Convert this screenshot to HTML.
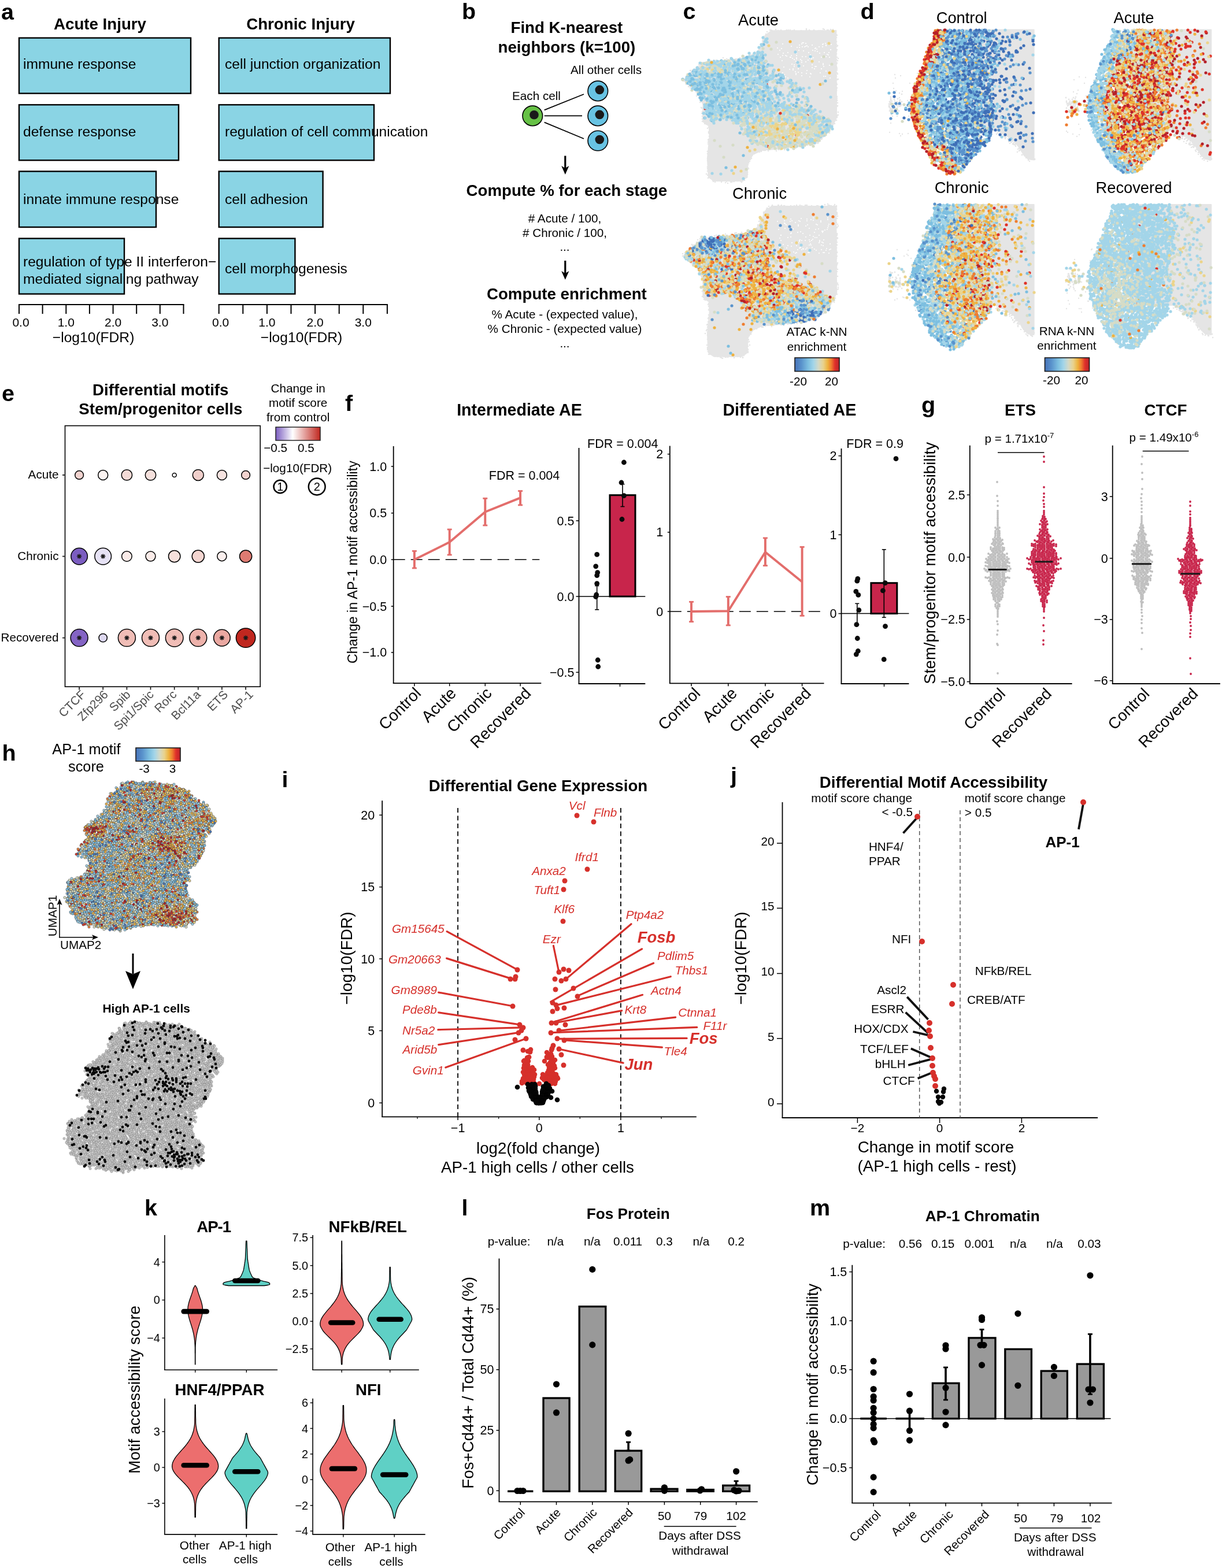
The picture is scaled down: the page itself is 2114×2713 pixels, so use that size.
<!DOCTYPE html>
<html lang="en"><head><meta charset="utf-8"><title>Figure</title>
<style>
html,body{margin:0;padding:0;background:#fff}
body{width:2114px;height:2713px;overflow:hidden}
svg{display:block;font-family:"Liberation Sans", sans-serif}
.d{fill:none;stroke-linecap:round}
.ma{fill:none;marker:url(#ma)}
.mb{fill:none;marker:url(#mb)}
.mc{fill:none;marker:url(#mc)}
.md{fill:none;marker:url(#md)}
.me{fill:none;marker:url(#me)}
.mf{fill:none;marker:url(#mf)}
.mg{fill:none;marker:url(#mg)}
.mh{fill:none;marker:url(#mh)}
.mi{fill:none;marker:url(#mi)}
.mj{fill:none;marker:url(#mj)}
.mk{fill:none;marker:url(#mk)}
.ml{fill:none;marker:url(#ml)}
.mm{fill:none;marker:url(#mm)}
.mn{fill:none;marker:url(#mn)}
.mo{fill:none;marker:url(#mo)}
.mp{fill:none;marker:url(#mp)}
.mq{fill:none;marker:url(#mq)}
.mr{fill:none;marker:url(#mr)}
.ms{fill:none;marker:url(#ms)}
.mt{fill:none;marker:url(#mt)}
.mu{fill:none;marker:url(#mu)}
.mv{fill:none;marker:url(#mv)}
.mw{fill:none;marker:url(#mw)}
.mx{fill:none;marker:url(#mx)}
.my{fill:none;marker:url(#my)}
.mz{fill:none;marker:url(#mz)}
.maa{fill:none;marker:url(#maa)}
.mab{fill:none;marker:url(#mab)}
.mac{fill:none;marker:url(#mac)}
.mad{fill:none;marker:url(#mad)}
.mae{fill:none;marker:url(#mae)}
.maf{fill:none;marker:url(#maf)}
</style></head><body>
<svg width="2114" height="2713" viewBox="0 0 2114 2713">
<rect width="2114" height="2713" fill="#fff"/>
<defs>
<linearGradient id="gRYB"><stop offset="0" stop-color="#4672b8"/><stop offset=".15" stop-color="#5a93cc"/><stop offset=".3" stop-color="#7dbfe0"/><stop offset=".42" stop-color="#a3d5e9"/><stop offset=".53" stop-color="#d3d9c8"/><stop offset=".64" stop-color="#e9d28c"/><stop offset=".74" stop-color="#edb23e"/><stop offset=".82" stop-color="#ee7d30"/><stop offset=".9" stop-color="#e0302a"/><stop offset="1" stop-color="#b8222a"/></linearGradient>
<linearGradient id="gPWR"><stop offset="0" stop-color="#7b5dc0"/><stop offset=".38" stop-color="#ffffff"/><stop offset="1" stop-color="#c0271f"/></linearGradient>
<marker id="ma" markerWidth="3.6" markerHeight="3.6" refX="1.8" refY="1.8" markerUnits="userSpaceOnUse"><circle cx="1.8" cy="1.8" r="1.3" fill="#e5e5e5"/></marker>
<marker id="mb" markerWidth="3" markerHeight="3" refX="1.5" refY="1.5" markerUnits="userSpaceOnUse"><circle cx="1.5" cy="1.5" r="1" fill="#fff"/></marker>
<marker id="mc" markerWidth="6.2" markerHeight="6.2" refX="3.1" refY="3.1" markerUnits="userSpaceOnUse"><circle cx="3.1" cy="3.1" r="2.6" fill="#df3228"/></marker>
<marker id="md" markerWidth="6.2" markerHeight="6.2" refX="3.1" refY="3.1" markerUnits="userSpaceOnUse"><circle cx="3.1" cy="3.1" r="2.6" fill="#ecd48a"/></marker>
<marker id="me" markerWidth="6.2" markerHeight="6.2" refX="3.1" refY="3.1" markerUnits="userSpaceOnUse"><circle cx="3.1" cy="3.1" r="2.6" fill="#7dbfe0"/></marker>
<marker id="mf" markerWidth="6.2" markerHeight="6.2" refX="3.1" refY="3.1" markerUnits="userSpaceOnUse"><circle cx="3.1" cy="3.1" r="2.6" fill="#d6dcc6"/></marker>
<marker id="mg" markerWidth="6.2" markerHeight="6.2" refX="3.1" refY="3.1" markerUnits="userSpaceOnUse"><circle cx="3.1" cy="3.1" r="2.6" fill="#a3d5e9"/></marker>
<marker id="mh" markerWidth="6.2" markerHeight="6.2" refX="3.1" refY="3.1" markerUnits="userSpaceOnUse"><circle cx="3.1" cy="3.1" r="2.6" fill="#eeb240"/></marker>
<marker id="mi" markerWidth="6.2" markerHeight="6.2" refX="3.1" refY="3.1" markerUnits="userSpaceOnUse"><circle cx="3.1" cy="3.1" r="2.6" fill="#b5202a"/></marker>
<marker id="mj" markerWidth="6.2" markerHeight="6.2" refX="3.1" refY="3.1" markerUnits="userSpaceOnUse"><circle cx="3.1" cy="3.1" r="2.6" fill="#3f6fb7"/></marker>
<marker id="mk" markerWidth="6.2" markerHeight="6.2" refX="3.1" refY="3.1" markerUnits="userSpaceOnUse"><circle cx="3.1" cy="3.1" r="2.6" fill="#5a93cc"/></marker>
<marker id="ml" markerWidth="6.2" markerHeight="6.2" refX="3.1" refY="3.1" markerUnits="userSpaceOnUse"><circle cx="3.1" cy="3.1" r="2.6" fill="#ee7d30"/></marker>
<marker id="mm" markerWidth="3.8" markerHeight="3.8" refX="1.9" refY="1.9" markerUnits="userSpaceOnUse"><circle cx="1.9" cy="1.9" r="1.4" fill="#e5e5e5"/></marker>
<marker id="mn" markerWidth="3.4" markerHeight="3.4" refX="1.7" refY="1.7" markerUnits="userSpaceOnUse"><circle cx="1.7" cy="1.7" r="1.2" fill="#e5e5e5"/></marker>
<marker id="mo" markerWidth="4.9" markerHeight="4.9" refX="2.5" refY="2.5" markerUnits="userSpaceOnUse"><circle cx="2.5" cy="2.5" r="1.9" fill="#bebebe"/></marker>
<marker id="mp" markerWidth="4.9" markerHeight="4.9" refX="2.5" refY="2.5" markerUnits="userSpaceOnUse"><circle cx="2.5" cy="2.5" r="1.9" fill="#c8254b"/></marker>
<marker id="mq" markerWidth="6.4" markerHeight="6.4" refX="3.2" refY="3.2" markerUnits="userSpaceOnUse"><circle cx="3.2" cy="3.2" r="2.1" fill="#ee8136" stroke="#30353f" stroke-width="0.55"/></marker>
<marker id="mr" markerWidth="6.4" markerHeight="6.4" refX="3.2" refY="3.2" markerUnits="userSpaceOnUse"><circle cx="3.2" cy="3.2" r="2.1" fill="#dfe3c4" stroke="#30353f" stroke-width="0.55"/></marker>
<marker id="ms" markerWidth="6.4" markerHeight="6.4" refX="3.2" refY="3.2" markerUnits="userSpaceOnUse"><circle cx="3.2" cy="3.2" r="2.1" fill="#f0b544" stroke="#30353f" stroke-width="0.55"/></marker>
<marker id="mt" markerWidth="6.4" markerHeight="6.4" refX="3.2" refY="3.2" markerUnits="userSpaceOnUse"><circle cx="3.2" cy="3.2" r="2.1" fill="#f0d684" stroke="#30353f" stroke-width="0.55"/></marker>
<marker id="mu" markerWidth="6.4" markerHeight="6.4" refX="3.2" refY="3.2" markerUnits="userSpaceOnUse"><circle cx="3.2" cy="3.2" r="2.1" fill="#4a78bc" stroke="#30353f" stroke-width="0.55"/></marker>
<marker id="mv" markerWidth="6.4" markerHeight="6.4" refX="3.2" refY="3.2" markerUnits="userSpaceOnUse"><circle cx="3.2" cy="3.2" r="2.1" fill="#d93a2a" stroke="#30353f" stroke-width="0.55"/></marker>
<marker id="mw" markerWidth="6.4" markerHeight="6.4" refX="3.2" refY="3.2" markerUnits="userSpaceOnUse"><circle cx="3.2" cy="3.2" r="2.1" fill="#b02024" stroke="#30353f" stroke-width="0.55"/></marker>
<marker id="mx" markerWidth="6.4" markerHeight="6.4" refX="3.2" refY="3.2" markerUnits="userSpaceOnUse"><circle cx="3.2" cy="3.2" r="2.1" fill="#7dbfe0" stroke="#30353f" stroke-width="0.55"/></marker>
<marker id="my" markerWidth="6.4" markerHeight="6.4" refX="3.2" refY="3.2" markerUnits="userSpaceOnUse"><circle cx="3.2" cy="3.2" r="2.1" fill="#a3d5e9" stroke="#30353f" stroke-width="0.55"/></marker>
<marker id="mz" markerWidth="6.3" markerHeight="6.3" refX="3.1" refY="3.1" markerUnits="userSpaceOnUse"><circle cx="3.1" cy="3.1" r="2.1" fill="#c6c6c6" stroke="#777" stroke-width="0.5"/></marker>
<marker id="maa" markerWidth="5.8" markerHeight="5.8" refX="2.9" refY="2.9" markerUnits="userSpaceOnUse"><circle cx="2.9" cy="2.9" r="2.4" fill="#0a0a0a"/></marker>
<marker id="mab" markerWidth="9.6" markerHeight="9.6" refX="4.8" refY="4.8" markerUnits="userSpaceOnUse"><circle cx="4.8" cy="4.8" r="4.3" fill="#d6302b"/></marker>
<marker id="mac" markerWidth="9.6" markerHeight="9.6" refX="4.8" refY="4.8" markerUnits="userSpaceOnUse"><circle cx="4.8" cy="4.8" r="4.3" fill="#050505"/></marker>
<marker id="mad" markerWidth="10" markerHeight="10" refX="5" refY="5" markerUnits="userSpaceOnUse"><circle cx="5" cy="5" r="4.5" fill="#d6302b"/></marker>
<marker id="mae" markerWidth="9.4" markerHeight="9.4" refX="4.7" refY="4.7" markerUnits="userSpaceOnUse"><circle cx="4.7" cy="4.7" r="4.2" fill="#050505"/></marker>
<marker id="maf" markerWidth="11" markerHeight="11" refX="5.5" refY="5.5" markerUnits="userSpaceOnUse"><circle cx="5.5" cy="5.5" r="5" fill="#d6302b"/></marker>
</defs>
<g id="pa">
<text x="2" y="33.5" font-size="39.5" font-weight="bold">a</text>
<text x="173" y="51" font-size="27.7" text-anchor="middle" font-weight="bold">Acute Injury</text>
<text x="520" y="51" font-size="27.7" text-anchor="middle" font-weight="bold">Chronic Injury</text>
<rect x="33" y="65.6" width="297" height="96" fill="#8ad4e4" stroke="#000" stroke-width="2.4"/>
<rect x="378.7" y="65.6" width="296.3" height="96" fill="#8ad4e4" stroke="#000" stroke-width="2.4"/>
<rect x="33" y="181.3" width="276" height="96" fill="#8ad4e4" stroke="#000" stroke-width="2.4"/>
<rect x="378.7" y="181.3" width="268.3" height="96" fill="#8ad4e4" stroke="#000" stroke-width="2.4"/>
<rect x="33" y="296.5" width="237" height="96.5" fill="#8ad4e4" stroke="#000" stroke-width="2.4"/>
<rect x="378.7" y="296.5" width="179.9" height="96.5" fill="#8ad4e4" stroke="#000" stroke-width="2.4"/>
<rect x="33" y="412.6" width="182" height="96" fill="#8ad4e4" stroke="#000" stroke-width="2.4"/>
<rect x="378.7" y="412.6" width="131.7" height="96" fill="#8ad4e4" stroke="#000" stroke-width="2.4"/>
<text x="40" y="119" font-size="24.6">immune response</text>
<text x="40" y="236" font-size="24.6">defense response</text>
<text x="40" y="353" font-size="24.6">innate immune response</text>
<text x="40" y="461" font-size="24.6">regulation of type II interferon−</text>
<text x="40" y="491" font-size="24.6">mediated signaling pathway</text>
<text x="389" y="119" font-size="24.6">cell junction organization</text>
<text x="389" y="236" font-size="24.6">regulation of cell communication</text>
<text x="389" y="353" font-size="24.6">cell adhesion</text>
<text x="389" y="473" font-size="24.6">cell morphogenesis</text>
<line x1="32" y1="527" x2="318.5" y2="527" stroke="#000" stroke-width="2"/>
<line x1="33" y1="527" x2="33" y2="543" stroke="#000" stroke-width="2"/>
<line x1="73.6" y1="527" x2="73.6" y2="543" stroke="#000" stroke-width="2"/>
<line x1="114.3" y1="527" x2="114.3" y2="543" stroke="#000" stroke-width="2"/>
<line x1="154.9" y1="527" x2="154.9" y2="543" stroke="#000" stroke-width="2"/>
<line x1="195.6" y1="527" x2="195.6" y2="543" stroke="#000" stroke-width="2"/>
<line x1="236.2" y1="527" x2="236.2" y2="543" stroke="#000" stroke-width="2"/>
<line x1="276.8" y1="527" x2="276.8" y2="543" stroke="#000" stroke-width="2"/>
<line x1="317.5" y1="527" x2="317.5" y2="543" stroke="#000" stroke-width="2"/>
<text x="36" y="565" font-size="21" text-anchor="middle">0.0</text>
<text x="114.3" y="565" font-size="21" text-anchor="middle">1.0</text>
<text x="195.6" y="565" font-size="21" text-anchor="middle">2.0</text>
<text x="276.8" y="565" font-size="21" text-anchor="middle">3.0</text>
<text x="161.6" y="591.5" font-size="24.6" text-anchor="middle">−log10(FDR)</text>
<line x1="377.7" y1="527" x2="670.9" y2="527" stroke="#000" stroke-width="2"/>
<line x1="378.7" y1="527" x2="378.7" y2="543" stroke="#000" stroke-width="2"/>
<line x1="420.3" y1="527" x2="420.3" y2="543" stroke="#000" stroke-width="2"/>
<line x1="461.9" y1="527" x2="461.9" y2="543" stroke="#000" stroke-width="2"/>
<line x1="503.5" y1="527" x2="503.5" y2="543" stroke="#000" stroke-width="2"/>
<line x1="545.1" y1="527" x2="545.1" y2="543" stroke="#000" stroke-width="2"/>
<line x1="586.7" y1="527" x2="586.7" y2="543" stroke="#000" stroke-width="2"/>
<line x1="628.3" y1="527" x2="628.3" y2="543" stroke="#000" stroke-width="2"/>
<line x1="669.9" y1="527" x2="669.9" y2="543" stroke="#000" stroke-width="2"/>
<text x="381.7" y="565" font-size="21" text-anchor="middle">0.0</text>
<text x="461.9" y="565" font-size="21" text-anchor="middle">1.0</text>
<text x="545.1" y="565" font-size="21" text-anchor="middle">2.0</text>
<text x="628.3" y="565" font-size="21" text-anchor="middle">3.0</text>
<text x="521.5" y="591.5" font-size="24.6" text-anchor="middle">−log10(FDR)</text>
</g>
<g id="pb">
<text x="799" y="32.6" font-size="39.5" font-weight="bold">b</text>
<text x="980.4" y="57.4" font-size="27.7" text-anchor="middle" font-weight="bold">Find K-nearest</text>
<text x="980.4" y="91.3" font-size="27.7" text-anchor="middle" font-weight="bold">neighbors (k=100)</text>
<text x="987" y="128" font-size="20.7">All other cells</text>
<text x="886" y="172.6" font-size="20.7">Each cell</text>
<line x1="941.7" y1="190.4" x2="1010" y2="163" stroke="#000" stroke-width="1.8"/>
<line x1="941.7" y1="200.4" x2="1007" y2="200.4" stroke="#000" stroke-width="1.8"/>
<line x1="941.7" y1="211.7" x2="1010" y2="240" stroke="#000" stroke-width="1.8"/>
<circle cx="921.3" cy="200.4" r="17.3" fill="#66c146" stroke="#000" stroke-width="1.6"/>
<circle cx="924" cy="198.7" r="7.8" fill="#1a1a1a"/>
<circle cx="1034.3" cy="157.4" r="17.3" fill="#68c3e3" stroke="#000" stroke-width="1.6"/>
<circle cx="1037.3" cy="155.4" r="7.8" fill="#1a1a1a"/>
<circle cx="1034.3" cy="200.4" r="17.3" fill="#68c3e3" stroke="#000" stroke-width="1.6"/>
<circle cx="1037.3" cy="198.4" r="7.8" fill="#1a1a1a"/>
<circle cx="1034.3" cy="243.5" r="17.3" fill="#68c3e3" stroke="#000" stroke-width="1.6"/>
<circle cx="1037.3" cy="241.5" r="7.8" fill="#1a1a1a"/>
<line x1="977.8" y1="269.6" x2="977.8" y2="291" stroke="#000" stroke-width="3.2"/>
<path d="M977.8 302L971.2 287L977.8 291L984.4 287Z" fill="#000"/>
<text x="980.4" y="339" font-size="27.7" text-anchor="middle" font-weight="bold">Compute % for each stage</text>
<text x="977" y="384.8" font-size="20.7" text-anchor="middle"># Acute / 100,</text>
<text x="977" y="409.6" font-size="20.7" text-anchor="middle"># Chronic / 100,</text>
<text x="977" y="434" font-size="20.7" text-anchor="middle">...</text>
<line x1="977.8" y1="451" x2="977.8" y2="473" stroke="#000" stroke-width="3.2"/>
<path d="M977.8 484L971.2 469L977.8 473L984.4 469Z" fill="#000"/>
<text x="980.4" y="518" font-size="27.7" text-anchor="middle" font-weight="bold">Compute enrichment</text>
<text x="977" y="551" font-size="20.7" text-anchor="middle">% Acute - (expected value),</text>
<text x="977" y="576" font-size="20.7" text-anchor="middle">% Chronic - (expected value)</text>
<text x="977" y="601" font-size="20.7" text-anchor="middle">...</text>
</g>
<g id="pc">
<text x="1181.5" y="32.6" font-size="39.5" font-weight="bold">c</text>
<text x="1312" y="43.5" font-size="27.3" text-anchor="middle">Acute</text>
<text x="1314" y="343.5" font-size="27.3" text-anchor="middle">Chronic</text>
<path d="M1334.9 53.3L1446.2 53.3L1447.1 203L1440.1 218L1430.7 229.3L1411.9 248.1L1376.2 253.7L1348 257.5L1319.8 259.4L1302.9 266.9L1293.5 280.1L1292.5 306.4L1282.2 313L1235.2 313L1225.8 306.4L1223.9 274.4L1227.7 236.8L1226.7 218L1216.4 210.5L1216.4 180.4L1205.1 157.8L1182.6 139L1197.6 124L1216.4 109L1254 105.2L1291.6 99.6L1310.4 90.2L1317.9 77L1323.6 61.6Z" fill="#e5e5e5" stroke="#e5e5e5" stroke-width="2" stroke-linejoin="round"/>
<path class="ma" d="M1332 52l2 1 0-1 1 1 1 0 6 1 0-3 3 2 1 0 1 0 0 1 1 0 3-2 1 2 5 0 2-1 1 1 1-2 1 1 2-1 1 2 2-2 4 2 0-1 2 1 1-2 3 2 8 0 1-1 3 1 4 0 2-2 0-2 3 4 2-2 1 1 2 1 3 0 2-2 1 1 5 1 2-1 2 0 1 1 1-1 1 1 2-1 1-3 2 1 5 1 2 0 3 2 1-3 1 1 1 1 2-2 2 3 3-1 0 2-1 0-3 1-11-1-4 0-16 0-2 0-7 1-14-1-1 1-4 0-4 0-1-1-1 3-12-1-32-1-6-1-2 4-4 4 4 0 3-3 1 1 2 1 113-2 1 0 1 3 1-3 1 1-1 4-2 2-1 2-120-3-4 2 0 1 0-3-1 5 2 0 124 2 1 0 1-1 2 7-2-2-2-2-126 2-1 1-1-2-3 6 2 2 0-1 1-1 127 0 3-2 1 0 0 6-1 1 0 2-1-2-132-1-2 1-1 2-8 4 0 1 3-1 0-2 0-1 4 1 1-1 133 3 2-3 0 4 1-1 1 6-5-3-141 0-1 3-2-3-1-1-1 0-3 2-5 2-2-2-2 1-50 6 4 0 12-4 6 2 2 1 3 1 4 0 5-1 2-1 2 2 0-1 5-3 1 2 5-1 2 0 1 1 2 2 154-3 2 2 3-2-1 4-1 4-1 0-3-3-166-1-9 0 0 0-4 0-2 0-7 1-3-1-1 1-1 0-2 0-2 2-2-3-3 3 0-1-5-2-1 1-3 0-3-1 0 4-3-3-2 1-1 2-7-1-2 1-1-1-5 4 5 0 0-1 4 0 3-1 2 0 7 0 216 4 1-3 1 7-1-3 0 1-240 2 0-3-1 1 0 0-1 3-1 0-10 3 1 0 3-1 2 1 4-2 240 3 2 1 2-3 1 7-1-2-2 0-250 0-1-1-2 4-2-1-4 4 1 1 2-2 255 3 0 0 1-3 1 1 3 5-1 0-1 1-2 1-257-3-1 0-1 2-2 1-3 1 1 0 1 0 3 3 2-2 257 3 1 0 1 2-2 0 0 2-251 1-3 0-1-3-4 0 0-1 4 5 3 2 3 1 0-3 3 3 247 1 1-2-1 4 0 1-1-2 0 1-2 1-239-2 0 1-1 3-3-4 0 0 6 8 1-3 238 4 2 3-1 1-234 1-3 0 0-4-1 0-4 1 5 5 3 2 231-3 1 1 2 2 1-3 0 3 0 1 1 4-2-1-1 2-229-3-4 0 0-1-2 2 6 3 1 1 230 3 0-1 1 0-3 5 0-2-1 3-228-4-1 4-2-2-1-1 2 7 2-1 0-2 228 1 1 2 1 0 3 1 0 5-1 0-4 0-227 0-1-1 0-1-3-1 1 5 1 3 230 0 2-3 0 2-1 5-1 0-3 1-224-3-1 3-3-3 0 4 1 0 3 4 0-2 1 2 221-2 0 0 1-1 2 3-5 1 0 4-212-2 0 0-5-2 2 7 2-2 2 4 0 0 0 0 205-2 0 1 5-3 1 0 0 2-4 3-2 4-5 0-200-4-2 3 0 2 1 1 1 3 199 0 1-1 1 0 6-3-8 5 0 1 0 0-3 1-2 2-194 0 0-2-1-1-2 6 1 2 0-3 190 3 3 0 2-3 1-1-6 6-1 2-3-1-2 2-1 0-1-2-5 1 0 0-11 0-9 0-152-2-4 3-2 0 0-3 2 7 139 1 3-1 1 0 0 1 8-1 2 1 1-2 0 1 7-2 4-1 0 1 1 2 4-2 1-1 4 0 1 1 3 0-19 4-10 1-1 0-2 0-2-1-11 3 0-1-1 0 0 1-3 1-3-3-1 1-3-1 0 3-2-4-1 1 0 3-3-4-2 3-1-2-4 2-2 0-2-2-1 0-3 1 0 0-9 0-6 2-87-4-1 1 0 0-2 6 0 0 2-2 3 1 74 3 7-2 1 0 1 0 2 1 3-1 1-2 3 0 2 0 0 0 1 0 5 1 14 0-38 5-2-1-2 2-1 2-72 0-2-3-2 0 0 8 1-1 0-1 0-2 74 0 0 0 0 2 1 2-2 2-1 3 0-4-72 3-1 0 1 3 1 2 0-2 69-1 0 2 0 0-1 3-2 2-64-2-3 0-1 4 0 0 0 3 1 1 66 0 2-2 0 2 1-3 1 2-2 6 0 0-4-1-61 2-2-4-2 1-2 5 2 2 2 0 1-3 2 4 64-3 0 1-1 4 0 1-1-1 0 0-3 3-2-1-14 1-41 0-1 0 0-1-5 0 8 4 1 2 0-1 1-1 6 1 2-1 1 1 1-1 3 0 2 1 3-1 1 0 1 0 2 1 0 1 4-1 7-3 1 4 1-3 0 3 5-1 1 0 1-1 5 0 0 2 3-1 3-1-5 3-17 0-2 0-5 2-4-1-7-1-11 0"/>
<path class="mb" d="M1388 74l2 0 48 3-4-2-5 3 0 1-1-4-4 1-1 1-18 1-9 1-2-4-7 1-4 2-29-2-9 7 7 1 17-4 10 2 4 0 5-1 4 0 2-1 4 1 12 3 1-1 6-2 6 0 14 5 0 0-23 3-1-4-3 3-4-1-16 1-8-1-33 0-3 7 9-2 8-1 15 1 21-1 19 1 8-1 5 3 3-3 1 8-2-4-4 3-8 1-19-4-8 3-6 0-10-2-9 0-1 3-1 0 0 0-6-2-2-1-5 0-4 3 21 2 3 2 4-1 0-2 7 3 13 1 3-3 3-1 0 2 3-2 10 7-23 0-7-2 0 3-10-2-24-1 17 6 4 1 16 2 15-2 19 0 0-2 11 3-10 2-4 4 0 0-9-4-2 0-1 4-4-2-24 2 0 0-7-4-2 4-16-3 10 4 6 1 4 3 20-2 33 1-10 3-16 2-1-1-7 0-8-1-6-1-4 2 0 2-20 0-3-3 1 6 4 1 28-2 14 2 24-1 3 0 8 3-73 0"/>
<path class="mc" d="M1315 129l78 62 26 13-41 30-50 19"/>
<path class="md" d="M1330 79l75 27-170 8 0-4 18 3 21 10 39 37 57 29-59 7 38 7 21-2 33 3 10 1-11 1-54 4 32 3 19-1 4 4-16 2-3-2-14 1-25 2-5-4-32 2 26 3 6 0 5 4 5-1 3 1 14-2 17 0 17-1 5 3 23 5-13 0-2-1-3 1-37-4-8 2-10 2-9-3 0-1-7 0-27 3-9 6 2-2 36 0 3-2 27 2 5-2 20 1-27 5-9-1-12 1-36-1 4 6 34 2 11 1 42 1-4 2-14-1-42 0-4 3-5-3-18 2 8 4 44 2-17 3-55 4-15 35"/>
<path class="me" d="M1321 77l-11 20 0 4-17 5 2 8 6-3 17 0-32 8-87 5 3-2 21 0 94 2 1 0 20-1-18 6-71-4-12 2-19 2-2-3 0 1-4 1-17 3 8 0 4 0 4 3 4-3 1 3 9-4 34 1 13-1 45 2 51 7-13-4-32 2-19 0-10 0 0 0-3 0-24 2-9-4-1 0-30 4-4-3-10 1-19 1-2 2 1 4 5-2 0-1 2 0 17 0 3 1 17 2 4-2 4-1 51 3 8-4 19 5-30 0-18 2-22-1-13 1-18-2-1 2-10 0-2 1 7 2 1 2 15-2 3 1 1 2 13-2 2 1 4 2 8-1 3 0 6-3 2 1 6-1 19 1 9 2 67 6-33 0-64-3-20 3-6-1-15-3-1 0-11 3-2 0-5 1 13 5 15-4 10 3 6-2 15 0 25 0 15 0 4 3 3-2 71 7-80 0-9-2-44-2-2 0-19 2-1 0-22 1-5 5 43 0 21 0 54-1-10 5-15 0-1 0-7 1-8-3-1 4 0-2-54 0 31 3 4 0 28 4 58-3 17 1 27 6-105-1-63 2-11-1 5 4 7-2 1 3 125-2 19 1-48 4-81 1-17-1-7 2-2-1 85 7-19 5-9 21 6 39-30 21"/>
<path class="mf" d="M1334 85l91 13-108 11-26-3-12 2-23 1-2-4-2 2-6 1-32 2 4 0 8 1 9 3 1-3 5 3 2 0 3-1 3-2 32 3 16 0 26 4-58-3-19 0-5 1-10-1-1 3-6 1-8-1-1 2 29 4 2-4 9 4 21-2 21 0 30 0 12 0-40 5-72-1-6 0-9-1 104 5 17 6-10 2-47-3-51 1-37 7 68 0 45 0 14 0 62 6-81-4-10 3-17 1-25-3 70 5 2 1-75 4 102 13-85 0-14-1 19 2 29 1 15 0 5-1 4 2 20-1 59 6-139 2 27 4 20-3 22 1 35 1 21 0 16-1-31 8-30-2-55 2-23-4-18 8 9 1 12-2 2-1 5 0 11 3 0-4 14 3 10-3 5 1 6 1 8 0 0 1 15-1 28-1 4 0 13 2 5-1 4 1 13 2-8 2-1 2-6 0-5-1-1-2-19 0-1 3-6-4-36 0-7 2 0-2-5 4-9-2-1 1-54-1-2 2-7 0 0-2-2 1 8 2 5 3 4 0 4-1 12 0 26 1 31 0 1-1 7 2 1-2 4 2 39-4 0 1 18-1 11 2 12-1 16 5-1 1-2 0-22 2-17-2-7 1-1-1-2 0-11 2-4-2-1 1-1-3-6 0 0 4-10-1-15-2-12 1-34 1-49-1 38 3 6 0 4 2 4-1 15 3 11-1 3-3 1 2 14 2 9-3 11 3 7-1 1-3 8 0 4 4 13-1 17 1 9-3 10 3 12 5-4-2-17 0-21 2-6 0 0 0-1-2-31-2-7 2-32-1-1 1-11 2-3-2 0-1-14 0 14 4 3 1 4 2 4-1 15-2 11 4 8-1 1 1 4 0 5-1 8 0 5 0 10-2 7-1 8 0 13 0 2 0 5 2 3 0 17 4-2 2-20-2-4-1-6 4-31-3-9 3-4 0-7-4-1 1-11-1-42 0-1 2-2 3 18 2 13 1 11-2 2 0 3 1 7 0 11 1 33 0 10-1 4 2 14-3 8 2-20 2-6 3-5 0-18-3-3 4-8-2-33 2-1-4-3 4-13 0 0-4-1 1 0 2-3-2-2-1-13 2 3 7 29-1 4-2 3 0 3 3 31-1 29-2 2-1 1 2 5 1 0-1 6 1-13 2-7 2-1-1 0 1-12 0-1 0-26 1-13 1-1-1-3-2-11 0 0 2-11-1-1 0-13 0-34 4 43-1 10 1 11 2 1-1 4 0 21 2 4-2 14 1 1-3 15 1 15 2-34 4-42 0"/>
<path class="mg" d="M1323 72l4 1-10 4-21 15 15 1 8-2 83 7-78-3-14 4 0-3-8 3-1-1-5 0-31 3 1 1 13 1 7-1 3-1 2 1 10 0 8-1 3 2 4 0 2 1 4 5-6-2-21-2-9 1-30 3-10 0-3-2-11 4 1 0 1 2 2 1 4-2 15 0 1 0 5 1 1-3 0 1 14 1 4 1 0-1 2 0 7 0 3 2 4-1 4 0 19-1-18 6-13-1-20 0 0 2-42-1-8 0-13 5 8-1 8 2 22 0 3 0 3 0 1-3 6 0 1 2 27 0 9 1 10-2 0-1 13 3 4 2-6 1-7 1-7-1-3 0-10 1 0 0-7 0-2 0-3 0-2 1-30-1-8-3-6 4-4 0-21-1-5-2-6 7 16-2 6 2 10-1 5 1 30 1 8-4 5 4 2-3 10 3 9-4 24 0 30 0 5 1 1-1 1 3-8 5-17-3-4 4-14-2-5-2-4 1-4 2-1-3-4 4-16-1-13 0-15-3-15 3-2 1-6-2-9 0-1 2-14-1-8 0-2 6 4-1 15 0 14 0 0-1 5 0 3 0 2 2 15 0 22-4 0 2 8-2 15 2 17 2 0-4 2 0 12 2 39 1 4 3-46 3-8-4-2 0-10 2-4-1-1 2-5-1-13 1-16-3-1 4-1 0-14 0-3-4-1 3-11 1-25-1-15-3 19 9 10-4 6 2 17-1 16 3 5 0 1-2 12 0 4 0 1 0 1-2 11 4 25-3 3 0 54 2 11 0-9 4-1 2-4-3-1 3-76-4-12 0-1 3-11-2-12 2-28-1-1 2-14 0-6-4-5 4 5 5 3-1 3-2 22 2 10-3 9 1 8-1 5 0 1 3 2 1 9-4 4 1 1 3 3 0 8 0 6 0 0-3 7 0 2 3 2-1 12 1 18-3 5 3 42 5-7-2-26-1-11-1-6 3-1 0-14-3-12 4-12-1 0-3-7 1-7 1-3 1-22 0-11-3-4 4-6 0-13-3-4 0-13 2-3-2 27 8 13-1 2-2 4 1 8 2 8-3 5-1 0 1 7 1 8 0 0-2 2 3 11-1 1 2 7 0 2-4 46 4-8 3-17-1-7 2 0-2-23-1-22 4-9-1-10-1-10-2-9 2-5 0-6 0-2 2-9-1-1-3-3 4 16 5 4 0 35-1 5 0 14-3 2 2 39 1 13-1 17-2 32 7-17 2-4-3-7 3-6-3-24 1-27 2-10-4-1 0-2 4-17-1-7-3-3 4-19-1-18 0-16-3-2 0 5 5 2 2 1 1 2-1 4-1 8 1 9 2 6-4 18 1 16 3 14-3 2 1 12 1 23 0 11-1 2 2 13-1 10-1 2 1 11-3 7 1 11-1 9 3-23 6-48-1-21-3-11 2-14-1-11 3-4-2-5 1-2 0-7-2-3 0-10-1-11 0-3 0-10 4-19-3 14 7 2-1 2 1 3-1 19 1 3 0 3-3 1 3 11-2 24 1 3-2 26 3 3 0 22-3 13 2 24 0 20-1 2-1 19 8-14-3-9 0-18 2-66-2-9 1-13-1-19 4-12-3-14 1-23-2-4 3 5 5 82-1 0-1 44 1 62-2 8 0 4 6-16 1-2 1-29 1-19-4-54 1-21 3-12-1 16 6 85 0 21-3 27 1-3 3-1 3-8-3-2 1-3-1-90 3-15 0 0-1-9 2-8-1 0 2 0 1 17 0 19-1 87 0-117 13 7 1 32-3 64 3 15-2-7 5-61 3 26 1 4 2-92 56"/>
<path class="mh" d="M1419 146l-60 68 4 14-26 16 68 0-31 9-81 2-21 34"/>
<path class="me" d="M1319 96l-3 2-24 3 15 3 18 2-13 2-26-2-2 1-26 0-10-2 5 5 37 2 7 1 15 1 17-2-8 3-1 4-44-2-5-2-13 3-28-2-23 3 54 5 24-3 6-1 8 4 13-1 2 0 2-1 32 7-30-2-32 2-23-2-5 1-10-2-3 0-11 1-17 0-1 0-5 2-5-1-1-3-16 8 5-3 6 1 13 2 15-2 1 1 40 2 4 0 42-2 2-1 12 7-12-3-2 0-40 1-7 1-6 1-10-2-11 0-6 1-15-1-21 1-18 0 9 7 16-1 6 0 4 0 0 1 9 0 2-4 19 1 21 1 9-2 3 3 7-2 16 2 3-3 1 1 3 2 8-3 5 3 1-1 22 1 5 0 78-3-146 8-39-1-16 2-2 0-3-2-2-2-5 0-9 3-4-2-3 0-4 1 24 4 15 0 7-1 6 1 4 2 3-2 5-1 3 2 17 0 9-1 19 0 16 0 62 4-60 2-11-1-7 0-27-1-3 2-21-1-2 3-4-1-4-1-3 1-7 1-3-2-4 1-10-1-1 2-6-3 94 5 28-1 10 3 5 0-55 4-16-1-6-1-3 4-1-4-8 4-12-1-5-1-19 7 8-1 8-2 15 2 0 0 2 0 15-3 3 4 15-2 23 0 66 0-44 7-35-4-1 0-50 0-14 2-6 2 16 2 0 1 4-2 2 1 2-1 8 1 17 3 4-4 11 4 53-1 49-1 8 2-119 3-16-1-3 0-33 1-5-1 17 5 12 2 79 0 2-2 66 6-107 0-10-1-14-1-43 4-10 5 74 0-61 5 203 2"/>
<path class="mh" d="M1347 121l88 5-237 21 25 33 104 32-15 21 54 3-6 6"/>
<path class="mc" d="M1326 146l-106 42 177 12-90 6"/>
<path class="md" d="M1441 54l-226 62 33 6 41 44 66 25 16 8-95-2 44 7 6-1 24-2 37 2 36 3-67 0-3 0-5 3-35 0-35-3 41 7 11-1 5-1 7 3 5-4 23 3 33-1-23 7-13-2-24 0-11 1-28 3 36 0 13-1 32 3 41-3-5 8-37-1-5 2-3-4-7 4-6-3-9 1-22-1-31 5 30-1 6 1 2 0 23-1 6 0 1 3 11 0 2 0 15 3-35 0-2 0-10 3-12-3-6 2-14-2 46 8 42 0 0 2-15 1-20-1-16-1-2 0-6 3 38 4-54 3"/>
<path class="mg" d="M1325 68l0 1-7 10-13 13 9-1 5-1 57 0-60 9-1 0-89 5 62-2 11-2 15 0 66 8-59 1-44-1 0-1-3 0-11 2-9-2-1 0-16 2-2-3-16 4 11 3 16 0 4-3 9 3 27-2 20 3 13 0 17-1-9 2-11 4-5-2-20 2-1-3-13 1-8-2-3 3-6-2-3 2-1-3-11 0-6 7 5 2 18-2 6 1 5 0 1-3 2 1 3-1 17 2 0 0 6-1 0 0 5-1 9 0 21 7-10-2-2 2-5-2-5 2-6-1-3 3-5-2-10 1-2 0 0 1-5-3-20 2-9-2-6 1-6-1-26 0-10 2-19 6 28-4 6 1 6 0 3 2 1-1 6-2 2 2 1-2 1 3 8 0 9 0 7-2 2 0 13 1 1-2 0 2 18-2 23 4 3-1 7-2 34 8-25 0-6-3-3 1-7 2-5 0-2-4-3 2-4-2-3 2-26 2-1-1-11 0-8-2-7 0-9 1-5 0-23 2-12-1-11 1 0-3 2 5 8 0 1 0 3 0 5 3 42 0 5-4 4 4 5-4 11 2 1 2 1-4 7 2 11 2 5-2 18 0 17-2 10 1 10 0 4 0 5 3-48 2-4 0-32-1-2 0-3 3-3-1-3 1-1-3-4 1-9 3-7-1-1-3-2 0-4 1-45 3-3 1 3 1 9-1 4 4 30-4 1 3 1 0 9 1 11 0 10-1 11 0 0-2 3 3 9-4 7 3 14-1 4-2 0 4 1-1 13-1 2-2 29 1 6 8-3 0-33-3-5 3-7-3-1 1-1 2-6 0-12-4-3 0 0 2-16-2 0 0-7 4-31-3-4-1 0 4-6-2-1-2-7 3-14-3-9 4-6-4 7 9 15-4 0 3 10-2 2 3 16 0 30 0 7-2 4 1 5 1 4-2 9-2 1 3 4-2 2 3 1-2 44 1 1-3 70 8-59-2-56 0-23 0-3 1-3 1-15-3-39 0-10 3-1 6 4-2 2 1 23-2 5 2 5-2 5 1 1 0 4-1 1 3 3-2 9 0 30 1 11-3 6 1 11 2 8-3 8 2 23 5-57 0-3-1-8-1-11 4-3-2-2 2-5-1-16-3-9 0-16 3-23-2-3-1-2 4 2 1 1 0 6 2 1 1 17-3 3 2 15-2 7 2 7-2 8 2 0 1 3-3 2 1 4 0 8 1 2-1 4 0 6 1 1-2 0 3 0 1 16-1 0-1 8 0 6 1 6 2-8 1-21-1-12 3-2 1-12-4-3 3-18 1-6-2-3 2-13-1-12-1-7-1-3 0-4 0-16 6 11 2 1 0 27-3 3-1 26 4 1-2 14-1 19-1 15 3 27 1 19-3 14-1 7 2 1 1 5 5-26 0-6-2-13-1 0 2-1 0-16-1-17 0-2 2-22-1-7-2-3 2-24 0-3 1-8-1-5-1-3 1-28 0-1 2-9-3 15 8 4-4 14 4 14-3 5-1 8 3 0-2 22 0 96 0 12 1 5 1 8 0 1 6-21-2-8 0-27-1-21 0-15 1-25 1-26-3-7 3 0 1-5-1 7 3 3 2 12-3 11 4 4-2 1-1 16 2 103-3 11 1 1-1-2 6-3 0-5 3-19-4-30 4-58-2-1 2-36-1 8 6 55-4 33 4 62-1-10 2-1 4-1-3-112 0-27 5 109 1 11 0 6 0 10 2-5 2-1 1-3-1-14 5 9 2-3 2-20 4-9-4-26 1-33 1-19 1 24 5 15-3 12 2 8 1 29 2-26 4-116 42"/>
<path class="mf" d="M1316 97l-16 3 3 0-18 5-24 1 0-1-4 4-15-1-8 5 39-2 1 0 19 4-36 3-2 1-17-4-7 2-9 1-9 0 18 3 11-1 3 3 8 0 62-3 1 7-126 2 80 5 8-1 5-1 16 3-75 1-21 6 100 1 12-2 2 1 23-2 83 5-48 2-32 2-40-4-6 0-23 3-52-3 3 5 49 3 18-2 6 2 67-1 6 0-164 3-10 1 98 5 18 3 12-4 44 0-42 7-11 1-37 1-4-4-14 1-8 0-4 2-23-1 20 7 18-4 63 9-6-1-24 0-41-3-5 4 74 1 11 3 9-2 16 2 15 0 17 0-9 3-5 2-21-3-20 4-1 0-3 0-19-1-8 1-16-2 0-1-20 2-40-3 37 5 6 2 58-2 20 4 9 0 10-3 6-1 1 2 19-2 7 2 0-2-25 9-4-4-4 4-6-2-12-2-12 2-12-2-2 3-15 0-20-1-5 2-18-2-34 7 6-4 9 2 1 0 35 2 6 0 23 0 3-3 11 0 15 2 11-2 0 0 6 1 16 0 26 2 9-4 3 3 7 0 1-1-29 7-12 0-11-3-4 2-23 1-2-2-12-1 0 3-20-4-18 4-3-2-1-1-1 0-4 0-1 0-13 7 11-3 8 3 35-3 9 1 1 1 2 0 3 0 4-2 28 0 15 3 1 1 3-3 1 3 13-4 6 0 7 0 5 6-8 0-11 0-16-1-2 3-4 1-1-3-7 1-18-2-17 0-1 0-18 1-9 1-3 2-20-4-3 1 0 1 18 6 7-2 4 2 6 0 12 0 1-1 6 2 19-2 17-1 8 1 20 2 4-1 15-1 1 2 14-2-15 3-8 4-5-3-39 2-4-3-6 3-2-3-15 2-7-1-19 2-3 1-7-1-11-3 1 9 2-1 1-3 3 2 5-2 4 3 26-2 2 3 1-2 1 1 5 0 41-3 5 0 12 0 17 2 1 1 5-1 0-1-11 7-15-1-2 1-11-1-17 2-32-4-4 2-1-2-16 3-23-3 6 7 19-1 7 1 8 2 3-2 14 2 12-3 4 0 4 2 4 0 1 0 4 1 11 0 20-4 6 3-22 6-3-3-2 3-1 0-5-3-15 2-11-3-11 3-7 1-4-4-17 4-12-3-7 0-54 7 101-1 3 2 18-2 4-2 5 3 15-3-35 5-9 0"/>
<path class="mc" d="M1327 189l23 7"/>
<path class="md" d="M1434 75l-210 45 9 1 13 4-18 29 11 4-12-3 138 28-7 6-17 2 36 8 17 1-13 9-48-3 0 3 0-3-37 8 58 0 4 0 1 0 20-3 0 3 3-4 29 1-11 5-8 0-19 2-6-1-12 0-3-1-5 1-2-1-1 0-8 1-2-1-25 4 1 2 11 1 3-1 21-2 26 3 4-3 0 0 6 4 34 0 2 5-23 0-10-1-9-2-7 0-3 3-5-1-3-2-5 1-7-2-14 2-11 2-4-2-14 2 24 5 5-1 3-1 22 0 6-2 17 4 2-4 17 1 20 4-51 4-15-2-4-2-6 2 0-1-5 1-16-2 27 9 30-4 32 3-75 5-9-2-10 1 42 4 0 2-52 6-37 41"/>
<path class="mf" d="M1343 73l-23 11-35 13 40 9-8 3-30-4-16 0-25 3-20 1-2-1-3 1 5 1 1 3 31 1 10-3 14 2 157-2-131 5-2 2-4 0-16 1-12-1-28-1-2 2-6-4-6 1-13 2 4 5 20-1 6 2 8-2 13 1 15-1 9-1 15-1 18 6-30 2-64-3-2 0-1 3-7 0-13 5 46-2 86-1-26 8-31 1-13-1-3-2-5 0-83 2 88 2 55 4 13-2 15 6-65 4 4 1 16 3-2 2-97 3 170 4-80 0-23 2-2-1-1 4 40 3 81-3-64 8-18-2-80-1-1 3-6 0 41 5 8 0 10 0 5-2 12-1 2 3 15-3 13 0 15 1 12 2 26 0 1 3-24 2-30 1-8-4-38 2-33 2 15 5 21-3 9 1 3 0 7 1 0-1 6 1 27 0 0-2 4 2 19-2 30 0 10 8-10 0-8-3-4 0-1 2-10-1-3 2-104-3-9 3-20 0 3 2 52 3 31-3 6-1 1 1 0-1 18 4 9-4 2 0 0 0 13 0 2 2 11 0 1 0 14 0 1 2 1-1 17-1 10 2-5 4 0-3-2 0-13 4-4-3-2 2-1-1-2-2-2 4-2-1-13-1-13 2-1-2-20-2-17 3 0 1-3-3-1 0-16-1 0 1-21 2-8 0-15-3 45 6 25 3 2-1 2 0 28 1 4-4 20 0 1 3 17-3 25 4 2-1-23 6-2-2-14-1 0 0-2 3-11-4-4 4-2-4-21 4-7 0-21-1-17-3-11 1-12 0 1 8 10-2 12-2 1 3 3 1 3-2 6-1 30 1 20 1 31-3 4 3 4-1 0 1 10 2-7 0-7 1-5 3-4 0-4 0-12-4-21 4-2 0-3-3-10 1-59 2-3 3 16 1 5-1 46 2 4-4 0 1 3 3 33-2 3-2 10 3 6-3 1 1 7 3 2 0 1-2-23 4-14-1-18 1-16 1-7 1-9-1-6 2-9-1 0-1-5-1-10 2-4 1 0-4-66 8 67 1 16-4 6 3 3 1 1-3 10 0 9 2 3-3 11 4 21-2 9 0 24-1-12 8-9-4-11 0-10 0-4 0-3 3-3 1-21-1-7-3-1 3-1-2-1-1 0 4-4-3-13-1 0 3 0 0-6 0 0-1 0 0 24 7 5-1 19 0 5 0 21-1 7-1 11-1-46 5-8 1-7 1-89 15 39 21"/>
<path class="mg" d="M1327 67l-7-2-7 17-2 8 6 5-4 4-3 0-3 0-4-2-6 2-16 5 11 0 7-4 7 0 11 0 3 2-12 6-5-2-1 2-7 1-2-1-13-3-11 0-20 1-8 0-11 2-19 1 12 3 5-1 5-1 11 2 3-1 13 1 0-2 15 0 1 4 2-1 14-2 6-1 15 2 1 0 18 1 50 1-77 4-16-1-18 0-7 1-8-2-4 1-5-2-10 3-21-1-8 2-2-2-5 4 14 3 5-1 15 0 19-3 17 4 0-4 2 1 2 1 12 1 15 1 3-3 1 2 17-2 16 0 11 8-31 0-2-4-21 0-9 2-15 0-28 2-13 0-9-1-13-3-11 8 16 1 21-3 9 0 0 1 10-2 9 4 5-3 3 0 9 1 5 0 4-1 9 3 39-4 1 3-9 2-14 3-14 0-6 0-17-1-1 2-7-3-3-1-5 4-16-1-4 1-1-3-6 3-6 0-15-1-21 1-3-4-3 3 6 6 1-4 0 2 4 2 0-3 44 2 0 0 9-3 3 1 0-1 3 2 4-1 1 2 7-2 9 3 10-1 22-2 2 0 2 1 11 1 29 1 23 0-51 4-4-1-2-1-2 0 0-1-4 0-31 4-6-1-5-3-8 1-6 1-17 1-6-3-4 2-2-2-1 1-12 1-18 6 2-2 1 2 1-1 17-1 10 3 28-1 1-1 9 1 0-2 7 0 35-1 1 3 17-1 5 0 10 2 26-4 16 2 16 0-9 7-65-3-11 1-15-1-6 2-13-3-22 3-11-1-4 0-2-2-7 2-7-2-5 2 0 1-1-1-9-2 1 9 9-3 3 2 13-3 5 1 13 1 1-1 0 3 44 0 0-2 6 0 2-1 1-1 19 1 2 3 1-3 37 6-35 0-11-2-12 3-16-2-7 0-1 2-13 1-3-4-8 0-33 2 0 1 0-2-2 2-4 1-10-1 6 4 4-2 1 4 3-4 2 1 16-1 3 4 2-3 4 1 30 1 11-2 6-1 4 2 11 0 79-1 1 4-42 4-23-1-2 0-6 1-4-2-2 0-10 0-2 0-5 2-4-3-3-1-18 0-13 1-13 3-4 0-12 0-2-4-5 4-9 2 1 3 4-3 4 0 1 2 41 1 2-1 18 1 0-2 5-1 0 1 0 0 2 0 5 1 4 1 6-3 15 2 0-3 2 0 4 2 11 1 2-3 5 3 2-3 2 4 0-3 7 3 39 5-14-2-21-1-4 0-4 1-10 2-14-1-2-3-2 0-1 2-2-1-7 0-5 3-1-4 0 0-9 2-11 2-26-1-6-3-14 4-3-1-2 0-2 0-9-3-3 4-1-4-6 2-3-1 11 4 2 3 2 1 4 0 3 0 3-1 4 1 18-1 15-3 1 4 7-3 37-1 2 0 16 1 18-1 28 0 1 3 14 0 4 6-6-3-8-1-12 2-1 0-6 1-2 0-3 1-4-2-11 0-17-2-4 0-1 4-7-1-18 0-14 0-9 0-9-2-7 1-12-1-8 1-5-1-7 3-3-4 0 0-11 0-4 9 7-2 21 0 19 1 7 1 3-2 5-2 8 4 20-1 1-3 6 4 7-4 11 0 12 1 1 3 43-1 2 1 8 0 15-1 9 1 10 5-17-4-8 4-7-1-3 1-30-1-8-1-5-1-9 3-40-3-1 3-3-3-12 3-11-2-4 1 0 1-2-3 0-1-1 2-5-1-24 1-5-2-2 0-3 3-1 1-3-2 43 6 19 1 0-3 28 2 7 1 9-1 71-2 16 0 4-1 11 9-2 0-16-3-16-1-122 8 10 1 3-3 88 3 12-2 1-1 22 2 13-2 1 3-1 2-2 0-137 6 4-2 4 1 1-1 6 3 9-2 95 3 10-3-6 4-55 2-67-2 4 8 11 1 94 0 2-3-10 4-28 2-30 0 0-2 8 5 43 0-122 45-34 5"/>
<path class="me" d="M1309 99l-17 0-14 5 23-1 19-3-25 8-24 0-3 6 3-1 5-1 1-1 11 0 1 2 32 2-8 2-1 0-26 2-2 0 0-1-2-3-5 4-1 0-21 3 22-2 44 2 5 5-13-1-1 0-20 3-4 0-17-1-16-3-7 4-5-1-20 0-30 0 30 3 9-1 11 3 3 0 24 0 9-2 64 0 8 4-1 3-35-3-41 2-26 0-12 2-14 0-25-3 0 1-3 4 8 3 9-1 10 0 4-3 2 1 21 2 13-2 2 2 0 0 40 1 23-4 1 9-42-4-23 3-29-2-22 0-13 0 8 8 0-1 4 1 4-3 8 2 21-1 8 1 16 1 3-1 24 1 4 0 30-3 56 4-13 1-30 1-21 1-65 1-1-4-4 1-39-1-5 0-3 0 5 8 3-2 2 1 33 1 0 1 2 0 3 0 16-2 20-2 23 1 40-1-28 6 0 0-15 1-23 0-8 1-39 0-26 1 4 1 8 1 16 2 37-2 45 2 8-2 1 1 51 0-3 6-32 0-35 1-6-3-24-1-21 2-26-1-2 2-2-3-3 7 0 0 2 0 4 2 28 0 27 0 8-2 2 1 44 0 35 1-99 4-24-3-7 1 2 5 48 0 101 0-123 8-28 0-15-2-4-1-2 5 33 1 6 1 12 1 33-2 115 2-179 3 184 9-54 0 47 13-118-1"/>
<path class="mh" d="M1367 72l-136 36 72 112 42 3 28-1-18 16 20 5"/>
<path d="M1334.9 357.1L1446.2 357.1L1447.1 506.8L1440.1 521.8L1430.7 533.1L1411.9 551.9L1376.2 557.5L1348 561.3L1319.8 563.2L1302.9 570.7L1293.5 583.9L1292.5 610.2L1282.2 616.8L1235.2 616.8L1225.8 610.2L1223.9 578.2L1227.7 540.6L1226.7 521.8L1216.4 514.3L1216.4 484.2L1205.1 461.6L1182.6 442.8L1197.6 427.8L1216.4 412.8L1254 409L1291.6 403.4L1310.4 394L1317.9 380.8L1323.6 365.4Z" fill="#e5e5e5" stroke="#e5e5e5" stroke-width="2" stroke-linejoin="round"/>
<path class="ma" d="M1427 354l5-1 12 1 3 2 0 2-4-2-1 1-2 1-2-2-2 0-1 2-1-3-2 1 0 2-3 1-4-1-3-2 0 1-6 2-1-3-1 2-1-2-1 3-5-2 0 1-3-2 0 2-2 0-2 1-1-2-2 2-1-4-1 0-2 0-3 4-3-3 0 1-3-2 0 1-2 1-2 0-2-2-2 4-2-3-3 3-2-1-1-1 0-1-4 3 0-1-2-1-3 0-2-1-1 0-1 1-3 2 0-4-1 1-4-1-1 0-1 4-5-2 0 2-1 0-3-3 0 2 0-2 0-1-6 2-4 5 1-2 2 1 5-1 15 0 24 0 16 0 28 1 2 1 27 0 1 1 0-2 1 7-1-1-1 0-121-2-1 3-3 1 0-2 0 5 3 0 120 2 4-4 0 1 1 3-1 4-3-3-124 1 0-1-1 4 0-3-7 7 2-1 0 0 130-2 1 1 3 7-2-3-1 0-125 0-3 1-1 0-6 3-1 5 1-3 1 2 0-1 132 2 1-4 3 4 0-1 2-2-5 6 0-1-137 1 0-1-2 2-1 1 0-2-34 7 1-1 2 0 7 1 2-2 1 2 6 0 1-2 1 0 4 1 1-1 3 1 0-1 1-1 143 2 2-2 2 3 0 1 0 0 0 2-1 1-153-3-7 0-1 0-2 1-7 0-1 0-4 2-4-1-3-2-1 4 0-2-3 1-1 1-2-2-1 2-1 0-1-4-3 4-1-1-7 1-3 0-2-2-3 1-9 1-16 4 2 1 2 0 0 0 4-1 3-1 0 1 2 0 4-1 1 0 1 0 1-1 5 1 1-1 5 0 5-1 0 2 2-2 199 1 0 2 1-1-1 7-1-3-2-1 0 4-232-3-2 0-1 2-3-3-2 4-8 4 3 1 2 0 6-4 239 3 1 1-1 5 0 0-1-2-2 2-241-4-3 1-2 1 0-2-3 4-2 0-1 2 1 0 253 2 1 0 1 3 0 1-2 2-252-4-3 1-3 2 0-3-1 4-2-2-4 2 0 4 5 1 0-1 260 1 1-4 1 3-1 2 0 2-1-1 0 3-257-1-2-3 0 0-2 0 5 5 2 1 3 1 1-1 248-1 1 3 4 2-1 1 0 2-3-3-244 2-2 2-1-1-1-2-2-1 6 5 0 0 7 4 0-2 0-2 239 0 0 2 0 2 0 0 2 2-238 3-2-3 0 2 0 0-2-1 3 5 235 1 0-1 2-2 0 4 1-4 1 8-4 1-231 0-1-2-1-2-1 0 3 7 0 0 1-2 230 1 0 2 1-3 0 4 1 4 0 1-2-3-228 2 0-2-1 0-1-1 2 6 0-1 231 2 1-2 1 3 0 4-5 1-227 0-2-2 0-1-1 9 0 0 1-2 3 0 227 1 1-1 1-1 2-1-2 9-1-4-1 4-1 0-227-2-3 6 2 0 0-3 1 2 224 2 1-2 1 2 1 2-2 2-2 1-219 0-2 0 0-4-2 3 6 2 2 1 0-1 0 1 212 3 5-4 0 3-6 4-1 1-1-1-2 1-204-1-1 2-2-4-1 2 1 3 3 3 202-2 2 1 0 0-4 3 0 1-5 0-197-1 0 2-1-1 2 7 0-2 1 0 191 1 0 1 2 0 1 0 2-1 1-1 1-1-11 7 0-1-4 3-186 0 0 0 0-4-1 6 2 1 1-1 157 3 12 0 5 0 1 0 2-3 1 2 1-3 1 2 4 0 0-1 1-1 0 1 0 0-17 5-1-1-2 1 0-1-5 3-1-2-3 1 0 0-4 0 0-1-2 1-2-2-4 1 0 2-1 1-6-1-2 1-2 0-5 0-4 0-7-2-1 1-4 0-114-1 0 0-1 0-2 5 1-1 1 3 1-3 89 1 1 0 2 0 4-1 2 3 4-1 2-3 0 3 3 0 0-2 5 2 1-1 6-1 0-1 5 0 1 2 1 0 4 1 0-3 7 1 3-1 8 0 5 0-44 5-15 1-2 0-1-1-3 0-3 0-2 4 0-2-3 2-5 0-1 0-75 0 0 0-1-3-2 6 1-2 79 1 2-1-5 8 0 0-1 0-1-3-3 2-68 1-2-3-4 2 4 3 0 0 1 4 1-4 68 2 0 2 2-3-1 7-1-1-1-1-67-1-1 3-1-1 1 7 0 0 0-4 1 4 68-2 2-1 1 6-3 2-1-4 0 1-2-1-65 2-3 0 1 6 0-2 2 2 66 1 1-1 1 2 0 0 0 3-65-1-4 1 0 0-1-3 2 8 1 0 2 0 2 0 1 1 2-3 3 3 25 0 12 0 5 0 7-1 2 0 2-1 1-2 3 0-7 5-2 4 0-1-4-1 0 1-3-3-2 2-5-2-1 4-1-3-3 1 0-1-2 0-4 1-1 1-3 0-1 0-1-1-2 0-4 2 0 0-2-1-4-2 0 1 0-2-3 1-2 0-3-1 16 5"/>
<path class="mb" d="M1432 377l-20 0-5 0-11 2-10-1-18 1-23 4 12-1 10 1 3-1 12 0 2 1 12-1 7-2 4 1 13 1 0 2 12-4 2 8-20 1-2-1-15 1-16 0-5-4-16 4-2-2-1-1 24 5 13 0 38 3 1-3-2 6-4 1-11-2-5 1-11-2-28 1-5 0-9-1-11 2 21 7 1-1 11-1 5-1 4 3 20-2 13-2 1 2 1-2-7 7-10 2-6-2-50 0 0 0-2 5 14-1 5-1 26 0 12 4 4-3 3 0 12 4-3 4-4-3 0 2-14-2-3 2-1-3-7 1-6 0-3-1-1 3 0-2-32 0 4 7 15-3 11 0 19 4 2-2 1 2 14-4 4 4 3-4 12 2-12 3-19 3-9 1-11-1-1 1-1 0-5-4-9 1-6-1-2 4-7 0-5-1 2 4 29 0 7 0 2-2 1 1 4 0 15 0 3 2 9-1 8 1 1-3 5 2 2-1-3 7-8-1-2 0-7 1-17-1-2 0-20 0-2 1-3-2-19 0-8 2"/>
<path class="mi" d="M1270 424l8-1 44 16-15 12 59-1-66 21 8 1 43 3-16 2-11 0 19 7 8 0 26-2-10 3-2 0-17 1-80 3-21 0-27-4 75 8 101 12-64 2-18-2-4 0-35 3 30 6 7-3 34 1 12 7-67 13"/>
<path class="mc" d="M1320 422l-52 4 24 11-64 3 122 5-42 0-88 8 47 0 4 1-7 10 57 0 30-3-23 14-80 6 80 1 4 0 67 6-86-1-44-1-35 2 132 5 3 1-40 4-72 6 153-4-23 5-63 3-97 3 54 1 17-1 1 3 7-1 52 3-60 3-2 2 33 4-17 8"/>
<path class="mj" d="M1218 412l11 1 14 2-11 4-5 5 78 5-51-2-7 2 0-1-11 0-31 0 9 4 0 1 29-2 11 4-25 1-29 3 7 6 210 67-21 12 0-4 32 7-22 9-32 2-3 4 1 2 47-1-32 6-23 0 23 3 2-1 21 2-16 2-25 3-13-2-21 1"/>
<path class="mk" d="M1350 390l16 2 2 5-124 12 60 6-53 1-3 3-7-2-9 2-13-1 0-3 5 5 1 3 27-1 21 7-26-4-22 4-30 1 145 3-109 6-34-4 45 6 42 2-23 6 47 16 95 42-49 17 32 4 48 5-1 3-47 0-41 0 48 5 21 0-10 7-5-1-8-2-61 1-9 8 48 0 16-4 7 3-8 2-15 1"/>
<path class="md" d="M1328 372l-9 9-3 9 2 6-20 8 15 1-24 0-26 7 28-2 7 8-12 1-18 5 6-2 16 1 1 1 21-4 13 3 5 1-11 4-116 6 2-1 11 1 61-2 40 2 16-4 17 4-29 3-27-1-22-1-22 2-56-1 29 8 12-1 9-2 6 2 8-1 48 0 11-1 9 2 10 5-35 0-6-2-53 3-16-2-20 0 23 6 14-1 40 0 3 2 17-4 21 4 4 5-20-1-58 1-3-1-24 4 3 2 11-4 4 3 5-3 21 0 2 3 11 1 93 3-100 0-62-1 4 7 1 0 2 1 46 0 112 3-52 1-33 0-6 0-8 1-20-3-13 3-25-2-4 6 15 0 23 1 24-1 38 0 57 2-7 0-13 3-42-1-24-1-44 1-3 1 0-2-13 1-4 4 5-1 59 3 5 1 14-1 48-1 1-1 52 4-21 2-16-2-11 3-13-3-33 1-1 1-11 1-76-1-7-1 2 6 13 0 23-2 5 1 5 0 7 2 15-1 11 1 21-2 29-1 12 0 28 1 4 2 3-2 3 0 20 5-10 3-43 0-8-4-14 4-6-2-3 1-5-2-7 2-11-3-26 4-38-2 121 7 15-2 1 1 12 0 40 1-8 4-18 0-5-3-9 0-18 4-13-2-7 0-54-2 0 7 15 2 1-2 44 2 5 0 5-1 1 1 1-4-6 6-15 0-18-1-3 0-47 1 56 8 16-3 10 2 28 1-25 4-20-2-30 3-4 0-4-3-16 8 12-1 13 0 15-1-13 6-3-3-21 1-5 1 8 3 46 6-11-1"/>
<path class="mf" d="M1317 396l-9 1 11 6 1 0-21 6-18-2 8 7 20 0 21 3-32 0-15 1-10-3-13 8 41-1-16 3-81 1-1 0 59 7 9 0 13-2 25 2 20 0-39 3-3 3-14-1-26-2-12 1-33-2-12 0 20 5 48 3 2 0 37-3 29 1 6 2 18 0-10 6-15-1-37-3-1 3-7-3-43 1-16-1-10 3-8 1-12 0 44 1 20 2 39-2 14 0 54 0-43 6-17 1-10-1-11 3-10-3-71 3 10 3 6-2 4 2 25-2 12 3 35-1 35 0 50-2 18 7-31 0-30 2-59-1-62-1 7 5 6-1 47 3 118-1-13 6-107-1-7 1-44 4 7 0 1-3 3 1 26-1 33 0 86 6-35-1-69 4-6-2-39-1-3 4 8 3 25 1 17-4 2 0 41 2 53 2 14-2 22 3-13 1-111 1-34-2-35 2 102 4 29 0 26 2 14-3 38 8-58 1-45-3-79-1 77 5 23 0 20 4 1-2 2-1 13 3 66 5-19 0-6-4-4 3-1 1-46-1-2 0-33-3-13 4 1 5 44-1 47-1 2-2 21 1-23 6 0 2-49-3 0 1-9 1-7-3-7 0-25 2-15 2 38 3 19 1 4-3 10 0 50 0 12 0-58 5-55 0-14 2 1 7 56-2 28 1 2-3 37 0-25 7-18 1-33-3-56 4 91 2-36 8-10-1-10-2-14 1"/>
<path class="me" d="M1216 414l3-4 40 4-10 3-20-2-6 2 93 3 33 4-102 4-44-1 4 6 24 1 59 2-46 3-3-3-2-1-4 2-2-2-6 2 58 3 76 2-131 6 12 10-17-1-5 3 46 8 49 7-94 1 0 8 96 6 90 9-52 5 54-4 3 2-24 6-88 4 80 2 47 5-34-4-14 1-27 2-5-1-61 5 8-1 101 4-17 4-83 5 39-1 16-1 2 2 18-3 8 1 30 2 9 0-43 2-5-1-31 2-78-2 63 5 29 3 2 1 54-2-8 3-36 4-19-2-43 7 6-4 31 4 3-3 23 0-55 5"/>
<path class="mh" d="M1325 372l31 3-30 10-28 16-5 11 18-2 15 3-26 6-19-1-18 1 34 1 3 1 11-1 26 5-50 1 0-1-3 3 67 4 9 3-24 3-139-2-2 2 16 6 43-1 45-1 20 4-23-1-2 1-23-1-2 3-29-1-52 0 28 4 2 0 1 3 22-2 45 1 25-2 17 2 34 4-35 1-4 1-4-2-2 1-27 1-1-1-56 0-3-1 12 7 50-2 3 1 84-2-63 5-1 2-15 0-3 1-61-3-5 4 3 0 57 4 37-3 39 2-14 6-58-4-37 7 9-2 50 3 2-1 15-2 16 1 30 8-5-2-10-2-12 3-10-3-6 3-41-2-35 2-13 0-5 5 54 0 4 1 11-4 12 4 0-1 75-3-37 9-47-4-71 2-7 2-5 5 11-4 26 0 16 4 10-1 6 1 1-4 82 1 23-1-6 9-14-1-7-3-19 2-2-2-14 3-6 1-18-4-40 0-29 2-30 0 51 3 15 1 79-1 10 0 23 0 35 8 0-2-30 3-11-2-87 2-14-3-15 1 59 5 18-2-36 9-3-1-17 5 11 0 87-3-91 10 15 14-20 6-22 10-11 44"/>
<path class="ml" d="M1318 400l-31 7 2 7-4 4 18 6 30 2-7 0-4-1-48 0-7 4-73 1 14 2 9 2 103 3-31 1 29 7-21 3-15-2-73 1-7 3 68 4 29-1 12 5-47-3-21 7 40-2 2 4 43 2-41 3-30 4 46 0 30 6-18-3-29-1 6 7 40 5-3-2-22 1-7 7 22-2 61 2-141 5 70 5 54-2 11-1 17 1 12 6-19-2-118 1 54 6 88-2 4 5-18 0-67 0-33 4-22-3 40 11-18 7 38-2 38 4-63 3-19-2 16 3-10 5"/>
<path class="mg" d="M1317 392l2 12-7 3-6 1 19 8-30 2-24-2-53 3-10 2 98 0 15 8-73 0-42 5 37-4 32 2 11 1 26-2 8 3 81-1-117 4-2 2-14-4-46 4-20-2-5 3 30 3 20 0 36 1 3-3 9 1 31-2-84 8-50-3-5 3 58 5 12 0 5-3 0 1 23 3 17-1 56-1-68 6-10-1-6 2-50-4-23 0 24 9 4 0 7-3 13 2 5-3 107 7-43-1-28 3-17 0-18-3-27 3-11 4 26-1 150 7-108-4-44 3-4-1-16 3 77 0 19 8-32-1-30 0-22 2-6 0-1-2 9 7 43-3 89-1 38 9-8-2-41-2-17 2-87 2-8-2-3-1 1 6 119-1 44 3 1-1 11 5-22 1-40-1-13 0-70 6 22-1 58 0 21 1 53 2-3-1-8 2-25-1-57 4 21 3 3-2 3 0 3 1 7 0 11-2 25 3 20-2-44 7-18-2-23-1-20 7 12 0 3 0 17-1 30 0 15-1 22 0 1 1 1 7-25 0-8 0-34-2-1-1-9 2-5 1-11 2 0 0 21 1 47 7-27 1-10-2-39 7 17-1 19-2 18 3 2 0 31-2-35 5-6-1-19 2-2-1-3 2-14-3"/>
<path class="md" d="M1328 372l31 5-36 8-18 12 0 4 8-1 4 2 5-1-37 5-34 2 12 2 6 3 1-2 14 2 27-3 2 1 12 3-13 4-4 1-49 4 6 0 32-1 10-1 14 2 0-2 6 3 51-4-47 7-11-1-9 0-100 6 35 1 23-2 26 3 10-4 23 2 37 5-17 2-36 0-49-2-11 1 0 1-57 0 0 1 52 2 59-1 28 0 27 3 8 3-3-2-49 3-29-2-27 0-8 1-32 0-7-1-2 2 0-1-10 2-2-3 38 7 28-3 13 4 18-3 19 8-10 0-3-4-10 3-49 1-9-1-25 1-5-2 4 3 9 4 2-3 31-1 35 0 30 4 11-4 6 5-13 1-9 2-2-2-54 1-20-1-1 2-9 1 27 3 46-2 75 4 26 1-73 1-1 3-24-2-17 0-33-2-13 1-9 1 10 6 24 1 18 0 25-3 23 3 1-3 41 1-45 7-12-2-21 0-17 1-14-3-7 4-18-3-1 0-5 0-12 2 4 3 74-1 5 2 20-2 13 4 21-4 17 8-3-1-21 2-1-2-10-2-20 4-17-1-60-2-2 2-14 1 2 5 15-2 28 0 16 2 19-1 31-1 16-1 9 2 10 0 23 1 2-4 2 0 5 3 4-1 7 7-8-1-10-1 0 2-6-4-32 0-13 2-6 2-7 0-33-4-33 1-29 3-1-3-5 2 45 2 55 1 18 0 2 3 22-3 21-1 26 2 1-2 9 2 11 4-6 2-8 0-28 1-4-4-1 0-2 0-41 2-46 0-19 4 31-1 10 2 54-2 37 3-50 4-22 1-33 1-1-3 0 2 4 5 10-1 19-2 80 0-70 5-31 6 3 3 3-4 25 4-5 4-5-3-16 2-26 4 100-1-85 5 17 6"/>
<path class="mk" d="M1432 371l-130 30-72 10 11 3 3 4-32 2 2 3 4 0 83 2-104 6 22-1 7 3 27 4-15-2-46 7 1 0 88 0-64 9 23 0 82 8-24-4-18 4-42 30 155 10-13 18-34 4 77 1-35 7-122 0 135 10-42 0-45 3 44-1 4 0 20 3 4-2 3 1 1-3 20 1 10-1-10 7-11-2-6 4-28-4-5 2-48 1-80 5 74-3 20 2 13-2 0 0 54 1-8 4-8 1-4 1-4-2-5 0-18 3"/>
<path class="mg" d="M1350 366l-42 36 3 7-18-1-3-3-40 5 6 0 18 2 25 4-37-1 47 5 4 4 73 0-80 1-14 1-92 6 32 0 20-1 61-1-83 7-7 0-20 2-16 1 47 3 7 0 17-3 77 1 23-1-52 7-10 1-51 0-19-2 6 4 34 0 7 4 15-4 27 6-26 0-82 0 5 6 35 2 25-4 13 1-9 6-36 0-18 4 84 1 74 5-107-1-8 0-24 3-22 0 7 3 40 0 109 4-77 3 0-1-71-3 111 12-84 0-2-2 10 9 100-2 17 1 31-2 13 3-4 2-36-1-19 4-43-3-24 1-45 0-3 1 21 2 9 0 16 0 20 4 17 0 80-4 8 0 4 1 3 1 2 4-10 1-55 2-9-3-6-1-66 8 46 0 29-1 12-1 58 5-4 1-1 2-8-2-32-1-43-1-6 3-10-1-34 3 38 4 3 0 10-2 57 2 6-1 30-3-33 5-38 2-16 2-7 0-6-3-4-1-22 3 6 6 9 0 12-2 40 7-15-1-3 1-45 4 3-1 21-2 4 2 6 0 49 2-27 4-24 1-10-2-1 0-12-2"/>
<path class="me" d="M1297 401l13 2-14 6-12 0-47 4 10-2 2 1 7-1 3 2 19 0 10 0 23 5-23 0-21-2-2 1-13 2 0 0-43 2 18 2 3-1 2-1 0 1 10 1 40 3-6 0-7 1-53 2-2-2-5 6 109 6-77-2 13 5 46-1-46 5-48 4 87 2-85 3 43 6 27 15-44 9-6 19 42-4 161 17-32-1-9 2-39 3 13 1 39 1 4 1 17-4-40 5-13 4-22 5 6-2 9 1 2 1 4-1 21-3 13 4 20 0 0-2-62 3-8 0-6 3-31 0 5 4 10 0 27-1 7 8-11-1-1-3-14 1-4 7 0-1 9-1 22 3 4 0 8 0 30-3-31 4-19 2-22-1-77 43 4 12"/>
<path class="mj" d="M1228 413l6 0 13 1-8 2-8 0-4 3-5-2-6 0 3 4 6 0 2 1 3 1 12-3 2 2 9 0 12 4-26 3-8-1-7 3 2 3 1-2 2 0-7 3 44 31 8 18 64 48 80-1-39 6-9 2-28 2 22 0 41 1 2 4-4 0-8-1 13 7-17 4-6-1"/>
<path class="mf" d="M1304 400l12 2-18 7-20-3-7 2-14 1 48 2-18 8-23-4-57 9 0-3 87 2 31-2 28 8-72 0 0-2-18 2-53-1-8 4 59-1 9-1 28 3 1 1 4-3 17 1 0 0 9 2-20 2-45 3 0-4-37 0-4 8 32-2 41 0 23 4-7 2-33 0-15 1-1-2-39 1-31 3 27 0 3 4 17 0 35-4 147 6-108-1-20 0-18 3-23-3-31 8 17-1 32-1 17 2 4-2 15 0-97 12 28-3 13 2 23-2 6 2 2 0 16-2 52 9-20-4-7 1-9 1-23 1-7-1-12 0-13 1-34 1-3-1 11 6 23-1 0-3 17 4 11-4 18 4 55 2-21 0-12 0-29 1-51 1-20-2 60 6 27-2 50 4 9-2 37 6-50 0-81-2-2-1-54 2 14 7 12-4 2 3 154-1 6-1 2 8-24-3-1 3-14-1-25-1-3-2-58 1-12 0-2-1 3 8 28 1 39-2 35 1 1-2 2 0 10 1 7 1 0-2 2 2 0 0 28-2 4 8-79-3-2 1-17 0 29 6 7-3 17 3 1 1 6-4 0 4 19-4 24 5-6 0-46 3-45 1-3-3-35-1-2 1-11 4 31 3 16-3 6 2 15-2 41 4 16-2 3-1 1-1 11 4 6-3-14 6-2 1-54-1-7 0-24 0-12 2-26-1 57 11-13-1-26 5 9-1 5 1 9-1 12-1 29 0 11-1-20 6-36 1"/>
<path class="mi" d="M1303 404l-10 2 25 4 11 5-7 11-29 1 27 5 12 5-31 1 10 6 36 1-107 4 45 3 33 7-4 2-1 4 38 12-23 1-7 0-8 7-75 1 1 7 83-2 5 1 40 0 5 7-54-4-46 1-31 3-3 4 50 0 59 4-3 2-44-2-20 3 11 2 145 2-147 8 0 0 3 1 10 10 2-2"/>
<path class="mh" d="M1326 384l-1 11-26 14-7 9-36-3-9 0 22 5 46 7-30 5 0 2 10-4-7 7-97 3 37 3 70-1 26 0 7 0 23-1-16 5-13 1-20 1-45-1-32-2-2 2-2 2-15-3-12 1 19 7 14 0 1-2 9 0 20-1 13-1 24 4 20-1 9 1 24-3 34 6-62 1-1-2-14 0-7-1-3 0-58 8 25-3 20 1 40 2 14-3-23 5-25 4-63-2-17 0 20 4 58-1 4 4 49-2 53-2-47 5-20 1-10 1-1-2-38 1-23 7 2 1 7-4 3 3 32 0 1 0 13 0 36 1 0-2 20 4-15 0-1 0-25-1-5 3-46 1-24-1-24 2 30 0 14 2 27 1 5 0 16-1 39 2 6-2 38 4-56 2-1 0-71 0-11 0-4 0-25-2-9 5 24 3 23-4 1 1 9 2 22-3 74 0 27 3-29 3-54 3-55-2-31 4 1 1 59 0 6 2 4-4 109 4-9 2-80 1-48 2 4 1 29 0 12 4 5-1 7-3 12 4 69-3-55 4-14 1-66 7 17 0 5-3 13 0 4 4 78 0-60 1-38 3 9 5 32 4-36 2-71 18 63 3"/>
<path class="ml" d="M1441 375l-113 1 113 11-170 22 22 2-27 6 49 11-54 5 90 1-31 1-34 5-1 8-3-1-35-2-52 7 64 0 36 7-17-3-8 3-20 0-41 4 69 1 106-4-64 7-9-2-8 2-10 1-34-3-3 2-43-1 8 4 188 9-79 0-6-4 0 3-14-3-10 2-81 2 3 5 25-2 9 2 55 3-2-2-9 0-66 2 35 7 6 0 2-2 1 0 77-1 38 7-17-2-55 0-79 0 73 5 17 1 43-2 41 5-1 3-19 1-48-1-21 1-15-1-16 0-25-3-7 0-9 1 159 9-92 2-34-1 67 8 45-2-86 5-29 5 8 0 23 10-24 8 116 2-122 9"/>
<path class="mc" d="M1310 403l-2 5-32 13 50 8-44 5 29 0 38 12-90 0-59 4 115 1-17 7-74 3 64 0 24 2-56 10 58-3-75 8 22 5 79 6-54 2 29-1 27 0 31 3 6 1-4 2-45-1-40 9 93-1 36 2-108 4-68-3-13 3 77 8-17-2 2 7 1 1 40-3 24 1-44 4"/>
<path class="md" d="M1413 377l-97 1-1-2-25 28 31-1-76 7 31 3 13 1 20 2-15-1-13 0-16 1 15 4 23 3 7 1 27 2-24 0-3 0-11 1-12 0-24-2 55 10-3 2-11 1-21-3-1 4-26-1-43 1-17-1-8-2 52 6 18 1 2-3 12 4 40-4 62 6-49 1-20 2-47-1-4 1-34 0-24 0 0 1 30 1 27 1 17 2 83 0 7-2 15-1-56 8-36 0-29-2-10 1-16 1-9-2-13 4 1 0 12 3 1-1 87 0 1-3 5 1 1 0 13 1 33 3-70 3-17 0-16 1-36-4-9 1 11 6 30 1 34 1 79 4-28-3-24 2-26 2-5 0-46-2-11-2-2 6 24 2 1-3 2 2 14-1 10 1 9-1 4 0 8-1 102 7-21-2-17 3-5 0-24-3-14 1-29 0-6 2-3-3-12 3-8-3-36 9 17-3 8 0 11 0 26 2 57 0 7 0 13-2 5 0 46 7-84-1-7 2 0-1-56-3-1 2-26 0-3-2-15 4 6 2 4 3 0-3 17-1 37 4 28 0 9-4 10 0 1 1 0 2 8 1 21-4 6 0 16 2 6 1 18-2 7 2-16 4-12 2-16 0-8-2-6 0-19-1-24-1-52 3-5-3-24 8 44-3 16 4 11-3 5-1 11 4 1 0 42-3 3 1 14-1 21 2 5 4-2-1-7 1-12 2-42-3-31 1-4 2-10-2 2 3 58 0 3 1 22-1 0 0 30 0-97 5-30 4 32 4 13-3 4 4 20-1 37-1-61 4-7 3-19 3 5 0 17 0 3 0 28 2-24 4-11-3-2 3 7 2 3 4 43 0 4 0-24 1-6 1-43-1"/>
<path class="mc" d="M1286 409l4 4-42 24 14 6 66 5-51-3-44 9 95 0-60 2-12 5 4 1 51 5-62 4 31 3 40-1 72-1 2 1-42 4-44 2-12 3 39 3-62 3 42 3 20 3 49-1-7 2-5 0-19 9 37 3-93-1 50 8-9 1-53 1 28 14-9 5"/>
<path class="mg" d="M1321 409l-81 4 72 1-36 2-37 4 26 1 14-1 33 2-51 6-15 0-35-2-14 7 27-2 13 2 51-3 19 0 2 1 19 8-66-3-19 2-17-2-9 0-5 0-11 2 0 2 28 2 72-1 14 2 38 0 26 6-44-1-26-3-22 4-11-4-54 4-13-3-12 3-1-2-11-2 6 5 99 0 18 1 18 3-19 2-8-1-3 4-52-2-8 2-28 2 15 3 66 0 6-1 141 6-200-3-26 8 17 0 50-3 51 4-41 1-23 1-36 6 45 0 9 1 72-2-121 4 13 13-14-2 0-1 34 6 18-2 61 4 6-2 33-1-4 5-17-1-55 1-7-1-14 0-5 2 54 7 32-2 1-1 9-1 9 0 23 4 23 4-15 1-78 4 3 1 33-1 6 0 17-2 27 2 4 2-40 3-8 1-4-2-38-1-2 1 0 1-2-3 0 7 30 1 18-1 21 1 12 4-15-2-13 0-6 0-66 0-2 1-73 5 99 1 27 1 44 2-19 0-19 2-29 2-13-3-8 2-2 2 13 2 2 2 3-4 26 1 34 1-36 5"/>
<path class="mi" d="M1317 402l-75 9 28 24-60 16 100 2 18 0-1 2 25 7-71 3-56 1 70 5 9 1-31 4 0 7 26-2 1 0 40 2-19 3 13 7 68-1-69 11 7-2 34 4-36 3-15 0-43-3 34 5-31 10 4 1 52 7-42 5 7 3"/>
<path class="ml" d="M1407 371l-140 36 38 9 23 4-11 7-11 0-26-1-21-1-65 7 122 0-13 4-103 4 71 4 83 0-27 5-40-1-32-1-46 1 23 6 33 1-19 0-16 5 69 2 19 2 7-4 0 0 5 0-106 8 52 3 1 2 50 1-98 5 106 1-11 7 0-2-94 9 156-2 8 7-5-1-2 0-11 0-23-3-6 1-51 2-2 0-25-2-7 0-2-1-11 1-6 0-11 0 58 5 18 2 14-1 25 1 1-2 3 3 37 0 12-2-174 3-2 0 14 6 60 1 2-2 78 3 33-3-90 8-16-1-8 2-6-1-8-2 17 8 16-3 53 8-24 0-10 2 4 0 86 0-116 4"/>
<path class="mh" d="M1325 390l-11 11 5-1 5 9-4 0-46-1 4 5 2-1 33 7-37 4 33-1-12 6-40-3-27 4 42 4 26 0 49 3-42 3-10-3-21 2-29-3-45 6 84 0 1 0 16 2 2-2 6 0 9 2 19-1 54-2-34 6-76 1-64 2-12 4 10 1 43-4 24 0 14 4 2-1 4-1 19-1 2-1 5 4 15-2 37 6-90-2-19 1-12 0-39 2-10-4-6 6 19 0 55 1 45 2-87 4-5-1-14 4 20 3 3-3 11-1 16 0 39 3 28-2 8 1 15 5-30-2-20 1-12 1-28 1-15 1-29-1 2 5 52 0 32-3 67 5-52 0-12 1-7-1-1 3-9 1-23-3 18 7 5-1 107 1-12 4-20 0-1-1-3 2-28 0-1-1-1-1-6 3-2 0-11-4-10 4-1 0-2-2-33 1-35 6 53-1 29-3 4 1 26 3 4-4 16 3 16-2 14 2-46 3-31 0-13 1-5 0-20-2-20 7 38 2 5-4 3 1 10-1 6 4 19-1 4-3 47 0 12 3 5 0 16 0-112 6-6-3-8 7 25 0 17-1 92-1-15 4-90 0-7 0-25 3-4-2 37 8 14 0-42 5 3 1 73 4-72 5 0 0 57 4"/>
<path class="mj" d="M1246 412l7 3-13 1-5 1-3 1-9 0-13 4 26 1 11 0-2 2-9 4-5-2-6-2-14 1-13 8 34 14 17 18-24 45 159 8 20 2-11 8-8 6-6 4 26 1 7 0 7 1 1-1-29 9-6-3-15 4 20 5-34 2"/>
<path class="mf" d="M1294 399l27 6-40 3-7 0-8 1-52 1 45 1 9 1 13-1 8-1 7 0 2 1 24-1 0 8-5 1-12-3-8 2-33-1-5-1-53 6 11 1 46-3 13 2 25 1 13-2 5 3 2 4-18 0-4-1-1-1-29 2-6-3-57 2-11 7 12-1 40-1 5 1 4 1 4-4 26 1 1 0 28 0-8 7-45-2-11 2-13-3-27 1-5 2-19 4 0 0 27 1 39 1 18-4 27 1 22 8-2-2-6 1-19 0-1 0-58-3-27 0-19 1 5 5 31 2 2-3 48 3 68-1 1 2-38 3-9-2-11 1-22-1-41 4-4-2 23 6 25-1 19 2 6-2 20-2 6 3 66-1-61 7-9 0-14 0-46-4-28 5 24 3 4-1 55 1-18 6-14-2-29-2-21 1-7 4 25 0 12 3 29-2 6 3 20-3 11-1 29 8-16 1-50-3-13-1-35 3 26 4 82 1 29-1 10-1-36 8-2 0-50-4-26 4 0-3-1 3-17-4-32 5 28 4 12 0 56-3 44 2 7 0 3 0 24-2 9 2 8-1 1-2-5 9-4-2-2 0-1 2 0-3-25-1-65 0-80 4 87 3 12 1 54 1 45 0 3 4-16-3-31 1-22 3-129-4 77 6 17-1 26 4 40 0 21 0 4 4-16 0-19-1-49 2-23-3-15 0 9 5 5 1 5 2 48-1 35-3 20 1-39 6-2-1-46-1-24 4-5-4-66 5 71 2 0 2 3 0 15-1 30 3-29 0-3 1-22-2 0 2 13 6 1 1 3-1 9-3 21 1 4 0 13 0 28 2-7 5-30-1-5-2-14 1-11 0"/>
<path class="me" d="M1422 358l-118 48-10 1-20 1-43 3 16 0 3 3 31-3 56 8-80-3-7-1-30 4-1-4 19 5 51 2-51 5 0 7 11-2 2 0 68-1 20 8-37-4-90 0-22 3 186 12-45 9-35 0-37-2 2 7 56 3-61 0-17-2-1 9 107-4-63 5-30 3-8 6 35-4-1 5-58 7 66 3-59 7 179 1-117 11 43 2-21 6 61-2 60 4-87 8 8 0 35 0 5-1 17 2-14 2-7 4-31-1-10 0-4 1 53 3 19-2-42 8-12-3-6 3-12-3-4 2-13-2 0 4-24-3 27 7 17-1 9 2 7 0 10 1-18 5"/>
<path class="mk" d="M1282 407l-2 5-33 7-6-1-2-2-19-1 24 7 0 1 1 1-22 1-9 4-1-1-13 1 6 3 42 0 11 0 28 7-2-1-17 0-27-3-18 2-8 1 22 4 18 0-29 33 23 11 98 4-87 5 12 10-36 5 129 12 22-1 3-1 1 8-5 0 39 2-30 6-4-1-3 3-5-2-16 5 44-1 5 6-38 0-1 2-39-3 18 7 44 1-78 8"/>
<text x="1413" y="581" font-size="20.7" text-anchor="middle">ATAC k-NN</text>
<text x="1413" y="606.5" font-size="20.7" text-anchor="middle">enrichment</text>
<rect x="1375" y="619" width="77" height="23.5" fill="url(#gRYB)" stroke="#1a1a1a" stroke-width="1.6"/>
<text x="1381" y="667" font-size="20.7" text-anchor="middle">-20</text>
<text x="1438.5" y="667" font-size="20.7" text-anchor="middle">20</text>
</g>
<g id="pd">
<text x="1488.5" y="32.7" font-size="39.5" font-weight="bold">d</text>
<text x="1663.7" y="40.3" font-size="27.3" text-anchor="middle">Control</text>
<text x="1961.5" y="40.3" font-size="27.3" text-anchor="middle">Acute</text>
<text x="1663.7" y="333.5" font-size="27.3" text-anchor="middle">Chronic</text>
<text x="1961.5" y="333.5" font-size="27.3" text-anchor="middle">Recovered</text>
<path d="M1650.5 51.5L1788.6 51.5L1788.6 276.4L1778.6 275.1L1771 267.7L1763.5 255.3L1753.5 242.8L1738.4 232.9L1723.3 225.4L1650.5 225.4Z" fill="#e5e5e5" stroke="#e5e5e5" stroke-width="2" stroke-linejoin="round"/>
<path class="ma" d="M1722 223l0 0 1 1 2-1 4 1 6 2-2 0 0-1-3 1 0 2-1-1-1-2 0 2-4 5 2-2 6 1 2 1 1-1 2 2 2-2 5 3 5 5-1-3-1 1-1 1 0-3-6 3-1-3 0 4-1-3 0 1-1-2-1 0-1 1 4 4 5 0 0 1 2-1 0 3 1-2 4 3 1 0 2-2 1 0 8 7-4-3-2 3-1-4-2 2-1 1-1 1-2-3-1 0-2 2-2-3 8 5 2 0 1 0 0 1 1 2 5 0 1-2 1 2 3 1 2 5-3 0-1-2 0-1 0-1 0 4-2-2 0-1-2 2-1 5 3-2 1-1 4 2 1-1 0 1 1-2 3 2 7 7-3-2-2 1 0-1-1 1 0 0 0-1-2-2-1 2-3 1 0 0 5 2 2 3 1-1 2 1 0-1 2-2 2 3 0 1 3-4 2 2 3 4 0-1-4 0-1 1-2-1-2 4 0-4-2 2"/>
<path class="mm" d="M1560 163l-19 5 0 4 0 2 0-3 6 1 6-1 4 2 3 3-2 1-1 0-1-2-4 1-1 3-1 0 0 0-2-4-1 4-4-4-2 2-1 1-1-2-1 4 0 3 2-2 1-1 0 1 2 2 2-2 6 0 0 1 0 0 1-2 1 1 1 0 0 0 2 3 2-1 1-2 0 0-6 4-5 2-1 2-2-1-1-1-1 2 0-1-2 1-1-2-1-2-1 0 1 7 1-2 2 2 1-2 6 2 3 2 3-2-2 5-11 1"/>
<path class="mn" d="M1587 127l-39 2 10 2-9 4-4 9 29 0 8-1-36 10 15 5-11-1-4 1 10 3 0 8 14 5-21 6-5 21 8 0 20 0 2 5-33 7-2 16 17 2 5 1 10-1-13 4"/>
<path class="mc" d="M1613 84l-3 8-6 7-5 4-3 20-2 7 10 4-14 6 4 0-9 9 12 8-20 16 3 4-1 0 0 6 16 10-5 3-9-1 10 11-4 1-3 14 4 6 7 14 0 0 8 8-4-2 10 12-9-2 19 20 19 6-9 6-13-4 15 5 10 6"/>
<path class="mh" d="M1620 54l41 4-44-1 11 7 2 7-18 4-6 8 6 3 0 5 62 4-70 4 25 15-19 5-5 1 105 8-101-1-12 4 12 10-15 5-6-1 99 8-99 3-4 6 1-2 82 2-86 6 5 4 7 4-9 11 2 5 6 9 3 1 2 7-4 14 6-2 31 2-28 6-1-1-7 15 13-2 1-1 25 0-35 6 0 5 30 3 6 3-24-2-3 9 30-2-17 10 12 12 0 0 0 7 16 0 9 5-5 4"/>
<path class="mf" d="M1636 52l-7 5 0 5 6-1 39 0-11 17-6 1-35-3 28 5 3 4-38 9 44 5-20 2 32 3 14 1-69 1 32 7 12 0-41 6-11 0-1-4 94 8-14 6-14-3-40 8 3-4 29 0 37 0-81 8-8 5 67 5-15 0-51-3 73 8 26 2-70 0-48 0-1 8 29 0 23 1 44 3-16-2-44 4-29-4-11 0 8 8 83 5-82 1-21-2 9 4 12 3 7-1 66-3 3 6-80 1-44 2 54 10 22 4 25-3-37 5-1 0-25 6 44 2 67-3-1 8-12-2-39 3-18-1-3 2 11 4 27 0 21-2 25-1-92 8 5 5 27-1 19-3-64 5-4 7 4 0 97 0-20 5-12 1 4 5-42 4-5 0-1 1-15 2 27 4 2-1 48-2-7 7-63-1-3 1 13 4 20 0 6 2-19 7 5 2 7 0 0 3-1 2-12-3-12 3"/>
<path class="mi" d="M1635 52l-12 6-5-1-2 0 14 8-21 13 1 9-7 15 7-2 8 4-8 3-8 0 11 6-17 15-3 2 2 1-5 4 11 14-10-2-8 2 0 9 11 3-16 19 8 26-3 7 6-2 12 28-10-2 17 15-12 3 21 9 22 4-31 0 36 20-12 0-3 4"/>
<path class="md" d="M1629 60l-3 11 6 2 18 5-31 1-7 1 9 14-6 1-6 16 60 25-43 11-21-1-13 15 3 10 88 8-73 3 22-1 21 2 3-2-74 12 98 13-73 2-1 14 8-2 26 6-39-1-3 4 4 12 68 3 35 2-32 4-61 5 72 8-54 10 11 1 2 0-18 3 12 4 14 4-5 4-9 0-7 0-5-2"/>
<path class="mj" d="M1645 53l84 5-11-3-2 3-10-2-10 0-5 0-1 3-37-3-6-1-2 2-3 2 8 1 21 1 7 1 5 1 26-1 78 6-78-2-12 3-3-4-7 8 1 0 3-1 0 0 11-1 21 6-11 0-24-1-8 0-12 3-7-2-21-1 5 8 9 0 17 0 12-2 39 1 14 6-1-4-31 3-3-1-8-1-2 2-3 1-63-3 16 8 16 0 25 0 26 0 5-2 33 2-45 5-16-2-2 0-62 6 13 0 29 0 12-3 3 0 1 2 15 0 15-2 1 0 13 2 11 2-75 1-27 1-11 0-1 8 50-2 7 0 13 2 18 0 62-3-61 7-41 0-5-2-4 0 0 3-8-1-11 1-20-2-4 3 11 0 13 0 32 1 33 2 11 0 2 2-2 3-30 1-8-2-13 0-34 0-6 1-11-1 2 3 12 2 21-1 1-1 12 3 8-3 11 0 3 1 12 3 4-4 32 2 1 0 37 4-41 2-6 1-6 0-25-3-20 1-3 0-22 0-5 0-5 2-9-4 0 4-7-2 10 6 11-3 20 0 11 4 23-4 2 2 20-2-2 6-14 2-4 0-5-1 0-2-37 4-7-3-46 6 6-2 26 3 4-3 12 3 6 1 11-3 4 2 11-1 17 1 8-1 46 7-16-4-29 4-75-3-32 0 13 5 12-1 3 3 7-1 16 0 12 1 1-3 7 3 7-2 10 3 13-1 15 0-10 3-4 2-14-1-9 2-9 0-36 3 17 1 3 0 16-3 3 3 31-1 31 4-23 2-19-3-13 3-10-3-9 3-2-3-116 9 109 0 4 0 1 0 19-4 27 1 2-1 6 9-1-4-3 3-16-2-17 1-4 0-123 5 82 0 9 2 21-2 26-2 1 3 17 0 55-3-7 8-63 0-14-3-10 0-16 2-39 1 26 2 10 0 2 4 0-4 5 1 17 3 5 0 19-1 1 1 38-2 13 2 1 2-25-1-9 0-27 3-7-1-17 1-19-3-3 2-11-1-6-1-7 3-13 6 20-4 70 3 2 0 7-2 9 2 39 6-37-1-34-2-25-1-14 0-2 2-5 0-15 1-14 6 69-2 25 2 16 0-32 5 0-4-4 0-1 1-63 3 22 2 12 0 4 3 3-3 9 0 10 3 14-3 20 1 1 0 3 0 26 1 23-2 24 0-21 8-98-1-23 0-5-3-21 2-1 3 7 2 63 1 1 1 69-2-83 4-23 0-5-1-32 1 65 7 25-1 66 2-76 2-2 1-8 1-1 0-3-1-14-1-13 3-14-4 5 5 7 0 27 0 10 0-6 9-12-2-5 0-6 1-1 0-7 1 5 3 5 2 8-1 3-1 7 1 2-2-4 7-12-1-5 0 0 6 10 1-2 5"/>
<path class="me" d="M1643 52l40 5-9-1-26 2-9 1 18 5 1 0 22-4 10 2 29 0-29 4-27-1-24 1-2 1 6 7 11-1 10-1 45 0 2-2 10 9-46-3-28 8 1-3 11 2 3-3 63 3-70 8 21 0 22 5-33 0-26 3 6 2 9-1 12 3 27-2 27 2-14 3-1-1-17 2-5-1-4 1-12-1-17-1-15 4-11-4-1 3-5 5 7-2 5 2 0 1 6-2 77 2-26 4-14 0-33-3-1 0-3 1-14 0-19 8 8-4 51 0 5 1 0 0 21 3 11 0 5 5-49-2-27 1-9-1-4-2 153 10-113 2-3 2-19-4-6 2-2 1-13 5 2 0 6 1 18-1 29-1 8-2 4 0-4 7-8-2-4 0-7 4-47-2-6 1 1 4 4-2 43 3 1-1 31-1 5 3 5 0 53-2-52 3-7 3-10 0-10 0-38 1-23 0-68 2 70 3 46-1 11-1 13-2-4 6-30 0-5 0-17 3-26 3 10-1 0 1 5 2 18 0 75 0 11 5-64-1-9 0 0-1-8-1-7 0-12 1-13 0-29 1 60 5 9 1 3 0 4-3 31 0 45-1 4 4 13 5-26-3-17 2-52 0-11-1-7 1-7 1-29-3 0 2 4 2 8 1 11-1 32 1 10 0 64 1-19 3-10 4-5-1-12-2-2 0-6 0-5-1-5 2-8-2-17 3-8-2-3-1-1 1-28 2-41-2-9-1 62 8 0-1 16 2 14-2 1 1 0-2 50-1 22 9-7-3-5 3-18-2-6-1-23 0-14 1-15-2-19 9 4-1 41-3 0 4 6 0 21-4 10 4 4-4 6 8-54 1-7-2-12 2-6-1-2-3-4 1-4 5 3-1 10 1 7-1 3 3 51 4-8 2-58-1-17-3 14 9 8-1 12-3 15 4 8-3 5-1 114 4-60 2-85 1 1 6 3 0 15 0 12 1 16-2 1 0 4 0 0 7-4 0-1-2-49 3 36 1 2-1 17 4 12-2-14 7-6-2-13 1-2-3-6 4-12 5 51-4-8 5-27 6 22 6-18 0-18-2 26 10-8 5"/>
<path class="mg" d="M1699 52l12 1 28-1-74 9 2-1 6 2 10-1 104 4-33 1-116 3 21 6-7 0-5 2 0-1-23 3 6 2 6 0 29 3 3-4 53 5-22 0-24 3-16-3-23 4-2-1 6 5 12 1 20 3-10 1-26 1-4 0-10-3-2 5 12 1 4 2 6-4 1 2 9-1 16 7-5-3-16 0-2 4 53 1-13 6-29-1-10 0-4 0-11 1-11 1-6 1 16 2 1 0 15 8-7-2-7 2-21-3-4 7 29 1 28-3 17 3-22 4-24 1-20-2-3 1-15 7 6-4 8 2 24 1 41-3-40 6-20 1-7 1-12-3 20 8 31-3 26 4-21 5-36-2-1 0-14 3 5 0 6 0 71 2 3 1 4-2 17 3-22 3-24-2-10 1-19 1-23-2 8 5 15 0 42 0 14 1 3 5-3-1-18 0-6 2-3-1-12 3-10-1-3 1-19-4-11 3-2 0-11 0-6-3 12 7 11-1 6 3 37-1 4-1 1 2 48-2 5 2-47 4-46 0-17 1-4-1-2 4 5-1 8 0 3-1 1 4 9 0 25-1 16 1 44-2 13 7-22 0 0-4-29 4-15-2-5-1-42 0-6-1 1 6 13 2 50-3 98 3-70 3-11 1-7 2-8 0-2-4-10 4-24 0-41 1 58 0 29 1 4 2-14 3-6 2-22 0-2-1-4 1-11 1 0-3-3 1-16 2 41 1 33 4 65-2-83 6-6 0-1-3-13 3-4 0-10-2 108 11-121 4 13 1 79 0-17 4-40 0-15 3-12-1-2 3 38 1 8 11-34 8 11 3 3-4 4 1 0 2-16 6-6-2-4 1 14 2 19 3 2 1 6-2-22 9 5 4"/>
<path class="ml" d="M1620 53l-2 8 4 1 11 7-12 5 10 0-18 10 4-2-4 13-12 3 18 3-13 5-1 1-5 0 13 4-10 5-2 0-19 45 8 6-9-2 1 14 9 4 0-2-11 4-3 11 7 13-2 5 6-3-5 6 16 3-12 7 6 12 18 8-14 1 33 10-23 5 2-3 2 1 29-1-16 14 8 5-18-1 39 11-23 3 0-1 26-1-18 11 13 0"/>
<path class="mk" d="M1665 53l58-1 54 7-6-3-83 0-3 1-34-1-5 2-10 0 20 5 2-3 15 1 16-1 9 1 15 1 38-1-65 8-32 0-30-3 18 4 0 1 15-1 9 3 19-1 30-1 14 5-33 2-16 1-1-1-22 0-8-3-12 0-3 5 2 1 25-1 30 3 24 1 24 0 19 4-110 0 0 1-13 0-5-2-2 2-4 4 1-3 7 2 4 1 15 1 18-2 0 1 17-3 9 3 7-2 10 7-38 1-2-4-10 3-18-1-3 1-8-2 0 2-2 4 56 3-6 0-29 3-33 5 20 0 1-2 30-1 20 0 2 1 56 4-45 0-5 4-3-1-19-1-34 1-7-1-14 3 15 2 10-1 7-1 19 2 44 0-15 7-16-3-16 1-7 0-8 2-8-4-16 0-21 8 2 0 19-2 4-1 11 2 3 0 15 1 14 1 9-2 17 1-11 5-42 0-8 1-32-1-1 4 2-1 21-1 5 4 29-4 13 3 19 0 67 4-92-2-5 0-9 0-4 2-16 0-5-2-14 4-18-2 8 6 8-2 21 2 72 0 6 1-37 4-32-2-37 2-3-3-61 5 99 3 12-1 27-1 18 1 1 0 61 6-65-3-1 0-26 4-39-4-5 1-1 2-33 5 7 0 23 1 26 0 26-4 0 4 26-1 9 6-58-2-24 1-5 1-31 0-23 3 67 2 3-1 13-3 6 0 19 1 14-1 12 3 5 1 6-2 53 0-66 7-35-2-3-1-32 1-2 2-7-2-2-1-2 2-1 1-4-1-69-3 46 9 34-4 50 3 5-1 20 2 10-3 0 1-15 3-10 0-8 1-12-1-21 3-17-1-8 6 0-1 34 0 20-2 24 0 15 3 2 1-1 2-2 3-25-2 0 0-27 2-6-3-82 1 31 5 16 0 37 0 13 1 15-2 10 0 40 0 5 2 10 4-11-2-7 3-65 0-4 0 0-3-4 2-14-1-12 3-12-3-19 2 17 4 4 2 16-2 25 1 12 0 13 1 40 1-53 2-12-1-11 2-7 0-19-3 13 5 2 2 27 1 13-1 6-2 19 0-21 5-1 0-12 1-28 3-22-3-5 5 14 3 15-2 1-1 16 0-1 4-32 0 13 5 20 1 5 2 26-3-32 6 0 7 29-1-3 5-38 4 1 2 6 1 5 0 9 0 1-4-14 5-3 16"/>
<path class="md" d="M1629 67l40 4-35 8-16 3 19 1 54-2-21 6-30-2-31 3 6 4 24 5 33 6-55 4 35 12 69 4-64 3-64 3 12 4-2 6-11 1 11 1 1 0-21 4 16 6 109 0-117 7 24 5 21-3-26 13-22 8 98 6-108 7 11-2 54-1 70 7-123 4 105 5-97 5-13 4-2 3 22 6-4 0 4 10 5 6 59 8-23-2-21 2-17-3-1 4 6 7-6 1 47 5 21 2-55 9 5-2 21-2-2 10 7 4 16 0-19 3"/>
<path class="mj" d="M1665 53l38-1-26 5 0 2-10-1-7 0-18 3 30 2 35-1 7-2 1 2 3-2 40 2-34 5-32 0-14-1-13 0-2-1-4 3-11 3 14 1 20 1 27-1 4 2 21-3 53 0-65 4-38 3-4-3-2 3-1-3-10 3-14-1-17 5 47-1 18 3 5-1 3-3 49 8-68-2-4 0 0-1-2 1-55 1 0 7 30-2 14 1 2-1 15-2 0 0 3 0 7 4 1-1 20-2 24 0 13-1-14 7-21 1-41-1-24 1 0-3-29 0 19 9 28-2 9-2 5 0 28 1 3 0 9 0-17 7-16-1-48 2 29 4 19-1 1 2 10-4 33 9-48 0-8 0-10-2-19 1-29 6 35 0 7-2 26-2 5 4 18-1-11 5-6 0-3 1-32-1-20-3-29 6 4 2 9 0 3-3 34 0 16 0 11 4 47 2-4 2-18 1-7-1-30-1-23-2-19 2 0 7 9-4 6 4 21-3 9 3 33-2 23 0 13 4-42 3-14 0-22-4-9 2-33 2-24-1 10 6 35-4 12 0 3 0 16 1 14 2 3-1 6 0 21 5-18 0-2 2-5 0-28-3-4 1-20 2-23-3 23 4 1 2 3 0 10-1 14 2 7 1 51 0 27 5-14-3-40 1-18 1-31 1-44 4 50-2 8 2 4 0 0-2 7 2 19-3 11 0 17 4 48 4-69-3-27 3-13 0-23 1-10-3-29 0 23 6 48 2 8-4 1 0 13 1 13 0 44 5-5 2-23 0-19 0-18-2-5 0-6-1-1 2-28 2-31-2-59 2 53 4 22 1 8-1 29-3 1 1 7 1 15 2 2 0 5-2 9-1 12 1-14 7-18-4-20 0-1 2-14 2-1-3-3 1-95 7 41-1 6-3 1 2 36 0 7 1 1-3 1 1 33 3 10-3 24 0 11 2 30-2-60 8-13-2-27 2-31-4-8 5 22 1 2 0 8-1 12 1 17-1 11 2 61-1-82 8-1-3-14 3 0 0-48-3-5 4 74 1 17 2 22 2-11 4-8-1-7-2-4 1-8 0-6-2 0 2-4 2-4-4-31 2-8 2-21-4 22 8 17 1 0 0 12-1 0 1 3-4 14 0 6 1 18 1 11 2 17-1 36-3-1 7-68 0-31 1-19 1-18-3-1 4 28 0 15 0 10 3 5-1 4-1 17 4-6 3-2 1-52 1 4 2 4-1 12 3 13 0 7-3 3-1-2 6-7-1-4 4-27 0-5 3 13-2 9 2 3-2 19 0-37 7-3 2-3-2 19 11-12 2 12 1"/>
<path class="mk" d="M1650 54l2 0 34 0 11 0 8-2 56 6-3 1-57-4-1 4-10-4-3 4-10-4-5 4-2-2-17-2-3 3-6 3 1 3 9-4 1 2 4 1 13 0 71 1-33 4-16-1-8 1-18-1-14-2-8 9 12-4 2 1 6 1 22 0 59 6-39 0-62 3 20 2 13-1 38-1 15 4-4 4-25-3-19 1-17-2-9 2-22-1-11 8 13 0 9 0 50-3 30 2 25 4-1-2-26 0-37 4-29 1 1 2 17 0 5 2 41-4 15 2 34 6-62 0 0-1-2 0-14-2-30 3-1 0-17 0-18 3 0 0 14 1 38 2 19-4 2 2 61 0-61 5-20-1-1 3-4-3-1-1-23 3-26-3-21 9 47-2 17 1 34 1 79 2-59-1-35 3-2-3-11 1-51 0-2 3-13 2 10 3 18 0 29-2 3 2 3 0 1-4 84 9-2-4-41 3-11 0-16 1-8-4-9 3-61 2 20 2 34 2 8-1 17 1 1 0 1-2 3 2 21-4 28 2-31 4-1-1-17 2-4 1-32 0-29 0-3 4 13 1 26 0 3 0 4-1 96 5-55-1-29 1-6 2-6-2-14 0-10 2-1 0-28-2-9-1-10 1 39 4 6 1 22 0 34 1 3-1 5 1 49-3-73 8-3-1 0 0-5 2-2-4-23 2-9-2-15 3 1 2 42 2 6 1 10-3 12 0 6 2-28 7-8-3-15-1-42 3-55 1-6 0 53 2 30 0 12 0 26 1 2 1 36 5-19 1-24-3-3-1-21 1-33-1-7 2-1-2 0 0-28 6 37 0 34 3 16-3 21 3 1-3 1 1 9 2 7-1 8 1 38 4-74 0-7 0 0 1-9-1 0 0-7 1-1-3-2 1-17 7 16-2 0-2 17 0 23 2 5 1 3-1 14 6-16 1-22-2-6 0-44 1-17-3 57 5 2 0 6 0 8 1 43 2 58 6-48 0-12-1-36 1 0-4-15 3-32 0-32-2-1 0 14 6 13 0 55 0 10 4-7 2-7 0 0 0-39-1-16-1-10 0-8 2 55 5 0 1 33 0 17 0 62 0 15 5-73-4-27 1-18 1-17 2-29 3 7 1 2-3 8 3 7-1 19 2 3-1 2 0 26-2-5 6-8 1-8 0-8 0-16 1-11-3-8 4 2 3 15-2 7-1 30 9-4-3-12-1-3 0-1 4-5-1-6 1-2-3-9-1-8 4 7 2 7 3 10-1 1 0 10-1 0 1 4-1 14-1-43 7-1 1-10-1 5 5 4 1 15 0 2-4 13 1-39 12 33-2 3 0 0 2"/>
<path class="mf" d="M1653 56l-1-1 18 8 38 5-19 4-42 7-31 3 57-2 15 0-72 17-7 6 11 0 6 0 37 1 47-3-18 6-76 2 81 1 13 0-63 6-27 0 41 11-57 14 39-1 23 3 6 5-74 0 52 3 64 6-115-2 56 7-43 5-11 4 16 3 35 5-56 0 0-1-6-2-47 4 30 3 17-1 107-2-3 7-35 0-35-1-2 3-14-1-11 0-3 3 13 3 22 5 21 3 31-1-65 6-55 3 48 2 1-2 33 3 52-3-36 6-13-1-47 3 76 4 25 4-53-1-53 1 30 7 10-2 21 7-50-3 9 7 30 0-7 5-31 0 28 3 1 3-19 3-6-1 26 7 19 7-13-2-23 2 3 4 53-3-35 12 9-1 2-1-7 12 7 2"/>
<path class="mh" d="M1622 52l13 5-6-1-9 7 6 10 25 1-19 4-4-1-17 3 0 0 1 1 82 5-87 8 31 3 33 7-72 19 24-3 39 2 36 0 7 3-36 2-71 5-4 6-7 18 0 6 1 1 8 3-12 2 0-3-3 1 8 12-7 1 3 9-1-3-1 0-1 6 4 0 2 0-5 5-5 3 3 8 39 9-34 1 58 10-49 7 61 4-65-2 3 6 2 0 21 11 7 3 15 8-26 7 2 0 21 3-1 9-2 11 3-4 10 8"/>
<path class="ml" d="M1618 53l9 6 5 3-9 7-3 0-2 0 11 2-16 12 0-2-2 8-1 2 10 3-13 13 7 10-15 1 3 16-15 8 6 23-5 4 0 7-6 8-3 2-1 7 5 11 5-1 3 2-8 2-2 3 16 13-9 4 3 9 2 4 36 11 1 5-17 5 0 10 16 19 12 0 12 5"/>
<path class="mg" d="M1633 54l144 1-138 4 16 3 21-2 41 2-4 5-16-1-2 2-6-2-21 1-8 2-8 5 38-4 9 3 31-1-2 7-49 0-7-1-19-1-4 6 73 6-22 0-64 0-16-2 52 6 37 1 39 5-60-4-35 4-26 3 8 0 5 1 2-2 20 2 25 0-2 5-63 0-13 5 1 0 2-2 44 0 65 6-56 0-31-1-1-1-16 2 9 5 15-2 22 0 1 4 25 0-29 2-40 2-1-2-6 3-8-4 5 7 23 0 26 0 15-2 21 0 17 0-55 9-18-2-19 1-24 2 4 1 27 3 17-1 0-2 32 0 81 5-36 3-36-3-55-1-7 3-31 5 11 0 28-2 84 3 14-4-35 6-30 3-25-3-23 3-2-2-2 1-6-1-17 1 13 3 9 3 29-4 30 4 13 3-23-2-23 0-4 4-2 0-1-1-25-1-10 1 3 6 50-1 23 0 22-2 49 2-77 6 0-3-8-1-13 2-8 0-47 7 4-4 28 3 4-2 16 0 25 3 30 0 0-3-13 6-16 0-15 0-19 0-21-1-16 2-6 0 7 5 25-2 11 3 16 0 18-1 26 5-53 1-21-2-9-1-4 4 4 4 12-1 73 5-46-2-13 1-36-2 43 5 11 4 24-4 14 3 7-2-61 7-38 5 14-2 1 1 25-1 14 7-1-1-9-2-1 3-36 0-7-3-2 4 20 3 43 0 28 7-1-3-20-1-3 1-16 1-1-1-24 7 5-2 6 3 21-2 36 6-15-1-13 1-56-1 1 6 8 1 6-1 4 1 22 2 14 13-6 0-31-4-8 3-2-2 23 9 1 6-2 10 11 0 6 3 7 3"/>
<path class="me" d="M1628 53l44 1 25 3-18 0-25-2-8 4-2 4 9-2 9 3 5-2 7 0 43 0 4 0 68 0-86 3-63 5 4 2 11 1 9-3 7 1 22 1 14 5-12 1-63-3 5 6 3-1 1 4 2-2 27-2 4 2 31 1 20-2-38 7-9 1-5 0-11 3 12 0 74 5-94 1-34-3 2 8 17 1 1-2 11-2 2 2 7 1 32 0 35-1-21 5-49 0-5-1-4 1-3 1-14-3-14 7 17 2 27-2 4 2 21-1 31-1 4-2 5 3-28 5-28 1-14-4-47 0-4 7 6-1 12 3 25-1 7-3 34 1 0 1 2-1 5-1-11 8 0-1-8 2-6-4-2 0-20 3-14 0-12-3-3 1-2 0 2 5 1 0 18 2 52-1-15 3-26 0-20 2-4 2-7-2-7-1 11 4 19 3 1-3 11 1 1 3 16 0 29 3-15-2-19 0-7 2-4-1-5 3-36 0-9-2 33 5 4 2 10-1 7 0 9-2 2 0 19 3 14-1-25 2-27 3-45-2-8 5 11 2 8-2 6-1 18 1 3 3 7 0 27 0 2-2 12 0 3 7-7 0-7-4-16 2-10-2-15 1-4 0-15 3-15-1 12 5 13-2 1 3 1 0 22-2 26 6-44-1-10 1-13 1-3-4-3 4-4-1-13 6 4-4 2 0 6 2 9 1 13-3 67 0 4 2-27 3-9 0-10 4-30-4-15 0 15 5 2 3 13-1 10-2 2 3 15-1 27-1 70 7-62-1-24 0-5 1-24-2-1-1-11 0-15 0 1 8 12-3 18 1 12 1 15 0 9 0 55 2-40 5-32 0-9 0-8-4-18 0-32 0-1 4 34 1 10 4 3 0 5-4 91 4-60 4-11 0-19 1-5-4 0 0-15 3-16 1-3-2-10 3 49 2 87-1-57 5-16 3-6-1-1 1-9-2-4 0-16-1-12 3-1 0-4-3-6-1 14 6 1 2 1 1 5-1 25 1 39-4 13 1 1 3-14 1-20 4-25-2-18-1-25 8 3-3 4-1 18 3 18 1 13-4 20 3 6-3 3 0 18 1-6 8-32 0-2 0-11 0-8-2-4-1-22 1 4 6 39-1 13-1 23-1-24 5-6 1-9 0-12 4 19 4 3-4 11 7-1-2-30 3-5 0-10-1-10-1 22 8 31-3-50 4-4 2 18 3 10 3 1 6-17-2 22 8"/>
<path class="mi" d="M1623 53l2 2-4 4 8 9-8 5 0-3 5 8-9-1-10 9-1 7 11 0 3 6-10-2-3 0-3-1 7 6-15 15 1 22 0-4-6 7-5 15-3 45-2 7 7 1-3 11 1 0 5 11 4-1 1 2 25 21-18 8 12 6 7 5 14 20 6 6-5-3"/>
<path class="mc" d="M1622 56l-6 7 8 1-8 6 3 0-5 5-6 8 4 6-1-2-6 13 3 6 0 5-11 9-7 12 5-2-2 5-12 33 2 8-1 16-4 11 11 24 9 21 6 5 14 11 20-3-25 6-6-1 28 6 13 2-21 5 1 6-4 6"/>
<path class="ml" d="M1633 56l-6 2-8 3-4 13 1-4 12 6-4 3-21 11-4 20 0 0 9 1 7 0-13 8-8 7 8 6-15 4 10 11-8 0-2 12 8 6-13 0-2 3 13 11-16 5 4-1-4 5 4 5 4 12-4 4 13 2-2 7 8 2-1 11 32 28-3-4 17 16-20 4 28 11-26 4 5 4 25-3 2-1-15 8"/>
<path class="mh" d="M1631 56l-6 2-5 5 5 6-8 2 11 0-15 8-8 13 2 0-2 3 80 14-69 0-14 5 2-2 84-2-66 17-27-2-4 3 5 6 11-1-12 6 53 2-64 11 19 1-18 3 3 5 9 1-8 6 0 0 84 10-87 5 34 5-5 1-34-4 6 6 27-1-26 5 52 14-9 4-34 5-12 2 17 7-8 2-7-2 2 8 107 9-97 2 5 6 1 2 29 1-16 4 20 2-20 5 0 4 8 8-14 4 20 7 15 4 11-1"/>
<path class="mc" d="M1611 80l-4 10-2 5 2 7 0 6-3-3-2 7-10 11 6 0-11 22-6 7 7 3-2 2-8 11 3 5 0 15-1 2 1 3 4 25-2 0 2 5 4 11 3 4 5 2 8 15 7 14-3-3 4 5 4 0 30 6-30-2-4 1 17 5-1 5 14 12 1 2"/>
<path class="mg" d="M1711 58l-36 0-6 0-33 2 10 2 7-1 30 7-31-3-2 3-7 2 3 0 5 1 77-1 2 6-66 2-4-1-25 2 18 5 5-1-18 6 3 5 20 0 65-2 59 3-105 3-21-3-35 4-4-2 29 5 3 0 64 3-34 4-30 0-30-4-2 3-14 2 46 4 84-3 20 0-98 8-8-4-16 4-4-4-18 5 10 1 16-1 10 0 7 1 38 7-25-1-21 0-49 3 10 4 19-3 33 3 15-3 13 1 4 0-7 6-14 1-2 0-10 0-6-1-34-2-20-1-2 7 3-1 0 3 14-4 0 4 5-4 81 3-15 5-20-1-6 0-3 0-42 2-3-2-13 6 25 0 28 1 5 3-55 0-6 0-2 0-6 0 10 4 33 0 6 3 13-3 29 0 9 1 11 7-3-3-37-1-23 2-19 0-27 3 6 4 83-2 81 3-57 3-72-1-23-2 18 6 81-1 19 4-3 3-128 0 56 6 2 1 21-4 3 9-43-1-21 1-19 0 4 4 15-3 18 1 12 1 18 2 6-2 3-2 10 3 3-1 48 1-17 5-95-3-20 2-1 1-4 2 18 1 32 3 9-4 64 9-79-4-19 2-13-1-5 4 4 3 71-2 18 8-28-3-3 3-37-4-19 2 15 5 15-1 5-1 64 1 1 0-97 7-2-1 21 6 1-2 118-1-83 5-24 7 8 4-1-1 17 9-25 2-8 6 17 0 5 3-23 1-11 1 40 6-2 10 2-2 5 3"/>
<path class="mk" d="M1659 53l59 1-6 5-14-1-18-2-24 3-25 5 9 0 8-1 50-1 21 1 27 6-76-4-33 1 28 6 5 0 28-2 23 9-52-3-10-1-9 0-23 5 4 0 29 3 25 1 8-4 13 4 16 4-3 0-12 0-15 1-1-3-63 1-2 5 3 0 5 1 34-1 41 2 32 2-27 3-6-4-11 0-43 0 0 8 13 0 0 0 23-3 30 6-25 1-3-1-10 2-1 0-4 1 0-1-1 0-15 0-4-1-2-2-25 2 1 4 12 1 6-2 1 3 5-3 8 4 26-2 1 2 6-2 9 1 48-1-68 4-27 2-2 1-8 0-4-3-1 3-28 5 7-3 22 2 10-3 11 3 3-3 0 3 27-2 10 2 13 1-2 3-8 2-11-2-3 2-27-4-12 0-43 6 11-1 32 2 7 1 4 0 8-3 7 1 2 1 24 2-16 3-3 0-10 1-3-2-1 1-14-2-4 2-3 1-12 1-24-3-10 8 44 0 7 0 92 3-40 2-27-4-59 2 29 5 122 4-112 1-19-2-30 2 34 4 20 0 30 1 17 1-57 2-26 0-7 1-10 2-6 1-13 3 72 0 33 2 1 0 40-2 33 7-60-4-20 3-1-1-24-1-16-1-8 0-24 4-19-1-1 6 34-3 20 2 26 0 0 1 38 0 32-2-59 6-31-3-12 1-4 0-46 4 5 0 9 0 14 3 10 1 2-2 4-1 14 0 5 3 11-3 19 7-9 1-31-2-39-1-10 0-7 2 13 6 2 0 23 0 25-4 9 3 4 1 19-2 1-2 16 1 3 3 4-4 2 3 1-3 44 0-46 7-11-1-34-1-45 3-2 1-84-4 71 8 7 0 14-3 13 3 6 0 1-1 7 2 29-2 3-2 5 2 70-2-68 7-24-1-7 1-18 2-28 1 1 1 3-1 1 4 60 0 7 0 12 0 9 0 25 1-28 1-6-1-10 2-9-1-23 2-11 0-2-1-14 0-10-2-1 4 3 3 12 0 18 0 22 0 2-2 7 3 24-1 61 1-92 3-14 2-11-1-34 6 8-3 79 3 36-1 27 2 13 1-91 3-20-1-7-1-9 1-1-2-31 3 31 6 16-3 5-1 14 4 1 1-11 3-6-2-14 6 3 2 8-4 9 1-5 8-3-2-11 0-32 0 11 5 5 1 20 6-10 1"/>
<path class="mf" d="M1697 62l-70 11 3 8 6 7-21-1 12 3 2 1 1 2 6 4-9-2-16 8 5-2 6 2 14 1 79 0-94 3 2 4 21 1-13 10 8-1 47 1-18 4-4-1-63 1 4 7 60 0 8-1 18 1-28 6-63 3 62 6-68 1 0 5 7-3-4 5 7 8 20 10 25 0 62 4-119-1-28 4 22 0 108 0-90 8-10-4-7 0-44 8 1 0 106 7 65 7-61-1-35 0-6 2 3 2 79 2 3 0-84 6 94 4-68 4-24 3-14 0 32 1 60 5-92 5 0 3 99 0-70 2 5 7 37 7-47-4 0 0-9 3-4 0 38 5-34 6 26 2 37 4-44 2-5 0-5 0-9 4 22 2 1 1 4 1 13 7 4 3"/>
<path class="mi" d="M1626 53l8-1-13 6-2-2-1 2 5 4 3 0-10 5-1 10-9 13 16 4 0 0-12 3 3 11-12 11-2 10-5-3-8 24 0 6-1 1-1 0-2 1 0-3 2 16 2 27 0 9-6 0 9 23 7 7 1 4 12 6-4 1-5-3-3 2 36 7-19 12-1 1-1 5 36 16-29-2 29 12-2-1"/>
<path class="me" d="M1651 52l1 1 12 0 9 3-22 2-3 0-20 5 39-1 8 2 1-1 13 0 9-1 1 0 66 6-57-1-35-1-30 8 5-1 9-1 8-2 4 0 20 2 21 3-45 0 0 1-2-1-14 2-15 0-6 2-2 5 7-4 24 0 16 0 13 2 12 0 24 4-25 0-1 0-58 3-11 0-13-4 10 5 23 0 14 0 0 5-17 4-4-4-16 7 5 1 13-2 35 1 17-2 3 3 18 1-2 3-19 2-87 3 3 2 2-4 5 2 1 2 9-2 8-1 44 1 7 1 30 4-44-1-6 3-31-2-10 0-9-1 16 6 13 1 5 0 3-3 40 3 13-3 12 3-3 3-15 1-6-2-6 0-19 2-25-1-13 3-12-1-3-2-13 6 37-2 3 4 21-1 6-3 38 4-73 5-7-3-1 0-6 1-11 4 6 1 36 1 6-3 4 3 9 1 4-4 38 0-55 8-27-3-11 1-17 2 29 6 15-1 2-1 35-2 1 4 24 2-21 2-8-1-6 0-5-2-8 0-7 3-4 1-2-2-7 2-25-1-17 5 4-1 13 2 13-4 17 1 34-1 9 0 5 3 14 6-23-2-5-2-34 1-15 3 0-3-12 0-7 3 36 3 21 2 29 4-8 1-14-4-24 3-27-2-20 3-2-1 36 3 7 2 17 1 9 0 25 0 18-3-25 5-39 3-36-2-16-1-32 1 29 5 17 1 10-1 24 0 15 2 1 2-1 0-31 0-17 1-2 6 28-2 3 1 11 2 3-2 7 1 22-2 17 2-31 3-3-1-22 4-13 0-32 2 11-1 3 0 19 2 35-2 17 1 16 8-12 0-31-2-20-2-30 8 8-2 34 0 12 3 5-2 43 1-32 5-3-2-7 3-20-3-3 1-20 0-12 2-5-3 1 7 26 1 3-2 10-2 5 1 8 1 24-2 2 6-31 1-19-1-19 2-11-3 9 5 17 2 33-2 40 1-1 4-55 1-19 0-14-1-10 8 9-1 43 2 35-1-32 2-1 0-7 3-6 6 6-3 39 0-11 8-29 2 11 3 5-1 6-1-40 3 23 8 6-3 6 2 2-1-29 4-6 2 13 4 11 1"/>
<path class="md" d="M1630 58l-2-1-1-2 0 2 25 6 20 0-40 3-4 10-3 1-4 3 4 5-1 3-7-1-1 4 10 0 16 2-25 11 34-3 42 3-89 2 29 6 4 4-32 8 5-2 28 6-14 1 55 7-32 3-39 0-17-2 17 6 16-3-29 12 86-2-77 6-14 1 82 6 25-1-118 3 91 8-85 16-7 10 13 3 5-1-4 12 79 0 16-1-100 3 105 6-35 8-63-2 9 3 31 6-25 3-12 1 82 7-71 0-4 6 7 0 5 6 7 4 51 1-35 2-6-1-24 7 23-1 9 4-29 2 28 6 3-2 3 3 22 1-10 5 0 4 3 4"/>
<path class="mj" d="M1639 54l12-1 28-1 10 0 5 0 87 6-9-3-57 3-3 1-3-1-3-3-20 4-42-2 23 5 21 0 47 2 16 0 8 1-79 4-43 3 2-1 7 3 2-4 29 0 43 4 20-2 7 0 41 5-17 2-39-4-13 3-24-3-15 1-6 0-5-1-15 1-3 8 10-3 5 0 7 1 14 1 10 1 5-1 30 1 34-1-49 5-18-3-15 3-5 0-10 1-1-4-6 3-4 0-8 1-12-4 4 6 4 2 23 1 42-1 49-3-32 5-35 0-56 3-13 1 86 4 40 1-21 5-16-1-14-1-5-2-11 4-14-1-2 0-16 1-4-2-1-1-24 8 54 0 6-2 99 6-66-2-14 2-12-1-68-2 46 8 10 0 41 1 4-4-15 8-7-1-3-2-12 3-9 1-9 0-10-4-7 2-35 4 24 2 20-3 11 2 25 2 59-1-48 6-11-3-11 2-15-1-4 1-33 1 24 1 74 3-32 2-3 3-14-2-6 3-1-4-17 3-11-1-1-2-17 5 27 0 20 0 27 3 5-1 75 2-70 2-3 0-19 3-11-1-2-2-22 0-3 0-19-1-2 0-10 3-12 6 10-1 29-1 13 2 19-4 7 4 8-4 12 2 15 3-30 0-40 0-1 0-18 0-86 2 57 5 19-1 26 1 3-2 10 1 51-1 55 1-30 4-36 2-10-2-52 2-37 5 12 2 15-1 18-3 24 4 11-4 24 3 41 1-104 1-6 3-19-1-46 2 33 2 57 3 8-1 16 1 18-1 2-1 3 2 78 1-71 0-12 1-12 1-11 0-15-2-2 0-21 4-20-2 45 7 4-3 14 1 6-1 12 0 4-1 4 3 2-2-18 8-14-4-1 4-9-3-3-1-2 1-13 2-1-3-1 3-12-3-12 3 0 5 20-3 42 3 70-3 5 4-53 5-1-3-15 1-18 0-8 0-9-1-22 1-30 1 40 2 1 4 20 0 1-1 42 0 0 5-2 1-8-3-6 2-32-1-3-2-7 4-45-4 33 5 29 1 0 2 9 0 5 0 4-1 20 7-80-1-1 3 3 3 24 0 15-1 10 0 8-1 0-2 2 4 11 2-3 2-5 0-4 0-15-2-2 2-6-2-14 3 0-2-37 3 33 0 27 3 5 1 2-4 18 0-28 9-14-3-12 1-4-1-10 8 46 2-5 3-2-2-26-2 6 8 18 1 9-1-7 6-20-3 19 8-6 3-8 9"/>
<path d="M1957.2 51.5L2095.2 51.5L2095.2 276.4L2085.2 275.1L2077.6 267.7L2070.1 255.3L2060.1 242.8L2045 232.9L2029.9 225.4L1957.2 225.4Z" fill="#e5e5e5" stroke="#e5e5e5" stroke-width="2" stroke-linejoin="round"/>
<path class="ma" d="M2030 224l5 0 7 5-1-1-7-1 0-1 0 1-2-2 0 4 1 2 0 0 1 0 1 1 1 1 3-3 1 2 1 2 1 0 3 0 0-2 1 2 1 0 4 0 5 3-4 2-2-4-4 1-1 0 0 3-1-4-3 3-1-1-1-2 6 5 4 1 1-1 3 4 1-1 1-1 2-2 2 2 0 2 9 2-2 2 0-1-3 0-4 0-1 2-1-1-5 0-4-3 9 5 1 0 1 1 1-1 1 0 1 0 1 4 1 0 0-4 1 1 0 0 1 1 0 1 6 1 6 5-5-1-1 0-1 1 0-3-1 2-5-3-4 0 7 5 1 2 4-2 0 4 1-2 2 2 2-1 1 0 0-2 4 3 9 3-7 1-1-2-1-1-4 3-1 0-5-1 4 4 2-1 1 0 2 4 1-2 1-2 2 3 0 0 0-3 1 0 3 2 0 1 0-1 6 3-1 0-2 2-2-1-2 3-6-2-3-2"/>
<path class="mm" d="M1861 168l-4 1-13 0 5 3 6 0 5-1 3 6-4 1-1 0-4-1 0 0 0 2-3-1 0 1 0-4-1 2-1 2-2 0-2-4 0 2 1 3 1 3 1-1 1-1 2-1 1 4 0-3 1 2 2 0 2 0 0-3 2 0 1 0 0 3 2-3 3 3 2-3-3 5-3 1-1 1-1 2-1-4 0 4-2-1-2-1 0-1-1 3-1-2 0-1-7 1 2 6 2-3 3 3 1-3 1 2 8 2 3-3 0-1-5 6-6-1"/>
<path class="mn" d="M1867 133l11 1 14 5-34-1 18 6-11 12-8 3 6 3 16 4 13 11-12 0 9 3-23 13 1-1 15 0-28 11 37 5-25 7 3 8 19 2-41 4-2-2 11 5 11 1-4 3"/>
<path class="mk" d="M2010 53l-66 3 11 17-5 9 6 14-37 2-8 1 26 2 8 0-20 6-12 3-9 15-6 10 8 9 100-2-3 7-92 10-11 4-19 31 14 7 1 34 28 32-6 7 12 2-2 2 2 5 28 3"/>
<path class="mc" d="M2059 56l-73 8-19 3-1 7 12-1 30-1 43 4-17-1-21 4-29-3-4 5 75-1-12 5-18 2 0-1-49-1-7 0 48 5 64 3 13 4-126 5 20-1 6 1 74 6-87-1-17-2-3 7 12-1 6-1 87 7-77 2-59-2 12 3 63 4 21-2 9-1 23 2 34 5-72 0-10-1-30-1-8 1-13 2-26 2 8-1 59 4 70 0-42 1-39 4-26-3-8 2-25 6 70-1-69 11 25-4 47 4 42-2 20 0-25 6-40 1-65-4-12 4 46 5 44-2 23-1 31-1-20 8-38 1-46-4-45 4 2 2 86 1-23 3-48 1-11 4 37 1 4 2 22-2 0 5-75-1 11 9 36-3 3 1 106-1-140 10 123 3 6 0-15 1-120 4 24 4 44-2 13 1 38 2-97 3-11 0-7 0-2 4 3 1 86 1 22-2 2 6-93 1-4 6 60-4 8 6-75 1 18 7 12-1 1-3 41 2-54 5 7 5 26 2 19 2-63 2 2 2 54 1-47 5-1 7 5 6"/>
<path class="mg" d="M1926 54l20-2 27 4-38 0-2 1-8 4 4 0 3 3 80-4-35 6-10 2-29-1-11 7 4 0 27-3 47 3 5 5-10-1-14 0-42 0-26-1 3 4 29-1 1 3 5 0 55-1-54 7-6-1-14-3-10 2-4 7 84 1-32 1-11-1-5 1-4 0-3 0-15-1-21 4 1 2 21-1 33 2 10 1 8 1-63 3-14 0-4-1-2 6 7 1 3-3 1 3 15-2 45 1 53-2-112 6-7 2-4-1-1-1 0-1-1 0 5 8 3-3 12 0 9 0 70 2-101 6-1-3-1 8 29-3 11 4 26-1 3 5-75 3 44 1 33 1-21 3-42-1-2 1-9 1-10 7 7-2 1 1 16-1 0 0-13 5-1 0-1-1-6 5 1 2 79 0-80 5-1 6 121-3-96 7-27 0-4 1 13 1 118 7-88 2-18-2-20 7 8-3 11 7-6-1-14 2 11 1-6 8-8 0 41 2 53 8-27 0-25 0-15-3-19 8 5-2 36 5-26 2-11 1-5 0 60 6-55 2 4 3 24 2 2-2 20 2 45 1 6 2-28 1-55 3-2 0-8 1 26 4 68-4-84 5-2 7 9 0 11 6-9 1-5 0-6-4 7 6 28 1 21 1-15 3-21 1-11-1 4 5 4 1 8-2 39 0 4 0-9 9-34-2 3 7 3-1 21 3-12 2-11-3"/>
<path class="mi" d="M1977 63l10 1 32-1 35 4-31-2-21 1-8 0-19 13 11 4 91-1-90 5-13 1-7 6 30-2 39 5-70-2-14 8 52 1 62 0 16-1-27 5-25-2-17 2-19 1-30 0 16 4 69-2-30 7-9-3-31 1-31 5 12 2 8-3 8 2 9-2 10 4 23 3-42 2-12 0-7 0-29-1-5 2 21 0 18 4 48 0 47 3-60-2-24 3-1 0-4 0-14-3-16 3-10 3 33 3 74 3-23 1-14-2-11 3-9-3-7 0-5 2-8 0-9 0-5-3-17 3 49 5 3-1 43-2-35 6-42 0-20 2-9 1 73 3 81-1-25 7-20-3-65 0-16 4-18 1 9 2 12 0 10 0 22 4-4 0-15 0-20-1-5 3-4 1 23 5 23-2 26 2 13 0-13 2-1 2-6-3-32 3-19-2-5 2-3 0-23-2 11 5 20 3 11-3 20 3 11-2 26-2 14 0-13 5-36 1-32-1-18 0-9 5 2 0 40 1 12 0 20 3 1-1 0-3 5 3 0-2 8 4-1 4-12 0-6 0-21-4-12 2 17 4 3 3 14-2 37 6-17-1-13-2-7 0 0 0-4 0-37 1-26 3-1-3 8 7 14-1 7 2 4-2 17 1 19 1 14 2-49 7 35-3 46 0 31 5-27 3-33-3-22 1-22-1-12 0 0 0 66 8-37 6-6-3-32 1-12-2 46 7 29 1 84-1-94 7-54 3 7-1 0-1 6 2 5 1 32-3-23 9-23 0 39 7-1 0-8 0-7 3-14-4"/>
<path class="ml" d="M1987 56l-4 8 10-3 17 0 2 3 6-1-35 2-12 4-2-4-30 1 56 5 10-1 70 6-94 2-19-3-16 7 29-1 40-1 52 8-68-3-15 4-8 3 32 0-22 4-1 1-35 2-7 3 51 2 49 2-32 3-2-4-77 9 9 0 7-3 46-1 45 6-51 1-21 0-10 2-16 5 3-2 4 0 20-2 103 4-94 2-10 2-39 2 16 3 1-2 59 2 19-2-48 8-10 0-39-3-6 2 62 6 9 0 36 1-29 0-40 3-21-2-6 4 12 4 10-4 14 2 10-2 16 2 75-1-57 6-65-2-2 8 18-3 33 4 20-1-83 2-50 3 77 5 49 1 12-3 0 5-77 2-33-2-30 7 54 1 12-1 28-2 24 0 21 1 8 6-16-1-42-1-28 1-33-1 52 5 35 3 12 5-3 0-23-2-3 0-27-1-11 1-6-1-10 3-21-1-49 2 52 0 67 1 9 1 23 1 11 3-44 3-38 3 63-1 5 3 7 2-35 6 5-2 16 4 25-4-14 8-1-1-14-2-8 0-5 3-7 0-8-3-6 4 39 5-35 10 46 0 11-4-18 5-65 0 43 6 17 2-15 6-1-3-9 2-23-3-2 8 46 2-1 3-26-3-14 4-10 0 6 8 11 8 5 7 1 0"/>
<path class="me" d="M1925 51l12 8-7 4 3 1 36-1 6 1-34 1-13 0-1 4 2 3 24 5-15 1-10-1-7 0-1 1-3 1 4 1 17 1 16 0-6 6-3 1-39 6 9 0 4-4 10 1 20 0 46 3-38 4-10-3-29 2-9 5 14-2 14 3-12 6-8-2 0 1-13 1 10 7-12 5 7-1 42 9-33 0-14 5 14-1 1 1-25 9 11 0 94 5-40 1-57 0-3-1-7 0-3 2 8 0 4 3-5 2-9 4 7 4 78 6-76-4-11 0 0 4 48 4 11 2-49 0-4 2-1 0 3 3 3 0 11 3 12 6-36-4 7 6 5 1 57-2 46 9-109-2 0 5 8 5-1 0-9 7 4-1 31-1 66 0-62 6-17-2-17 0-3 2 8 5 14 5 0-3-9 2 0 6 1-3 19 10-2 9-9-2-5-2 3 9 0-3 71 3 29-4-82 6-12 0 38 10-6 3-20 0-3-3-3 0-5 1 6 4 15 3-6 5-1-2-2-2-7 0 8 7 0 2 17 2-13 3 0-4-5 1 13 6 18 1 0 5-2-2-11 1"/>
<path class="mh" d="M1967 52l14 1 5 6-1 0-36 2 71 3 59 1-85 0-8 9 15 3-21 4 7 0-14 6 1 6 10-2 11 3 17-3 14 1 4 1 10 2-40 0-4 1-36 1-24-2 27 7 17 1 14 1 37-4-84 8-4 5 77-1 33 1-44 4-5 1-15 0-14 0-17-2-7 1-19 1 15 2 16 4 3-4 4 2 8 0 2-2 34 2-12 4-4 3-31-4-9 1-23 1-5 2-3 2 5 1 8-1 44 2 30-1-35 3-29 0-9 3-7 0-15-2 20 6 19-2 11 4 6 0 57 1-19 2-74-1-23 3 28 1 32 2 3-2 18 3 23 4-11-2-11 1-19 0-44 3-3 5 12-2 4 2 50-4 10 1 1 0 0-1 55 0-13 6-60 0-9 1-44 2-28-2 11 6 20-1 7-1 39 0 12 3-9 5-68-4 91 7 8 2-14 4-11 1-56-1-1-1-5 0-6 1 8 2 10 2 20 2 26 1-42 3-87 0-9-2 98 7 1 1 1 0 52-2 81-2-104 6-9 3-41-3-4-1-11 2-19 6 31-2 23 3 106 2-50 1-3-2-38 0-26 3-9 0-13-2-1 0 12 5 14 1 50-2 24 2 2-2-41 9-3-4-14 3-17-3-22 2-6 1 1 3 13 3 3 0 18 0 4 0 2-2 6 1 19 1 9 0 19-4 3 2 7 6-32 1-27-4-49 1-1-1 21 8 26 0 26 0 10-1 13 3-3 2-3 0-8-2-11 1-37-1-2 2-4 0-3 1-17 1 20 1 25 0 32 0-2 9-27-2-5 2 19 8-6 1-12-2-3 3-10-2 4 5 13 1 17 1-8 2-20 2-21 1 38 8-6 1-26-3 6 8 13-3 6 5-1 1"/>
<path class="mf" d="M1937 54l12-1 95 0-66 3-10-1-21 4-11 3 10-1 29 0 31-1-35 5-1 0-13 2-17-2 6 7 30 0 27 2-57 8 15 1 41 4-44-2-1 1-9 0-36 6 57-1 57 7-39-2-63 7 9-1 8 1 41-3 19 0 32 4-69 1-34 0-1 2-10 0-14 5 13 2 1-1 17-1 2-2 51 1 17-1-11 6-21 3-58 2 48 3 18-3-16 10 15 2 9 1 52 2-100 2-22-1-6 0 8 7 27-4-6 9-20-4 10 8 10-1 36 2 10 0 14 2-42 3-13-4-9 1-26 0-8 1-3 5 0-1 45 2 8 1 5 0 36-1 10 1-49 4-14-3-10 0-3 2-9 2-13-2-7-1 37 6 7-1 45 8-74-3-3 0-51 0 34 7 7 1 26-1 77 1-83 3-10 7 25 0 10 0 38-1-4 2-45 1-15 2 87 6 2 4-11-3-50 3-8 3 12 2 10 0-20 4-28 4 16 1 2 1 45 0 51-2 62 7-136 0-15-3-26 2 73 5 10 4-34-1-36 4-6 3 38-2 134 3-142 5-23 1-5-2-14 7 34-4 8 1-28 6 17 7 17-4 28 4-7 5-25-1-7 0-11 2 3 0 13 0 9 7-28 6 22 0-6 7 22 0"/>
<path class="md" d="M1948 54l18-1 16 0 37 5-11-2-13 3-34-1-6 3 13 3 9 0 58 4-18-3-48 5 1 4 20-1 99 1-116 3-13-2-26 4 4 5 17-1 19 0 1-1 33-2 12 3 13 6-40-4-1 1-12 3-10-4-19 3-20-1 9 5 151 6-92 0-1-3-1 4-3-4-31 9 2-2 39 1 16 1 4-4-49 9-13-3-8 2-18-1 6 7 16 0 5 0 9 0 38-2-21 7-31-1-14 1-1-3-4-1-12 3 33 3 0-1 12 4 91 1-62 3-25 1-7-3-51 1-5 4 13 1 66-1 0 3 2-2 25 0 2-1 6 7-1-3-30 4-26 0-2-1-43 1-12-1 10 3 10 2 6 0 35 0 1-3 10 2 8 1 12-1 13-2 33 9-51-2-20-1-40 0-5-1-17 8 27-3 29 0 12 2 35 1-29 2-22 1-33 2-33-2-3 6 5 2 2-3 26 2 8-3 9 4 12 0 52-3 2 4-25 4-31 0-18-3-39-1 1 7 9-2 3 3 26 0 15 1 12 0 33-3 3 3 45 4-35 1-43-1-13-2-1 0-2 0-9 2-18-2-6 2-3 1-45 3 22-1 10 0 16 1 6 1 29-1 95-1-45 6-39 0-23 1-8 0-12 0-64 0 61 4 65 0 12-1 21 1 44 2-43 2-77 5 24 2 12 0 42 6-20-4-13 4-6-2-6 0-38 5 15 1 8-1 12-2 17 3 0 0 3 0 55 2-28 2-24-2-6 2-28-2-23 4-15-3-1 5 25 0 3 0 51 1 5-1 3 3-19 2-19 2-23 1-21 0-8-1-12-2 10 7 75-2-23 7-22 0-19-3-7 1-2 3 26 4 4-2 56 0-17 6-31 2-3-2-24 2-15 0 27 4 19 3-8 1-20 1-10 3 38-1 5 0 13 3 9-2-33 8-11 2 20 3 11 0 1 3-8 0-11 2-4 0 1 5 8-1 11-1 1-1-6 6-24-2 12 11"/>
<path class="mj" d="M1950 59l7 2 1-1 6 7-13 8-12 10-2 18-15 6-20 54 1 1 0 5"/>
<path class="mf" d="M1990 54l1-1 13 2-16 0-18 1-25 2-2 4 13 0 62 2-22 3-10 0-14 2-2-3-20 1-4 4 3-1 15 2 24 1 6 1 0-4 16 5-28 2-33 0-8 1-6 1-6 3 9-2 77 4 67 0-127 1-5 3-24 3 2-1 66 7-53-2-5 0 0 0-5 3 40 4 4-2 14 9-4-3-12 0-22 2-12-2-10-1 19 9-22 4-9-1 82 8-7 1 0-1-3 0-81 1 46 6 64-2-13 9-29-1-57-2 0 1-22 2 18 4 6-3 4 2 32 1 3-3 6 1 103 0-89 6-15 2-34-2-27 6 63-3 5 4 18-3 0 1 30-1 47 5-120-1-59 8 15 1 19-2 5 2 2-1 1-2 4 1 6 0 56-2 11 6-22 1-4 2-44-1-5-3-6 4-28 1 5 3 19-3 59 1-23 4-26 2-20 1-55-2 69 7 88 2-30 2-9 1-41 0-23 1-11-1-36 2 34 2 68-2 17 4 38 3-21 0-3 1-62 0-25-1-12 5 110-1-3 8-36-3-62 3-12-4 20 5 68 1 10 0 4 5-37-1-5 2-42 1-1-2-17 6 8-2 12 1 4 2 7 0 29 1 46 5-39 0-48 2 18 3 67 0-60 4-21-2-19 4 22 4 7-2 31-1 14 3 28 0 12-4-18 8-13-2-61 0-1 2-1 1 70 2-16 7-25 1-17-2-5-1 26 4 4 2 32 2-7 5-49-2-1-2-4 3 47 2-49 7 52 3-29 19"/>
<path class="mk" d="M1951 53l-29 18 11 18-7 0 98 1-107 5-4 17-3 41 0 3-15 13 13 6 0 11-10 17-4 21 4 10 19 9 74 4-62 8-15 3 5 5 7 0-4 6-1 9 31 6 0 3"/>
<path class="mh" d="M1985 64l15-2 11-2 2 9-10-2-52 0-16 5 12-1 9 1 15 0 5 0 3 2 2-4 7 3 43-2 14 7-21-2-23 1-2 7 28 0-23 1-15 2-51-1 39 7 4-1 9-2 26 9-9-2-79-2 10 9 17 0 94 0-26 2-37-1-47 5 4 1 11 3 104-3-49 8-10-4-21 1-33 0-4 1 53 7 19-1-2 2-48 2-1 1-5-2-8 3-22 0 13 4 34-1 3-2 3 0 14 3 3 1 31-3-30 7-46-1-5 1-12 0-9 2 10 2 9 2 39 0 13-2 4-2 2 1 10 0-18 6-55 0-20 1-2 3 78 3 5-2 7-2-43 8-8 0-5 1-13 2 8 1 7-2 117 5-79 1-10-1-1 0-47 2-36 5 14-1 2 3 58-1 7-2 2 0 4 4-3 1-6 3-20-4-3 0-8 2-7-2-18 0-8 3 54 2 68 3-14 6-6-4-86 3-28 6 38-1 10-2 2-1 4 3 19-3 14 0 14 2-68 5-5 1-6 6 12-3 36 0 2 3 5-4 25 3 3 6-12-1-74 1 36 5 6-4 15 1 6 0 18 7 0-3-3 0-65 0 2 8 30-1 15 0 1-2 3 3 12-1 21-1-23 6-14 0-24 2-2-4-40 9 10 0 9 0 3-3 19 1 5 2 13-3 15 3 1 0 2-4 16 2 56 0-84 3-40 2-10 5 14-1 40 6-10 1-11-2-37-1 0 1 60 4 14 3 1 4-16 2-15-2-17-2-11 3-3 3 1-1 0 1 6 0 32 0 19 1 0-1-10 6-16 2-3-4-5 0-22 2 1 6 15 1 13-1 7-1 1 0 5-1-2 5-28 3-5 12 25 2"/>
<path class="me" d="M1982 58l-30-3-22 2-2-2 5 5 1 4 4-2 10 7-10 3 25 2 1-1 26-2 4 8-43-4-21 3-15 6 41 2-19 3-12-4-5 2-4-1 25 7 5 2-24 0-5 1-1-1-5 3-1 4 2 1 3-1 1 2 6-4-5 9-5-1-1 3 2 2 12 2-10 4-7 5 10 3-12-2-8 4-1 0 3 3 119-1-112 6-3 2-4-3 15 7-11 4-2-1-1 3-9-1 35 11-23-2-7-1-7 1 14 9-6 0-4 0-6 0 80 10-80 0 3 5 2 3 9-1 5-1 14 6-29 0-3-3-1 0-6 2 4 9 3 7 3-3-3 8-5 0 9 5 51 0-26 5-9-1-2 0-10-2-1 2-1 3 4 1 0 1 1-1 12 8-18-4 4 8 1-2 5 3 6 4-1-1-8 6 5-2 6 2 31 2-17 4-23-3-3-1 5 5 1 2 2 1 2-2 21 6-3-2-11 2-5 4 2-1 4 2 7 2 11-1-12 3-4 3 3 4 3-3 55 9-52 0-5-3-1 1 8 6 11-1 4-2 3 4 3 2-15-1-3 4 11 4 6 5"/>
<path class="mi" d="M2072 54l15 3-61 5 26 2-40 5-14 1 27 1-36 8-19-2-3 0-1 5 14 2 12-3 32 0-27 11 31 5-10 2-64 5 131 3-89-2-48 1 24 7 27-3 3 3 23-3-34 9 16 4-22 6-24 0-27-2 72 4 6 2 6 5-21-3-68 8 43-1 32-2-44 8-12 3 40 2 9 1 0-1-73 5-10 6 60-4 7 3 15-3 7 9-9-3-17 1-10 2-24 0-11-2 0 6 24 1 34-4 5 4 3-3 9 3 5-2 70 5-100 1-26-2-43 0-37-1 70 9 10-1 120-1-54 3-36 0-13 2 0 0-3 2-57 5 4-3 77 3-1 4-34-1-32 0-16 1 11 4 14 1 63 0-6 6-11-4-17 4-28 0-2-3 10 4 1 0 25 4 21 0 11-4 1 0 2 1-8 7-20-2-6 1-1-1-11 1-20 2 21 2 4-1 29 4 35 3-26 1-2 0-3-2-7 0-48 1-2 2 5 5 3 0 13 0 35-1 49-2 17 3-107 1 6 8 27 2-15 0-4 3-9 1-5 0-25 4 34 0 16-3-4 8-1 4-14 7"/>
<path class="mg" d="M1936 55l-1 0 0 3-6 0 0 0-6 5 6-3 0 1 1 1 17 1 9 6-10-2-6 1-15 0-2 1-1 3 12 0 4-1 8 1 30-2 1 4 41 3-27 0-31-1-19 0-24 6 15-1 76 4-38 4-14-2-15 1-16-2-5 1-1 0-6 3 13 0 9 0 1 0 16 3 3 1 50-3 18 5-74 3 0-2-7 0-28 1 6 4 27-2 6 3 15 0-6 5-31-2-20 1-3 1-2-3 3 8 5-2 1 2 6-2-20 13 11-2 10-1 28 3 27 2-6 2-62-3-10 4 10 2 85 2 6 0-86 5-19 2 18 1 4 3 38-4 42 1-21 5-17 2-52 1-11-2-7 7 9-2 3 2 7-1 39-1 39 5-70-2-7 0-4 3-14 0-4 6 16-4 8 3 36-1-48 4-8 2 83 5 12 4-3 2-82-1-7-3-5 4 39 5 52 0-77 4-16 2 20 0 0 3-14 7 0 3 8 1 12-1 4-1 59 1-79 6-4-3-3 5 16 9 7 2-20 5 2 7 4 0 2-1 2-1 17 2 60-2 18-1-35 7-45 1-10-3-5 2 9 6 7-4 88 9-102-2 10 3 7 4 35-4 29 2-61 4-1 3-14-4-2 4 38 1 18 5-22 1-16 3-9 5 5-2 33 2 7 5-38 2 3 1 30 6-1-3-22 2 4 7 8 0 4 0-1 3-6 1"/>
<path class="ml" d="M1971 52l26 0 22 1 9 3-10-1-52 9 17-3 14 2 5-2-61 11 117-1-30 4-13 1-4 6 8 1-49 4-13 4 59 1 8 2-41 4 0-1-17 1 8 5-40 9 19 2 3-3 1 3 12-2 14-2 1 0 17 2 11 1-36 3-19 1-25 2 45 7-35 2-9 6 35-1 7-3 37 6-21 3-3-3-40-1-21 1-8 7 62-2 15-1 1 1 23 2 40 1-99 5-21-2-4 2-5 1 54 2 5 2 66-3-111 4-30 1 5 8 19-3 40 2 4-1 14 6-40-1-46 4 3 3 30 0 25-1 32 0 6 1 7 0-41 3-20-1-2-1-2 0-36 4-5-1-4 1 49 5 3-2 3 0 45 2 8-2-21 3-12 0-9 1-18-1-91 5 47 1 61 3 10-4 2 3 22-3 12 0 6 5-5 0-22 3-35-3-7 4-18-3-78 0-9 7 76 0 24 0 23-1 3 1 14-2 7 0 10-1 32 0-40 9-16-2-23 1-24-1-3 1-14 4 16 2 16 0 16-2 36-2 31 2 58 3-95 1-2-1-75 3 17 2 0 3 31-2 46 7-37 0-10 3 4 3 3-4 16 4 28-4-7 9-6-2-19-1-15 2-39 4 51 1 1-1 28 5-11-2-34 2-9 2-10-3 0 6 4-1 7 0 25 3 1-4-10 9-5 4 5 1 3-4 0 6-5 0-15 3 6 2 12 0-19 11 19 4"/>
<path class="mj" d="M1964 80l-38 13 3 4-15 48 98 49-128 7 28 7 16 55 3 10"/>
<path class="mc" d="M2029 54l0 1-5 1-14 0-3 1-25 1 55 7-54 5 79 3-45 4-31 5 39-2 26 2 1-2-19 5-1 4-82 5 72-3 42 5-58 2-9 10-6 0-43 0-16 4 111 7-47-4-3 1-58 2-5 6 11 0 4-2 17 2 79 3-14-2-5 3-78-1 31 5 93-1-3 7-4-3-66 1-50 5 38-1 15 3-18 3-59 5 35 0 65 8-61-4-47 2 14 6 9-3 15 4 23 0 11 0 35 3-35 2-3-1-20-2-11 3-18-2-19 3 59 1 2 0 76 3 4 2-138 1 102 9-66-1-7 3-11-2-58 7 147-1 13 0-16 3-29 2-41 2-9 3 8 2 6-4 29 6-70 1 19 3 19 2 24-1 4 2-50 5-15-3 6 8 22-3 18 4 10-4 13 4 2-2 5 2 15 3-51-2 20 7 49 1 32-2-57 6-28-1-30-1 49 9-11 1-35 4-11 0 63 7 96 11"/>
<path class="md" d="M1971 53l19 1 14 0 13 5-4-1-1-3-11 2-4 1-8 0-27 0-19 1 29 3 13 0 27 1 10 3-50 2-6 1-12-3-14 3 1 4 42-2 47 5-8 0-46 0-3 1-5-1-34 2 17 3 18-1 13 3 6-3 39 7-6 1-47 0-35-3 6 6 27 1 0 2 12-3 0-1 21 3 17 2-18 3-43-3-30 0 22 8 5-1 0 2 2-3 1 1 8-1 4 3 1-2 4-2 49 1-28 4-15 2-9-1-31 3-25 2 39 2 2-2 48 0 6 3-18 3-61-1-1 0-1 3-14-4 0 4 10 3 80 4-41-1-28 9 27 4-7-3-14 3-25 3 8 0 52 3 4-3 34 1 33 3-36 2-35 2-5 0-28-2-17 2-30 0 32 3 4-1 1 1 8-1 57-1-19 9-23 0-58 1 19 2 18-2 14 0 16 0 20 2 48 0-25 7-36-1-25-2-5 3-24-2-23 4 4 0 25 0 13 3 19-2 13 0 37-2 81 3-88 3-30 1-59 4 48 2 14-3 10 4 2-2 5-1 4 1 31-2 43 2-58 4-17 2-24-2-15 2-61 0 0 1-1-4-18 4 38 5 14-1 37 1 16-3 13-1 6 1 12-1 6 9-32-4-14 1-73 3 31 1 24 1 7 0 125 0-89 7-71 5 31-2 31 3 8-3 21 2-37 6-1-4-4 4-25-3-3 0-19 2-10-1 84 3-2 5-7 1-7 2-6-1-7 1-42-3-16 0 55 7 34 1 11 2-44 1-4 3-21-2-18 0-5-1-17-1 9 8 12 1 64-2 15 5-16 1-4 1-26-1-6 1-28-2-10 4 9 2 12 1 47-3 9 4 0 2-5 8-52 2 4 3 35 1 5 0 0 0 1 0-30 7-7 0 4 3 8 0 17 11"/>
<path class="ml" d="M1976 52l28 1 32-1-35 6-22 0-14 0 22 5 8-2 24-1-16 5-31 4 5 2 31 2 5 6-5-2-6-2-17 9 37-3-10 6-27 0-18 0-3-1 8 8 17 0 1-2 14 7-17 0-45-4-8 3 42 4 27 2 5-1-44 2 13 8 4 1 46-2 3 5-25-1-69 5 5 3 1-1 0-1 7 1 123 4-81-2-7 3-56 0 78 3 6 2 24 4-98-1-3 3 32 4 2-1 9 0 15-2 2 0 28 6-19-1-41 1-14 1-15 0-16 1 29 6 19 0 21-3 11 8-20-3-8-1-26 4-28-4 13 5 6 4 63-2 7 3-9 1-27 1-2-1-17 0-50 8 15 0 4-1 60 1-23 1 11 7 10 0 1-1 50 1 45 3-102 0-2 3-19-3-52 0 24 9 31-3 64 1-58 7-22-3-6 1-2-2-5 8 3-3 48 4 48-3-58 4-26 1-25-1 15 6 45 1 4 2 2-4 28 9-63-4-100 1 75 7 2 1 7-3 47 0 38 2 72-2-115 5-19 8 16 0 14-1 55 5-62-2-19 0 1 6 27 2-2 3-11-1-3 3-33-3 0 7 75-2 68 1-94 6-5 1-8-4-29 4 37 10-17 8-8 4 12-1 0 3"/>
<path class="md" d="M1977 52l3 2 1-1 26-1-23 7-12-4-15 2 20 3-41 10 19 1 32 0 32 0 36-1-68 9-22-1-21-2-10 8 3-2 7 1 7-2 10 3 22-4 13 4 2 0 14-3-2 7-1-1-3 2-10-1-4-2-9 3-3-1-27-3-9 2-3-1-1 2-7-2-8 7 6-3 3 2 4 2 10 0 22-4 9 4 19 0 18 3-88 2-7 0 11 1 34 4 10-4 15 0 31 2-61 5-39 4 17 2 7 1 3-1 6 1 54-1 5-3-6 8-70 0-2-1-6 0-10 5 4 2 25-1 7-2 40-1 53 0-35 6-15 3-13-1-59-3-11 5 12 0 8 3 8-3 2 3 11-3 53 2 9-1 58-1-71 7-14 0-10 0-1 0-67 2 0 5 20 0 22-3 4-1 3 4 11 0 26 0 16-2-22 6-3-2-6 2-6-2-5 0-3 2-27-3-4 0-3 3-35 5 8 0 7-1 2 0 38 1 29-1 5-2 76 6-29 2-17-3-17 1-34 0-10 0-22 2-2-1-13-2-1 1 16 6 21-2 19 0 41 9-83-3-40 8 56-2 9-1 14 3 7-4-5 8-1-2-32 3-7-2-4 1-2 1-1 5 27-4 13 0 50 5-83 0-3 4-79 2 97 1 64 4-15 2-2-1-36 1-2 1-1-2-17 0-42 4 18 0 14-1 20 4 5-3 46 1 14 0 6-2-9 6-6 3-8 0-10-1-57-2-17 1-3 0 6 3 2 2 12-1 72-1 9 5-9 0-74 0-13 0-8 4 16 5 60-1 22 0 4 6 0-2-21 0-6 0-19-1-4 0-37 0-1 7 39-2 5 1 3-2 31 4 6 1-12 3-3-2-72-1-11 2-1 0 84 4 1 1 11 1 7 1-9 1-9 4-13-2-3 0-2 0-20 0-14 1-21 0-1 5 41 0 13 6-3-1 12 10-7-2-6 1-21 1-1 0-21-2 44 8 10 4-36-3 10 9 8-3 9 7 0-3-9 3-4 2 3 7-12-2"/>
<path class="mi" d="M1996 58l-5 0-2 1-4-3-6 4 100 2-40 4-88 5 21 2 47 1 21 5-20-1-54 4 18 1-17 3 24 5 8 5-72 6 7 1 40 1 20 0 22-2 16 0 40-1-72 7-15-2-31 0-21 0 4 4 23 1 9 1 7 1 16-2 36 1 38-1-85 4-12 4-15-3-25 6 89 1 68 3-22 3-36-1-48 0-2 1-3-2-5-2-26 0-17 5 4 4 36-1 0-1 17 2 7 0 5-3 1 0 1 1 42 1-49 5-45 0-2-3-31 7 27 2 31-2 28-2 64 1-65 8-1-4-17 0-4 2-26 1-26-1-3-2 38 6 8 2 35-2 27 2-46 2-11 4-42 0-3 3 3 0 14-1 4 2 12 1 3-3 12 2 1-2 14 1 22 1 6 1 1 0-25 5-19-1-1-3-10 2-28 5 3 1 3-2 14 0 9-1 4 4 3-3 38 7-23-3-6 2-7 0-15 0-10 0-19 0 21 4 0 2 18 1 75 0 25-3-14 8-118-3-83 0 104 8 92-2 33 5-73 1-42 0-38 1-9 4 24 1 8-3 3-1 19 0 57 8-24-2-4 2-42 0-21-2-8 2-11 1-1-3 26 8 24-3 8 3 2-1 8-3 65 2 29-1-57 5-46 2-6-2-11 0-29 0-3 1 3 3 39 3 7-1 7-1 1 2 0-3 17 0 43 2-47 4-35 1-14 1-1 1-11 0 50 3 26 1 3-3-7 5-26 0-44 2 0 2-17-1 0-2 5 7 6-3 56 2 5-1 83 8-91 0-41 0-6 5 13 2-7 2-1 1-5-3 15 29"/>
<path class="mj" d="M1961 67l-9 4 3 13-6 3-10 8-2 5-19 12-12 48-1 27"/>
<path class="mh" d="M2067 59l-44-4-21 2-1 2-20-2 22 4 9 7-32-2-15 1 1 4 7 1 27 0 11-2 17 7-27-1-34 4 7 4 6 0 2 3-52 5 21 1 32 0 95 1-14 3-39 1-78 5 15 0 19-3 94 7-36-1-86 1-1 0-8 0 2 6 2 0 36-1 5-2 12 3 15 0 6-2 4 8-103 0-4-1 36 6 38-1 31 1 16-1-51 2-54 5 42 0 2 1 8 2 73 1-30 2-108 3-11 4 18-2 31-1 19 1 28 1-21 3-3 1-14 0-43 1 14 7 23-3 22 1 14 1 17 3-11-1-29 2-54-2 14 8 2-3 19 4 4-1 24-1 73 6-57 0-10 1-52-4-28 4-8-2 14 7 9-3 6 0 20 1 6-1 28 1 6 2-4 5-27-2-4 0-7 0 0 0-91-1 10 5 50 2 6 0 45-3 37 7-8 0-6-1-18 0-27 2-17 0-3 0-4-1-67 5 45 1 27 0 1 1 7-3 51-1 22 1-9 7-34 1-16 0-1 0-18-3-13 2-8-2 0 3-1-1-6 2 21 4 3 0 3-2 0-2 13 2 6 2 2-3 1-1 5 4 12-3 3-1 32 7 0 0-13 2-65-2-13 0-4 0 23 5 42-1 33 3 3-3 11-1-34 8-2-1-18 2-35 0-2-2-2 4 3 0 17-1 3 2 25-1 3 0 17-1 15 4-6 2-5 3-5-3-37 2-18 1 0-3-36 0 20 4 3 1 23 1 8 1 25 1 4 5-4-4-13 0 0 1-26 1-17-1 0 2 10 3 19 1 2 2 19 0 13 2-27-1-9 3-6-2-16 1-13 3 14 3 38 1 1 0 24 4-40 1-1-1-2-2-9 1 39 5-15 6-1-1-31 7 8-2 11 0 19 1 2-3 11 5-35 2 22 7-9 5-22-2"/>
<path class="me" d="M1932 54l53 2-54 7 23 5-22 5 70 0-39 2-26 1-17 3-4 1 2 0 19 4 41 0 25-2-19 7-62-1-4 1-3-2-4-1 7 6 0 7-8 0 32 2-16 8-5-4-6 2-6 4 85 8-10-3-58 2-3 1-21-1 1 3 6 2 11 6-18 5 17-2-7 5-4-2-14 8 111 1-107 2-5 2-1 3 2 1 14 0 4 6-24-2 2 4 3 0 5 3 12 4-9 0-17 6 18-3 3 7-6 1-5 0-9-1 0-2-1 4 34 1-9 5-24 0 1 7 2 2 1-2 1 3-5 3 9 2 2 3-5 9 6-2 54 4 55 4-100-3-13 8 0-3 3 3 100 4-92 0 11 5 54-2 20 0-90 12 26 0 4 1 29-2-32 8-10-1-7-2-3 3-1-1 14 14 20 4-24 3-1 1 2 1 2 3 4-3 5 0 1 1 27 7-26-4 0 5 11 7-5-2-1 5 0 2 5 1 5-2 6 6"/>
<path class="mf" d="M1960 53l2-1 66 7-54-4-26 2-6 2-6 3 49 0 35-1-56 7-17-3-4 2-5-1-14 6 42-1 32 2 17-1 35 0 10 2-34 5-86-4-2 3 15 5 36-3 20 1-73 8-1-1-7 5 49-1 42-2-85 9 8 5 17-3 2 0 16-1 15 0 5 0 17 3 18 6-12-1-15-2-17 0-48 1-22 3 2 3 44-2 6-1 42 8-98 0-8 0 22 3 1 3 44-2 15-1 30-1-4 5-7 1-26 2-3-3-16 2-1-1-41 2-5 0 77 6 7-3-24 8-36-2-25 7 1-1 48 1 2-3 3 2 61 2-18 3-120 3 2 1 20 1 3 1 31-3 23 1 4 0 19-1 15 0 48 3-100 3-36 2-10 0-18-3 13 6 6 1 51 1 16-4 35 6-114 1 40 4 26 0-18 4-52 4-3 0-5 1 16 1 17 7 0-3-14 3-2 0-5-3-48 8 69-2 25 1 2 2 46-3 5 4-93 5 3 3 16-1 25 0 38 1 3-1-62 6-5 1-7-4-10 1-5-1 5 5 29 0 23 2 0 2 8-4 16 0 1 6-2 3-4-1-58-1-8 2 45 3 13 2 94 0-44 2-11 2-101-1 4 7 0 0 121 0-59 1-53 3 52 4 68-2-44 9-75 1 43 1 6 2 30 4-11 1-6-1-47 1-13 1 0-2-14-2 14 8 61 2-8 4-27-2-13 1 31 2-11 9-5-2-2 2-1 3 13-2 1 2-1 6"/>
<path class="mc" d="M2055 52l12 0 19 3-118 15 10 6-3 0 10 5 74-1-55 8-31 6 2-1 22-1 56 7-108 2 104 11-34 5-21 0-37 3 68 8-39 1-32 3 25 2 90-1-46 5-52-1-8-2-1 1-38-1 3 5 10 3 26 0 6-3 50 4-21 3-29-2 36 8 75 2-51 2-1-1-110 2 31 4 37 2 37-2 31-2-66 8-43-3-29 3 65 5 5 4-6 1-48-3-65 5 124 6-30-1-17 1-99 7 14 0 83-2 43 3 23 0 50-2-8 4-72 1-2-2-42 2-16 7 47-4 2 1 37 3 5 1-40 0-1 3-19 0 4 3 8 1 62-1 1-1 56 3-27 3-77-1-14 7-45 3 102 11-2 1-33 1-61-1 28 5 16 2-23 9 33 1-13 1-20 2-4 0-6 0 160 7-104 5-27 9-9 1 20 2-23 12"/>
<path class="mg" d="M1927 52l24 1 65 5 0 0-22-1-11-2-59 8 32 1 1 0 7-1 24-1-59 7 52 2 41 6-63 1-21-3-9 2-6-1-6 8 6-3 2 0 18 3 17-1 41 2-55 2-13 2-4-2-10 1-3 0 13 5 17 0 37-2-28 8-18-2 0 2-17-2-10 7 5-3 28 1 52-2 19 4-95 3 28 6 76 0-48 3-59-1-6 0-3 4-2-1-5 4 4 0 3 2 4-4 37 1 24 0-54 6-19 7 2-3 4 3 17-3 6 1 3 1 71 0-52 3-50-1 5 8 6 0 61 5-50 0-8-3-10 0-10 4-2 3 5 1 1 0 9 0 1 1 1 0 95 1-92 4-6 0-12-3 9 7 32-1 22-1 24 5-79 0-14 2-4 5 6 0 91 2-45 2-10-2-28 1-11 1 32 4 51 5-75 0 0 1-10 3 11 2 2-1 5 2 3-1 111 1-14 4-96 1-6 0-11 1-1 0-1-3-3 3-1 3 12-2 16 1 4-1 78 0-81 5-7 2-10-1 37 6 80 1-51 2-50 0-5 3 0-3-7 0-4 0-4 8 4-2 13 3 8-4 78 2 3-2-59 7-4 2-28-2-5 1-5 6 2 0 21-4 35 10-38 6 36 11-37 1-5 3 5 2 80 0-1 3-36 1-21 1-4-2-5 1-5-1-6 3-2-4 2 8 14-1 1 0 32 1 6 3-34 2-15 0-1-2 1 5 4 1 49 4-30-1-15 0 10 8 4 1 8-3 5 2 6-3 0 7"/>
<path class="mk" d="M1947 54l14 1-27 0 7 7 13 0 72-1-67 5-18 0-20 10 34 6-19 14-14 8 13-3-15 7-11-2-5 5 1 41-17 6-2 16 20-4-19 16-1 8 2-1 19 23 3 18 1 0 12 0 39 0-58 6 16 16-10 2 6 14 40 11-11 6-15-1 13 10-3-3"/>
<path d="M1650.5 354L1788.6 354L1788.6 578.9L1778.6 577.6L1771 570.2L1763.5 557.8L1753.5 545.3L1738.4 535.4L1723.3 528L1650.5 528Z" fill="#e5e5e5" stroke="#e5e5e5" stroke-width="2" stroke-linejoin="round"/>
<path class="ma" d="M1729 528l-2 1-1-3 0 3-2 0-1 5 2-1 0 0 1-1 1-1 3-1 1 2 1 1 3-1 0 1 0 0 12 6 0-1-1-3 0 4-3 0-3 0-1-2-1 2-2-1-1 0-1 0-5-3 0 1-1 0 6 5 6 1 3-2 2 0 1 4 1-1 1-1 0-2 3 4 1-4 2 2-1 3-1 0-2 1-3 1-5-1-4 0 12 4 2 3 0 1 3-3 0-1 1 1 1-1 0 4 1-1 2 0 0 0 7 6-1-3-1 0-4 2-2-3-3 1-1 0-1 2 6 2 1 3 1-3 1 1 3-1 1 1 0-1 0 0 1 2 0-2 1 4 2 0 9 2-1 3 0-1-1-1 0 1-3-3-2 0 0 3-3 1-2-4 0 1-7-1 5 5 6 4 1-1 2-1 1-1 2 2 9 0 2 3-1-1-2 4 0-3 0 2-3 1-8-1 2 2 1 1 5-1 2 0 0 1 1 1"/>
<path class="mm" d="M1540 471l2 3 0-2 6-1 6 5 0 0-16 1 0 6 0-3 1 0 0 1 1-1 0 2 0-1 4-1 5 4 1-4 1 2 6 0 0-1 0 7 0-3-1 3-1 0-2-1-1 0-1 0-1 1-1-1-3 2 0 0-1-2-1 0-3 0-2-1 0 0 0 3-1-4 6 8 2-2 1 0 0 3 1-3 7 2 1 1 0-3 2-1 0 1 0 1 2 7-3-3-1-1-2 2-3-1-1 0-1 0-3-1-8 0 0 9 15-3"/>
<path class="mn" d="M1552 432l19 1 16 0-23 10 5-3 2 2 5 5-32 25 31 2 2 6 6 5-11 4-15-3 0 8 7 0-19 6 37 1-12 4-8 9 12 5-10-4-12 2-4 2 35 5 1 13"/>
<path class="mh" d="M1669 354l89 4-89-1 18 5 27-2 16 5-35 4-15 5 31-2-2 5-47 4 3 2 36-1 46 0-28 5-49 2 41 1-4 8-18 0-44-2-1 8 20 0 3-3 10-1 37 7-4 0-5 1-4 0-10 1-18-1-8-3 25 8 11 3-10 2-4 0-48-3 16 8 31-3 26 1 4-1 3 4 3-3 35 8-42-4-65 2-1 4 39 1 14 0 27 0 13 4-61-1-19 4-3-1-11 0-1 1 17 4 1-3 5 4 0-3 7 2 24-1 13 7-4-3-33 1-4 2-2-1-12 1 17 4 59-3-46 6-21-1-1 3-11 0 8 3 5 0 23 2-15 5-16-3-44 7 70 1 3 4-24 5 18 1 26 1 14 5-26 0-44-4-27 0 59 8 12-3 32 6-39 3-49-4-16 5 38 3 8-1 4-1 5 1 56 1-79 5-19 0 12 2 3 1 20 1 9 6-5-2-17-1-3 1-10 2-8 2 14 0 25 3 35 0 14-2-16 8-25 0-17-4-40 7 6 2 10-2 15 2 8-3 112 1-71 6-44 1 0 4 22 2-2 0-54 0 45 7 10 2 9 3-38 0-8 7 16-2 2-2 4 20-4 5"/>
<path class="mc" d="M1687 359l33 1-5 23-1 7 9 5-66 10 28 14-16-4-14 3 50 12 62 5-27 0 4 6 4 8-62 0-34 3 30-1 1-1 18 2 23 5-34 1-49 4 1-1 55 4-16 1 100 6-135 3-9 6 14 3 41 1-51 0 1 5 41 3-41 4 63 10-1 0-6 1-16 9-38 4 106-1-64 10-26 17 36 11-57-1 26 11 1 7"/>
<path class="mj" d="M1665 370l-14 16-27 7 3 45 13 4 34 26-90 11 50 46-6 16 3 3 4 10 21 9 8 26"/>
<path class="md" d="M1714 359l-23-4-3 2-33-2 3 5 4 2 2 2 2-3 12 1 82 1-17 3-15-1-2 1-14 2-25-3-4 3-6-3-19 1 67 10-61-1-34 0 59 7 3 1 85 6-96-1-34 5 68 2 0 0-9 3-11-2-16 3-35 1 31 3 49 5-15 1-33-4-1 1-36 5 5 3 4-3 18 2 16 1 20-4 52 0 32 9-64 0-41-1-4 1-3-4-5 1-6 1 40 4 2-1 7 4 5 2-30 2-49 3 30 3 0-2 9-1 4 0 39 1-4 5-34 1-30-1-1 1-19 1 42 4 27 0 19 1 20-1-40 2-34 3-9-3-1 4-24-2-4-1-1 7 27-2 128 6-41 0-12 2-6 0-32-4-10 0-8 0-13 3-36-1-11 4 5 1 24 1 4 1 6-2 0 0 13-1 23 1 6 2 9-2 9-1-38 7-8-2-19 2-4 0-18-3-23 6 15 0 11 2 23 0 30-1 9 6-36-1-19-1-2 3-9-1-3-2-8 2-39 5 43-2 19 0 21-1 14 1 9 0 0 1 60 1-7 4-35-2-18 0-16 0-43 1-54 2 81 2 4 3 13-3 45 4 1-3-16 5-5 0-12 3-10-3-32 0-66 6 53-1 13 1 31-2 4 3 7-1 6 2-15 1-4 4-46-1 65 6 9-2 4-2-52 9-23-3-23-1 76 6 6 3 14-3 9 1 59 4-55-1-40 0-19 4-17 4 33-3 6 4 10-4 6 0 5 3 10 5-5-1-7 0-15 0-24 1-4 1 16 5 1-4 3 1 29 5-10 3-15-2-6 1-26-1-5 6 27-2 6 3 15-1 4-2 3 3 1 0 89 4-122 1-3-1-7-1-9 0 3 4 26-1 0 3 27-2-23 8-21 0 4 3 16 0 7 0-15 6-3 4 6 11"/>
<path class="mi" d="M1658 391l62 16-28 3 28 0 2 3-80 5 59 7-21 2-6 2-29 14 65-1-26 11-28 7-32 7 55 4 6 6-50 7 59 11-29 3-41 13 44 0 33-1-14 5-29 9 12-1-21 10 49 10-25 29"/>
<path class="mk" d="M1623 355l69 8-34 3 8 8 12-4-28 7 3 8-1 9-40 3-1-1 5 7 31 1 36 0-70 4-12 1 35 8-25-2-12 4 60 7-14-1-18 4-30-2 32 4 82 1-69 7 0 5-46 1 9 6-20 6 6 5 4 2 3 0 21-1 26-3-40 7-26 4 40-1 14 1 16 0-65 9 2 1 107 2-111 8 4 0 5 1 40 7-23-2-19 2-5 1 15 1 1-1 6 5 17 6 24 3-52 4-1 4 45 2 25-4-71 17 14 4 5 0 18 1 43 1-41 2-15 9 31-1-33 4 1 6 18-2 36 0-41 6-8 4 3 1 4 2 16-1-10 8 31 2 8-1-7 4-1 3-29 1 19 3-22 4"/>
<path class="ml" d="M1740 358l-7 0-77-1 23 8-9 13-3 2 18 0 73 3-74 11 4-1 7 0 19 2 10 13 1 4-11 12-80 3 31 4 39 8-46 1 53 4 3-2 14 5-61 1-1-1-2-2-40 1 62 6 4 0 51 0-54 4-22 0-3-1-4 7 39 0 13 2 3 5 20 2-48 8-67 5 24-1 21-3 6 8-7-3 27 6 8 6-35 0-14 1 53 8-14 2-67 1 95 3-85 9 21 3 31-3 21 7-12-2-4 1-31 6 11-2 5 3 27-3 39-1-64 8-13 3 1-1 27 1 13 2-17 5-18 6 10 0-4 7"/>
<path class="me" d="M1768 354l-95 4-36-2-2 3-14-2 2 6 1-1 4 0 10-2 22 4 10 5-1-1-16-2-6 2-6 1-1-4-11 3-7-2-1 2-2 1-1 5 10-1 1 0 33-1 67 2 28 4-84-1 0-1-9 2-9-2-23 0-8 3 0-3-11 2-5 4 6 1 0-2 1 3 1 0 1-2 4-1 1 1 7 1 1-1 0-1 15 1 4-2 8 4 14-1 43-1-60 6-14-2-4 3-2-1-1-1-1-1-15-1-5 4-1-3-4 1-3 5 13 1 5 1 10 0-3 4-10 0-4-2 3 4 15 2 11-2 95 5-104 2-5-2-5 3-8-2-15 0 32 5 9 3 10-1 14-2 8 8-40-4-2 0-6 4-2-2-16-1-7 1-3 4 112 3-8 1-76 1-16-1-1 2-4-1-10 0 13 6 6 2 3-4 35 1 8 2 56-2-81 4-46 0-1 7 0 0 6 2 8-4 48 0 9 4-40 2-6 2-13 1-2 0-8-1-1-1 14 6 1 0 8-1 7 2 12-3 89 5-34-1-29 4-10-2-44-1-8 3-2-1-13 4 8 0 5 1 35 3-18 1-23-2-4 7 17 1 93 1 24 5-44-4-27 0-33 1-10 2-21-1-5-1-2 3 8 1 8 0 4 1 0 0 5 3 3 0 5-4 21 4-20 1-11 1-7 0-10 0-5 3-2 0 9 3 50 0 15 0 38 4-59 0-34 2-5 1-7-3-2 1 0 7 6-2 5-1 19 3 33-4 133 5-20 4-148-3-6 0-13 3-6 4 58-2 76 5-11 2-85 1-6-4-24 0-7 4 0-2-2-2 4 7 5-2 79 1 109 1-152 3-24 4-3-2-13-1 1 6 21 0 18 1 17 1 3 0 47 0 3-4-47 6-37-1-10 3-12-1 0-1 9 6 50-1 11 1 22 0 10 6-81-1-1 0-11 1-3 1 11 1 2 0 7 4 36-1 5-3 12 3 32-1-53 7-34 0 0-2-16 2 9 1 3 0 2 3 1-3 18 0 13 6-14 2-22-2-1 6 3 1 1-2 6 2 3-2 46 8-44-4-11 2 6 6 6-2 11 1 11-2 1 2 23 2-16 4-7-2-12 0-11 3 15 1 1 3 19 3-4 1-7 2-8-2-2 1 7 2"/>
<path class="mg" d="M1639 354l10 0 29 3-28 1-31 1 17 3 1-1 4 0 7 1 25 2 17-1 1 0 47 0 3 0-55 5-8-3-40 2-5-1-3 0-4-1-4 0-4 0 2 6 6 1 0-1 2 0 11 3 29-1 21 1 9-1 12-1 41 2-38 4-7-1-23 2-11-3-24 0-32 8 3-3 27 3 21-4 115 0-78 6-8 2-6 0-18-2-34-1-10 0-14 6 4 2 23-3-5 5-7 0-1 1-12-1-3 7 23 1 19-1 65 0-36 4-40-1-15 4 0-1-2-3-14 2 9 3 9 0 3 1 12 0 4 3 26-4 3 1 16 2 4 5-64-2-5 0-1 0-1 3-10-3-8 0-2 0-5 3-4 1 1 4 14-4 3 3 12-2 28 0 9 3 58-4 44 5-71 4-25-2-49-2-4 3-4-1-5 1-3-1-4 1-12 3 4 1 1 2 41-4 39 2 14 0-31 7-10-2-23 1-14-2-9 3-1-2-2 7 6-4 2 4 5-2 39 0 39-1 0 8-49-3-17-1-4 3-5 0 0-1-1 1-4-3-21 3-4 6 4-4 25 3 12-1 90 0-16 3-7 3-31 1-51-1-4 2 1 1 10 1 24 1 13-2 49-1-12 8-37-2-3 2-12 0-4-1-26-1-51 0 30 4 20 0 13 4 11-4 5 0 123 0-89 9-71-4-1 0-9 1-3 7 11 0 3-2 6 2 26-2 23-1 68 7-35 1-84-2-3 3-2-4-12 3-2-3-1 0-6 4-35 3 35 2 18-2 1 0 40-2 16 3 17 1 16-2-25 3-15 4-36-2-1-1-1 3-30-4-3 2 5 7 1-1 11-1 13-2 47 1 61 7-90-1-3-2-9 0-1 2-6 1-21 5 1-2 26 1 18 0 1 0 14 4-59 0-2 0 19 6 11 1 51 0 22-1 81-2 7 7-175 4 45 0 0 1 6-1 26-1 35 0 68 4-118 4-4 0-23 1-19-4-16 7 3 1 1-1 21 1 20-3 10 0 1 0 7 1 37 3 0 3-2 0-48-1-29 2-13-2 18 6 7-2 42 8-45-1-2 1-6-1-2 2-12-1-4 1 28 3 4 0 4-2 14 1 33 3 99 4-108-2-30 0-7 0-3 0-1 2-1-1-2-2-20 1 41 5 14 0-6 5-7-1-35 6 4 2 20 0 18-1-16 4-21 3 27 3 10 5-18-1-2 4"/>
<path class="mf" d="M1688 354l24 3-3 0-78 5 73-2 7 4 43 4-128-2 29 6 83-1-53 4-11 1-27 2-1 0-10 1-26 3 33-2 17 3 13-3 42 5-3 3-15-1-3 2-20-4-31 3-8-2 10 5 15-1 9 0 63 4-7 2-38 1-20 2-61-4 42 5 6 4 8 0 56-1-18 5-10-1-89 6 48-1 11-2 2 0 5 1 31 1 7-1 6 0 11 1 6 6-13-3-8 1-12-1-98 1 41 5 3-1 1 4 31-2 21-2 93 1-28 5-60-1-22 0-35 3-26 0-11-3 16 8 2-3 15 0 2 0 24 3 23-1 10 2-11 3-64 0 13 4 12 1 2 2 15-3 1 3 37-1 6-1 43 5-54-2-31 3-35 0-16-1 4 3 14 0 14 2 3-1 2 2 16 1 80-2-79 6-47 1-6-1-19-2-18 3 71 1 13 4 15-3-17 6-10 1-13-1-31-1-25 4 21 2 4 2 22 0 13-2 25-2 5 1 12 1 75 6-17 1-47 0-4-1-8 0-6-2-18 3-11-1-7 1-36 3 58-2 34 4 13 0 3 5-28-1-9-1-12 2-11-2-45 0-67 3 14 0 34 4 38 0 7 0 51-2 22-2 2 4 7-1-73 6-6-4-13 4-13 4 71-2 20 5-1 1-77 2-15 0-1 2 6-1 9 4 8-2 41 0 10-1 96 5-79 0-1-1-2 3-12-2-15 1-44 2-1-3-5 5 6 2 0 1 35 0 4 0 1 0 45 1-37 0-19 2-33-2-1 3-21-2 5 6 18-2 84 1-25 4-20 4-8-2-7-1-15 0 11 5 5 3 11-2 38-1-16 5-22-1-27 7 13-2 20 2 32 6-20 1-31-2-11 0-23-1 23 6 11-2 9 0 31 3-32 2-18 6 44 6-5-2-50 6 10 3 15-1 5 1 23-2-9 6-6-3-24 1 10 4 9 2 0 0-2 3"/>
<path class="mj" d="M1651 380l-26 5 39 6-23 4-9 26 3 19 20 4-21 4-44-1 27 12 5 30-29 4 48 34-4 20 2 11 23 32"/>
<path class="mg" d="M1687 355l-15 3-1-3-4 2 0-2-4 2-11 2-4-1-8 1-8-4-5 0-4 3 0 1-1 3 11-2 1 4 2-4 3 4 12-1 9 1 47-4 2 0-26 7-11 1-27-2-9 1-5 1-12-3 12 7 12-2 14 0 9 4 10-1 83-1-65 6-47 0-3-3-10 1-4-1-2 1-10 0-6 1 17 4 4 2 0 0 2 1 27-3 10 2 14-1-34 5-8 0-2 0-7 1-1-1-3-2-8 0-9 6 11 0 1 2 5-3 6 1 39 0 27 0-68 8-11 0-5-3-3-1-5 0-3 0 13 9 7-3 9 2 24-2 43 0-49 6-6-2-18 4-3-2-12-2-2 4-2-3-4 0-3 2 18 2 2 3 8-2 8-1 39 1-5 6-15 2-6-3-3 0-20-1-10 2-4 0-5 1-13 1-2-2 36 5 32 2 19 3-9-2-12 0-26 2-43 0 7 6 4-2 5 1 47 1 11 0 2-3 34 4 84 3-106-1-2 3-64-2-15 0-4-2 2 8 14 1 5-1 24-1 13 1 31 3-48 0-2 1-7 2-5 0-15-4-6 1-4 3-2-3-4 0-2 7 13-3 4 2 8 2 44-1 11 1 23 1-28 0-12 4-27-4-20 3-1 0-5-2-13 4 24 1 4 0 2 0 21 3 23-3 7-1 41 0-36 6-29 0-25 0-10 0-2 3-4-4-1 4-18 0-4 2 0-1 10 4 5-1 14-2 17 3 14-3 22 2 13-3 7 0 25 4-14 4-38 0-25 0-35 3 20-1 23 1 1 1 16 0 27-2 18 1-4 8-48-4-10 3-21-3-55 7 22 0 7-2 2 3 0 0 17-2 1 1 1 0 11-1 25 3 40-3 10 0 17 6-32-2-10 3-6 0-5-1-15-1-9 3-44 0 1 5 8-4 6 0 9 4 19-2 9 2 51-4-8 8-21-2-12 2-2-2-7-1-22 0-6 0-25 1-8 0-3 2 26 4 2-2 9 1 37 2 58-3-8 7-6-1-70-1-4 1-12-1-2 0-6 6 16-1 24 0 28 9-21-1-43-3-7 4-1 0-19-4-2 3 8 5 4 0 9 1 14-4 24 4 8-1 6-3 1 2 8 5-21-1-23 1-27 1-3-3 15 7 8-2 3 2 1 2 0-4 8 4 37-4 51 0 67 5-97 3-7-1-23 2-33-3-4 0-20 6 13-2 2 3 7-2 9 3 0-2 30-1 42 2-55 3-1 0-21 1-5-2-2 2-12-2 2 7 14 0 4 2 2-3 30 1 0-1 27-1-12 5-6 4-32 0-24 1 6 4 7-4 4 0 0 2 4 2 10 0 12-3 3 2 14 2-20 0-38 1 6 6 12-2 3 2 14 0 2 2 23 0-1 3-22 2-8 0-1 0-8 2 2 0 13-1 6 2 10 5-7 2-10-3-7 0-8-1 29 5"/>
<path class="mh" d="M1677 354l34 0-29 3-11 7 54 0 48-3-56 8-24 2 26-1 4 3 28-2-12 8-1-3-29 2-24-2-31 0 62 7 71 0-21 2-37 4-11-3-24 3-1-1-12 1 26 2 79-1-73 8-11-2-48 3 13 2 54 2 1 3-60 0-7 0-11 8 39-1 17 0 20-3 3 2 38 1-48 2-2 0-9 0-36 3-24 0 9 4 26-2 52 4 27-4-57 8-4 1-19 0-2 0-9 3 25-1 32 0-45 7-10 1-5 0-1 0-25-2-8-1-1 3 9 4 32 1 5-1 18-2 28 1-25 4-16 3-25-3-4 7 8 1 35-2 22 2 0 4-68 3 24 3 5 0 19-4 13 0-2 7-10 1-31 1-23 3 24 0 37-1 31 3-45 4-32 0-11 0-18 1-20-4 52 6 19 0 30-1-41 11 49 2 59 5-78-3-7 3-35-2-29 0 24 5 27 1 5 2 7-2 13 1 6-2 18 7-61-3-2 2-38 3 26 0 31 3 2-2 7 3 49 1-34 2-11 2-28-2-8 1-2 1 63 8-8-1-43 0-1 0 13 7 46 3-57 3-25 5 12-2 14 0 7 0 1-2 0 1 31 0-10 4-35 3-28-1 11 4 19-1 30 2-9 3-37 1-2 8 35-3 4 3 0 3-1 0-10-2-5 4-27-4 27 7 5 3-25 2 19 7"/>
<path class="mf" d="M1776 354l-75 1-11 3-33-3-39 0 26 8 48 0 7 3-6 2-62-3-15 6 28 1 25-2 22 1 29-1-4 9-6-3-27 6 4 1 0-1 4-2 29 1-39 8-37-3-22 6 105-2-37 6-30 3-4-4-16 2-11 1-8 4 49 2 60-2 45 2-13 3-88-1-73 8 10-1 29-2 19 0 22 0 8 1 3 2-42 3-36 5 18-1 74 5-41 3-5 0-2-1-43 4 25-1 3-1 75 2 2 2 2-4 46 1 6 4-99 3 0 1-4-3-1-1-10 3-27-1-34-1 50 4 62 4-21 4-31-1-13-1 0 0-20 2 10 2 3 0 7 4 6-1 25 1 15 0 20 1-74 2-22 0-2 2 51 5 25-3-16 4-8 2-13 0-14 2-8-1-3 1 0-3-2-1 0 1-2-1-9 9 8-4 8 1 12 1 37 1 0 0 33-3-10 5-12 4-32-1-52-3 10 6 13 1 54 1 25-3 2 3 1 0 20 0-27 6-6-1-3-2-6 2-140 0 50 5 6-1 1 0 0 0 9 2 22-4 43 0 21 4 14-1 25 0-63 5-11-1-23 2-28 0-23-3-4 2-50-3 59 5 11 3 5 1 7 0 3 0 3 0 2-2 15 0 38 2 12 0 12 1-15 1-15 1-10 2-8-3-7-1-6 0-13 2-20 1 4 6 16-4 55 2 14 2 23-4 4 4-53 3-2-1-28 2-34 1 16 3 1 2 20-3 1 2 46 1 14-2 2 3-25 2-51 0-20 2 4 2 2 2 5-3 5 1 57-1 19 0 2 6-14 1-1 2-5 0-43-3-17 1-14 0-16-2 16 8 17 0 22-3 29 2 23 2 71 2-37-1-39 4-20-2-5 1-24-3-9 0-36 1 16 7 6 1 9-1 19 1 35-4 4 7-36 2-42 5 16-4 17 0 29 1 5 2-22 5-20-2-13 6 2 2 9-3 2-1 16 0 5 4-7 3 5 11-7 0-3 1-5-1 13 3 4 4-9 4-7-4-2 5"/>
<path class="md" d="M1697 359l-42-4 26 7 11-2 9 6-3 3-5-4-17 3-13-1 5 6 8 0 10 1 41-1 6 0 12-3-30 6-21 1-11 2-9-1-18-3-16 9 48 0 50-3-45 7-10 1-2-4-11 3-14 0-1-2-7-1 10 8 48-3 12 3 6-1-20 3-32 1-11 2-8 1-17 1 18 4 2-4 12 1 18 3 4-2 27 1 2 1-27 5-21-3-27 2 10 3 33 3 17 5 0 0-4-3-9 0-42 3-5-3-3 0 0 1 76 7 50-3-38 4-70 1-7 3-10 0-4 0-19 1 21 0 1 2 15 1 2-1 13 0 17 1 20-3 3 0-18 8-18-3-22 2-12 1-14 3 3 0 15 0 8 2 6-3 46 8-4 0 0-1-7-2-49 2-9 2-7-4-3 2 21 5 12 0 17 1 14-3 9 4 18-3-24 8-8 0-6 0-5-4-4 2 0-2-8 0-3 1-28 2 56 3 3-1 0 3-8 4-5 2-1-1-51 0-17 5 11 0 26 1 10-4 23 2 8 1 16 1 77 0-81 2-21 1-28 2-24 0-5 3 0 1 24-3 38 3-20 5-25 1-55-2-9 1-34-1 23 5 81-2 42 2 10-1 21-1-26 9 0-4-2 4-5-1-30 0-21 0-7 5 52 0 112 3-120 2-31 0-18-2 15 6 4-2 37 0 32 1 41 0 21 8-69-1-13 0-1 0-1 1-15-4-40 1 8 7 27-2 48 3 39-1-17 4-90-2-21 6 40-1 13 3 22-1 13-2-10 6-9 1-4 0-12-2-13 0-2 2-4 1-13-2 1 4 12 0 20 2 1-2 9 4-7 3-10-2-2 2 0-1-1 0-2 0-32-1 5 5 12 1 20 3 4-4 3 1 4 1 2 7-9-2-9-1-3 2-17 5 18-1 15-2 4 1 0 8 0 0-2-2-14 9 4 8"/>
<path class="mk" d="M1666 355l-6 11-25 0 34 11-32 0-1 0 10 10-26 7 38 1-14 4-29 1 35 1-32 5-18 14 34 7-25 5 48-1 2 4-59 2 0 6 9 1-22 3 51 6-56 5 69 11-63 2 2 1 31 7-38-4 9 5 24 2-33 5-2 6-2 4 54 5 4 0-47 5-7 10 48 6 10-2-49 7 2 6 53-1 0 6-13 0-28-3-16 1 60 6 6 1 0-1-43 12 7 13 33 4 13 7-5 10-10 0-13 0-10-1-6-2 44 4-28 7-3-1"/>
<path class="mi" d="M1684 365l7 22-35 10 49 6-46 47 40 26-27 22 9 2 16 17 1 8-60 3 31 3 29 22"/>
<path class="mc" d="M1676 356l11 27 54 6-44-3 41 11-11 9-45 1 40 4-46 13 38 2-67 3 64 13-5 5-30 4 28 5 12 5 29 7-80 3 22 2-19 3 20 5-22 4-17 3 41 14 12-2-79 11 73 3 0-2-41 6 75 12-35 28-27 18"/>
<path class="me" d="M1680 355l-31 1-11-1-2 3-20 2 1 1 18 1 135 4-45-1-67 0-8 1-14 1-1 2-9-2-1 1-8 2 0 4 21-4 27 0 53 4-55 4-51 4 78 7-65 0-6 0-16 5 15-2 19-1 6 3 11 0 68-1-78 3-34 1-6 6 1 1 3-2 4 2 1-3 2 3 2-2 2-2 12 0 20 2 3-2 9 2 4 1 35 6-51-4-11 0-3 0-3 1-12 2-21 1 6 5 13-3 17 2 77 3-33 2-31-2-18-1-16 3-2 1-4-1-4 1-2 0-1 0-1 0 17 3 4-1 7 2 85-3-6 7-74-1-25 3 5 2 26 0 5 2 46 0 31 6-127-1-3 1-1 0 64 1 32 0 9 4 78 5-187-1-4 3 9 2 5 0 13-2 24 3 33 5-8-3-12-1-22 1-24 2-3-3-6 0-10 0-1 0 0 8 7-3 2 3 51-2-37 6-11 1-5-2-3-1-1 3-4 0-1 1 0-1 0 2 2 1 27 2 5 1 12-2 151 1-144 3-20 0-2 2-5-1-1-2-65 1 54 4 0 2 47 0 54 2 27-1-110 4-8-2-14 2-10 0-2 0-33 2 33 3 7-2 5 0 21 3 2 1 53-1 3-1-41 6-8-2-28-1-6 0 1 7 34-2 18 1 123 7-106 0-9 0-31-1-22 1-6 0-8-1 15 7 16-3 3-1 10 4 61 0 38-1-71 3-49 3-7 1 1 2 10 0 56-1 11 7-60-3-15 4-3-1 0-1-1-2-9 1 6 6 17 2 2-4 5 2-4 6-14-3-4 6 85 1 0 0 9 1 45-1-41 4-4 1-40 2-46-4-2 0 4 9 8-2 4-2 36 1 15 8-22-1-4-3-9 0-11 0 0 1-1 2-5-2-5 0-1-1-10 1 7 5 68 2 8 0-20 2-3 2-4-2-8 0-4 3-11-2-6 2-5-3 0 1-12 3 19 5 1-3 1 3 4-1 29 6-33-2-22-2 8 6 23 3 1-1 32 0-25 10 2-3 11 3 6-3-17 7-3-1-9 2"/>
<path class="ml" d="M1676 356l-4 4 11 0 28 28-8 1 0 0-36 5 9-3 4 4-39 8 57-1-28 3-8 8 18-2 0 1 5-2 66 4 15-4-92 12-12 11 22 2-3 2-11 2 25 5 10-1-15 6-7-2-32 3 2 0 24 0 18 0 9 3-67 8 28 1 3 6 18 7-22 2 36 6-11 4 0 1-4 1 14 5-63 1 10 13-22 5 33 0 50 3-8 5-34 11 14 1 33 1-10 2-17-1-25 1-29 5 41 1 16 2 2 0 1 4-17-3 5 6 9 13-31 15"/>
<path class="mg" d="M1713 359l-3-1-25-3-16 1-7-1-3 0-14 3-3 1-7-3-2 2-5-2-3 5 0 2 29 0 13-3 46 7-42 1-1-2-35 0-18 2 7 6 2-1 18-2 6 3 52-1 38 3-21 3-14-2 0-1-3 0-25 2-13-2-10 2-14 0-9-3-3 1-3 0-11 6 11 2 38-3 43 1 13 4-25-1-59 4-18 3 0-1 19 3 25-2 45 1-70 2-7 4-6-3-6 8 1-2 6-1 48 2 1 1 16 3-20 2-1-4 0 1-31 2-4 0-19-2-3-1-6 6 2 3 5-4 22 1 1 0 1 0 9 3 7 0 17-1 31 0 74-1-105 7-17-4-1 3-5 1-13-3-1 2-1 0-16-3-2 0-3 1-7-1 2 5 6 2 1 0 14-2 10 0 8 1 18 3 2-2 41-1-57 7-11 0-1-2-29 2-12-1 0-2 19 7 66 1 10 0 38-2-69 7-9-3-24 0-12 1-8-1-10 3-7 3 19 3 2-1 0-3 20 3 26-3 63 4-29 5-16-4 0 4-1 0-8-1-2-1-67-1-1 1-7 2-3-1 1 4 27 1 5-3 1 2 38 2 2-4 121 8-83-1-23-1-13 1-30-2-28 0-3 0-5 2 13 7 32-2 31 2 13-2 5 1 2-2 4-1 17 7-3-1-15 3-19-3-9 0-3 0-14 1-6-2-16 3-14-2 0 0-16 3-14 0 6 1 9 4 1-4 1 4 6-1 27-1 36 0 1 0 3-2 2 2 26-1 82 7-165-1-27 1 0 0-3-2-10 3 14 4 3-1 10-1 2-1 5 4 8-2 23 0 25 0 3 6-20-3-4 3-20 0-6-2-19 0-6 1-8 1-15-3 5 6 7-1 3 1 7 2 16-3 21 3 26-3 96 3-65 5-4-3-55 2-9 1-9-2-10 1-10-1-6 2-6 5 18-1 32-1 44-1 33 5-38 4-25 0-29-4-21 3-7 4 27-2 13 0 4 3 59-3-56 5-26 2-1 2-7-2-2 2-5 2 4 0 15 0 102 8-24-3-11 0-49 0-8-1-1 4-4-4-4 0-5 3-17-3-2 9 5-2 11-2 4 2 3 1 1-3 7 4 0-3 2 1 26 0 17 1 48 1-4 5-30-2-7 1-17 0-43-2 0 1-8 2-15-4 11 5 9 1 46 1 16 2-10 5-13-1-18 0-17 4 10 0 1 2 1-4 28 0 3 2 47 1-5 5-34 1-9-1-43 1 0 0-6 0-2 3 4-2 18 4 1-4 30 5-18 3-1-2-7 2-4-3-3 0-10 3 0 3 42 1 10 0 18 1-8 4-2 0-39 1-8 1-9 5 32-1-2 3-4-1-2 4-15-4-1 5 28 1 7-1 4 5-28 0 0 4-4-4 19 6"/>
<path class="me" d="M1665 357l-22-1-21 3 1 1 93 8-57 0-10 1-3-1-4 0-4-1-1 0-4-1-1 2-7-2-2 6 62 1 34-1-23 4-63-1-4 0-10 0-1 3-12 6 31-4 3 3 3-1 13 0 68 3-15 2-10 2-41 0-47-3-3 1 6 6 2-2 8-1 3 4 4-3 10-1 72 1 52 5-14 3-29-3-16 2-74-2-7 2-3-1-4-1-12 6 7-2 20 1 111 3-36 2-83 1-7 1-5-3-11 4 3 3 66 5-8-1-21 2-14-2-13 1-3 0-16 6 53 0-8 3-20 3-11 0-5-1-7-1-4-1 9 7 1-2 5 1 38 4-9 3-21-2-12 1-4 1-5-4-4 0-4 8 10 0 14 0 4 4-8-1-10 3-6-2-46 0 44 6 0 1 1-4 31 1 46 5-26 3-16-4-15 2-26 7 1-3 11 1 22-1 17 2 1-3 43 8-77-3-7 1-8 1-5 2-3-4-1 6 7-1 1 0 14 1 85 6-43 1-43-2-18 1-1-1-1 0 15 4 5 0 8 2 138 7-123-1-20-2-32 2 16 3 5 2 0 1 1-2 7 2 40 0-14 1-4 4-21-4-11 1-1 2-4-2-4 7 9-1 9 1 6-2 3-1 60 4 44-2-139 7 28 5 21-2 6-1 58 0-59 7-31-2-13 1-4-2 11 8 36-2 79 5-10 2-51 1-12-1-28 0-4-3-8 6 6 3 11-1 1-2 13 3 8-2 0 1-16 6-3 0-8-3 0 0-7 2-1 0 19 3 90 5-56 1-29-2-7 0-1 0-8 4-1-4-11 2-1-2 19 6 10-1 20 3 38-2-33 8-15-1-6-2-9 0 0-1-14 7 6 1 5 1 7-2 31 3-2 2-33 7 60-4-39 5-6 4-9-1-8-1-2 3 9 3 17-1 6 1 12 1-18 4-3-1-9-1-2 2 4 3 23 0 12-1-23 7-10-1 21 8 1-3-7 4"/>
<path class="mi" d="M1679 391l-28 13 25-4 27 20-45 11 12 19 40 7-19 1-29 1 2 4 29-1 1-1 3 8-46 14 58 3-16-1-30 1 48 7-3 5-51 5 30 10-6 15-8-2 29 5 5 1 0 5"/>
<path class="mj" d="M1662 382l19 8-35 10-9 13-20 28 83 6-34 0-29 39-12 1-28-2 18 13 3 19 67 22"/>
<path class="mf" d="M1713 357l-24 2-1-3-1 3-7 0-35-1-22 5 41-2 26 0 93 2-94 2-13 1-9 3-6-4-2 2 16 3 46 4-31 1-17 3 0 0-19-3-29 9 20 0 0-2 19-2 25 0 6 4 4-3 20 0-3 6-16 0-2 1-51 2 19 0 97 5-88 1-17-1-12 2-42 5 49 0 0 2 2-3 39 5-13 1-48 2-2 0-28-2-6 1 18 4 14 2 8-1 20-2 19 3 14 0 0-4 17 2 14 5-37-1-5 2-21-1-16 0-2 2 0 4 132 6-58-2-10 2-36-2-1-2-7 2-40 0 2 7 1-1 7-3 66 0 25 5-49 0-28 3-25 3 4 2 14 1 11-2 13-2 2 3 33 0 2-2 8-1 8 1 33 2-43 5-19-1-49-2-15 0-23 3 20 3 34 2 29 0 2-1 17 1-12 3-49 1-22-2-62 9 27-4 25 1 18 0 9-1 14 3 23-3 1 3 56 3-65 3-1-2-25 1-11-3-4 3-9 0-17-2-33 4 43 2 2-2 3 0 36 4 41-2 14-1-13 5-36 3-20-3-7 2-5-2 11 5 10 3 57 0 10 5-49-3-41 0-17-1-13 9 30-3 1 0 31-1 23 0 1 4 7-2 45 1-25 4-19 1-28-3-33 2-9 2-29 5 63-1 16 1 3 0 27-1 41 5-41-1-3-1-18-1-3 3-1-2-11 2-10 0-22-2-20 3-9 5 68-1 5-1 1-1 43 1 29 5-80 1-14 1-6-3-10 2-15-2-2 0-26 0 25 5 27 3 11 0 6-3 31 1 3-1 12 1-7 6-69 0-18 5 9-1 30-1 4 1 57-2 42 1-24 5-24-1-14 1-41 1-22 0-14 1-4-3 26 7 6-1 3 0 18 0 14-1 6 4-22 5-8-2-6-2-19 2 11 3 1 1 7-1 3 2 9 2 28-1 12 2-32 4-54 1 71 3 8 2-13 3 0-2-38 1-17-2-5 4-4 4 20 1 0-3 17 3 2-4 6 12 5 2 4 0-1 1-15 0-9 1"/>
<path class="mk" d="M1617 353l9 1-3 9 15-2-17 13 4 7 26 3 32-3-37 6 27 8-18 1-39-1-6 6 12 0 29-1-5 6-4 1-3 4 7 0-26 4-7 2-10 1-5 2 1 1 23-1 29 2 20 5-56 2-24 4 5-2 10 3 3 0 51-1-23 4 4 3 43 2-85 3 26 6 60 23-99 4 1 4 19 0 1 1 20-1 67 3-68 4-25-1-18-1 39 3 9 5-39 7 88 4-91 5 4-1 32 2 21 7-19-2 5 5-14 6 21 21-32-4-1 18 4 2 48 13-30 4 48 3-35 0-18 3 26 4 1 2-7 5"/>
<path class="mc" d="M1695 366l9 40-3 13-53 0 63 10-21 13 8-1-17 9 37 1-50 24-4 2 110 13-49 7-21-2-32 0-18 9 29 1-34 4-11 0 57 25 19-4-56 5-19 22"/>
<path class="md" d="M1727 354l29 3-57-1-28 3-1 1 44 4-18 3-43 0 9 3 3 3 4 1 5-4 0 3 7 1 7-2 21 1 8 5-28 0-7 4 41-1 1 1-35 5-2 0-46 6 48-3 36 6-1 0-43 0-9 0-11 0-3 3-12-1 2 6 30-4 10 0 12 2 13-1 30 2-41 5-28-1-7 2-30 2 20 0 5 1 9 0 4 0 3 0 12-1 6-1 12 4 15-4-33 5-7 0-11 2-9 2-24 1 1 0 9 2 23 1 41-3 5 3 39 0-78 2-25 1-17 2 12 5 11-3 3 2 31-2 4 3 2-1 6 0-57 7-14 3 48-2 10 1 7 8-1-4-34 0-21 1-11 2 6 4 2 2 8-4 7 1 1 0 2 0 16 0 1 2 15-1 0 1 68 0-75 4-7 0-10 0-45 0-84-1 86 5 18 3 20-2 24-1 11 7-47 0 0-2-10 3 7 4 9-2 3 2 13-2 46 2 24-2-3 8-47-4-12 2-10 0-12-2-28 4-3-4-61 4 51 5 26 0 21-1 40-1-5 6-6-3-7 3-23-2-5 3 0-4-22 4-4 0-2 0-60 4 47-1 17-1 62 3 39-1 25 2-64 0-16 1-15 2-46 0-76-2-2 8 102 0 15-3 5 0 13 3 16-4 16 7-26 2-16-3-3 1-2 0 0-2-18 4 0 0-5-2 11 5 8 0 33 1 6-1 0-2-5 9-41-2-11-2-6 2-4-1-60-1 59 5 11 3 14-2 18-1 28 3 3 0 8 3-6 1-68 7 124 3-19 2-48-2-5 2-56 1 7 2 2 0 19 2 23-2 21-2 36 3-90 3-2 8 40-1-2 5-34 0 24 4 11-2-9 9-5-1-3-2-26 0 36 5-2 5-7 3-10-3-4 4 15 0-7 6-4 4-7 10"/>
<path class="ml" d="M1711 365l-33 5 30 7-19 2-8-2-20 0 8 7 6-1 66-3-21 10-10 8-28-3-40 5 50 1 19 13-47 6 50 6-15-1-17 1-3-1-31 2-11 0 23 3 2 3 44 0 17-1 4 1-23 11-46 2 33 9-21 1-30 1 16 5 38 3-70 4 41 1 8 4 12 0-2 4-18-3-10 0 27 7 28 0-34 7-27-3 2 11 2 3 33 1 30 5-96-1 27 8 43 5-11-3-5 4-3-1-2 1-23-2-21-1 47 8 86 12-69 3-44-2 34 6 12 7 3 3 12-2-54 6 38 7-7 5-15 9-18-3"/>
<path class="mh" d="M1715 356l-10 3-4 5 13 1-2 4-20-2-19 2 17 2 53-1-25 6 0 2-12-3-42 4-7 5 13-3 24 1 12 1 42-3-38 5-13 4-5-4-28 4-21 3 20 1 100 1-50 2-19 3-27 0-15 3 52 1 40 0-67 4-8 6 8-3 8 4 7-3 2 1 12-2 59 0-70 8-5-1-10-2-20 7 18 1 34 4-30-1-27 3-3-3-15 4 83 3 20 6-49-4-2 2-9-2-9 4-29 5 21-2 5 1 4 1 13 0 9-1 11-3 61 3-56 2-38 1-10 1-38 2 7 2 53-1 44 8-21-1-42 2-30-1 22 5 7-1 17 1-25 5-11 6 60 0 5 0 15-1 41 2-70 3-61-2-12 1 39 4 42 1-6 3-32 1-24 4 1 0 10 2 24 2 29 4-32-3-1 0-14 4-7-3-5 0-3 2-14-3-4 0 25 9 40 1-23 0-10 3-15-1-17 7 21-3 12 1 8 1 39-1 3 4-75 5 15 3 0 0 35 0 5 0 19 4-6-1-18-1-9 3-11 0-3-2-4 6 41-3-45 13 29-1 18-1 3 5-47 5 28 5-46 3 49 8-3 1-15 10 2 5"/>
<path d="M1957.2 354L2095.2 354L2095.2 578.9L2085.2 577.6L2077.6 570.2L2070.1 557.8L2060.1 545.3L2045 535.4L2029.9 528L1957.2 528Z" fill="#e5e5e5" stroke="#e5e5e5" stroke-width="2" stroke-linejoin="round"/>
<path class="ma" d="M2031 524l13 5-7-2-2 0-2 2 0-3-1 3-2-1-2-3 2 8 3-1 4-1 0 0 0 1 2-2 1 0 4 3 4 4-1 2-1-1 0 1-2 0 0 0-1-4-1 3-1-1-1-2 0 2-4-2 13 6 0 0 1-1 1 2 1 1 0 0 1-1 0 2 0-1 5 1 3-2 1 1 1 5 0-1 0-2-2 2 0 1-2 1-3-2-2 1 0-2-1-1 2 6 1-1 6 2 2 1 2 1 1-2 1 0 1 0 0-1 0 1 2 5-2 2 0-2-3 0 0-2-1 2-5-2 9 7 1 0 1 2 0 0 1-1 1 1 2 0 3 0 5 0 2 5-3 0 0 0-5-1-1 1-1-3 0-1-3 2 0-2 2 6 0-1 7 1 1 3 2-3 1 3 2-3 0 2 1-3 3 4 6 4-7 1-1-1 0-2-1 2 0-3-2 3-2-3-3 4-1-2 5 3 5 1 1 0 7 3"/>
<path class="mm" d="M1848 474l1 0 11-1 4 2-3 3-1 0 0-2-1 3 0-1-1 0-2-3 0 1 0 0-1 2-5 1 0-2-2 0-1 2 0 5 2-3 1 1 0-1 1 0 9 1 5-2 0 3 1 2 0 0-1 0 0 3 0 0-2 1-1-3-1-1 0 0-1 1-1 0 0 3-4-1 0 0-1-2 0 0-3 1 0 1-1-2-3 1-2-1-1 2 4 5 1 0 2-3 6 2 0 1 1-2 2-1 6 0-9 7-5-1-2 3 8 1"/>
<path class="mn" d="M1888 432l1-1-30 18 27 2-32 14-5 0 21 13 17 4-16 6-24-2 13 17 18 2-32 2 25 4 18 5-23 0-18 4 34 1 1 0-33 5-5 8 22 0 3 0 20-1-19 7"/>
<path class="mg" d="M1935 354l5 0 3 0 24 0 24 0 14 0 53 0 15 2-37 2-12 1-19-4-2 1-4 3-8 0-13-3-3 3-2-1-3 0-2-3 0 2-2-1-5 3-2-4-1 1 0-1-2 2-1-2-11 4-9-3-1 3-1 0-1-2-3 0-3-2-1 1 4 6 3 0 3 0 4 1 1-3 8 1 0 0 1 0 1 0 2 0 0 3 2 0 11 0 1 0 2 0 26-4 1 0 2 2 3 2 11-2 37 1-4 5-1 0-37 1-2-2-8 0-3 2-2 0-4-2 0 0-3-2-3 2 0-1-4-1-5 0-3 0-2 0-5 3-1 1-2-3-1 3-2 0-7 0-1-3-3 0-1 3-3-3-1 1-8 2-3-2-7 2-1 5 2-2 3 2 7-2 17 0 1-2 24 1 8 2 10-3 8 3 47 0 6 1 40-2-50 3-5 1-19-1 0 3-13 1-4-1-1 1 0-4-2 4-3 0-6-3-5 0 0 0-1-1-18 2-4-1 0-1-9 3-2 0-3-1-1 2-2-4 0 0-3 2-5 2-10-4-7 0-2 5 2 2 3-2 9 1 3 2 4-2 1 2 0 1 11-4 5 2 5 1 1-3 8 0 6 2 2 2 6-4 2 3 2-1 0 1 0-2 12 0 2 2 4-1 1-1 2 3 21 2-15 3-20-2-4 1-11 1-20 0-5 0-3-2-7 0-1-2-8 4-1-4-4 4-1-4-4 2-5 2-4-4-5 2 0 5 4 2 5 0 8-1 9-2 8 3 0 0 1-3 0 1 2 0 5-2 1 0 2 4 3 0 4-2 1-2 4 1 1 0 3 2 18 1 2-3 0-1 9 4 7-3 2-1 2 1 3-1 15 1 43 7-46-1-1-2-2 1-3 1-33 0 0 2-12-4-1 0-1 3-2-1-9-1-2-1 0 4-8-3 0 0-9-1-1 1-2 1-2 0 0-1-6 2-4 1-16 0-3 3 3 1 4 0 1-1 1 1 2-1 1 0 18-1 2 2 5-1 6 0 7 2 6-1 8-1 3-1 2 2 1 1 5-4 3 1 5-1 15 3 5-1 7 1 8 2-4 0-3 2-18-2-7 2-22 1 0-1-6-2-7 1-5 1-7-2-7 4-10-2-3 0-10 0-5 1-6 0-2-1 0 1-4 6 4-3 14 2 13 1 9-1 3 0 4-2 1-1 3 3 5-1 3 2 7-3 14-1 10 2 6 1 3-3 5 3 3-3 0 1 3 1 3 0 6 1 1-2 2-1 2 0 1 0 2 2 19 2-40 1-5 2-4 2 0-4-6 4-9-2-13-1-2 0-15 1-1 1-6-1-4 2-2-1 0-1-7 0-3 0-8-1-2 0-1 0-2 3 0-2-1-1-8-1 0 4-1-4-6 1 5 7 4-3 3 2 2 0 4 1 1-2 15 3 0-1 5-3 3 0 3 4 4-4 4 2 3 2 1 0 3-4 4 2 5 2 15-4 9 3 12 1 1-1 7 0 3-1 11 2 47 1-19 3-42-1-13 1-1 0-2 0-1-1-5-1-1 2-4 0-5-3-3 1 0 2-2-1 0 0-14 1-4 1 0-2-2-1-2 1-12 2-3 0 0-2-3-2-5 3-12 0-8-2-1 3-4-4-1 4-6 0 4 4 11-1 6 1 21-1 2 0 4 1 0-2 4 3 3 0 4-3 1 2 9-3 1 0 8 4 8-2 2 2 5 0 2-2 0-1 1 1 3-2 3 1 7-1 27 2-13 3-4 0-2 4-15-4 0 0-2 4-2 0-2-1 0-1-2-1-5 1-4 0-6 0-2-1-3 1-4-1-1 1-1 2-4 0-1-2-2-2-1 3-6-3-3 4-15-4-7 0-5 3-2-3-4 3-5 0-4-2-7 1-5 0-1 1-1 0 0-1-4 4 5 3 11-3 0-1 1 1 6 3 3-4 7 4 2-2 1-1 9 2 2 0 3-2 1 0 3-1 4 4 15-4 4 1 8 0 1 3 1-2 4-1 4 1 5 0 2 1 14-3 2 4 2-1 6 0 38-2 13 2 5 4-16 2-36-1-5-2-4 2-1-1-1-2-21 1-8-1-15 2-3 1-2 0-5 0-4 0-2-1-3 0-4-2-5 1-9 2-4-3-1 2-6-1-5-1-3 1-5 2-15 0 19 6 1-1 7 1 2-4 2 0 28 3 5-2 4 1 0 2 8-2 0-2 3 0 3 2 13 0 5-2 7 2 4 0 1 1 3-1 9 0 4 2 31 3-39-1-5 1-3 2-4-1-5 1-3-3-3 0-2 3-2 0-1 0 0 0-6-2-12 2-2-3-1 0-5 1-9-1-4 3 0 0-6-2-2-1 0 0-3 0-6 1-3 0-7 2-1-3-2-1-3 3-2 0-9-1-9 0-5-2-27 4-16 5 59-2 3-2 10 2 6-2 4 0 10 3 1 0 10-2 13 1 1 2 2-1 4-1 2 0 2 2 16-2 1 2 6-1 0-1 2 1 8-1 2-1 12 0-8 7-10-2-2 2-2-2 0 1-5 0-4 1-16 1-7-2-6-2 0 1-8-1-6 3-5 1 0-2-12 1-3 0-7 0-4 0-4-3-7 2-2 2-11-2 0-1-3-1-2 9 8-4 1 0 8 3 5-1 1-2 6 3 15 1 2-2 0 1 10 0 12 1 1-3 13-1 4 0 1 1 0 2 8-3 5 2 15 0 3 1 3 0 13 3-16 2 0 1-2 0-6 0-1-2-1 2-6-4-6 1-5 3-14 0-2-3-2-1-9 4-25-3-5 0-8 1-7-2-19 4-3-1 6 2 18 0 3 2 4 1 2-1 6 2 25-1 12-3 1 2 8-2 4 0 26 2 1-2 5 2 3 2 0-3 4-1 12 0 2 3 24-2-25 5-10 2-6-2-11 1-17 0-5-2-5 1-6 2 0 0-5 0-16-1-1-1-2 1-16 1-16 0-1-2 0 0-6 2-7 1-4-2-4-2 0 5 8 4 3-2 0-1 4 3 10-4 3 4 16-3 11-1 12 2 5-2 4 3 9 1 4-4 4 0 2 0 11 3 4 0 1 0 0 0 2 0 3 1 6-3 6 1 13 2 47 1-28 3-22 1-17-4-19 2-1 1-11-3-1 0 0 4-1-3-5 3 0-1-2-1-4 0-5 1-12 1-14-3-3 3-12-1-2 0-11-3-3 0-5 4-5-4-2 1-43 6 41-2 32 0 10 2 6 1 10-1 22 1 14 0 14-1 5-2 5 0 9 3 2-2 49 1-39 4-2-1-4 2-2-2-9 1-6 3-8-2-4-2-3 4-2-4-8 2-5 1 0 1-1-4-2 1 0 2-9-1-8 0-2 2-6-2-58 1 3 2 17 1 9-1 0 2 13 2 5 0 11-1 3 0 21-1 0 2 14-3 1 3 3-3 4 2 4 0 4-2 4-1 0 3 1 0 4 1 57 0-43 3-2 2-2-3-12 2-10 1-2-2-1 1-17-3-28 0-6 1-1 3-20-3-6 2-1-1-2-1-2 0-3 2-3 0-4 0-13-1 12 6 12-1 2-2 1 2 12 0 18-1 10 3 1-1 11-2 7-1 2 1 1 2 4 0 2 1 2-3 1 3 2-4 9 0 9 0 1 3 1-2 2 1 1 0 7-1 3-1 1 1 1-1 40 0 16 8-38-3-35 4-10-3-1 1-1-1 0-1-12 2-2 0 0-1-2 3-1-4-1 4-26 0-7-1-3 1-5-1 0-3-3 2-6 0-5 0-1 0-3-1-1-1 0 2-3 1-7-2-4 0-3 3-2 0-3-3 14 6 2 2 9-2 2-2 17 2 14 1 2 1 1-4 10 2 5 1 2-3 2 2 3 0 0-2 1 0 6 3 23 0 1-2 7 1 37 3-32 1-1-1-1 2-11 2-5-3-8 0-8 0-4 2-2-3 0 1-1 2-1-3-3 2-3-2-2 0-4 2-11-2-23 3-2 1-11-1-1 0-5-2-1-1-7 2 0 2-3 1 0 0 3 0 11 1 2 2 7 0 17-2 10 3 10-3 6 3 2-4 9 2 17 1 6-3 15 0 47 2 15-2-23 5-39 2-1-2-3 1-2 2-6 1-4-1-10-3-4 4 0-1-6-1-1-1-3 2-4-1-6 0 0 2-4 0-8-1-2-2-3 1 0 2-3-2-3-1-2 2-15 0-2 1-7 0-9-2-1-2-3 2 7 5 1-1 2 0 3 1 15 1 8-3 1 0 6 2 3 0 12 1 2-3 5 4 2-1 18-2 9 2 7 0 7-3-28 6-2 2-5 0-1 1-12-3-8 3-8-2-1 2-20-4-6 1-1 1-1 2-3-2-6 3 1 2 5-1 14-1 20 4 0-3 3-1 3 0 4 4 3-2 8 0 3 0 2 0 6 0 2 1 10 2-9 0-3 4 0-4-5 0-14 1-1 0-3 2-3-1-7-2-4 1-6 1-6 0-4-1-10 1-8 1 8 2 0 4 3-4 2 3 9 1 3-2 1 0 4-2 13 0 4 0 9 0 2 0 2 0 0 0 12 2 7 1 2-3-9 8-1 1-1-1-7 0-2-2-3 3-3-3 0-1-1 2-7 0-3-1-2 2-2-1-2 1-5 1-3-4-6 1-15 2 0 1-2-3 3 5 5 1 4 0 6-1 1 2 1 1 7-4 4 1 15-1 10 0 7 2-10 7-1 0-9-3-17-1-5 3-2-3-2 1-6 0 4 5 4-1 8 2 11-1 4 1 10 2 4-3-7 7-2 1-3 0-4 0 0 0-14-2 5 4 9 1"/>
<path class="md" d="M2029 381l63-1-31 5 22 92-225 1 172 9-185-2 185 8-87 5-68-1 155 19 44 11-142 1 156 13"/>
<path class="ml" d="M1960 405l8 33-53 7 10 44 9 52-19 7"/>
<path class="mh" d="M1927 381l8 43-11 24-34 5 80 30 19 14-35 54"/>
<path class="mf" d="M1987 358l-8 2 9 0-8 7-35 0-11 0 11 7 15-1-2 3-27 0-1 5 161 2-114 11 4-2-12 6-24-1-32 6 144 3-133 1 79 5 21 7-23-4-9 4-24 0-47-1-9-1 0 7 15-2 1-1 19 1 11 2 9-1 9 0 94 6-132 0 17 3 1 1 39-1 33 1-42 5-12 0-21-3-11 1-44-1 12 9 60-3 16 4-31 2-7-2-1 1-24 1-10 5 28 1 22-2 7 0 5 0 38 4-18 4-13-4-3 2-41-1-11 1 24 6 54-2 90 2-75 3-50 0-12 1-45 0-3 2-12-3-24 8 20-4 3 1 33 2 13-1 5-1 6 0 13 1 16-1 2 3 42-4 3 3 24-2 3 3 0-2-58 3 0 0-47 1-9-1-15 1-10 1-1 4 7-1 9 1 3 1 49-2 39 1 45-1-1 5-111 2-5-2-16 0-27 3-15-1-33 2 28 3 14-1 16-1 2 4 3-2 13-1 0-1 5 0 31 1 5 6-22-1-35 0-10 0-1 1-25-2-4 4 26 3 5-2 6 4 2-4 3 2 15-2 10 1 1-1 11 1 8 1 11 2 12-4 18 3 19-1-4 6-22 0-44 0-19 1-3-4-5 3-16-2 0 3-45 2 45-1 10 1 1-1 7 3 1 0 2 1 0-3 2 0 2 2 6 0 2-3 3 3 20 3-13 1-3 1-5 1-4-4-2 2-21-2-18 9 20-3 7 3 18-4 3 0 8 2 2-2 17 3 10 1 2-2 70-1 15 2-25 4-41 2-32-4-9 2-32-1-3-1-3 0-15 1-8 1-4 2-5 0 16 3 5 1 4-3 15 1 73 0-47 6-15 0-5-2 0 1-7 0-21 3 0-3-2 1-4-2 0 5 15 0 8 0 0 3 38-2 27 0 10 1 57 0-68 3-67 0-26 3 20 4 4-2 5 0 14 2 20-2 7 8-17-2 0 1-3-1-13 3-8-2-12 2-13 1 3 3 10-1 15 0 1 2 21-3 3 2 4 1 7-3-16 4-33 3-10 3 7 3 3 0 16 0 7 0 5-2 34-1-56 5-3 2-4-1 5 7 40-3-23 6-12 6 37 2-18 6"/>
<path class="mc" d="M1950 435l-22 103"/>
<path class="mc" d="M2000 371l-29 20 30 74-36 60-37 0"/>
<path class="md" d="M2063 377l-33 23-6 10 20 26-14 21-172-2-9 32 180 4-8 7-68 21 89 12 3-1 23 8-4-3"/>
<path class="ml" d="M1920 460l93 33-53 82"/>
<path class="mg" d="M1960 354l1 0 49 0 13 0 47 2-25 1-23 1-10 0 0 1-10-4-6 0-2 4-6-4-1 0-3 3 0 0-4-3-5 4-3 0-24-2-15 0 0 0-1-1-5 1-2 2 0 0 9 2 2 0 2 3 12-4 5 3 12 1 2-3 5 0 2 2 3 1 1-1 0 0 8-2 2 1 4-2 4 3 0-2 3 1 2-2 7 9-2-4 0 0-2 3-9 1-5-2 0 2-5-4-1 2-9-1 0 3-16-2-4 1-6-2-1 3 0-4-2 2-2 2-3-2-1-2-9 2-2-1-7 3 0 3 9 2 18-3 2 0 13-1 2 4 3-4 4 2 0 2 16-4 23 0 18 2 4-1 28 7-47 1-9-2-5-1-1 3-2-1-9-2-2 1-8-1-1 1-3 2-2-4-1 2-1 2-5-3-1 1-1 2-7-1-3-2-6 3-3-2-3 0-1 0-1 1-1-1-4-2-8 2 0-1-2 2-2-2-4 0-5 7 0-1 10-1 0 0 5 2 6-2 4-1 3 1 2 1 3-1 2 0 1-1 5 2 9 1 2-3 2 3 3 0 4 0 7-3 1 2 3-2 1 4 5 0 7-2 2 0 3 0 4-2 1 2 1 1 4-3 8 1 4 2 34-2 11-1-41 6-9-1-2 1-13 2-2 0-13 0-7 1-1-1 0-1-1 2-1 0-3-1-4-3-10 1-1 0-11-1-8 1-5-1-3 4 0-1-1-2-1 1-3 2 0-3-8 1-12 3 3 4 13-4 2 4 1-1 1-1 7 2 5-4 1 1 1 2 3-3 18 4 4 0 2 0 1-2 5-1 7-1 6 4 10 0 4-2 4 0 6 0 6 2 13-3 42-1-6 6-38 0-17-1-5 4-6-3-9-1-2 2-2 1-3-1-1 2-1-3-8 2-3-3-4 2-1-2-19 3-2-1-1 2 0-2-2 1-5 0-2 0-8 0-1-3 0 0-5 3 0-2-1 1-12-1 4 5 2 1 16 1 0 0 0-1 14 1 2-3 9 1 9 2 5 0 7 0 1-1 7-2 1 2 7 1 20 1 0-4 4 3 1-1 2 0 46 0-52 5-1 2-5-4-14 0-1 1-1 3-7-3-10 3-9-3-1 1-4 2-3 0-2-1-3 1-13-4-2 4 0-1-6 0-2-2-1-1-4 3-3-1-8 1-4-1-9 6 9 1 9-1 6-2 0 3 11-4 9 0 4 2 0 0 13-2 12 1 0 1 3-1 2 2 2 1 13-2 2 0 12-2 6 4 3-2 2 2 4-2-1 5-15-2-1 1-9 3 0-4 0 3-1-3-11 1-9 0-12 1-7 1-7-3-2 2-1 1-7 1-9 0-12-2 0 0-12-2 0 0-6 5 7 1 1 2 2-3 16 4 27 0 25 0 2-3 2 3 4-2 11 1 1-3 1 0 6 0 9 3 3 1 5-2 22 0-21 5-11-1 0 1-15 2-9-2-1 1-5-1-4 0-7 2-1-1-3-2-13 0-8 0-9 2-5-1-5-1-1-1-12 3-8 1-1-4-9 4-3-1 5 3 3 2 0 0 1 1 0-1 3 0 1-3 5 3 19-3 2 1 11 0 0 2 0 0 1 0 9-3 4 4 2 0 7-4 1 3 2 1 1-1 3 1 2-1 0-3 1 4 3-1 6-1 2-2 6 1 4 3 5-1 9-3 12 1 29 1-38 3-12 3-1-2-3-1-2 0-2 0-1 0-3 0-1 3-5 1-10-2 0 2-3-4-2 2-7-2-4 0-3 0-10 4-7-1 0-2-18-1-18 2-8 3 5 0 3 2 0-1 6 3 2 0 1 0 8-2 8-2 2 1 5 1 1 1 0-2 25 2 1-2 3-1 7 2 0-2 3 1 19 1 2 1 6 1 2 0 1 0 12 0-4 4-1 1-23-4-1 1-11 0-1-1 0 1-4-1 0 1-4 3 0-1-11-1-5 1-4-1-8 2 0-3-1 2-1 1-7-3-2-1-5 3-15 0-1-1-11-1-14 8 3-2 0-1 3-1 0 0 8 4 13 0 2-3 6 2 0 0 10 1 8-1 2 1 12 0 4-1 2-3 6 1 5 2 9-2 1 2 14-1 14 1 13 0 10 4-11-2-2 2-12 0-10-1-2 2-1-2-2 3-1-1-7 1-4-2-6-1-16 3 0-3-3 0 0 1 0 0-1 1-2-3-8 3-3 0-20-1-2-2-7 4-11-3-7 1-4-2-3 3-36 6 35-4 5 2 18 2 2-1 3-1 6-1 0 2 48-1 1 1 2-2 8 2 13 0 13-1 1 2 6-2 43 6-53 1-4-1-6 0-4-3-4 4 0 0-1-2-1-1-10 1-6 1 0 1-3-2-1 2-1 0-12-2-9-1-1 0-5-1-25 0-1 3-25 1-1 2 24-1 15 2 0 2 5-3 6 0 11 0 23 3 18 0 1-4 1 3 15-2 3 2 5-1 2-1 1 1 5-2 60 1-11 5-47 2-2 1-15-3-3-1-2 1-2 3-1 0-3 0-2 0-1-4-1 1-19 0-2 3-2 0-7-4-4 1-5 0-1 1-1-1-19 0-5 3-6-2-8-1 0 1-7-1-5-1 0 3-2-3-3 0-6 4 23 3 3-2 6 1 11 1 0 0 17-2 11 3 9-2 1 1 4-1 8-1 4 2 13-2 2 2 3 1 1 1 2-4 4 1 1 2-1 5-3-3 0 0-2 0 0 2-4-1-2 3 0 0-12-2-2-1-3 2-4-1-4 0-18 1-7-2 0 1-5 0-13-2-1 4-35-4-8 0 11 8 10 1 7 0 10-2 3 0 9 0 3 2 2-2 3-2 1 3 7-3 5 2 2 1 3-2 29-1 0 2 6 1 17-3 66 0 5 4-65 1-9 4-10-4-8 4-6 0-1 0-2-4-2 3-2-1-4 0-11 0 0-2-19 1-1 1-8-1-17 3-25-3-1 1-3-2-4 8 3-2 7 2 4-3 8 4 6-1 15-1 16-1 5 3 2-4 2 3 8-1 7 1 7-3 10 0 1 0 8 0 1 0 0 4 4-3 26-1 55 3 13 3-84 0-2 1-9-2-6 0-13 0-2 4-1-1-4-3-1 3-1-2 0 2-8-3-1 2-2-2-28 2-19 1-19-3-1 2-5 6 2-1 2-1 1 1 6 1 10 1 4-1 9-1 4-2 12 0 1 1 7 1 8-2 0 0 2 1 0 0 2 3 6-2 6-2 15 1 12 1 4 2 3-4 3 2 7-2 5 2 25-2 41 2 8 3-59 4-11 0-17 0-2-2-2 1-5-2-19-1-1 3-5-2-13 1-2 1-26 0-7-1-26-1-8 3 2 4 10 1 5-4 13 0 3 1 22-1 2 4 12-3 8-1 6 2 9-2 4 3 2-2 4 2 2-1 1 2 89-2 0-1-64 6-2 1-1-1-5-2 0 4-18-2-19 0-3-2-28 2-16-1-7 1-6-1-18 3-1-4-1 7 10-2 14 1 2 2 1-3 2 0 0 0 4 4 8 0 2-3 3 0 2 3 0 0 1-2 10-2 0 1 13-1 2 1 4 3 2 0 12-3 0 1 3-1 3 2 8 1 4-2 13 2 1-4 2 4 23-4 3 2 12 2-42 1-1 0-3 0-6 1-6 2-4 0-16-2-3-1-1 4-2-2-9-2-18 1-4 2-5-1-6 1-9 1-3-4-4 2-3-2-6 0-2 1 0-1-1 1-2 2-6-2-3 0 16 5 2 0 4 1 2-1 8 1 7-1 1 3 2-1 1-3 6 0 5 4 11-2 16 0 2-2 0 4 2-2 1-2 0 4 7-3 2-1 0 4 4-3 2 1 9-2 4 0 5 0 67 2-20 5-53 0-8 1-3 1-1-4-3 2-2-2-7 2-2 2-6-2 0 2-1-3-7 3-9-2-1 1 0-2-23 3-8-4-8 2-1 1-7 3 3 0 16 2 2 1 3-2 5 2 8 0 7 0 0-1 1-2 1 0 14-1 10 1 3 0 1-1 9 3 0 0 3-1 3 2 2-2 3 2-10 1-6 1-1-1 0 2-2 1-7 1-3-2-3-1 0 2-8 0-9 0-17 1-8 0-6-4-4 0 0 0-14 1 9 6 2 0 34 0 7-1 2-1 0 4 1-2 4 2 1-3 2 2 2 0 5 0 3-3 3 1 12 0 1 0 1 3 6-2-9 5-4 1-2 1-6-4 0 0-8 2-1-2-1 4-9-2-3 0-1-1 0-1-5 0-17 2-3 2-4-4-1 1-2 2-10 1-1 5 21-3 1 2 0-3 2 4 1-4 22 0 4 2 5 1 9-3 5 3 0-3 1 0 3 1-4 7-4 1-5-2-5 0-7 0-2 1-10 1-7-4-12 2 0 1-3-1-1-1 1 8 6-1 1 0 3-3 32 1 6-1 3 5-5 3-4-3-6 2-6 2-2-2-1 1-2-2-2 0-1-1-2 0-3 4-11-2 0-2-6 0 0 2-2-2 4 6 5-1 0 4 21-2 1 1 5-3 4 0 3 0 3 0-3 5-1 4-1 0-1-4-3 3-13-1-5 0-5 0 0 1-3 2 12 0 1 1 1 0 9 0"/>
<path class="mh" d="M1987 361l-44 22 73-3-114 58 21 30 68 15-22 34-63 11 17 4 33 52"/>
<path class="mf" d="M2076 355l-32 4 11 10-122-2-3 6 3-1 18 2 47 0 60 2-99 5-33 7 56 3-12 7-1-2-13 0-31 2 36 4 43-2 49 7-123-2-24 8 57 1 55 0 47-1-27 2-79 4-30 5 35-1 112-1 2 1-115 6-24-2-24-1-12 5 25 2 1-3 13 2 3 1 9-3 9 1 6-1 2 2 15 1 11 0 7 0 25-1-25 4-85 1-5 1-17 4 17 2 4 0 49 0 65 0 4-4-8 7-6 0-18-2-22 3-23 1-20-1-9 0-6 1-30-2 34 4 23 0 10 8-11-3-16 0-13 0-27 3 17 5 17-3 2 1 9-2 4 2 13 1 19-3-28 7-15 0-66 0-11 6 43-3 30 2 51 1 53 1-12 3-53 2-4-2-8-1-10 0-34-1-43 4 31 3 17 2 2 0 1-1 6 1 2-2 7 2 27-2 9 1 39-3 74 9-100 0-16-4-32 2-21-1-5-1-7 1-35 1-7 0 52 3 15 3 10-1 9-1 14 0 26 0 1 0 59 0-76 8-9 0-3 0-5-2-25 2-10-2-2-2-27 7 11-2 1 3 33-3 46 1 80 1-104 5 0 0-10-2-13 2-6 0-1 0-4-2-3 0-2 3-8 6 9-3 14-1 5 1 1 0 5 2 4 0 5-1 7-1 8-1 25 3 6 5-26-3-6 1-10 0-12 2 0-2-25-1-9 3-6 6 6 0 17-1 17-3 10 2 10 2 93 2-50 0-9 3-25-3-4 1-11-1-9 0 0 1-4-2-2 3-18-2-2-1-20 2-3 0 25 5 4 1 1 1 21-1 12-2 2-1 4 0 6 3 4-3 56 0 53 8-22-3-77 0-30 2-27-1-4 0-1 3-2 0-5-4-1 4-3-2-20 0 16 6 3 0 14-3 1 3 7-2 5 0 9 0 33-1 64 3 3-3-49 8-59-2-17 0 4 4 10 3 27 0 34-1-40 3-14 1-12 2-4-3-1 4-16-3-4 2-3-1 18 4 5 1 162 7-152-2-14 1-2-3 5 9 3-4 52 8-48-3-12 8 40-1"/>
<path class="mg" d="M1945 354l36 0 68 1-32 1-2 1-1-1-4 0 0 1-12-2-4 1-4-1 0 3-2 0-5-1-5 2-17-1 0-3-3 4-2 0 0-2 0 2-4-2-10-1-3 1-2 2-3 0-10-2 4 4 6-1 13 2 1-2 2 2 14-2 3 2 17-2 10 1 2-1 2 0 22 3 2-3 2 4 23-2 40 0-60 6-3-1-3-2-7 4-10 0-4-2-14 0-4-1-2-1-5 2-10 2-2-4-4 4-5 0-9 0-5-2-2 1-1 0-3 0-2-2-9-1 0 7 4 2 4-3 4 0 12 3 6-1 2 0 1 0 2-1 4 1 2-3 4 1 10 2 1-2 4-1 4 3 2-3 5 1 10 3 19-3 4-1 23 0-25 7-10-2-1 3-18-1-1 0-4 0-4-1-1-1-1 3-8 1-1-2 0 0-8 0-2 2-6-1-4 0-3-1-3 0-7 0 0-1-6 2-13 1-3 0 0 2 11 1 0-2 3 0 1 0 3 0 3 0 1 2 5 0 0 1 1-1 3-2 3 2 7 1 0-2 12 3 6 0 4-2 5-1 19-1 15 7-6 1 0-2-2 2-6-2-2 2-5 0-5-3 0 4-7-4-1 1-1 3-6-4-4 1 0 3-17-2-1 0-1-1 0 2-8-3-1 3-3-1-3-2-8 4-1-3-1 2-4 1-5-4-1 0-10 2 0 0 1 4 2 0 3 1 3-1 7 3 14-2 8-1 2 3 6-3 9 1 9 0 6-2 19 0 0 0 15 3 1 1 1-2 1 1 61 1-37 2-35 2 0 0-8-1-2 1-3-3-3 0-2 0-3 1-11 2-6-2-10 2-3-3-28 4-4-4-13 2-5 0 5 3 10 1 9 2 4-3 17 4 4-2 5 2 3-4 2 0 13 3 4 1 7-2 1-2 4 4 4 0 8 0 20-3 2 1 8 5-1-2-40 3 0-3-1 2-1 0-3 0-5 2-1-3-4 1-3 2-1-2-8 0-6 0-4 0-1 2-1 0-1 0-2-4-5 4-8-1-4-2-3 0-3 3-13 0-8-2-3 4 1-1 2 4 2-4 0 2 1 1 4-1 22 1 1 0 0 1 8-2 6-2 19 1 9 0 2-1 16 0 1 3 16-2 46 2 6 2-54 0-1 4-5-3-2 2-10 0-5-2-5 0-3 0-1 1-1 1-6-3-4 3-14 0 0 1-8-4-6 1 0 3-5 0 0-2-2 2-7-2-1-1-14 2-1-2-1 2-1-1-2 1-4-1-8 4 2 1 1 1 5-1 5 1 2 0 2-1 5 1 6-1 1-1 26 3 0-4 3 1 7 0 1-1 6 0 1 4 2-1 1 1 0-2 2 1 2-1 5 0 1-1 3 0 1 1 2 0 2 2 16-2 5-1 1-1 2 4 0-2 4-1 35 0 7 2-31 6-4-3-36 1-1 0-4 0-13-2-2 1-4-1-4 1 0 3-7-3-4 3-3 0-4-3-2-1-1 0-2 0-8 2-15-1-1 2-1 0-6-1-3 0-5 2-1-2-1 7 1-4 5 4 3-2 4 0 7 1 3-1 2-1 11 2 17-2 3 2 6-3 2 3 3 0 0-3 7 2 3 0 6 1 3-1 7 2 1-4 1 3 0 0 26-3 1 4 9-3 9 0 1 6-12 1-26-2-13 1-11 1-5 0-9 1-3-4-6 2-7 0-2-1-1 0-2 0-4 0-1 2-2 0-9 0-8-1-3 0-7-2-1 0-2 1-3-1 0 1-1 0 1 8 7 0 1-3 2 0 5-1 3 1 2 1 4 2 3 0 6 0 3-4 0 2 0-2 2 4 4-1 0 0 2-2 3 2 10-1 4 0 0 0 6 1 5 1 6-2 2 2 5-1 3-1 4-2 14 2 3-2 2 3 9-3 16 1 15 0-8 7-44-2-2 3-6-1-1-2-3 1 0 1-5 0-9 0 0 1-4-1-1-2-4 3 0-2-1 0-3 1-1 1 0 0-1-4-3 4-2 0-2-1-3 0-1-1-8 2-10 0-5-2-12-1-5 2-3 1-2-1-6 0-2 1-3-1-2-2 0 0-4 6 5 2 4 0 6 0 0-4 0 3 2 0 4 1 12-1 13-3 2 2 5 0 1 0 1 2 5-2 0 0 7 2 10-2 1 2 2-4 12 2 5-1 7 3 5 0 6 0 2-2 10-2 4 2 52 7-63-2-8 2-7 0-14-3-5 1-7 2-16 0 0-2-7 1-1-3-11 3-4 1-8-2-5 0-13-2-7 2-1-1-1-1-3 3-1-1-3 3 1 2 2 2 3-1 1-2 1 2 4-3 5 3 6-3 3 0 26 4 1-4 15 0 3 4 5-4 3 1 1 3 8-4 4 1 1 0 2 0 1 3 22-1 11 1 57 2-37 0-19 0-5 1-3 1-1-1-24 2-2-3-5 2 0 1-4-4 0 3-7-1-7 1-1 0-1 0-6-1-2-2-2 3-19 0-1-2-4 0-1 1-3-1-2 0-3 2 0-1-12 2-12-2 0 1 5 2 21 1 12 2 3-2 16 0 2 3 1-2 4 0 4-1 9 2 12 1 2-1 1-2 3 3 4-3 18-1 6 2 5 2 23-1 18 1-35 1-7 1-2 2-5-3-2 2-7 1 0-1-4 0 0 2-14-2-1-2 0 2-8 2-2 0-6-4-17 4-5-1-5 1-6 0-13-1-27-2-9 3-13-1-5 0-15 6 34-4 1 3 2-2 3 1 2-1 3 1 0-1 7 3 1-1 2-3 10 2 2 1 4 1 2-3 6 3 13-4 7 0 7 1 2 1 10 1 11 0 8-3 0 1 1-1 5 1 6 2 0-3 10 3 10 1-12 4-5 0-10 1-4-3-2 0-6-1-4 0-7 1-7 1-10-2-23 1-7 0-13-1-12 1-3 3-1-1 0-1-9 1-2-1 7 5 2-2 2 2 2-1 7 2 21 1 2-3 21-1 11 3 6-3 6 1 6 3 0-4 2 4 10-3 0 0 4 3 3-2 81-1 7 3 10-4-56 9-41 0-1-3-8 3-1 0-14-1-6-3-11 1-7-1-4 4-23-1-22 0-17-1 5 4 12 2 0 1 2-2 5-1 20 0 23 2 14 0 7-2 6 3 1-2 4 1 12-3 1 4 8-1 4-2 2 1 13 0 2-2 46 1-44 5-18 3-5 0-6-3-2-1-4 1-6-1-8 0-3 1-7 2-6-2 0 1-1 1-5-3-4 1-23 2-4 1-16 0 0-3-7 2-2-3-2 1-7 3-3 1 0 4 12-1 1 1 6 0 7-3 0 1 0 0 3-2 3 4 36-4 1 0 13 1 1-1 25 0 1 4 3-3 1 3 5 0 4-3 1 2 1-2 13 1 32 0-34 3-17 0-9 1-1 3-5-3-1 3-9-1-2-2-2 0-2-1-1 2-5-2-26 4-1-2-22-2-3 1-8-1-7 1-2 1-6 3 3 1 3-1 0 0 4 0 10 1 2 0 2 0 1-1 6 3 24-1 1 1 4 0 15-2 3 3 4-2 1-1 5-1 1 0 2 3 2 1 17-1 1-3 9 1 80 2-8 2-54 1-18 2-8-1 0 2-1 0-11-3-5-1-8 2-1 2-1-3-3 2-1-3-11 1 0 1-6 2-21-4-18 4-8-2-15-1-3 3 6 4 5 0 13-2 6 2 16-3 3 2 5-1 11 3 1-3 6 1 3 0 2 0 0-1 3 0 2 2 3 0 3 0 12 1 2-3 18 2 30 0 36 5-53 1-6-1-2 1 0-2-6 0-5-2-6 4-8-4-2 2 0-1-1 0-9-1-1 2-4 1-5-3-8 3-1-3-7 4-3-2-13-2-2 3-10-2-5-1-5 0-1 1-3 3-1-3 0 0-2 1-6 2-2 5 4-1 4-2 5 3 2-1 9-2 5 0 1 1 3 2 31 0 4-4 3 3 5-3 3 0 2 1 4 1 3 2 12-2 4 2 4-1 6-1 1-2 3 5-10 1-6 0-4 3-3-2-3-2 0 2-8 1-4 1-8 0-9-1 0-3-7 4-14-2-13-2-4 1-2 3-1-1-18 1-2 0-4-3 1 4 9 1 6 1 15 0 0-2 17 4 1-1 1 1 0-2 28-1 7-1 5 1 15 2 3 1-4 4-3-3-1 1-10-1-3 2-6 2-2-3-2 0-13 2-2-1-4 2-2-2-13 1-1-3-1 2-4 1-7 0-19 4 0-1 3 2 4 0 12 0 3 0 0 1 0 0 4-3 4 0 3 0 1 3 2-2 17 1 8-1 17 2 9 4-1-3-3 0-3 4-6-2-15-1-1 1-3-2-3 1-1 3-3-2-2 2-4-4-1 4-1-2 0-1-5 2-10-2-5 3-14-3-1 5 10 2 1-3 3 4 3-2 3 2 11-3 6-1 0 4 4-3 2 3 3-3 1 1 0 1 0 0 16-2 3 3 4 0 7-1 0-2-9 7-3-2-9 2 0-3-8 2-4-1-7-1-1 2-3 0-1-1-16 2-10-2 0 3 23 2 4 1 6-2 1 1 26 1-4 3-3 3-6 1-6-2-13-2-6 2-11 2 2 2 3 0 8 0 4-1 9 1 6-1 0 4 0-4 3 0 0 3 6-3-15 5-3 2-2 1-9-3-4 3-2-3 16 7 7 0"/>
<path class="mf" d="M1955 361l21 0 50 4-53 2-50 7 6-3 52 1 55-2 54 5-35 4-84-3-9 3-43 3 56 2 76-1 7 6-37-4-59 2-29-1 113 8 16 3-43 0-49 1-13-1-46-2 9 8 3-2 18 3 68-3 57 0-29 4-38 4-92 2 34 3 2-2 80 0 11 0-65 4-8 1-3 1-32 6 11-4 28 2 94 1-10 4-126-1-19-1 7 9 24-1 105-2 12 2 24-2-96 4-31 3-37 4 3 1 124-2 15 1 19 6-138-3-13 1-22-1 17 9 13-3 34 1 76 2-38 5-14-2-46 1-4-2-33 3-3 5 32 0 2-4 14 1 5 3 33-4 64 3-50 6-28 0-28-1-10-1-44-2-3 1 2 7 8-3 18 1 1 1 12 0 6 1 4-3 6 4 100 5-29 0-14-1-14 0-37-1-14-2-3 3-4-2-21 3-10 0-4-4-29 7 35 1 10-2 0 1 4 1 28 1 6-4 7 4 14-4 3 3 10-3 84 2-99 5-13-1-8 0-5 2-6-2-1 2-16-2-11-1-4 2-24-1 19 8 16-3 2 3 16 0 9-1 6 1 18 0 0-2 18 1 70 2-96 1-21-1-7 4-11-2-32-2-15 5 21 3 2-2 11 2 19-1 2 2 7 0 1-2 20-1 113 8-60-3-42-1-4 4-25-2-8 1-7-2-3 2-3 0-15 1-6-3 15 7 14 0 1-3 1 1 1-1 0 4 6 0 4-3 55 3 15-4 47 1 37 3-59 3-67 1-7 1-14-1-6-1-11-2-3 2-4-1-22 2-5 1 18 4 7-2 0 3 9-2 2-1 10 0 4-1 6 4 10-4 40 8-11-1-4-1-7 0-3-1 0 4 0 0-6-3-5 2-12 0-8 1-3-4-5 0 0 2-21-1-2 0-2-1-17 4 0 3 25-2 22 1 35 2-18 6-22-4 0 0-7 1 0 0-2 2 0-1-3 0-2 1-7-1-17 5 5 2 2-1 20 0 4 0 45-2 2 3 71-1 10-1 25-1-87 4-58 0-8 3-7-3 0 4-7-1 12 4 58-2 14 9-58-1-8-1-5 1-17 2 26 0 20 3 5 1 6-2-2 4-29 7 14 1 38-1-52 2-8 7 38 7 0 8-2-2"/>
<path class="mh" d="M1993 436l-23 1 34 7-78 137"/>
<path class="ml" d="M1979 425l-76 7 97 7-29 1-16 7 13 20-63 32 65 73-16 6"/>
<path class="md" d="M2091 383l-44 46-5 2-19 11 55 11-219 14-3 1 221 4-36 3 52 73"/>
<path class="mc" d="M1981 360l-43 194"/>
<text x="1845.4" y="580" font-size="20.7" text-anchor="middle">RNA k-NN</text>
<text x="1845.4" y="605" font-size="20.7" text-anchor="middle">enrichment</text>
<rect x="1807.5" y="619" width="77" height="23.5" fill="url(#gRYB)" stroke="#1a1a1a" stroke-width="1.6"/>
<text x="1819" y="665" font-size="20.7" text-anchor="middle">-20</text>
<text x="1871" y="665" font-size="20.7" text-anchor="middle">20</text>
</g>
<g id="pe">
<text x="3" y="694" font-size="39.5" font-weight="bold">e</text>
<text x="277.8" y="684" font-size="27.7" text-anchor="middle" font-weight="bold">Differential motifs</text>
<text x="277.8" y="716.8" font-size="27.7" text-anchor="middle" font-weight="bold">Stem/progenitor cells</text>
<rect x="112.5" y="736.6" width="337.7" height="451.6" fill="none" stroke="#000" stroke-width="1.6"/>
<text x="101.5" y="828.4" font-size="20.7" text-anchor="end">Acute</text>
<line x1="108" y1="821.9" x2="112.5" y2="821.9" stroke="#222" stroke-width="1.8"/>
<text x="101.5" y="969.1" font-size="20.7" text-anchor="end">Chronic</text>
<line x1="108" y1="962.6" x2="112.5" y2="962.6" stroke="#222" stroke-width="1.8"/>
<text x="101.5" y="1110.1" font-size="20.7" text-anchor="end">Recovered</text>
<line x1="108" y1="1103.6" x2="112.5" y2="1103.6" stroke="#222" stroke-width="1.8"/>
<circle cx="137.1" cy="821.9" r="7.4" fill="#f2d3cf" stroke="#000" stroke-width="1.5"/>
<circle cx="178.2" cy="821.9" r="8.5" fill="#fbf3f1" stroke="#000" stroke-width="1.5"/>
<circle cx="219.4" cy="821.9" r="9.2" fill="#f3dad6" stroke="#000" stroke-width="1.5"/>
<circle cx="260.5" cy="821.9" r="9.2" fill="#f5e0dc" stroke="#000" stroke-width="1.5"/>
<circle cx="301.7" cy="821.9" r="3.5" fill="#ffffff" stroke="#000" stroke-width="1.5"/>
<circle cx="342.8" cy="821.9" r="9.5" fill="#f0cfcb" stroke="#000" stroke-width="1.5"/>
<circle cx="383.9" cy="821.9" r="8.5" fill="#f6e3e0" stroke="#000" stroke-width="1.5"/>
<circle cx="425.1" cy="821.9" r="7.4" fill="#f2d3cf" stroke="#000" stroke-width="1.5"/>
<circle cx="137.1" cy="962.6" r="14.3" fill="#7b5dc0" stroke="#000" stroke-width="1.5"/>
<path d="M132.9 962.6L141.3 962.6M134.1 959.6L140.1 965.6M137.1 958.4L137.1 966.8M140.1 959.6L134.1 965.6" fill="none" stroke="#1a1a1a" stroke-width="1.5"/>
<circle cx="178.2" cy="962.6" r="14.3" fill="#e6e2f5" stroke="#000" stroke-width="1.5"/>
<path d="M174 962.6L182.4 962.6M175.3 959.6L181.2 965.6M178.2 958.4L178.2 966.8M181.2 959.6L175.3 965.6" fill="none" stroke="#1a1a1a" stroke-width="1.5"/>
<circle cx="219.4" cy="962.6" r="8.8" fill="#faebe8" stroke="#000" stroke-width="1.5"/>
<circle cx="260.5" cy="962.6" r="8.5" fill="#faebe8" stroke="#000" stroke-width="1.5"/>
<circle cx="301.7" cy="962.6" r="10.2" fill="#f6e0dc" stroke="#000" stroke-width="1.5"/>
<circle cx="342.8" cy="962.6" r="10.6" fill="#f3d5d0" stroke="#000" stroke-width="1.5"/>
<circle cx="383.9" cy="962.6" r="8.1" fill="#fbf0ee" stroke="#000" stroke-width="1.5"/>
<circle cx="425.1" cy="962.6" r="10.6" fill="#de7b72" stroke="#000" stroke-width="1.5"/>
<circle cx="137.1" cy="1103.6" r="15" fill="#8464c4" stroke="#000" stroke-width="1.5"/>
<path d="M132.9 1103.6L141.3 1103.6M134.1 1100.6L140.1 1106.6M137.1 1099.4L137.1 1107.8M140.1 1100.6L134.1 1106.6" fill="none" stroke="#1a1a1a" stroke-width="1.5"/>
<circle cx="178.2" cy="1103.6" r="7.2" fill="#ddd8f0" stroke="#000" stroke-width="1.5"/>
<circle cx="219.4" cy="1103.6" r="15" fill="#f0bdb6" stroke="#000" stroke-width="1.5"/>
<path d="M215.2 1103.6L223.6 1103.6M216.4 1100.6L222.3 1106.6M219.4 1099.4L219.4 1107.8M222.3 1100.6L216.4 1106.6" fill="none" stroke="#1a1a1a" stroke-width="1.5"/>
<circle cx="260.5" cy="1103.6" r="15" fill="#f0bdb6" stroke="#000" stroke-width="1.5"/>
<path d="M256.3 1103.6L264.7 1103.6M257.6 1100.6L263.5 1106.6M260.5 1099.4L260.5 1107.8M263.5 1100.6L257.6 1106.6" fill="none" stroke="#1a1a1a" stroke-width="1.5"/>
<circle cx="301.7" cy="1103.6" r="15.3" fill="#f0bdb6" stroke="#000" stroke-width="1.5"/>
<path d="M297.5 1103.6L305.9 1103.6M298.7 1100.6L304.6 1106.6M301.7 1099.4L301.7 1107.8M304.6 1100.6L298.7 1106.6" fill="none" stroke="#1a1a1a" stroke-width="1.5"/>
<circle cx="342.8" cy="1103.6" r="15" fill="#edb2ab" stroke="#000" stroke-width="1.5"/>
<path d="M338.6 1103.6L347 1103.6M339.8 1100.6L345.8 1106.6M342.8 1099.4L342.8 1107.8M345.8 1100.6L339.8 1106.6" fill="none" stroke="#1a1a1a" stroke-width="1.5"/>
<circle cx="383.9" cy="1103.6" r="14.3" fill="#eaa8a1" stroke="#000" stroke-width="1.5"/>
<path d="M379.7 1103.6L388.1 1103.6M381 1100.6L386.9 1106.6M383.9 1099.4L383.9 1107.8M386.9 1100.6L381 1106.6" fill="none" stroke="#1a1a1a" stroke-width="1.5"/>
<circle cx="425.1" cy="1103.6" r="16.7" fill="#c0271f" stroke="#000" stroke-width="1.5"/>
<path d="M420.9 1103.6L429.3 1103.6M422.1 1100.6L428 1106.6M425.1 1099.4L425.1 1107.8M428 1100.6L422.1 1106.6" fill="none" stroke="#1a1a1a" stroke-width="1.5"/>
<line x1="137.1" y1="1188.2" x2="137.1" y2="1193.5" stroke="#222" stroke-width="1.8"/>
<text font-size="20.7" text-anchor="end" fill="#4d4d4d" transform="translate(149.1 1203) rotate(-45)">CTCF</text>
<line x1="178.2" y1="1188.2" x2="178.2" y2="1193.5" stroke="#222" stroke-width="1.8"/>
<text font-size="20.7" text-anchor="end" fill="#4d4d4d" transform="translate(188.2 1203) rotate(-45)">Zfp296</text>
<line x1="219.4" y1="1188.2" x2="219.4" y2="1193.5" stroke="#222" stroke-width="1.8"/>
<text font-size="20.7" text-anchor="end" fill="#4d4d4d" transform="translate(226.9 1203) rotate(-45)">Spib</text>
<line x1="260.5" y1="1188.2" x2="260.5" y2="1193.5" stroke="#222" stroke-width="1.8"/>
<text font-size="20.7" text-anchor="end" fill="#4d4d4d" transform="translate(267 1203) rotate(-45)">Spi1/Spic</text>
<line x1="301.7" y1="1188.2" x2="301.7" y2="1193.5" stroke="#222" stroke-width="1.8"/>
<text font-size="20.7" text-anchor="end" fill="#4d4d4d" transform="translate(306.7 1203) rotate(-45)">Rorc</text>
<line x1="342.8" y1="1188.2" x2="342.8" y2="1193.5" stroke="#222" stroke-width="1.8"/>
<text font-size="20.7" text-anchor="end" fill="#4d4d4d" transform="translate(348.3 1203) rotate(-45)">Bcl11a</text>
<line x1="383.9" y1="1188.2" x2="383.9" y2="1193.5" stroke="#222" stroke-width="1.8"/>
<text font-size="20.7" text-anchor="end" fill="#4d4d4d" transform="translate(395.4 1203) rotate(-45)">ETS</text>
<line x1="425.1" y1="1188.2" x2="425.1" y2="1193.5" stroke="#222" stroke-width="1.8"/>
<text font-size="20.7" text-anchor="end" fill="#4d4d4d" transform="translate(439.1 1203) rotate(-45)">AP-1</text>
<text x="515.7" y="678.8" font-size="20.7" text-anchor="middle">Change in</text>
<text x="515.7" y="704" font-size="20.7" text-anchor="middle">motif score</text>
<text x="515.7" y="728.8" font-size="20.7" text-anchor="middle">from control</text>
<rect x="477" y="739" width="77" height="23" fill="url(#gPWR)" stroke="#1a1a1a" stroke-width="1.4"/>
<text x="476.6" y="781.7" font-size="20.7" text-anchor="middle">−0.5</text>
<text x="529.5" y="781.7" font-size="20.7" text-anchor="middle">0.5</text>
<text x="514.7" y="817" font-size="20.7" text-anchor="middle">−log10(FDR)</text>
<circle cx="484.7" cy="842" r="11.2" fill="#fff" stroke="#000" stroke-width="2.5"/>
<circle cx="548.2" cy="842" r="14.4" fill="#fff" stroke="#000" stroke-width="2.5"/>
<text x="484.7" y="849" font-size="20" text-anchor="middle">1</text>
<text x="548.2" y="849" font-size="20" text-anchor="middle">2</text>
</g>
<g id="pf">
<text x="597" y="711" font-size="39.5" font-weight="bold">f</text>
<text font-size="23.3" text-anchor="middle" transform="translate(617.5 972.6) rotate(-90)">Change in AP-1 motif accessibility</text>
<line x1="680.7" y1="771.9" x2="680.7" y2="1182.2" stroke="#000" stroke-width="1.8"/>
<line x1="679.8" y1="1182.2" x2="936.3" y2="1182.2" stroke="#000" stroke-width="1.8"/>
<line x1="676.7" y1="807" x2="680.7" y2="807" stroke="#000" stroke-width="1.5"/>
<text x="669.2" y="814.5" font-size="21.5" text-anchor="end">1.0</text>
<line x1="676.7" y1="887.7" x2="680.7" y2="887.7" stroke="#000" stroke-width="1.5"/>
<text x="669.2" y="895.2" font-size="21.5" text-anchor="end">0.5</text>
<line x1="676.7" y1="968.3" x2="680.7" y2="968.3" stroke="#000" stroke-width="1.5"/>
<text x="669.2" y="975.8" font-size="21.5" text-anchor="end">0.0</text>
<line x1="676.7" y1="1049" x2="680.7" y2="1049" stroke="#000" stroke-width="1.5"/>
<text x="669.2" y="1056.5" font-size="21.5" text-anchor="end">−0.5</text>
<line x1="676.7" y1="1128.9" x2="680.7" y2="1128.9" stroke="#000" stroke-width="1.5"/>
<text x="669.2" y="1136.4" font-size="21.5" text-anchor="end">−1.0</text>
<line x1="716.9" y1="1182.2" x2="716.9" y2="1187.2" stroke="#000" stroke-width="1.5"/>
<text font-size="27.8" text-anchor="end" transform="translate(729.9 1201.2) rotate(-45)">Control</text>
<line x1="777.7" y1="1182.2" x2="777.7" y2="1187.2" stroke="#000" stroke-width="1.5"/>
<text font-size="27.8" text-anchor="end" transform="translate(790.7 1201.2) rotate(-45)">Acute</text>
<line x1="839.3" y1="1182.2" x2="839.3" y2="1187.2" stroke="#000" stroke-width="1.5"/>
<text font-size="27.8" text-anchor="end" transform="translate(852.3 1201.2) rotate(-45)">Chronic</text>
<line x1="900.1" y1="1182.2" x2="900.1" y2="1187.2" stroke="#000" stroke-width="1.5"/>
<text font-size="27.8" text-anchor="end" transform="translate(920.1 1201.2) rotate(-45)">Recovered</text>
<line x1="680.7" y1="968.3" x2="933.3" y2="968.3" stroke="#000" stroke-width="1.5" stroke-dasharray="20 10"/>
<path d="M716.9 968.3L777.7 938L839.3 885.7L900.1 861.4" fill="none" stroke="#e36d6b" stroke-width="3.9" stroke-linejoin="round"/>
<line x1="716.9" y1="953.4" x2="716.9" y2="983" stroke="#e36d6b" stroke-width="3.9"/>
<line x1="712.9" y1="953.4" x2="720.9" y2="953.4" stroke="#e36d6b" stroke-width="2.8"/>
<line x1="712.9" y1="983" x2="720.9" y2="983" stroke="#e36d6b" stroke-width="2.8"/>
<line x1="777.7" y1="916" x2="777.7" y2="960" stroke="#e36d6b" stroke-width="3.9"/>
<line x1="773.7" y1="916" x2="781.7" y2="916" stroke="#e36d6b" stroke-width="2.8"/>
<line x1="773.7" y1="960" x2="781.7" y2="960" stroke="#e36d6b" stroke-width="2.8"/>
<line x1="839.3" y1="862.3" x2="839.3" y2="909" stroke="#e36d6b" stroke-width="3.9"/>
<line x1="835.3" y1="862.3" x2="843.3" y2="862.3" stroke="#e36d6b" stroke-width="2.8"/>
<line x1="835.3" y1="909" x2="843.3" y2="909" stroke="#e36d6b" stroke-width="2.8"/>
<line x1="900.1" y1="849.5" x2="900.1" y2="873.9" stroke="#e36d6b" stroke-width="3.9"/>
<line x1="896.1" y1="849.5" x2="904.1" y2="849.5" stroke="#e36d6b" stroke-width="2.8"/>
<line x1="896.1" y1="873.9" x2="904.1" y2="873.9" stroke="#e36d6b" stroke-width="2.8"/>
<text x="898.5" y="719" font-size="28.6" text-anchor="middle" font-weight="bold">Intermediate AE</text>
<text x="845.8" y="830.4" font-size="21.5">FDR = 0.004</text>
<line x1="1001.5" y1="775" x2="1001.5" y2="1183" stroke="#000" stroke-width="1.8"/>
<line x1="1000.6" y1="1183" x2="1116.3" y2="1183" stroke="#000" stroke-width="1.8"/>
<line x1="996.5" y1="901" x2="1001.5" y2="901" stroke="#000" stroke-width="1.5"/>
<text x="993.5" y="908.5" font-size="21.5" text-anchor="end">0.5</text>
<line x1="996.5" y1="1032" x2="1001.5" y2="1032" stroke="#000" stroke-width="1.5"/>
<text x="993.5" y="1039.5" font-size="21.5" text-anchor="end">0.0</text>
<line x1="996.5" y1="1163.3" x2="1001.5" y2="1163.3" stroke="#000" stroke-width="1.5"/>
<text x="993.5" y="1170.8" font-size="21.5" text-anchor="end">−0.5</text>
<line x1="1072.5" y1="1183" x2="1072.5" y2="1188" stroke="#000" stroke-width="1.5"/>
<rect x="1055" y="856.7" width="44" height="175.3" fill="#c8254b" stroke="#000" stroke-width="3"/>
<line x1="1001.5" y1="1032" x2="1116.3" y2="1032" stroke="#000" stroke-width="1.5"/>
<line x1="1077" y1="837.7" x2="1077" y2="876.5" stroke="#000" stroke-width="1.6"/>
<line x1="1073.5" y1="837.7" x2="1080.5" y2="837.7" stroke="#000" stroke-width="1.6"/>
<line x1="1073.5" y1="876.5" x2="1080.5" y2="876.5" stroke="#000" stroke-width="1.6"/>
<circle cx="1079.4" cy="800" r="4.4" fill="#0a0a0a"/>
<circle cx="1075" cy="835" r="4.4" fill="#0a0a0a"/>
<circle cx="1079.4" cy="857.7" r="4.4" fill="#0a0a0a"/>
<circle cx="1076" cy="898.5" r="4.4" fill="#0a0a0a"/>
<line x1="1032.7" y1="1013.6" x2="1032.7" y2="1054.8" stroke="#000" stroke-width="1.6"/>
<line x1="1029.2" y1="1013.6" x2="1036.2" y2="1013.6" stroke="#000" stroke-width="1.6"/>
<line x1="1029.2" y1="1054.8" x2="1036.2" y2="1054.8" stroke="#000" stroke-width="1.6"/>
<circle cx="1032.7" cy="959.4" r="4.4" fill="#0a0a0a"/>
<circle cx="1030.7" cy="979.8" r="4.4" fill="#0a0a0a"/>
<circle cx="1033.7" cy="990.6" r="4.4" fill="#0a0a0a"/>
<circle cx="1032.7" cy="995.6" r="4.4" fill="#0a0a0a"/>
<circle cx="1032.7" cy="1009.7" r="4.4" fill="#0a0a0a"/>
<circle cx="1031.7" cy="1029" r="4.4" fill="#0a0a0a"/>
<circle cx="1030.7" cy="1032.5" r="4.4" fill="#0a0a0a"/>
<circle cx="1034.2" cy="1142" r="4.4" fill="#0a0a0a"/>
<circle cx="1034.7" cy="1153.5" r="4.4" fill="#0a0a0a"/>
<text x="1016" y="774.5" font-size="21.5">FDR = 0.004</text>
<line x1="1158.8" y1="771.6" x2="1158.8" y2="1182.3" stroke="#000" stroke-width="1.8"/>
<line x1="1157.9" y1="1182.3" x2="1425.5" y2="1182.3" stroke="#000" stroke-width="1.8"/>
<line x1="1154.8" y1="785.7" x2="1158.8" y2="785.7" stroke="#000" stroke-width="1.5"/>
<text x="1147.3" y="793.2" font-size="21.5" text-anchor="end">2</text>
<line x1="1154.8" y1="920.9" x2="1158.8" y2="920.9" stroke="#000" stroke-width="1.5"/>
<text x="1147.3" y="928.4" font-size="21.5" text-anchor="end">1</text>
<line x1="1154.8" y1="1058" x2="1158.8" y2="1058" stroke="#000" stroke-width="1.5"/>
<text x="1147.3" y="1065.5" font-size="21.5" text-anchor="end">0</text>
<line x1="1196" y1="1182.3" x2="1196" y2="1187.3" stroke="#000" stroke-width="1.5"/>
<text font-size="27.8" text-anchor="end" transform="translate(1213 1201.3) rotate(-45)">Control</text>
<line x1="1259.8" y1="1182.3" x2="1259.8" y2="1187.3" stroke="#000" stroke-width="1.5"/>
<text font-size="27.8" text-anchor="end" transform="translate(1276.8 1201.3) rotate(-45)">Acute</text>
<line x1="1323.9" y1="1182.3" x2="1323.9" y2="1187.3" stroke="#000" stroke-width="1.5"/>
<text font-size="27.8" text-anchor="end" transform="translate(1340.9 1201.3) rotate(-45)">Chronic</text>
<line x1="1387.6" y1="1182.3" x2="1387.6" y2="1187.3" stroke="#000" stroke-width="1.5"/>
<text font-size="27.8" text-anchor="end" transform="translate(1404.6 1201.3) rotate(-45)">Recovered</text>
<line x1="1158.8" y1="1058" x2="1422.5" y2="1058" stroke="#000" stroke-width="1.5" stroke-dasharray="20 10"/>
<path d="M1196 1058L1259.8 1057.2L1323.9 955.2L1387.6 1006.7" fill="none" stroke="#e36d6b" stroke-width="3.9" stroke-linejoin="round"/>
<line x1="1196" y1="1041.3" x2="1196" y2="1075.7" stroke="#e36d6b" stroke-width="3.9"/>
<line x1="1192" y1="1041.3" x2="1200" y2="1041.3" stroke="#e36d6b" stroke-width="2.8"/>
<line x1="1192" y1="1075.7" x2="1200" y2="1075.7" stroke="#e36d6b" stroke-width="2.8"/>
<line x1="1259.8" y1="1032.5" x2="1259.8" y2="1081.9" stroke="#e36d6b" stroke-width="3.9"/>
<line x1="1255.8" y1="1032.5" x2="1263.8" y2="1032.5" stroke="#e36d6b" stroke-width="2.8"/>
<line x1="1255.8" y1="1081.9" x2="1263.8" y2="1081.9" stroke="#e36d6b" stroke-width="2.8"/>
<line x1="1323.9" y1="930.9" x2="1323.9" y2="978.7" stroke="#e36d6b" stroke-width="3.9"/>
<line x1="1319.9" y1="930.9" x2="1327.9" y2="930.9" stroke="#e36d6b" stroke-width="2.8"/>
<line x1="1319.9" y1="978.7" x2="1327.9" y2="978.7" stroke="#e36d6b" stroke-width="2.8"/>
<line x1="1387.6" y1="946.4" x2="1387.6" y2="1065.4" stroke="#e36d6b" stroke-width="3.9"/>
<line x1="1383.6" y1="946.4" x2="1391.6" y2="946.4" stroke="#e36d6b" stroke-width="2.8"/>
<line x1="1383.6" y1="1065.4" x2="1391.6" y2="1065.4" stroke="#e36d6b" stroke-width="2.8"/>
<text x="1365.9" y="719" font-size="28.6" text-anchor="middle" font-weight="bold">Differentiated AE</text>
<line x1="1455.5" y1="776" x2="1455.5" y2="1183" stroke="#000" stroke-width="1.8"/>
<line x1="1454.6" y1="1183" x2="1572.4" y2="1183" stroke="#000" stroke-width="1.8"/>
<line x1="1450.5" y1="788.7" x2="1455.5" y2="788.7" stroke="#000" stroke-width="1.5"/>
<text x="1447.5" y="796.2" font-size="21.5" text-anchor="end">2</text>
<line x1="1450.5" y1="925.3" x2="1455.5" y2="925.3" stroke="#000" stroke-width="1.5"/>
<text x="1447.5" y="932.8" font-size="21.5" text-anchor="end">1</text>
<line x1="1450.5" y1="1061.6" x2="1455.5" y2="1061.6" stroke="#000" stroke-width="1.5"/>
<text x="1447.5" y="1069.1" font-size="21.5" text-anchor="end">0</text>
<line x1="1529.5" y1="1183" x2="1529.5" y2="1188" stroke="#000" stroke-width="1.5"/>
<rect x="1506.9" y="1008.7" width="44.9" height="52.9" fill="#c8254b" stroke="#000" stroke-width="3"/>
<line x1="1455.5" y1="1061.6" x2="1572.4" y2="1061.6" stroke="#000" stroke-width="1.5"/>
<line x1="1529.3" y1="950.8" x2="1529.3" y2="1068.3" stroke="#000" stroke-width="1.6"/>
<line x1="1525.8" y1="950.8" x2="1532.8" y2="950.8" stroke="#000" stroke-width="1.6"/>
<line x1="1525.8" y1="1068.3" x2="1532.8" y2="1068.3" stroke="#000" stroke-width="1.6"/>
<circle cx="1550" cy="793.7" r="4.4" fill="#0a0a0a"/>
<circle cx="1531.3" cy="1008.7" r="4.4" fill="#0a0a0a"/>
<circle cx="1527.4" cy="1021.9" r="4.4" fill="#0a0a0a"/>
<circle cx="1531.5" cy="1083.6" r="4.4" fill="#0a0a0a"/>
<circle cx="1529.2" cy="1140.9" r="4.4" fill="#0a0a0a"/>
<line x1="1482.8" y1="1044.3" x2="1482.8" y2="1080.7" stroke="#000" stroke-width="1.6"/>
<line x1="1479.3" y1="1044.3" x2="1486.3" y2="1044.3" stroke="#000" stroke-width="1.6"/>
<line x1="1479.3" y1="1080.7" x2="1486.3" y2="1080.7" stroke="#000" stroke-width="1.6"/>
<circle cx="1483.8" cy="1001.4" r="4.4" fill="#0a0a0a"/>
<circle cx="1482.8" cy="1005.2" r="4.4" fill="#0a0a0a"/>
<circle cx="1480.8" cy="1023.4" r="4.4" fill="#0a0a0a"/>
<circle cx="1484.8" cy="1029.3" r="4.4" fill="#0a0a0a"/>
<circle cx="1485.8" cy="1055.7" r="4.4" fill="#0a0a0a"/>
<circle cx="1481.8" cy="1080.7" r="4.4" fill="#0a0a0a"/>
<circle cx="1483.3" cy="1104.5" r="4.4" fill="#0a0a0a"/>
<circle cx="1484.3" cy="1126.5" r="4.4" fill="#0a0a0a"/>
<circle cx="1481.3" cy="1132.1" r="4.4" fill="#0a0a0a"/>
<text x="1464.3" y="774.6" font-size="21.5">FDR = 0.9</text>
</g>
<g id="pg">
<text x="1594" y="713.5" font-size="39.5" font-weight="bold">g</text>
<text x="1765" y="718.6" font-size="27.7" text-anchor="middle" font-weight="bold">ETS</text>
<text x="2016.4" y="718.6" font-size="27.7" text-anchor="middle" font-weight="bold">CTCF</text>
<text font-size="27.6" text-anchor="middle" transform="translate(1617.5 974.3) rotate(-90)">Stem/progenitor motif accessibility</text>
<line x1="1677.8" y1="770.7" x2="1677.8" y2="1183" stroke="#000" stroke-width="1.8"/>
<line x1="1676.9" y1="1183" x2="1854.6" y2="1183" stroke="#000" stroke-width="1.8"/>
<line x1="1672.8" y1="856.3" x2="1677.8" y2="856.3" stroke="#000" stroke-width="1.5"/>
<text x="1669.8" y="863.8" font-size="21.5" text-anchor="end">2.5</text>
<line x1="1672.8" y1="964" x2="1677.8" y2="964" stroke="#000" stroke-width="1.5"/>
<text x="1669.8" y="971.5" font-size="21.5" text-anchor="end">0.0</text>
<line x1="1672.8" y1="1071.8" x2="1677.8" y2="1071.8" stroke="#000" stroke-width="1.5"/>
<text x="1669.8" y="1079.3" font-size="21.5" text-anchor="end">−2.5</text>
<line x1="1672.8" y1="1179.5" x2="1677.8" y2="1179.5" stroke="#000" stroke-width="1.5"/>
<text x="1669.8" y="1187" font-size="21.5" text-anchor="end">−5.0</text>
<line x1="1924.7" y1="770.7" x2="1924.7" y2="1183" stroke="#000" stroke-width="1.8"/>
<line x1="1923.8" y1="1183" x2="2110.9" y2="1183" stroke="#000" stroke-width="1.8"/>
<line x1="1919.7" y1="859.2" x2="1924.7" y2="859.2" stroke="#000" stroke-width="1.5"/>
<text x="1916.7" y="866.7" font-size="21.5" text-anchor="end">3</text>
<line x1="1919.7" y1="966" x2="1924.7" y2="966" stroke="#000" stroke-width="1.5"/>
<text x="1916.7" y="973.5" font-size="21.5" text-anchor="end">0</text>
<line x1="1919.7" y1="1071.9" x2="1924.7" y2="1071.9" stroke="#000" stroke-width="1.5"/>
<text x="1916.7" y="1079.4" font-size="21.5" text-anchor="end">−3</text>
<line x1="1919.7" y1="1177.7" x2="1924.7" y2="1177.7" stroke="#000" stroke-width="1.5"/>
<text x="1916.7" y="1185.2" font-size="21.5" text-anchor="end">−6</text>
<path class="mo" d="M1725 834l0 24 1 9 0 8 0 9 0 3 0 3 0 3 0 3 0 2 0 3 0 3 0 3-4 6 4-3 0 4 3-1 0 6-2-2-3-1-2 3 0 3 0 2 4-4 0 3 3-1 0 2 0 3-3-1 0 3-4-2-4 6 3-3 0 4 3-2 0 1 3-3 0 4 3-3 0 2 4 1-2 2-2 3-1-2-3-1-2 3-2-2-3-1-1 3-2 2 3 2 2-3 1 2 4 1 1-3 2 2 3 1 2-3 1 1 2 7-3-1-4-1 0 3-3-4 0 3-3-2 0 3-3-4 0 3-3 1-4-2 0 3 2 3 2-2 1 3 2-4 1 3 2-1 3-1 2 2 1-1 2 2 2-4 1 3 2-2 5 7-7 1-1-2-4-1-1 3-2-1-1-3-2 1-2 3-1-2-3-1-2 3-6-1 0 6 3-4 0 2 3 1 3-3 0 2 3 1 4-2 0 1 3 1 3-3 0 2 3 1 3-3 0 2 4 2 3 3-3 1-4-2 0 1-3-2 0 4-3-3 0 2-3-3 0 4-3-3 0 2-4-3 0 4-3-3 0 2-3-3 0 4-3-3 0 1-3 1-4-1-1 6 3-3 0 4 3-3 0 2 3-3 0 4 4-2 0 1 3-2 3 1 0 2 3-3 3 1 0 2 4-3 3 1 0 1 3-3 0 4 3-3 0 2 3 1-3 5-3-2-3-1 0 3-3-4 0 3-4-1 0 2-3-4 0 3-3-1-3-2 0 3-3-2 0 3-4-2-3-1 0 3-6 0-2 5 5-4 2 2 3 1 1-3 2 2 3 1 2-2 1 1 2-2 2 4 1-3 2 1 3 1 2-3 1 2 3 1 2-3 2 2 4-2 2 4-2 4-1-2-2 1-1-2-2 4-2-3-1 2-2-3-1 4-2-3-2 2-1-3-3 2-2 1-2-3-1 4-2-3-1 2-2-3-2 4-1-3-2 2-1-3-2 4-2-3-1 1 9 4 0 3 4-2 3-1 0 3 3-2 3-2 0 1 0 3 3-2 4-1 0 3 3-2 6 7-6-4 0 3 0 1-3-2-4-2 0 3-3-1-3-2 0 3-3-1-3-2 0 3-4-2-3 3-6 0 3 1 5 2 1-1 2 3 2-4 1 3 2-2 1 3 2-4 2 3 1-2 2 3 1-4 2 3 2-2 1 3 3-2 2-2 6 0-6 6-3-1 0 4-3-2 0 1-4-2-3 1 0 2-3-3-3 1 0 1-3-3 0 4-4-3 0 2-3-3 3 6 2 3 2-2 3-1 1 3 2-4 0 3 3-1 2 2 1-4 0 3 4-2 1 3 2-2-3 6-2-3-2 2-3 2-1-3-2 1-3 1-2-3-1 2-2 3 2 3 1-2 2 3 1-4 2 3 2-2 1 3 2-4 1 3 2-2 2 3 1-4 0 6-3 1-2 2-1-3-3 1-2 2-2-3-3 1-1 2-2-3 2 5 1 3 2-4 0 3 3-1 3-2 0 3 3-1 2 2 2-4 0 3-2 4-3-1 0 3-3-4 0 3-4-2 0 3-3-2 3 3 2 3 2-1 3-2 0 6 0 3-2-4-1 3-4-2 0 3 2 3 2-2 1 3-1 2 0 3 0 3 0 3 0 3-1 8 1 5 0 11-1 7 0 16 1 2 0 49"/>
<path class="mp" d="M1806 790l0 9 0 44 0 11 0 6-1 6 1 6 0 5 0 7 0 3-2 6 2-3 1 4 2 4-2-1-3-1-1 2-2 3 2 3 1-1 2-3 1 1 2 3 2-2 1 5-3 1-3-3 0 2-3 1-4-1 4 3 0 3 3-2 0 3 3-4 0 3 3 3-3 1-2 2-1-3-3 1-2 2-2-3-1 8 1-3 4 2 1-3 2 2 3 1 2-3 0 4 1-3 5 7-3-3 0 2-3 1-4-2 0 1-3-2 0 4-3-3 0 1-3 1-3-1 3 3 0 3 3-2 0 3 3-4 0 3 3-1 0 2 4-4 0 3 3-2 0 3 8 1-3 2-4-1-1 3-2-2-3-1-2 3-1-2-3-1-2 3-2-2-3-1-1 2-2-1-3-2-5 6 0 3 3-2 3-1 0 3 4-1 3-3 0 2 0 2 3-1 3-3 0 2 3 1 4-3 0 2 3 1 3-3 0 1 0 3 3-2 3-1 0 3 4-2 0 3-7 0 0 3-3-1-3-1 0 3-3-4 0 3-4-2 0 3-3-4 0 3-3-2 0 3-3-2-3-2 0 3-4-1-3-2-1 8 1-3 2 4 1-3 2 2 2-3 1 4 2-3 1 2 2-3 3 2 2 2 1-3 4 1 1 1 2-3 1 4 2-3 2 2 1-3 2 4 1-3 2 2 2 4 0 2-4-3 0 2-3-1-3-1 0 3-3-2-3-1 0 3-2-4-2 3-3-2 0 3-1-4-2 2-3-1 0 3-3-2-4-1 0 3-3-2-3-2 0 3-2 6 2-3 3-1 0 3 2 1 1-3 4-1 0 3 3-1 3-2 0 3 3-1 3-1 0 2 4-1 3-2 0 3 3-1 3-2 0 3 2 1 1-3 4 1 1 2 7 2-4 2-3-1-3-2 0 3-3-1-3-1 0 3-4-4 0 3-3-2 0 3-3-4 0 3-3-2 0 3-3-4 0 3-4-2 0 3-3-4 0 3-3-2 0 3-3-2-3-2 0 3-4-1-3 1-3-2 8 4 0 3 3-2 0 3 3-4 0 3 4-1 0 2 3-3 0 2 3-1 3-1 0 3 3-2 4-1 0 3 3-2 3-2 0 3 3-2 0 3 3-4 0 3 4-2 0 3 4 1-3 2-3-1-3 1-2 2-1-3-4 1-1-2 0 4-2-3-3 2-2-3-1 2-3 1-2-3 0 4-2-3-3 1-1 2-2-3-3 1-2 2-1-3-4 1-3-2-3 9 6 0 5-2 3-2 0 3 4-1 3-2 0 3 3-1 3-1 0 3 3-4 0 3 4-2 0 3 3-2 3-2 0 3 3-1 3-2 0 3 5 1 7 0-4 1-4 3-2-2-2 1-1-2-2 4-1-3-2 2-2-3-1 4-2-3-1 2-2-3-3 2-2 1-1-3-2 4-2-3-1 2-2-3-1 4-2-3-2 2-1-3-2 4-1-3-2 1-5-2 7 5 3 2 3-1 2 3 1-2 3-1 2 3 2-2 3-1 1-1 0 4 2-2 3-1 2 3 1-2 4-1 3 1 3-2-3 6-2 3-1-1-2-3-2 2-3 1-1-3-2 2-3 1-2-3-1 2-4 1-1-3-2 2-1 2-2-1-3-2-2 3 3 1 5 2 2-1 1 3 2-4 2 3 1-2 2 3 1-4 2 3 2-2 1 3 2-4 1 2 2-1 6-1-1 5-2 4-1-3-2 2-2-3-1 4-2-2-1 1-2-2-3 1-2 2-1-3-4 1-1 1-2-3-1 4-2-3-2 2-1-3 3 9 5-3 1 3 2-4 0 3 3-1 2 2 1-4 0 3 4-2 1 3 2-2 5 2-4 1 0 2-3 1-3-2 0 1-3 2-3-3 0 1-4 1-3-3 0 2 0 3 3 1 0 2 4-3 0 4 3-3 0 2 3-3 0 4 3-3 0 2 3-3-1 7-2 2-1-3-4 1-1 2-2-3-3 1-2 2-1-3 5 4 0 2 3 1 3-3 0 2 2 7-2-4-2 3-1-2-2 3-1-4-2 2 0 3 3 2 0 1 3-2 4 1-4 3 0 3-3-2 0 3 2 3 1-2-1 5 0 3 0 11-1 13 1 10-1 16 0 7"/>
<path class="mo" d="M1976 790l-1 13 1 15 0 11 0 17-1 9-1 7 1 6 0 6 0 6 0 6 0 7 0 3 0 3 0 3 2 7-2-4-1 2-2 6 2-3 1 4 2-2 1 1 0 6-1-2-3-1-2 3-2 3 4 1 1-3 2 2 3 1 2 2-2 4-2-3-1 2-2-3-1 4-2-3-2 2-1-3 1 5 0 3 4-1 3-1 0 3 3-2 3 5-1 2-2-4 0 1-3 2-2 1-1-4 0 1-4 1-1 2-2-3-5 8 2-2 3 1 3-1 2-2 2 3 3-1 1-2 2 3 3-1 3 1 2 1-3 2-2 3-1-4-2 3-2-2-1 3-2-4-1 3-2-2-2 3-1-4-2 3-1-2-7 7 3 1 4-4 0 3 3-1 3-1 0 3 3-2 3-1 0 3 4-2 3-2 0 3 3 1 3-1-1 4 0 2-4-3-3 2 0 1-1-4-2 2-3 1-2-3-1 2-4 1 0 1-1-4-2 1-3 1 0 2-3-3-3 3 3 1 1 2 4 1 1-3 2 2 3 2 2-3 1 2 2-3 1 4 2-3 2 1 3 1 1-3 2 2 5-2-5 8-3-3 0 4-3-3 0 2-4-3 0 4-3-2 0 1-3-3 0 4-3-3 0 2-3-3 0 4-4-1-4 2 3 2 1 1 2-2 3 1 2 2 1-3 4 1 1 2 2-3 3 1 2 2 1-3 3 1 2 1 2-3 3 2-5 4-2 3-1-4 0 3-3-1-4-2 0 3-3-1-3-2 0 3-3-1-3-2 0 3-4-2-1 3 0 3 3-1 0 2 3-3 0 2 3-1 0 3 4-4 0 3 3-2 0 3 3-4 0 3 3-2 0 3 3-2 4-2 0 3 3 6-3-1-2-3-2 4-1-3-2 2-1-3-4 2-1 2-2-3-3 1-2 1-1-3-2 4-1-3-2 2-2-3-1 4-3-1 8 3 1 3 2-2 3-1 2-1 0 4 1-1 3-2 2-1 0 4 2-2 3-1 6 5-3 2-3-1-2-2-1 3-4-1-1-1-2 3-3-2-2-2-1 3-3-1-4 1-1 1-2-3 2 6 3-1 0 3 3-4 0 3 3-2 0 3 4-4 0 3 3-2 0 3 3-4 0 3 3-2 0 3 3-4 0 3 4-2 0 3-5 2-2 3-1-2-4-1-1 3-2-2-3-1-2 3-1-2-3-1-2 2 0 3 3-1 0 3 3-1 4-2 0 3 3-1 3-2 0 3 3-2 3-1 0 2-3 6-3-2 0 1-3-2 0 4-3-3 0 2-4-3 0 4-3-2 2 3 1 3 2-1 3-1 2 2 1-1 2 2 2-4-4 6-3 2-1-3 0 4-2-3 2 6 3-2 0 3 0 3-2 2-1-3 0 6 1 3 2-2-2 5 0 3 0 5 0 5 1 6-1 6 0 6 0 9 1 8-1 28"/>
<path class="mp" d="M2059 868l0 7 0 10 0 5 0 6 0 3 0 3 0 3 0 3-1 5 1-3 2 5 0 2-3-1 0 3-2 3 3 1 2-3 1 2 0 6-1-2-2 3-1-4-2 3-2 3 4 1 0 2 3-3 3 1-2 4-1-1 0 4-2-1-3-2-2 3-1 3 3 1 2-2 1 1 3 1 2-3 2 2 1 7-1-4-2 3-2-2-1 3-2-4-1 3-2-2-2 3-1-4-2 3-3 2 3 2 2 2 1-3 4 1 1 2 2-3 3 1 2 2 1-3 3 1-4 5-4-2 0 3-3-1-3-2 0 3-3-1-2 2-1 3 3 2 1-3 2 2 2-3 1 4 2-3 1 2 2-3 2 4 1-3 2 1 11 7-3-1-3 1-4-1-1-3-2 4-1-3-2 2-2-3-3 2-1 1-2-3-2 4-1-3-2 2-1-3-2 4-3-1-3 1-4-2 2 3 3 2 3-1 2 3 2-2 3-1 1 3 2-2 3-1 2-1 0 4 1-2 4-1 1 3 2-2 3-1 3 1 3-2-3 6-3 2-2-3 0 4-1-2-3 1-2-3-2 2-3 1-1-3-2 2-3 1-2-3-1 2-4 1-1 1-2-3 2 6 3-1 0 3 3-4 0 3 3-2 0 3 4-4 0 3 3-2 0 3 3-4 0 3 3-2 0 3 3-2 4-2 0 3 4 5-3-3 0 4-3-3 0 2-3-3 0 4-3-2 0 1-4-2-3 1 0 2-3-3-3 1 0 1-3-3 0 4-4-3 0 2-3-3 0 4-3-1 0 3 3 1 0 2 3-3 4 1 0 2 3-3 3-1 0 3 0 1 3-2 3-2 0 3 0 1 4-3 3 1 0 2 3-3 3 1 0 2 3-3-6 4 0 2-3 1-3-3 0 2-4 2-3-3 0 1-3 2-3-4 0 2-3 1-4-3 0 2-1 3 3 1 0 2 3-3 0 4 3-3 0 2 4-3 0 4 3-2 0 1 3-3 0 4 3-3 0 2 3-3 0 4 4-3 3 8-2-4-1 3-2-1-3-1-2 3-1-2-4-1-1 3-2-2-3-1-2 3-1-2-3-1-2 2-2-1-1 2-2-4-1 3 4 3 4 2 1-3 0 4 2-2 3 1 2-3 1 2 3 1 2-3 2 2 3 1 1-3 2 1-3 6-2-1-1 3-2-4-2 3-1-2-2 3-1-4-2 3-2-2-1 3-3-2-2 6 2-3 1 4 2-2 1 1 2-2 3 1 2 2 1-3 4 1 1 1 2-3 1 4 0 3-3-1-1 3-2-4 0 2-3-1-2 3-1-4 0 3-4-2-1 3-2-2-3-1 3 6 3 1 2-3 2 2 3 1 1-3 2 2 3 1-1 2-2 4-2-3-1 2-2-3-1 4-2-3-2 2-1-3 3 6 0 3 3-2 3-1 0 3 0 3-3-2 0 3-3-1 2 3 0 3 3-2 0 3 0 3-2 1-1-3 1 6 1 5 0 5-1 6 1 6 0 7-1 6 0 6 0 37 1 27"/>
<line x1="1709.7" y1="985.6" x2="1741.6" y2="985.6" stroke="#1a1a1a" stroke-width="3"/>
<line x1="1790.5" y1="971.9" x2="1821.4" y2="971.9" stroke="#1a1a1a" stroke-width="3"/>
<line x1="1957.9" y1="975.8" x2="1992" y2="975.8" stroke="#1a1a1a" stroke-width="3"/>
<line x1="2042.5" y1="992.8" x2="2076" y2="992.8" stroke="#1a1a1a" stroke-width="3"/>
<text x="1763.4" y="765.8" font-size="20.6" text-anchor="middle">p = 1.71x10<tspan dy="-8" font-size="13">-7</tspan></text>
<line x1="1726" y1="783" x2="1806.4" y2="783" stroke="#000" stroke-width="1.5"/>
<text x="2013.5" y="763.5" font-size="20.6" text-anchor="middle">p = 1.49x10<tspan dy="-8" font-size="13">-6</tspan></text>
<line x1="1976.7" y1="780.5" x2="2056.5" y2="780.5" stroke="#000" stroke-width="1.5"/>
<text font-size="27.3" text-anchor="end" transform="translate(1740.7 1202) rotate(-45)">Control</text>
<text font-size="27.3" text-anchor="end" transform="translate(1820.8 1202) rotate(-45)">Recovered</text>
<text font-size="27.3" text-anchor="end" transform="translate(1990.1 1202) rotate(-45)">Control</text>
<text font-size="27.3" text-anchor="end" transform="translate(2074.1 1202) rotate(-45)">Recovered</text>
</g>
<g id="ph">
<text x="3.5" y="1316.3" font-size="39.5" font-weight="bold">h</text>
<text x="149.4" y="1305" font-size="25.3" text-anchor="middle">AP-1 motif</text>
<text x="149" y="1335" font-size="25.3" text-anchor="middle">score</text>
<rect x="235" y="1294" width="77" height="23" fill="url(#gRYB)" stroke="#1a1a1a" stroke-width="1.6"/>
<text x="249.6" y="1337" font-size="20.7" text-anchor="middle">-3</text>
<text x="298.4" y="1337" font-size="20.7" text-anchor="middle">3</text>
<path class="mq" d="M287 1363l33 5-25 1-44 9-11-2-14 5 16 6-6 6 39-2 22 0 23 3 13 3-46-2-56 3-32 5 115-2 47 2-47 5-48 0-41-2-12 2 26 5 124-2-35 8-48 2 7 1 64 0 10 3-83 4-115-3-10 3-6 3 2-2 8 0 23 3 162 2-82 0-14 0-35 0-32 4 11 3 84 1 7 0-1 3-114 2-14 4 70-2 120 9-56-1-19-3-10 4-20-4 31 6 84 7 0 0-23-2-32 2-7-3-14 0-63 3-48 2 73 2 26 2 12-2 2 2 72 0-32 3-165 1 63 16 120 2-153 4 74 2-26 3 42 12-16 10-133 3 96 1 37 5-33 5-23 17-73 5 213 15-116-3-62 1-9 5 112 2 7-3 42 8-29-1-62 1-1 2 40 4 29-3 13-1 19 2-32 4-101 0 51 4 13 0"/>
<path class="mr" d="M247 1353l12 4-18-1-6 3 59 2-21 8-45-1 29 4 71 6-50 0-12 0-1-2-33-1-16 3-18-2-6 6 41 2 15 0 50 0 18 0 20-1-12 5-2 1-9-4-102 5 40 4 39-1 26-3-1 8-13-3-2 2-73-1-3 1-26 1-12 6 8 0 29-3 53 0 19 0 27 3 6-2 6 1 16-2 5 4-31 2-19 1-63-1-67 2 0 3 72 1 1-2 13 3 15 0 4-1 60-2 5 0 22 4-73 1-64 1-37-1-15 4 7 2 42 2 7 0 3 0 3-3 19-1 4 3 32-3 42 1-78 8-15-3-9 0-15 1-12 2-7-2-11 0-2 0 15 6 59-1 23-2 6 3 16 0 39-1-25 7-28-3-16 3-10-3-84 7 44 1 41-1 1-3 93 2-68 3-41 3-76 2 35 4 1-3 8 0 34 2 30 1 24-1 31 0 14 3-134 2-15-2-48 3-12 3 193-1 15-1-41 7-2-2-51 2-67-1-16-1-33 7 18-1 30 3 6 0 25-2 35 2 65-3 9 3 10 0-119 3-26 0 18 7 1-3 27-1 25 0 49 4 24-3-9 6-9 0-18 0-45 0-48 0 0-2-39 2-14 3 7 1 13 0 39-1 9 3 88-2 3 1 5 2-8 4-64 0-74 3 31 3 7-2 46-2 47 7-18-1-14 0-124 1 68 6 16-1 34-2 2 3 40 6-8-3-15 0-44 0-35-1-19 4-70 4 17 0 29-3 28 0 52 7-50 2-27-1-39-1-4 6 38 0 5 1 76-2 60 1 14-1-3 4-6-1-119 4-13 0-38-3 25 6 6-2 14 4 44-2 56 1-8 6-7-4-32 4-14-1-83 3 7 3 115-2 58 4-59 1-86 0 67 4 67 1 14 1-24 3-11-1-10 0-7 3-21-3-118 5 29 4 28-4 2 3 48 0 81 1 18 3-62 2-16-4-4 3-4-2-33 1-53 1-37-1-7 3 8 3 15-3 59 2 20-2 32 4-38 5-20-2-5 1-1 1-37 0-14 1 0 4 7-1 58 0 59 0 7 1 4-2 28 2-20 5-32-2-58 1-34 1-6-3-10-1 30 8 24-3 4 0 24 3 17 0-46 6 10 2"/>
<path class="ms" d="M297 1359l-34 1 55 6-6-1-20 3-22 0-13-2-33-1 35 9 4-3 20 1 45 3-9 4-11 0-8-1-6-3-2 0-87 3 36 6 19-3 31 1 31-1-9 8-25 0-58-3-35 3-6 4 15-1 63-1 26 0 55 2-2 6-56-2-3 1-52 0-15-3-17 1-2 1 1 3 49 2 1 2 19 0 91 4-122-1-47 3 58 4 52 0 49-4-19 8-171 5 1-1 51-1 52 0 56 2 20 1 5-3 16 3-3 5-9-2-75-2-87 4-17 0 34 4 143 3-27-1-36 2-57 2-62-3 3 7 39 0 100 1 39-1-16 2-55 1-79 0-12 2-38 6 87-2 66 2 26-4-22 9-10 0-40 0-5 0-100 5 47-2 38 0 55-1 59 7-24-2-27-1-60 2-29 1-26 3 67 1 59 3-3 3-11 0-90-2-47 2 45 6 24-3 84 1 2 5-30-1-19 2-12-1-69 0-10 3 61 3 73 5-12-1-68-1-72 2 23 3 93 6-21 0-35 0-28 6 7 1 78-4 40 0-58 5-106 4-19 3 25 1 49-1 2 0 4-2 113 4-3 2-47 2-5-3-101 0-48 9 28-3 20 1 32 9 63 2 5-2 16 4-101 9 40 0 86-3 7 5-92 2-93-3 96 9 70-3 23-1-16 7-1-2-55 0-62 2-40 4 26 3 26-4 61 0 25 1 28 2 12-2 16 4-4 2-3-2-6 3-48 0-69 0 71 5 0-2 10 8-12-2-21 2-1-2 25 6 7 1 36 5-10-2-93-1-54 6 58 0 57-2 24 4"/>
<path class="mt" d="M246 1354l13 0 30 3 31 11-26-3-33 1-44 3-4-1 40 5 17-1 20-1 4 1 18-1 4 1-3 4-12-1-107 6 7 1 16 1 82 5-18-3-78 4 30 3 120 1 6 1-10 4-89-1-44 2-5-2 138 6-6 5-17-3-50 3-21-1-39 4 69 2 12-3 36 0 24 0 9 0-9 7-53 1-17-1-63 0-27-1-12 1-3 0-10 3 52 1 24 3 49-1 50 3-8 0-27 1-24 0-34 1-40-2 33 8 19-1 38-2 16 2 13 0 8-2 22 4-48 1-69 6 56 5-11-1-7 0-18-1-5 0-29 0-12 1-42 8 10-1 79-3 27 0 57 2-23 6-67 0-4-2-35-1-20 3 42 5 104-2 1-1 3 3-10 5-4 1-116 0-21 0-16-4-2 3-4 1 0 1 116 1 48 6-93 1-4 0-98 4 1 0 5 1 33 0 9-3 26 2 116 6-76-3-25 0-41 6 37 0 8 2 58-2 25 7-6-1-49 0-30 0-4 1-63-1-15 1 13 5 116 4-9 2-32-2-19-1-61 0 7 4 21 1 2-1 53 4 60 0 9 2-9 3-29-1-44 0-13-3-19 1-68 3 75 3 8 0 39-2 33 3 36-2 2 3-58 2-7-1-108 5 135 3 17 2-24 0-31 4-41 0-36-1-16-1-32-1 58 4 10 2 49 1 47-2 14 0-3 6-8 1-6 0-135-3-32 9 46-2 38 0 9 0 105 7-23-2-37 0-30-2-72 0-20 2 9 6 19 1 1 0 53 0 38 0 63-2 13-1-6 4-117 3-70 6 69-4 48 4 49-1 24-2 7 3-85 5-48-2-4 2-63 0 33 1 25 1 45 0 3 3 14-3 72 6-49-1-122 7 33-2 70 0 35 0 14 1 11 1 12 4 0 0-29-1-34 1-3 0-34 0-5 2-17-2-10 0-47 2-2 1 27 2 4 0"/>
<path class="mu" d="M260 1359l-40 10 32 17-29 6 35 2-19 6 14 0 20 9-4-2 40 19-25-1-59 7 70 1 64 3-16 3-73 4-44 6-2-2-9 1-20 5 142-3-160 11-27 11-15 5 163 11-9 0-39 2 70 1-131 8 81 1 15 1 1 12-111 10 109 6 2 10-136 2 80 4-67 6 82 0 28 1-112 8 9 4 77-3-87 24 91 6-22 4-34 13-3-2"/>
<path class="mv" d="M228 1353l65 6-69-4 60 14 37 7 23 9-107 0-23 4 113 9-109-2-10 0 145 12-68-2-4 1-23-1 90 7 10 1-58 4-99-1-27 12 139 3-6 3-33 2-42 2-78 0-6-3 199 11-40 2-93-2 48 6 41 5-19 0-91-2-52 5 65 3 23-3 78 1-90 9 95 8-68-2-35 0 22 7 37-1 26-3-3 22-136 5 128 9-17 4-146 10 111 0 65 8-27 3-123 8 2 1 33 2 62 4-38 4 53 8-109-3-12 5 13 3 147 4-9-1 4 4 4 0 2 0 3 4 8-3 24 3-35 4-146 1 154 10-6-3-13 1-58 5"/>
<path class="mw" d="M316 1366l-9 5-10 6-18-2 19 6 46 8-128-1 24 6 37-3 62 3 13-4-145 13 8-2 106 1-125 3 108 6 11 1 7 3-23 5-137 13 14 6-16-3-5-1-5 9 12-4 149 8-132-2-19 4 42 3 72 2-38 5 78 4-63 20 91 1-85 1-57 2 45 11-79 8 134 6-86 3-63 3 169 1-197 6 84 7 103 15-185 6 112 7 51 6-2 10-71-1 66 7 24 1 9-4-22 6-19 0-107 6 82 0 28-1 1 0 41 4-9 1"/>
<path class="mx" d="M243 1356l-25-1 0 1-1 7 10-2 28 2 11 5-32-3-10 3 3 4 3 1 31 0 46 2-89 4-11 0-2 3 6-1 29 1 2 0 21 2 89 4-66-3-28 4 7 2 60 3 10 1-83 4-27-3-27 5 22 2 100 0 27-2-111 6-51 0-2 4 13 3 11-4 72 1 21 2 72 6-196-4-11 3 14 5 2-2 26 1 8 2 38-2 32-2 7 0 43 5-69 2-17 2-31-4 39 6 72 1 28 3-11 3-99 1 13 5-1 4-102 1 84 4 89-3 8 9-96-3-8-1-51 4-3 5 23 0 18 0 133-1-4 2-17 3-15 0-53-2-107 0-11-1-7 4 39 5 30-4 139 0-156 8-5-3-37 3-1-3 12 9 38 0 53-2 42 1 42 2-7 4 0-4-10 2-45 2-34 0-21-2-60 6 104 1 40-4 27 4-58 4-19-1-12 2-47 0 0 4 89-2 28-1 19 1-42 8-6-2-30 0-15 0-47-1-21 4 8 2 26-2 86 3 13 5-6 0-26 1-59-1-34-1-13 3 2 3 4-2 14 2 1-3 76 3 53-1 2-1-1 5-12 0-98 0-39 3 20 4 28 1 64-2 9 0-1 3-110 0-23 1-5 0-16 2 48 4 33 2 67-2 14 0 10-2-11 5-10 4-31-4-51 0-34 0-6 4-30-1-4-2-8 6 37-2 36 1 28-1 28 2 48 3-22 1-93 1-51 5 5 1 30-3 19 1 155 4-89 3-1-3-47 4-63-4 88 5-37 7-8 0-5 2-4-4-15 4-23-2-13 1 79 5 12-3 18 1 11 8-32-2-76 6 15-3 33 1 30-1 28 3-61 3-30 0 135 5 14 1-97 5-6-2"/>
<path class="my" d="M279 1357l-27-1-3 0-7 3-2-3-28 2-2-2-1 6 71 1 18-1-48 4-11 3-35 3 3 1 35-2 6 7-3 1-14-1-31 1-12 4 43-3 76 1 8 0 17 2 6-1 2 7-23-2-7 0-59 1-57 6 3-4 31 3 44 1 37-4 21 8-22 0-2-3-24 3-19-1-13 0-12 0-49 0-2 4 75 0 18 1 27 2 22 0 21 4-32-1-6 2-1-2-69-2-25 2-37 7 3 0 17-4 11 1 17 1 0-1 26 2 60 1 17-1-23 3-12 0-15 2-13-2-35 0-12 3-5-1-5-1-32-1-8 0 10 7 20-2 4-1 106 3 28 0 28 6-3 0-50 0-40-3-34 1-55 3 36 4 49-4 27 0 4 0 28 7-3-1-48 0-17 3-9-4-65 9 13 0 38-1 1-3 5 0 8 1 20 5-64 3-17-4-3 1-6 3-16 5 49 0 17-2 12-2 87 3 18-3 4 5-73 3-67 1-28-4-2 0-2 4-13 3 51 1 103-2 10 3 4 1-103 2-14 2-6-4-67 6 67 1 22-1 99 3 2-4 3 0-8 7-62 0-4 0-3 1-47-2-9 2-19-1-3 1-17-1-20 0 4 7 35-3 5 2 16 0 46 0 12 1 14-1 5 0 2 0 14 5-80-3-33 3-33 1 24 5 10 0 9-1 48 0 21-3 4 3 31 0 40-2-45 8-8-1-126 6 25-2 13 1 2 1 14-3 21 0 37 0 2 2 20 1 28-2-2 4-2 1-3-1-12 3-16-4-48 1-82 7 9-1 8-1 45-1 23 4 2-4 19 4 53-4-24 6-96 6 26-2 90 9-16 0-4 0-1-4-5 4-11 0-8-1-20-1-25-1-13 0-11 3-14-4-58 3 43 3 13-1 5 2 3 0 44-2 10 4 50-2-5 4-11 0-3-1-13 3-30 0-71 1-16 3 16 2 46 0 28-3 19-1 17 9-32-3-19 3-3-3-2-1-25 2-15 0-1-1-20 0-33 0 43 8 19 0 17 0 35-3 14 1 5-1 27 0 23 3 3 1-18 0-101 3-46-1-21 0 30 6 0-2 33 2 4 0 1-2 18 0 53-1 12 4 51-3 14 7-19 1-50-4-134 2 12 3 12 1 17 2 22 0 23 0 52 2-73 3-41 0-25 5 31-1 23 2 148 5-88 0-79-2-2 2-29 3 78 2 21-3 26-1 50 4 13-4 6 9-73-4-33 0-67 1 8 7 57-3 63 1 13 0 12-1 5 2-112 5-23-1"/>
<path class="mt" d="M268 1353l25 6-74-1-3 0-4-1 40 5 45-2-19 6-34 2-32 3 75 6 0-2-11 3-14-3-7 4-35-4-30 9 17 0 9 0 30-3 21-1 38 9-22 0-52-1-38 3 67 1 16 1 53 1-25 3-34-1-43 7 2 1 4-2 35 2 43-1 14-2 11 7-92-3-32 0-13 1-11 2 14 5 22 1 39-4 32 4 22 0 21 3-148 6 51 1 83-3 24 8-27-1-70-2-28-1-59 4-13 0 42 1 2 3 44-1 87-2 10 4 23 4-20 1-7 0-44-2-51 0-39 1-47 1 60 3 102-2 42 4-39 5-15-1-44 1-83-3-20 6 3 0 5-1 48 1 15-1 39 1 67 7-4-4-29 4-16-3-111-1-8 7 74 0 7 2 74 2-177 7 168-3 6 5-4 2-79 2-15-2-3 2-60-4 72 8 13 0 35-3 41 2 7 0-74 3-80 2-9 0 48 4 5-1 35 0 21 3 0-1 15 1 50-2-5 6-163-1 9 6 7 0 42-1 2 2 59 1 16-4 2 3 26-2-31 6-41 0-29 2-4-2-12 0-47 5 41 2 26-3 59 7-30 1-42-2-93 6 26-1 76-2 22 3 16-1 12 1 46-3-58 8-114-2-17-1 15 8 57-3 19 0 32 2 25 1 12 0 24 6-27 0-18-3-12 1-51 0-3-2-59 4-3-1-8 6 23 0 31-3 97 3-60 3-32 2-8-2-17-2-20 3-3-2 6 4 81 4 62-2-52 7-14-2-41-2-75 5 2 1 59 1 23-1 51 1 84-2-3 5-70 3-67-3-14 4-25-4-8 9 41 0 71-3 5 0 64 2 1 4-55 0-44 1-8-1-86-2 3 9 25-2 20-2 32 2 6 2 12-2 4 1 19 4-73-1-18 1 10 4 8 3 16 0 32-1 4-1 72-2 29 3-68 5-6 1-67-3-25 0-5 2-13 2 17 4 15-1 5-3 60 0 62 1"/>
<path class="mw" d="M300 1365l-45 19 80 0 5 14-74-3-32 17 34 9-110 11 7 1 2-2 69 2-6 4-60 2-6 0-1-4 133 14-91-1 41 4 82 0-23 3-14 4-12-3-5 2 4 3 12 8-3-3 11 5-59 7 19 6-106 22 61 23-42-4 6 7 113 19 18 6-91 3 81 0-60 11 6 2 47 2-8 3-144 2 35 4 115 0 33-3-20 8-3 3 4 0 9-2 18 1-83 8"/>
<path class="mq" d="M262 1355l-8 1 18 7 33-2-2 8-26-1-31-2 4 8 75 2-20 2-68-3-13 1 56 5-16 7-33 6 69-3-82 11 6 2 12-3 38 1 45 7-53 0-35-1 124 5 9 5-22-3-79 2-95 6 152 1 13-2 9-2-158 6-31 8 208-2-17 3-121 2-4 0-37 0-25 6 129-1 19-2 13 6-135 6 106 2 1-4 1 3-43 2-108 8 61 0 82 1 11-3 50 3-37 2-6-1-16 15 6 4-126 4 74 5 39 0-35 5-21 0-4 6 32-2 59 1-71 16-57-2 40 5 27-2-89 6 2 7 50 0 57 0 33 5-164 1 70 4-54 5-27 11 14 4 39 1 81-1-24 5-81-2-34 2 156 5 26 0-11 4-112 4 16 2 59-2 7 0 25 0 10 3 11-1 3 0 3 1 21 4-65 1 26 4 20-3 9 6-9 1-27-1-135 8"/>
<path class="ms" d="M252 1359l-19-3 2 7 27 0 6 0 15-1 44 7-9 0-8 0-11 0-10-4-38 4-4 0 1 2 38 2 14-1 30 6-2-1-43-1-30-1-29 9 10-1 37-2 5 1 21 3-5 1-110 5 17 0 133 1-112 8 12 3 15 1 52-1 37 0-145 19 4 2 141-4 35 1-29 6-10 1-2-3-121 4-63 2 134 0 28-1 19 9-114-3-32 4 144 3 14 1-17 1-6 3-5-1-24-1-4 2-22 0-61-3-28 4-20-2 122 4 44 4-11 0-145 1-10-1 54 7 42 1 14-1 15 2 17-2 3 0 26 0-17 5-5 1-3 1-30-4-39 3-5-3-9 0-28 0 44 7 33-2 63 1-41 4-1 3-12-2-18 3-4 0-61 2 35 3 8-3 8 3 58 0 46-3-48 4-24 2-35 1-6-1 99 10-111-2-21 6 34 2 14-3 6 1 52-1-89 6-11 3-17 4 39 0 39-1 57-2-49 6-36-1-68 6 14 2 14-3 17 9-82 3 0-2 103 2 54-2 9 3 21 0-67 2-38 2-65 1-15 4 4 2 133-4 4 1 45 4-31 4-27 0-148 5 7-2 54-1 134 1 4 6-27-1-55 1-94 3 60 2 102-3 13 5-186 2 30 7 59-1 47 1 7-3 28 3 24 0-17 3-24-2-12 1-110 4 51 3 89-3 23 4 1 2-42 1-17-1-5 1-20 1-68-2-27 5 62 0 74 0 34 2 18-3-59 5-11 1-19 0-71-1-4 4 4 1 74 2 68-2-90 6-16 0"/>
<path class="mr" d="M231 1353l53 5-72-3 25 5 26 9-34-4-38 8 88-1-2 3-6 3-49 0 7 4 41 2 47-3 8 0 10 2-28 2-59 2-51-1 56 5 17-1 33 0 7 4 42-3-55 4-41 2-3-2-6 0-5 3-50-1 0 3 37 1 18 0 13 3 9-3 14 2 7 1 1-3 19-1 7 0 26 1 19 7-5-1-9 0-56 0-19 0-79 0-2 0-12-1 9 5 14 0 4 2 15-2 9 2 40-3 10 1 42 0 7-1 7 3-5 6-12 0-18 0-65-2-8 2-29 0-42 2 51 0 61 1 89 1-118 6-37 0-16 4 47-3 3 1 29 0 57 0 0 1 28-2-79 9-18-2-104 6 54-1 28 1 8 0 7-1 17 1 54-1 32 0-44 3-65 3-32-3-16 4-9-2-15 2-13 5 24-1 9 0 89-1 62 3-89 0-5 2-4 2-3 0-45 0-20-3-26-1-7 9 44-2 31-1 57 3 67-3-15 7-99-1-71 2 3 2 17 0 48 1 21 2 7 0 15 0 5 0 56 3-69-2-56 2-23 2-13-4-1 8 17-3 19 1 55-1 40 0 6 0 3 3 13-1-10 6-105-1-46-2 44 8 17 0 12 1 32-3 20 0 54 3 0 3-15 0-105 1-23-2-42 4 88 3 76-3-21 9-148 3 7-1 45-1 25 0 86 1 10-1-50 6-83 1-3-1-42 1-9 2 81 1 31 0 12 2 39 1-55 6-2-2-13 0-29 0-4-1-52 7 16-1 18 0 54 1 13-1 29 1 5-1 27-2-120 5-33 0-24 2-6-2 2 8 4-1 3 0 33-1 15 2 25-3 54 4 54-1-9 2-160 4-11-3-18 7 27 1 46-2 45-1 5 0 6 1 25-1 52 1-1 4-12 3-66-3-14 2-20 1-40-1-14-3-30 6 14 1 77 1 125 1-30 1-38 2-56-1-15 1-59 1-7 5 23 1 28-3 19-1 64 0 13 4 7-4 10 1 42 2-87 2-40 2-36 1-37 0 13 2 37 1 21 0 40 3 57-4-80 5-75 1-8-1-11 0 14 8 40-3 5 3 30 0 97-2 5-1-75 6-13 3-53-3-19 8 16-4 28 0 6 2 41-2 56 0 12 0 0 4-114 5-21-3-6-1"/>
<path class="mv" d="M265 1356l-41 6 63-2-24 6-48 5 30 2 14 6-46 7 32 5-39 11 37-1 108 12-106 4-58 4-10 12 2-3 72 2 39-1 45 4-110 4-20-3-53 0 8 5 8 3 4-4 106 1-72 11 64-1 50 8-9 0-65-3-110 15 122-1 29 0-155 8 138 9-91 19-13 3 145 8-95 14-7 9 89 3-162 4 34 4-46 13 70-3 140 2-187 6 102 1 60 1-4 6-45 0-14-1 70 4 11 4-9 3-11 0-45 12-94-2-21 2-3 1 52 2 84-1 15-1-93 5"/>
<path class="my" d="M301 1357l-45 1-20-3-7 3-28 5 32-1-13 3-8 1-7 4 4 6-16 3 140 9-44-3-35 4-53-4-14 2 132 3 23 1 2-1-21 9-4-1-5-3-4 2-16-2-33 0-56 3-25 4 136 2-55 3-64 2-16-4 38 6 16 3 56-1 9-2 9 0 31 3-10 2-12 2-42 1-5-2-30 0-22 0-47-2-3 4 99 4 15-1 6-2 5 3 16-2 4 2 15 4-37 2-92 0-2-2-2-1-38 0 27 7 13-3 31 3 3 0 10 0 57 1 51-2 3 6-70-3-26 4-50-3-6 0-4 1-1 1-3 4 87-2 15 0 38 9-94-4-42 4-8 0-38-4 18 6 4 0 133 1 41 6-122 0-7 1-59-4-7 7 8-1 15 1 23 2 57 0 85 0 7 0-154 4-17 1-23 0-13 3 48-1 18 1 77-1 63 4-111 2-60-1-11-1-11 6 2 2 17 0 32-3 44 2 24 1 53 0 12-1 5 6-2-3-9 0-38 1-77 2-62-1 9 7 6-4 23 4 8-4 60 4 20-3 5 5-37 1-98 1 59 3 18 0 19 3 18 0 36-1 5 0-5 4-36-2-6 4-28-2-36 0-9-1-4 1-10 5 14-2 3 0 50 3 22 0 23 0 45 4-16 0-50-2-100 2-8 0-4-2-26 5 22 0 11 2 56 1 12-1 7 0 40 0 2-2 10 2 10-2 15 2-13 4-16 2-2-2-35 3-24-2-4-2-69 1-29 1 203 3-72 9-15-3-10 0-1 1-41-2-25 3-28 0 5 3 70 3 29-2 19-1 7 1 8 2 43 1-30 4-10-1-36-2-21 3-94 0-2-3 13 5 15 0 45 0 34 0 106 6-76 0-43-2-12 3-24-2-12 0-10 2-22 0-14 0 27 3 3-1 42 2 44-1 7-1 33 1 4-1 4 1 3 0 7 1 24-2 21 7-16-2-25 2-66 0-11 0-1-2-28 2-6-2-10 2-4 1-42-2 18 7 19-3 30 0 38 1 14-1 73 3 2-1-57 6-15-2-37-1-5 4-9-3-4 2-13-3-30 9 42 0 11-3 5 1 38 2 14-1 78-3-68 7-78 0-20-2-10 1-5 1-25 3 28 0 29 2 26 1 61 6-62-3-76 0 51 6 26 0 5 0 45-2 2 0 6 2 18 0-65 3-21 3"/>
<path class="mu" d="M242 1366l-33-1-6 3 126 13-84 5-35 1-12 1 158 9-167 19 57 4 125 4-118 4 46 10 34 4-157 11 7 10 42 15-57 0-11 3 164 4-72 1-93 8 53-1 71 3-125 17 42 0 13-2 101 1 15-2-41 8-144 7 12 6 168 6-153 6 52 0 24 6-117 3-9 6 41 3 95-1-90 7-24 5 55 3-68 2 86 11 3 12 2 5"/>
<path class="mx" d="M260 1354l-33 6 54 6-81 5 120 1 5 0-36 7-47 0-43 2 14 0 82 0-25 6-8 1-55 0 41 2 95 5-6 3-40 0-78-1 47 4 31 3 1-3 59 0-100 4-79 6 53-1 56 4 40-3-38 5-12 2-17-2-40 8 43-4 38 4 2 2-85 5 120 0-2 7-71-3-24 2-31 3 80 3 4-1 61 3-2 4-72-1-28-2-19 3-70 1 162 1 7 4-8 2-107-2-7 4-14-3-6 2-25 0-10 2 9 4 28-2 29 0 6 2 103-3-91 4-25 3-4-2-6 3-37-3-14 5 42 0 3 0 4 1 20 2 27-1 99 4-13 2-127-3-49 4 23 4 84 3-37 0-21 1-15-3-2 3-7 2 3 2 16 2 31-3 50 3 5-3 5 0 3 3 35-1-41 3-96 4 55 1 10 1 63 3-13 1-9 3-68-2-37-1-34 5 18 3 75-1 68 3-18 1-16-1-144 7 36-3 22 0 76 3 20 3-19 0-40 0-38 2-12-3-53 2-21 0 44 3 13 0 16 0 45 4 16 0 3-4 48 4 4-4 5 2 0 6-29 1-41-3-11 3-2-3-9 3-17-3-4 3-25-3-53 4 35 1 23 3 36-3 25 2 10 1 25 0 48-3-9 7-1-2-64 2-113-3-4 9 3-4 137 2 8-1 13 0 11 0 24 7-28 0-93-3-12 4-9 0-18 0-11-1-8-1-8 1-6-1 69 5 138 4-87 2-58-2-21-1-13 2-12 1-22 6 47-4 37 0 2 2 0 1 9-2 113 8-18-2-64-2-6 4-20-4-42 1-20 3-11-2-29 4 31 2 15-3 64 1 7 7-8-2-48 0-19 7 4 1 43-4 34 4-7 3-19 0-16 0-21 0 49 6"/>
<path class="mt" d="M240 1361l4-1 21 2 11 0 41 4-3 2-9-2-34-1-34 4-28 0 64 5 3-3 22 2 6-2 13 5-48-1-82 9 32 0 57 0 47 0-32 4-31-3-24 2-32-2-13 7 17 0 1 2 4 0 14-2 63 0 33-1 35 2-82 4-34-2-47 5 14 0 69 4 5-3 20 3 62 3-27 0-43 0-48 1-36 6 33 0 45-3 80 2 3 3-2 0-18 1-26 0-11 2-41 0 0-2-100 1 61 2 25 3 94-3-29 8-26-2-18 0-17 3-3-1-2-1-30 0-59 0-18 0 58 5 65 2 87-4-58 5-6 1-96 3-53 4 150-2 8 1 3-2 34 4 13 3-29 0-6-1-24-1-39 0-31 2-58-1-12 1-7 5 48-1 20-1 41 4 13-2 27 0 51 4-35 0-4-1-19 0-62 1 0 1-24 2-53-2-8 0 42 5 64 0 7 2 2-2 58 0 12 6-15 0-68-2-76 2-26 1 10 5 45 0 28-1 4 1 14-2 14-1 7 0 13 3 11-1 26-2 30 6-23 1-40-3-11 4-54-4-47 3-26 6 17-3 10 1 37-1 7 3 27-3 69 3-92 3-61 4 49 3 32-3 11 2 2-3 1 3 2-2 80 3-135 4-27-2-23 8 4-4 9 3 39-3 29 0 86 1 3-1-31 6-85 1-3 0-28-1-24 7 49-1 83-2 15 6-63 0-4 0-1 3-4-2-29-1-2 3-4-2-52 1-11 4 51-2 48 3 15-1 68 5-4-2-148 3-9-2-4 4 77 3 26 0 10-1 7 4-22-1-23 1-29 0-69 3-6 2 0 0 17-1 49 2 5 1 21-1 9 0 54 1-12 6-22-3-55 1-26 2-32 0 49 2 14 3 21-2 3-1 88 0 28 4-53 4 0-4-24 0-35 0 5 6 6-1 31 1 11 1 66 0-24 6-19 1-16-2-30 0-123 3 32 1 11 3 2-3 108 0 17-1 2 3 6-2 10 0 23 0 4 6-24-2-14 1-56 3-16 0-58-1-28-1 184 3-75 7-16 2-99-1 3 2 89 4 16-1 10 1 12-4 62 2 8 4-99 0-27 2-16-1-6 2 17 4 3-1 50-2 56 2"/>
<path class="mx" d="M221 1353l10 1 38 3-34-2-21 8 64-3-62 7-12 0-1 7 20-1 5 3-16 2 12 6 61-3 3 1 41 6-104 1-5-1-6 4 17-1 6-1 4 2 110 3-68 0-99 1 55 7 24 1 23-1-57 5-8-2-4 8 35-4 13 4 40-2 4 2 60 5-113-2-91 4 39 1 141 2 24 2-62 1-13 0-63 0-16 4 1 3 11-4 83 2 48 0-40 3-48 0-5 4-10 0-37 0-2 3 4-2 10 3 54-3 5 0-16 9-72 1 27 2 86-1-113 5-29 2-10 0 0 6 10-2 92 7-7-1-62-3-22 6 20 3 51-3 93 3-45 3-64 1-85 0-8 3 6 2 186-3-41 7-42 1-6 0-42-2-7 1-10 0-5 1 18 4 29-1 28 2 76 2-25 2-108 0-31 0 15 5 88-2 13 0 3 4-14 5 53 5 1 3-38 2-1-4-55 0-87 4-8 4 30-1 79 0 13 1 11-3 39 3 2-1 12-1 7 1-35 4-32 2-23-2-3-1-44 3-10 0-58 3 77 0 56-1 26 9-6-1-4-2-42 2-31-2-34 0-18 0-1 2-24-1-2 2 29 5 14-1 65 1 90-4 6 1 3 3-23 5-45-2-5 1-32-1-20-2-1 6 64 1 1 3-6 4-9-4-23 0-6 3-7-1-52 1 104 6 2-2 22-1 7 3 13-3 29 1-5 6-88-2-18 1-2-2-2 2-14 1-16 0-33-1-26-1 38 4 14 4 18 0 36 3-11 1-77 0-4 0-1 6 38-1 34-3 3 7-13 0-2 2-42 0-32-2 24 7 7-2 39-2 58 4 20 5-22-3-35 5 8 2-16 2-7 3"/>
<path class="mu" d="M248 1358l-50 15 39 0-30 3 60 22 27 6-40 15 25 4 86-2-22 13 21 5-150-1-3 11-46 3 23 5-15 7 55-1-65 15 127 4-123 11 18 1 48 3 64 17 17-1-143 6-5-3 157 16-6 17-124-3-20 3-55-3 52 8 100 1-31 9-60 19 52 6-35 2 7 3-61 3 58 5-10 7"/>
<path class="mv" d="M276 1356l15 6 14-1-32 4-19 1 39 12-76-2-27 2 80 3 49 4-26 12 9 3 38 3-80 8 99 6-115 3-93 13 121 1 79 4-132 3 125 1-29 16-19-2-20 2-125 1-5-2 65 4 55 7 15 4 10 0 22-1 31 0-22 6-91 4 114 4-119 2-45 3 121 7-145 5 105 9-88 4-23 13 29 2 83 2 25 9 15 2-159 6 121 5-51 8 91 6-163-1 50 14 139-1-98 7-13-2-50 4 9 4 32 0 121 1-53 1-79 11"/>
<path class="mq" d="M275 1360l30 9-48 0 75 8-8 2-138 3 68-1 27 7-41 0-49 1 114 11 47 4-151 3 56 7 16-1 87-2-54 8-131 5 152 0 3 0 27-3-12 7-25 1-90 0-58 4 19-1 164-2-130 7-50-2-29 2 4 4 26 2 60-3 125 0-15 8-43 0-59 4 52 1 39 0-17 4-48-1 4 13-13-3-19 3-79-1-28 1 35 1 136 2-29 6-97 6 44 6 80 3-10 6-63 0-32-2 90 3-110 9 62 4 64 1-63 5-22 0-80-2 55 6 53 5-20 1-64-4-7 1-18 2 169 11-9-4-95 3-10 1 128 10 0 2-74 7-115 2 178 5-28 0 32 12-4-1-24-1-157 6 133 3 23 0 33 0 19 4-18-2-26 1-115 0-1 2 66 1 46 3 51-2-45 6-139 2 145 1"/>
<path class="my" d="M265 1354l-18 1-20 2-5 2 22 4 24-3-1 5-30 1 94 12-16 1-77-1-3 0-46 3 8-1 130 4 7 4-61-1-44 2 27 3 26-2 3 1 51 0 21 7-24-3-53 0-8 4-88 3 75-2 29 2 44-2 6 0 6 4-23 4-18 0-4-1-12 2-70-4-6 3-42 4 19 1 3 1 30-1 35-3 38 0 31 3 41 4-51-1-4 0-60 0-2 0-17 3-23-3 14 8 21 0 12-1 17 1 16-2 59 1 13-2 7 6-3-1-10 0-201 1 46 6 13 1 40 0 16-1 6-3 4 4 29-4 31 2 16 0-122 4-26 3-15-4-1 4-1-2-1 2-4-4 70 7 61-1 14 0 6 1 4 4-3 0-95-1-6 0 14 7 8-1 89 5-25 0-54 2-4-2-66 3-28-1 35 4 35 0 94 0-63 6-22 0-16-3-35 3-12 0-26 0-6-2 87 8 82 0 2-3 25-1-66 8-3-2-135-1-9 0 30 6 9 2 2-3 10 0 71 1 4 1 14-1 1 3 48 4-11-1-160 3 122 0 9 0 22 4 11-1 17-2-26 6-33 0-2-2-16 2-74-1-16 2-5 2 2 1 17 2 2-3 5 3 39 0 13 0 13-1 13-2 50 3 3 1 2-1-19 4-37 0-107 0-14 6 4 1 58-1 5-3 2 3 3-3 5 4 31-3 24 2 13-3 2 3 29-1-57 4-69 0-48 1-7 3 39 3 90 1 28-1 7-3-19 6-27 0-6-1-135 3 0-2 5 5 15 1 45 1 19-2 2 2 17-3 31 2 55-1 8 1 4-1-23 5-34 0-94 3-2-4-8 1 15 5 81 0 60 2 11 6-5-3-4 0-20 0-10 0-42 0-9 3-45-4-24 3-39 0 8 6 42 0 35 0 68 0 6-2 47 5-34-2-16 0-2 4-4 0-5-1-6 0-7-3-28 1-36-1-24 2-54-2 3 9 0 0 5-3 27-1 9 3 8-3 3 1 31 3 6-1 33 1 26-1-3 6-26-2-108 3 54 0 55 2 7 2-11 1-83 1-11 4 10 3 79 0 15 4-18 0-2 2-23-2-64 0 191 9-78 3-39 0-9-4-41 1-28-1 39 6 20 2 45-2 58 1-78 5-3 2"/>
<path class="mr" d="M283 1359l-12-1-50-1 26 5 56 1 6 2-89 7 35-2 25 0 29 6-45 2-17-3-4 0-16 4-14-4 7 6 29 1 8-1 46 7-109-3-2 9 7-1 118 1 12-3-84 7-58 1-4 4 154-2 17-1 8 0-13 9-20-2-42 0-101 3 14 4 14 0 23-4 7 1 25 3 93 1-39 2-96-1-59 1-8 6 11 0 20-3 4 0 6 3 11 1 92-2 53 5-28 2-13-2-24-1-22 2-24-2-39 0-26 2-7-2 111 7 3 0 14-1 16 2 6 4-13-1-10 1 0-1-10 1-43-1-51 6 54-3 46 3 7 0 7 0 12-2 0 8-52 0-19-2-3 1-1-3-11 4-21-2-53-1 55 6 98-1 24-1 3 3 2 3-8-1-7 0-101 3-21-3 63 6 50 4-70 4-7-2-9-2-46 2-21 2-19 0-7 0 49 3 62-1 20 1 54 2 5-3 20 1-12 6-40-3-62 0-9 0-18 0-13 4-23-2-29 5 63-1 10 0 115 1-179 5 17 7 2 0 28-4 27 0 61 4 20-2 1 2 21 3-121 0-23-1-6-1-11 6 38 3 3-4 93 1 9 2 12-2-48 5-5-1-14 2-59 0-29 0-20 2 62 3 13 1 18-3 7 4 23-1 6-3 19 1-52 5-78 0-12 0 18 4 72 2 5-2 35 2-78 6-28-1-6-1-43 2-2 4 98 1 6-2 76-1-16 9-26-1-23 0-8 1-23 0-27-4-56 0 8 6 3 0 60 2 76 1 38-1-53 3-4 2-28 1-4-4-17 3-12 0-15-2-2 3-12-1-49-1 34 7 6-2 38 2 29-2 89 0 10 3-3 4-12-1-58-3-44 2-31 2-47 4 50-1 43-1 10 3 92 4-12 0-9-3-7 0-65 3-37-3-19 2-57-2 6 5 26 2 25 0 30 2 12-3 14 3 2-4 104 2-71 4 0-1-26 2-8 1-54-2 72 8 31-3 47 2 7 0-5 5-31-2-114-1-11 1-23 1-6 0-3-2 34 8 16 1 30-2 46 0 66 0-13 5-32 2-18 0-34 0-87-1 18 4 15-2-5 8"/>
<path class="ms" d="M230 1354l-9 9 37-1 52 2-13 2-10 2-2-2-53 2-29-3-10 8 9 0 33-2 89 0-13 8-29-1-87-2 72 8 64 0 7 2-35 0-8 2-17-2-59 5 94 1 14-2 20 2 5 5-73 1-72-3-18 8 16 1 127 3-56-2-26 2-44 1-29 1 151 5 10-4 26 5-15 2-5 0-3 0-90 2-34 0-12-3-20 3 46 5 76 0 44-4 5 2 12 1-158 3-33 1-12 0-4 2 85 1 13 3 79 3-22 3-138-3-8 1-7 5 15 1 173 2-82 1-40 3-22-3-31-1-12 1-11 2 37 6 36 0 63-1 13-1 18 0 26 0-10 7-159-2-28 4 100 3 7-3 30 1 19-1 7 0 2 1 30-1 1 8-23-1-28-3-7 4-105 5 114-1 16 1-13 4-74-3-54 0-11 0-22 2 30 6 3-1 66-2 35 0 11 0 18 1 28 1 6 4-57 1-69 3 107 4 8-4 15 0-73 7-5 0-36-1-12 2-8 0-25 0-20 1 59 2 20 8-80 0 15 3 77-2 7 6-7 1-107 5 47 1 44 0 40 3-67 0-7-1-23 1-51 0 16 4 118 0 52 6-72 2-42-2-18 2 67 3 58 7-3-3-43 0-54 3-3 0-65 4 5 2 57-2 103 2-10 5-6-4-1 4-45-2 88 5-12 6-34-1-3 1-76 3 47 0 52-1 12 1 11 1-201 3 8 6 88 0 44 0 4-1 5 4 55-4-112 6 68 4-4 7-48 2 65 1-78 6-44-1"/>
<path class="mw" d="M211 1359l15 8 41 6 32 3 3 5 8 0-33 7-35 22 75 10-148 14 14-4 40 0 129 7-193 3 63 3 57 6-84-4 88 6-19 8 10 4 7-1 12 6-10 0-5 1 24 3 17 3-15 2-1-2 5 6 3 3 33-3-51 12 12-3-85 14 49-1-34 7-29 7-66 4 16-1 4 0 158 8-183 6 102 24-21 1 69 4 44 5-98-3 48 7 10-2 33 7-52 6 23 0 18 4-28 6-129 2 22 5"/>
<path class="mz" d="M253 1768l-16 1-1 0-10-1-9 4 0 2 7-1 2-1 1 2 6-2 6-1 3-1 4 1 2 3 2-3 3-1 3 1 3 3 2-2 2 2 3-2 2 2 9-2 2 2 14-1 5-1 4 2 18 5-8-1-5-3-1 0-15 3-15-3-6 0-24 1-5 3-8-4-7 3-8 0-4-1-7 6 1-1 6-2 4 3 4 1 15 0 6-2 0 2 7 0 6-2 12-1 2 3 4-1 19-2 2 3 3-3 3 2 14 1 4-4 3 0 5 1 1 0 2 3 7 1-15 1-15 2-4-1-11 0-4-2-1 2-3 0-16 1-6-3-2 3-4 1-2-2-13 0-5 1-19-1-7-2-13 9 12 0 9-4 3 4 5-4 2 4 5-3 4 2 6-3 1 4 2-3 4-1 4 0 8 4 4-4 3 0 2 4 3 0 5-1 5 0 6 0 3-1 5 2 3-4 2 0 6 4 5 0 2-4 1 4 4 0 6-3 2 3 7-3 3 1 0-1 2 2 1 1 7 3-2 1-4 0-4-2-4 1-8 0-1 2-19 0-7-2-3 0-4-1-9 3-3-2-3 2-7 0-10-3-9-1-3 2-2 2-10-3-6 0-6 0-2-1-1 3-4-1-2-1-6 1-4 1-2-3-1 2-5 0-4 2-1-2 8 4 2 2 5 1 1-3 3 2 2 0 22-2 1 2 2-3 3 2 12 1 7 1 17-1 11 1 1-4 10 3 4 1 5-4 3 1 3 3 5-1 7 0 13 1 2-4 2 4 26 5-6-2-11 0-13 2 0-2-7 0-3-1-4 0-3 1-17-1-4 0-3 3 0-1-3-3-3 2-3-1-6 3-1-2-9 0-2 0-5 1-4-1-9-1-7 1-4-1-1 3-3-2-2 0-3-2-1 3-4 0-20 0-4-2-2 3-7 0-2-1-7-1 1 4 8 1 6 2 5-3 4 0 7-1 15 2 8 1 7 0 3 1 9-3 3 2 16 1 8 0 4-1 1-2 3 2 4-1 4-2 3 3 3 0 2-2 3 2 4 0 2-3 5 4 4 0 4 0 2-4 6 4 3-1 0-3 5 3 5-2 3 3 6-3 6 2 2-3 3 5-1 4-7-3-2 3-3-2-7 0-5-2-1 2-3 2-6-2-3 0-12 0-3 2-14-2-3 0-7 0-2 2-11-2-2 0-6 0-16-2-2 3-13-2-3 1-8-1-2 2-5-2-2 3-2-2-9-1-15 0-3 0-6 0-1 3-2 0-3 2 4 2 4 1 4-1 7-1 7 2 6 0 1-4 5 1 12 3 1-4 2 3 5 0 7-2 0 2 7-3 1 3 2-3 11 0 7 3 7-2 11 2 17 1 0-4 5 0 11 2 3 2 1-4 2 3 3-3 3 0 10 3 9-1 8-1 15 7-7-2-6-1-5 1-4-1-9 1-2-1-1 4-9 0-1-3-3 3-6-4-5 4-5 0 0-2-4 1-9-2-2 3-7-2-4 2-3-2-9-2-1 4-6-4-10 4-1-3-9 3-3-2-8-1-10 2-6-1 0 1-2-2-3 3-1-3-9 3 0-3-4 1-2 2-2-4-3 0-12 0-3 1-14 2-5 6 3-2 10-1 2 1 3 1 1-3 2 3 5-1 2-2 5 0 2 1 8 1 3 0 3-2 5 4 8-1 14 0 5 0 3-3 5 2 1-2 15 0 4 2 1-2 2 3 3 0 2-3 6 4 5-4 0 2 2 0 27 0 3-2 17 3 5 0 2-3 23 0 4 3 1-3-13 6-3 2-3 1-7-4-3 4-7-4-4 0-6 4-12 0-1-2-9-2-5 4-2-3-7 0 0 2-4-2-2 2-7-3-2 0-9 2-3-1 0 3-9-4-1 3-31-1-2-2-5 0-10 3-7 0-1-3-5 1-2 2-3 1 0-3-5 2-5-1-2 2-1-3-6 0-2 3-3 0-2-3 10 4 9 2 15-2 0 3 4 0 5-1 4 0 5-2 5 3 4-2 3-1 3 4 2-4 3 0 4 0 2 3 1-3 7 0 3 2 3 2 6-1 2 0 10 0 4-1 2-1 5 0 8 2 11-2 2-1 2 2 7 0 11-2 2 3 6-3 2 3 6-2 8-1 2 3 1 1 1-3 11 2 8-1-2 4-8 2-4-3-2 3-1-3-3 3-8-1-9-2-4 1-12-1-14 1-4 0-2 3-3-4-8 1 0 3-3-2-4-2-3 1-5 0-4 0-2-1-2 3-3-3-3 2-9-2-3 1-4 3-3-1-1-1-3-1-7 3-1-3-22 3-7-4 0 4-2-3-3 3-2-3-5 2 0-3-8 4-9 0 0-4-12 0-4 1-4-1-3 0-5 8 23-1 3 1 5-2 11 0 4 2 3-2 4 3 1-1 1 1 13-3 3-1 1 4 2-4 7 3 15 0 9-2 2-1 5 1 1-1 2 3 5-2 5 0 6 0 13 0 3 2 3 0 3 1 8 0 2 0 3-3 7 2 5-1 3-2 21 2 4-1 1-1 4 4 7 0 6-2 4-1 0 7-2-2-10 2-20-3-3 0-8 0-3 3-6-2-2 3-2-3-5 0-8 3-2-3-5 3-2-3-5 0-7-1-4 0-4 1-1 3-4-4 0 4-4-4-4 0-2 0-4 1-4-1 0 3-2 0-2-2-5 0-1 3-1-3-7 3-1-4-10 1-2-1-7 3-4-3-6 0-5 4-6-4-3 0-5 1-8 3-6 0-20 0 0 2 7 2 5-1 2 0 12-1 10 3 6-3 9-1 8 2 3-1 6 2 12-3 1 3 11-2 3 3 1-3 5 0 5 2 7 1 2-3 3 3 6-2 2 0 18 0 3 0 3-1 4 0 3 3 13-1 5-1 7-1 4 2 18 1 5-3 5 0 2 2-6 5-9 1-3 0-3-3-2 3-2-4-6 1-2 1-6 1-3-1-3 0-5 2-4-1-18 1-8-4-8 3-6-2-11 0-3 3-4-1-7-2-7-1-2 3-2-3-2 3-4 1-2-4 0 2-4-1-4 3-6-2-1-2-1 3-14-3-3 0-4 4-1-4-9 4-7-4-1 3-8 0-3-1-9 1-4 0-2 2 5 2 1 2 5-3 5 1 3-2 4 4 2 0 3-2 14 1 1-2 12 1 1 2 21-3 5-1 2 4 3 0 17-3 10 1 4-1 22 1 3-2 2 4 2-3 5 0 8 0 18 3 4-2 6-1 1 3 1-3 19 1 4 0 2-1 1 1-1 4-4 0-3-1-4 0-4 0-5 3-3-1-6 1-7 0-14-2 0 1-6 1-1-3-3 3-1-2-10 3-30-4-5 3-2-3-1 4-6-4-3 3-1-2-5 2-8 1-9 0-1-4-1 2-4-2-9 4-7-3-1 3-2-4-2 3-7 0-3-3-3 0-4 3-2 1-3-1-10 0-3 0-3-2-12 2-6 1 8 3 2-1 5 1 8-1 11 3 14-3 3 3 7-3 3-1 5 1 6 3 2-2 3 2 9-4 10 4 2 0 0-3 7 0 4-1 0 4 6-3 0 3 6-3 15 1 5-1 5-1 4 1 8 0 4 0 3 3 5-3 2 3 3-2 1 2 2-2 10 2 3-3 0 3 4-2 4 0 2-2 20 1 2 4-1 3-1-1-5-2-7 2-1-2-5 0-1 2-3 0-5 0-3 0-23-2-17 2-19 0-2-2-3 2-8 1-2-3-1 4-16-1-12 0-1-3-10 3-5-1-13 0-5 2-13-3-3-1 0 2-8-2-8 3-5-3-2 2-12-2-3 3-5 6 7-4 5 1 0 2 8-1 4 2 9-1 2 1 12-3 2-1 5 1 5 3 14-2 2 2 11-1 3-2 3 0 3 3 0-3 4 0 10 0 7-1 4 0 3 0 13 1 4 3 4-4 3 2 6-2 5 2 3-1 4-1 8 1 10 0 1 2 2-3 6 3 6-3 4 0 4 0 3 0 3 0 4 1 5 1 2 1 2-3-2 7-12-2-2 3-5 0-2-1-9 1-4 1-14-2-17 0-2-2-1 2-6 0-3-1 0-1-11 3-7-3 0 1-4-1-9 2-10 1-4-3-21 3-2 0-5-2-7-1-16 2-3-2-2 1-7 2-4 0-3-1-11 2-1-2-4 1-4 0-2-3-3 5 11 0 8 3 10 1 4-4 4 0 4 1 10 2 2-3 14 3 7-2 3-1 5 4 4 0 3-4 12 2 4 2 3-4 10 0 6 4 3-2 5 1 12-3 0 3 1-3 6 0 10 0 5 1 1 3 2-4 2 3 5 1 6-4 1 3 6-2 5 3 5-1 1-2 4 2 1-2 4 1-1 4-1-1-2 2-3 1-4-2-6 0-4 2-17 1-6-4-3 3-9-1-4 1 0 1-3-2-3-1-3 0-4 3-2-1-3-2-2-1-6 2-2 2-7 0-3-3-2-1-5 1-1 3-1-4-3 2-2 1-5-1-5 0-3 0-9-1-3 0-1-1-7 4-6-2-4-2 0 3-4 0-2-3-2 2-7 1-13 0-4 0-7-1-1-1 3 8 8-1 10-3 8 1 3 2 1-2 7 2 2 0 9 1 2-4 1 4 3-4 3 3 6 1 8-1 6-3 3 3 1-3 7 0 2 4 2-4 4 3 2 1 3 0 6 0 1-3 3 0 4 3 9-3 5 2 13 0 3 0 7-3 9 4 1-4 9 0 2 3 6 1 4-1 2 1-9 5 0-4-5 2-6-2-3 2-7 1-16-1-5 0-8 0-5-2-5 2-11 2-2 0 0-1-4 0-2-2-9 0-4 2-3-2-12 1-11 0-7-1-10 1-8-1-1 3-4-2-8 1-2 1-3-1-5 1 0-1-2-1-14 7 2-4 7 4 2-4 9 4 11 0 3-4 7 3 7 0 4 1 2-4 6 1 10 1 5 2 3-1 5 1 10-4 2 3 5-2 14 2 7 1 8-2 2-2 4 0 3 3 4 0 2-2 4 1 14-2 13 0 2 4 3-1 0-3 1 1 3 5-5 3-2-2-15-2-15 2-3-1-5 1-14 2-5-4-8 1-4 2-4-1-10 2-2 0-4 0-4-2-10-1-4 0-8 1-9 2-3-3-4 0-7 1-1 2-3-2-5-1-3 3-7-1-1-1-6 2-10-1-4-2-10 8 1 0 5-4 3 1 1 1 4 2 1-4 2 2 2-2 3 4 16 0 10-1 5 1 3-4 3 0 1 3 6-1 5-2 1 2 5-2 8 2 4 0 1-2 1 4 4-1 5 0 4-1 9-1 3-1 2 2 7-2 11 3 6 0 5-1 2-2 8 3 4 0 21-3 4 2 2-1 5 2 4 0-3 5-2 0-7 0-3 0-10 1-11-2-5-2-3 4-2-4-2 1-6 3-18-3-8 0-5 1-3-1-5 3-5-4-10 4-2-3-2 3-2-3-2 3-4-2-11 0-4 0-2 2-2-4-2 2-4-1-16 3-3-1-1-2-1 2-7-1-2 2-4 0-7 0-6-2-4 0-3-1-4 0-6 3-6-2-5 6 1-3 12 0 10 2 6-2 19 2 1-2 10 3 5-3 1 3 10-1 1-2 6 4 5-2 7 1 2 0 5-1 9 1 5-3 3 2 3 1 12 1 4-4 4 2 0-2 6 3 4-1 8-2 5 3 15 0 7 0 0-3 4 3 3-3 5 2 8 1 4 0 9-2-7 6-2 2 0-1-4 1-4 0-2-2-2 1-2-1-3 0-4-1-11 0-2 3-5 0-2-4-2 1-6-1-3 0-9 2-4-2-3 1-2 3-14 0-3-2-9-1-11 0-8-1-8 3-2-2-12 3-2-4-12 4-6-4-3 1 0 3-5-2-3-2-2 4-5-1-6-1-9 2-3 0 0-2-3-2-4 0-4 2-6 1 1 4 6 2 1-4 1 3 15-3 7 3 2-1 8 1 8-1 3-1 8 1 5 0 2-2 1 2 16 1 6-3 3 2 3 2 4-3 10-1 0 3 4 0 0-3 8 1 12 0 2-1 3 1 4 1 16-2 3 2 4 0 3 1 3-1 9 1 5 0 11-1 15 2 1-4 0 8-8-1-6-1-7-1-8 1-4 2-4-2-9 0-6-1-5 0-3 0-7 4-2-2-2 1-3-2-3 0-1 2-2-3-9 4-6 0-1-3-7 2-5-2-5 2-3-2-2 3-12-3-3 3-5-3-6 1-3-2-9 3-8 1-14-4-2 3-3 1-3-4-2 3-1-3-5 4-3-2-1 1-2-3-2 4-10-2-3 1-1-2 0 7 2 0 4-3 1 3 15-2 20 2 7-2 14 2 1 1 8-3 3 3 1-4 2 2 12-2 8 1 4 0 4 1 7-1 10 2 5 0 3 0 3-3 6 1 3 1 3 2 1-2 4 0 1-2 10 2 2-2 2 1 15 0 14 3 2-2 6-2 4 0 7 3 4-1 0 0-11 3-7 3-3 0-4-2-6-1-6 0-5 1-1 2-4-2-2 0-4 0 0 3-2 0-3-4-3 1-5 0-2-1-3 3-6-3-6 3-1-2-2 3-3-3-2 2-2 1 0-3-5 2-7-3-4 2-6 2-2-3-2-1-1 4-12-4-6 3-3 0-4 1-12-1-9-2-9 1-1 1-3-1-13-1 0 2-7-1-3-2-2 3-2-3-2 1-2 3-5 0-1-3-1 5 11-1 4 1 3 3 3 0 1-4 1 1 10 0 10 2 2-3 7 1 3 0 2 3 3-1 3-2 5 3 3-3 6 1 5 0 7-1 5 1 2 2 2-2 6 0 14 0 2 1 0 1 16-2 7 0 6 0 3 0 9 1 3 0 11-1 4 0 1 2 2-2 6 0 3 0 5-1 14 2 20 6-2-2-2 1-3 1-2-4-2 4-8-2-2-2-2 3-3-3-1 4-6-3-2 1-3-2-5 4-15-3-4 0-1 1-1-1-3-1-4 4-7-2-3 1-6-3-3 4-3-1-14-3-14 4-12 0-7 0-4-1-8 0-1-3-2 4-10-3-3 3-4 0-5-3-3-1 0 2-3 1-3 1-7-2 0-2-7 2-11 2-6-4-4 1-5 2-1 4 1 0 5 2 6-4 1 4 3-4 6 0 5 0 10 4 0-2 3 2 3-4 4 4 11-2 7 0 3 2 5-4 5 2 2 2 0-1 3 1 5-2 10 2 11-2 20 2 9-1 6-2 20 3 3-2 4 1 16-1 3 1 7-1 8 0 4 1 5-3 4 2 8-2 2 1 2 8-8-4-1 3-4 1-1-4-4 3-5-3-2 3-1-3-3 0-8 2-2 2-6-1-3 0-1-2-9-1-1 4-12-4-5 2-1-1-5-1-11 0-6 2-4 2-5-3-3-1-23 2-1-2-1 3-3-3-3 3-2-2-6 1-3 0-3 1-6-1-2 2-3-3-3-1-2 2-5 1-2-3-1 3-16 1-8-1-6-3-17 2 5 4 2 3 3-4 4 2 6 2 18-3 7 0 5 0 3 1 7 2 7-1 2-2 1 3 2-3 4 1 5-2 2 2 2 2 8-2 3-2 11 2 9-1 5 3 2-4 9 3 9-1 4 0 5-1 3 2 6-1 3-2 3 2 3 0 5 0 21 2 11-4 1 4 6-3 7 1 6-1 1 3 1-4 2 5-8 0-8 3-11-3-15 3-15 0-4 0-5-3-1 1-4 2-17 0 0-3-5 2-19-2-3 3-3-2-12 1-4 1-5 0-6 0-10-3-14 4-5-4-5 2 0-2-3 0-2 2-5 0 0-2-3 2-9-1-3-1 0 3-10-1-2-2-6 4-3-4 0 3-5-3 10 9 0-4 0 3 8-1 1 2 4-1 8 1 1-3 15-1 5 2 12-2 4 2 1 2 2-3 10 3 6-4 3 4 9-4 1 4 9-2 6-2 7 0 5 1 4 0 11 3 0-2 3-2 1 4 2-3 3 3 1-4 3 4 5-3 5 0 5 3 32-2 6-1 4 1 14-2-2 5-4 0-4 3-4-1-16 0-13 1-7-1-7 1-14-1-3 0-3 1-3 1-5-3-1-1-4 0-8 0-3 0-3 3-3-1-17-1-4 2-2-3-1 2-5 1-6 0-6 1-11-2-6-2-4 3-6-3-2 2-3-2-3 4-7-2-7 1-4 0-4 0-5-3-3 6 1 2 3 1 4 0 0-2 8-1 0 2 6 1 5 0 15-1 4-3 1 3 4 1 6-4 3 0 10 4 3-2 3-1 5 3 10-3 7 2 1-2 16-1 6 2 4 2 1-2 7 1 2-2 11 1 17 1 7 1 10-3 5-1 3 1 10 3 14-4 0 3-3 2-10 2-2 0-6 0-5 2-11 0-3-1-8 1-3-1-7-1 0-2-1 1-7 3-3-4-3 3-4-1-10 0-4 0-8-2-3 2-13 0-3 0-1 2-11-2-1 2-5-1-4-1-5 0-5-2-9 3-6-1-6 1 0 1-4 0-10-3-4 0-3 1-2 1 19 3 6 2 7 0 2-2 11 2 5-3 7 4 2-4 6 2 4 1 10-2 8 0 9 0 5-1 52 0 0 0 7 2 18-1-110 6-9 2-4-3-7 0-19-1"/>
<path class="mz" d="M276 1769l-4 0-5 0-1 0-30 0-21 2 2-1 4 4 2-3 1 0 11 2 6 1 0-4 6 1 6-1 2 3 3-2 11-1 18 2 5 2 18-2-3 5-4-1-14 2-2-3-3 2-8 1-3 0-3 0-5-1-3 1-4-1-5 1-3-3 0 3-7-3-5 2-5 0-11 1-16 1 1 1 7 4 3-2 4 0 4-2 0 4 4-1 0-3 4 3 2-2 5-1 8 1 16 0 10-1 3 3 1-3 3 4 5-3 3 0 14 0 3 0 2 3 6-2 10 1 4 1 3-1 5 5-2-1-4 0-4 1-7-3-6 2 0-2-3 2-6-2-5 1-5 2-16-1-8 0-6 0-7-2-3 0-6 2-2-2-3 3-10-1-4 1-4-1-14 1-2 0-3 0-1-2-3 2-6 1-2-1 5 3 3 1 5-2 5 4 0-3 2 0 3 2 20-2 4 2 8 1 6 0 3-1 3-2 12 0 4-1 4 0 4 1 1 2 9 0 1-3 15 0 8 1 4 0 2 3 13-1 8 5-12-3-1 4-1-3-8 0-8 1-12-1-16 1-2 1-11 1-1-3-6 0-4 0-8 1-1 2-3-2-6 0-4 1-8 0-1-3-2 4-2 0-5 0-23-4-6 3-4 0-1 1 1 4 4 1 3-4 8 0 6 0 9 0 4 3 21 1 2-1 4-2 6 2 1-2 6 3 2-3 3 3 2-1 9 0 5-2 5 3 4-4 2 0 6 1 5 3 5 0 4-4 5 0 1 4 9 0 2 0 4-4 7 4 4-3 14 2 2 6-6-1 0 1-3-3-5-1-3 1-3 1-7-1-19 0-6 0-4 0-29 3-2-3-12 3-6-2-26 2-4-4-6 1-5 1-3-1-3 2-12-2-2-1-2 2-5 2 0 4 6-3 7 3 5 0 4-3 2 2 5 2 4-1 1-3 3 2 1-1 7 3 7-1 4-3 5 1 3 2 1-3 2 4 8-1 1-3 3 3 4 1 3-3 6 2 4-2 19-1 8 1 5 2 4-3 3 0 3 0 16 0 14 4 4-2 4 1 1 4-8 2-3-2-3 2-6 0-6-3-13 3-3-3 0 3-8-3-5 0-4 3-10-3-1 3-8-2 0 2-3-2-15 0-4-1-3 0-13 0-8 3-5 0-1-2-10 0-22-1-3 3-1-3-5 3-5 0-2-4-3 3-4 0-1 4 15 1 8 0 4-3 8 4 4-1 4-1 5 0 15 0 4-2 3 4 9-1 2-3 3 0 2 3 5 1 2-4 3 0 2 3 3 0 2-3 15 3 2-3 1 2 2-2 2 3 7 0 6 0 3 1 16-1 3 0 4 1 7 0 8 0 7-2 5 2 0-1 4 0 1 3-6 0-6 2-10-1-13-1-2 2-2-2-7 0-11-1-13 4 0-2-6-1-3 3-5-4-7 4-1-3-8 0-9-1-10 4-1-4-4 1-14 3-4-4 0 4-4-2-17 0-19-1-5 1-1 2-10-2-1-2-2 0-1 3-4 3 2 0 2 3 6-4 13 2 8-2 12 3 3-3 5 3 6-3 3 2 2 0 4 0 19 0 5 0 5 0 0-2 2 3 15 1 18-2 2 0 7-2 1 4 5-3 3 1 7 2 5-2 3 1 4-2 12 2 1-3 2 3 6 0 3 0 5-1 7 2 1-3 6 0 2 0 0 3 0 3-3-2-2 4-3-2-4 0-1 2-3-2-1 1-5-2-4 1-10-2-1 1-14 1-3-2-6 0-1 3-9-3-1 3-11 0-2-2-6 2-8 0-9 0-3 1-8-1-1-3-3 4-6-4-5 1-6 1-5-1-3-1-3 0-7 4-9-2-5 0-4-1-1 2-3-1-18-2-4 4-12-4-6 3-2 1-1 0-2-2-8 6 3-1 4 0 5 0 2 2 1-2 5 1 4-1 3 1 5 1 6-1 3 0 6-1 17-2 2 2 4-1 2-1 10 2 2 1 4-1 6 2 3-2 1-2 1 2 9 2 13-2 7-2 11 1 9 1 2 1 13 0 0-3 6 3 4 0 9 1 5-4 3 1 2 3 6-2 5-2 6 3 5-1 8-2 6 3 1-1 2-2-5 5-2 0-4 0-3 3-18-1-2 1-7 1-3-1-6-1 0 1-4 1-10-3 0 2-2-2-2 3-3-3-2 2-12 1-2 0-21 0-2 0-8 0-28 0-7-1-8-1-3 0-4-2-1 3-2-3-4 0-1 4-13-1-7-3 0 3-37-2-2 1 6 3 26 2 24 0 6 0 9 0 4 1 3-3 4 3 8-1 8 1 8 0 19-1 9-2 3 2 1-2 15 2 5 0 1-2 3 3 15 1 2-3 4 0 2 3 3-2 3 1 7-3 1 4 8-3 4 1 9-1 2 3 6 1-17 4-6-4-4 0-3 3-3 0-3-1-3 2-5-2-7 0-9 1-3 1-5-2-6 1-9 0-5-2 0 3-11 0-16-1-3-1-12 2-26-1-6-2-2 3-3-1-14 0-2 0-8 1-5 0-16-1-12-3-1 2-2 2 5 5 1-1 13 1 4-2 3 0 12 1 2-3 2 2 10 0 5-1 13 3 5-2 4 1 9-2 1-1 3 1 18 3 0-2 6-1 2-1 6 1 8-1 3 2 7 0 2 2 18 0 0-1 5-2 1 0 11 3 3-2 10-1 6 1 3 0 2-2 3 1 11-1-2 5-4 1-4 2-5-2-10 3-1-3-8-1-7 0-15 3-2 0-6-2-15 2-4-1-3-2-2 0-7 3-7-1-10-2-4 3-4 1-12-4-9 2-2-1-12-1-6 1-3 1-4 2-8 0-5-3-6 0-1 3-6-4-2 2-5-1-7 2 0-3-6 3-5 6 2-3 9 0 6 3 9-2 6 1 1-3 5 2 2-1 7 3 6-2 9 0 3 0 4-1 3-1 3 2 2 2 5 0 6-1 4-2 3 0 6 1 4 2 6-3 9 3 3-2 5 2 1-2 11 2 30-3 4 0 4 2 4-1 6 2 8-3 4 1 5 0 3 0 10 7-2 0-4-2-5 0-2 0-4 0-2-1-5-1-10 2-8 1-2-1-19 0-4 0-20 0-3 0-4 1-4 1-5-2-1-2-11 4-8-1-16 0-11-3-3 3-1-3-7 4-13 0-6 0-15 0-3-4-10 2-5 2-2-2-8 4 18 1 2 2 4-3 4 1 5-2 3 1 4-1 6 4 3-3 4 1 6 2 16-3 2 3 2-2 9-1 2 0 0 3 8-3 3 2 11-1 9 2 2-1 0-2 6 1 6 2 6-2 23-1 15 3 4 0 2-2 8 2 6 0 5-2 4-2 3 4 1-3 4-1 5 5-3 0-2 2-12 0-19 0-10-1-14 1-9-2-13 0-1 3-5-1-23 2-2-1-3-3-9 3-4 1-8-1-3-3-14 3-1-3-2 3-1-3-3 2-6-2-5 2-5 0-1-2-4 0-6 2-9-1-6 1-6-2-3 3-1-3-3 3-1-3-2 4-3-4-6 1 2 5 2 3 10-2 1 2 4 0 3-3 4 0 3 3 1-3 4 1 4 0 4 0 0 2 10 0 2 0 4-4 3 1 3 2 1-3 5 0 1 4 6-2 3 0 4 0 7 1 12-2 2 2 6-3 5 4 5 0 7-4 2 2 3 2 4-1 1-3 11 4 2-3 2 2 7 1 5-1 3 1 1-4 11 4 9-3 10 3 3 0 4-1 9 1 3 0 6 0-8 4-4 1-16-1-11 1-9-2-4-2-2 1-7 2-19-1-6 0-7 1-8 0-5 0-6-2-5 0-9-1-1 3-5 0-4-1-4 1-1-3-13 2-6 0-4 0-4 0-3 0-12 1-1-3-8 4-6-3-3 2-2 1-8-1-13-1 13 3 7 3 1 1 3-3 3-1 4 4 4-4 3 3 8 0 4 0 1-2 4-1 7 2 2 1 3-3 4 1 4-1 4 4 9-3 2 1 7-2 2 3 5 1 5-4 10 3 0-2 4 3 13-3 8-1 3 4 8-1 3 1 1-4 5 0 2 3 13-3 7 3 4-2 3 3 3-1 4-3 3 1 14 4-1 2-9 2-16-1-3 0-4 0-7-1-5 1-9 0-1-3-28 3-8-2-5 0-8 2-17 1-10-2 0-2-11 3-5-1-2-1-27-1-1 2-4-1-12 0-1 5 2-1 2 3 2-2 4-1 6 4 0-4 4 2 2-1 10 2 1-3 4 0 5 0 2 4 12-3 3 3 3-4 3 0 4 1 5 1 8 2 4 0 15-4 8 4 8-4 0 3 9 0 8-2 0 1 4 2 1-4 9 1 2 3 8 0 1-4 8 1 2 3 4-3 4 0 5-1 6 2 1 2 0-4 1 0-8 7-2 0-3 1-2-2-8 0-7 3-2-3-8 3 0-3-4 0-2 0-12 1-10 0-4-1-6 0-2 3-2-2-10 2-16 0-4-3-5 1-2 2-5-1-4-1-2 2-5-2-8 1-2 1-7-3-3 3-5-2-5 2-1-4-2 2-1 2-7 0-1-4-10 1-3 0-2-1-3 2-2-2 15 8 12 0 9-1 10-2 0 4 10 0 3-3 1 3 4 0 4 0 14-4 3 1 3 3 3 0 6-4 3 4 5 0 2-1 4 1 9-3 0 1 7 1 2-2 5 2 7-2 5 1 7-1 1 3 3-1 2-3 2 4 4 0 3-1 4-3 3 3 4-2 5 6-8 0-6 0-2 1 0 1-9-4-3 2-4-2-9 4-6-3-4 0-5 0-3 0-1 3-13 0-11-2-2 0-5-2-12 1-4 1-5 2-6-2-1 2-5-3-5 1-11 1-2 1-15-2-2 2-2-2-5 2-5-2-4-1-12 3 1 5 4-4 15 2 2 1 13 0 1-2 3 2 12 0 9-2 15 3 4-3 7-1 15 1 1 2 3 0 4 1 7-1 5-1 2-1 1 1 9-2 4 0 11 0 0 3 5-3 4 1 2 2 5 0 1-2 2 2 1-3 5 3 8 0 4 4-8 0-5-1-2 3-1-4-4 2-3-2-4 4-1-4-14 3-3 1-2-4-5 2-2 1-2-2-5 3-2-2-7 2 0-2-11 2-3 0-1-3-8 3-4 0-1-3-4 1-14 2-2-4-1 3-2-2-3 3-3 0-18-2-1 2-3-2-2-1-5 1-9-1-20 0-3 2-5-3-7 1-5 3-12 5 1 0 7-4 2 3 4 0 4-1 3-2 1 3 9 0 3 0 2 0 2-3 6 3 8-1 12 1 8-1 1-2 7 3 2-3 11 3 14 1 8 0 13 0 2-1 8 1 13-4 7 2 3 0 8 1 4 0 4 0 5-3 3 2 11 1 7 1 12-4 1 9-9-3-19 3-2-3-2 1-9-1-6 3-2 0-11-4-7 4-2 0-6-3-3-1-4 4-2-3-1 3-1-3-7 2-9-2-5 1-1 1-15-1-2-2-8 1 0 2-4 1-2-2-7 0-7-2-3 2-4 1-16-1-10 1-3-1-4-2-10 4-7-1-5-3 0 6 0 3 14-2 9 1 4 0 5-3 5 3 3 1 3 0 2-1 0-3 4 0 8 3 14-3 1 2 6 1 3 0 7 0 9-3 7 3 4 0 1 1 8-4 4 3 8 0 3-1 14 1 4 1 1-1 4 0 3 0 19-2 3-1 5 0 6 2 2-2 1 1 3-1 5 2 3 1 3 0 4 5-2-2-8-1-5 3-2-1-10 2-4-3-8 0-3 3-2-1-4-1-8 1-16 0-11-3-4 1-3-1-5 4-4-4-8 4-4-3-13 1-4 1-4-2-3 2-8 1-4 0-2-3-3-1-4 2-3-1-6 2 0-2-8 2-7-2-10 2-2-2-10-1-2 4-2-3-7 2 3 6 8-1 2 0 6-1 6-1 4 0 4 2 5-1 6-2 2 1 7 1 1-2 3 2 6-2 1 1 5 2 11 0 5 0 3-1 3-1 3-1 13 4 0-1 1-3 7 2 4 0 9-2 5 3 20 0 4-2 12 1 4 0 3-2 1 3 8-1 3 1 5-1 8 0 4 1 4 0 1-3 8 6-3 0-4 3-1-3-1 3-5 0-6-4-6 3-3 1-5-3 0 2-14 0-13 0-4 1-2 0-10 0-4 0 0-4-17 1-4-1 0 4-5 0-1-3-10 2-6-3-1 4-2-3-4 3-3-1-1-2-4-1-10 0-2 2-3 2-5-3-5-1-1 4-4-1-2-2-9-1-3 0-6 3-35 2 7 3 3-2 9 1 6-1 9 0 1 3 6-2 4 0 8 1 15 1 5-3 8 0 10 0 15 0 9 0 4 1 11-1 4 2 2 1 10-2 9 2 4 0 13-2 6-1 6-1 21 1 3 1 5 1 7 0 5-1 3 0 1 2 4 0-11 2-3 3-1-3-13 3-11-4-3 1-3 3-4-1-1-2-2 2-4 0-8 0-6-3-2 4-9-3-2 1-10-1-2 2-4 0-7 1-5-2-2-1-2 2-2-3-4 0-7 0-6 1-8-1-5 1-9 0 0 2-4 1-12-2-10-2-4 0-3 3-6-3-5 3-3-2 0 2-7-1-4 2-5-1-1-3-6 0-1 4-1-4-1 2 5 5 10 2 10-1 15-2 10 3 2-3 2 1 4-1 9 1 7-1 2 3 13-4 9 1 4 0 4 1 1 2 2-3 2 3 5 0 0-2 3 2 5-2 6 0 0 2 4-2 3 0 4 0 14 0 6-2 1 4 1-2 4-1 16 1 5-1 6 3 3 0 2-1 7 0 21-1 4 2 4-2 2 2-1 2-6 3-15-3 0 3-9 0-18-4-9 3-6-2-4 2-4 0-8 0-6 0-2-1-3-2-3 4-5-4-12 2-4 1-4-1-4 1-5 0-5 1-13-1-11-3-15 4-5-4-10 2-2 1-6 0-5-3-2 2-8 2-5-4-3 2-2 0-5 1-6-2 4 6 17-1 4-1 3 2 6 1 2-2 0 3 8-3 1 3 14-4 3 2 2 2 3-2 13 2 11-3 4 3 7-4 2 4 2-4 0 4 7-2 8 0 11-1 4 1 3 2 1-2 15 0 3 2 3 0 22-3 5 3 0-3 3 0 4-1 3 1 1 3 4-2 8-1 7 0 1 3 9-1 1 1-1 3-2 0-8 0-3-2-21 3-14-3-14 3-10-1-5 1-1-2-2 2-15-1-4 0-2-2-2 3-4 0-7-3-2 0-3 3-4 1-13-4-3 2-5-2-1 2-5 2-8-1-3 0-8-1-5 0-19 2-4-1-8-1-5-2-5 3-11-1 13 3 8 2 3 0 5 0 3 2 4-3 0 3 3-2 3 2 1-4 10 3 3 1 4-3 4 3 9-2 4-1 5-1 3 4 5-4 4 0 10 2 13-2 1 3 15-2 3 1 26 2 4 0 5-3 12 1 4 1 8-3 3 0 9 3 6 1 3 0 1-3 8 6-3 0-17 1-2-1-1-2-22 0-8 0-2 2-15 2-20 0-2-2-3-2-5 2-6 2-6-2-3-2-2 2-2-2-1 3-3-3-11 0-4 2-12-2-1 1-1-1-2 3-9 0-19-2-4 1-14-2-8 3-7 0 8 2 6 3 1-2 9 0 4-1 4 4 6-3 3 2 1-2 12 0 2 3 5 0 4-2 2 2 4-2 4 1 11 1 1-4 2 1 3 3 4-4 6 3 3-3 5 4 3-3 6 3 2 0 10 0 2-3 5 2 3-3 1 4 8-1 2-3 3 1 8 1 3-2 2 3 4-3 8 4 10 0 3-3 5-1 3 0 2 3 3-3 2 4 7-4-4 7 0-2-16 4-2-4-2 4-2-2-2 1-21-2-5 1-2 1-8-2-3 1-5-1-4 2-7 0-6-2-10 2-4 0-4-2-2-1 0 2-11-2-1 3-6 0-6-2-3-1-13 1-5 2-2-2-20 1-4-1-13 1-2-1 3 6 10 0 2-2 3 1 7 0 4-1 2 3 2-3 5 4 1-4 4 4 2-4 11 0 6 3 5-3 5 4 0 0 0-4 6 2 1 2 4-4-23 7-1-1-7-1-6 0-6 2"/>
<path class="maa" d="M233 1768l-18 6 14-4 44 1 11 0 31 6-1-1-12-1-2 2-5 1 0-3-12 0-4 3-49-1 2 5 20 0 8-1 4 3 7-3 10-1 4 3 8 1 16-4 17 2-9 4-43 2-23 0-31-1-27 7 29-2 7-1 58-1 15 3 4 0 2-2 23 1 12 0 3 7-26-2-9-1-4 1-30 0-11-2-4 4-72-2 27 4 2 3 3-1 21-2 42 3 44-3 26-1 9 6-9-1-70 1-33 0-6 3-9 0-24 3 10-1 51 0 22 0 6 1 36 1 12-3 1 3 0 6-20-2-20-2-62 2-29 0-8 2-1-2-11 4 29-1 36 2 24 0 4 0 72 1-2 5-3 1-35-2-11-1-47 0-18 0-4 3-5-2-35 6 47 0 57 1 23-4 38 0 1 3-27 5-17-2-18 0-20 1-13 0-25-1-61 1 183 4 1 7-7-2-37-1-7 3-24-1-41 1-16 1-13-3-42 0-5 0-2 3-3-4-7 2-3 2-3 0-4-1-8 1-4-1 2 4 4 0 3-1 5 1 3-1 6-1 15 3 24-1 25 1 44-3 3 3 34-2 30 0 17 3 1-1-9 5-69-1-48-2-7 0-3 4-4-2-42-2-3 0-4 1-2-1-6 0-3 1-2 2-1-2-2 3-3-4-4 5 18 0 13 2 16-1 10 3 10-1 69-1 33 2 37-1-19 5-22-3-12 4 0-3-6 3-1-3-7 1-4-2-10 2-8 2-17-1-41 0-5 1-20-1-23-2-15 7 49-1 55 0 23 0 7 0 0 2 5-2 6 2 12-2 10 0 15 3-5 0-5 0-4 4-4-4-13 1-10 3-3-2-2-2-2 4-10-3-30 0-7 1-19 0-63-2-10 2 23 7 44-3 58 1 6 2 18 0 4-2 6 2 22-4 31 7-32 0-8 2-4-1-4-1-7 2-1-4-3 1-7 2-3-3-2 3-19-2-21 2-22-1-50-1-35 1 76 6 33 1 4 0 62-2 1 2 16-2 3 2 23 4-33-3-5 2-14 0-27 2-39-2-104-2 99 8 5-3 20 1 7 2 1-2 13 2 42-2 33 0 3 0-41 5-111-1-20 2 43 7 59-4 16 0 10 4-12 5-48-3-92 3-6 4 3 1 12 0 13-1 41-2 2 0 52-1-7 7-29 0-72-1 8 6 33 1 9 0 62 1 10-2 18-2 12 4 9 3-56 0-30-1-82 0-4 0-5 0-12 2-17 5 35 0 15-1 90 2 64 1-58 4-33-3-16 2-3-2-35 1-3 2-27-4-32 2 15 4 76-1 64 0 29 5-9 3-19 0-64-1-5-2-71 9 170-4 5 0 21 8-14-3-20 3-115 1-11-1-23 0-2-2-2 0-21 5 125 2 22-2 45 3-10 3-52-1-12 0 0 2-21-2 0 1-3 2-9-2-5-2-7 4-73 2 3-1 16 4 6-2 86 0 31-1 26-1 3 4 49-3-6 4-20 3-4-2-18 2-10 1-22-4-10 3-10 1-96-3-11 1 14 3 68 3 30-2 2 2 45 0 3-1 6 2 8 0 28 4-10 1 0-4-6 2-2 0-5 2-12-2-2 0-4 1-7-3-3 0-24 0-5 3-66 1-56-2 37 5 48 0 14 2 39-3 3 3 9-4 8 1 3 2 1-2 8 0 5 0 1 3 22-2 6 0 8 6-3-2-8 2-13-3-6 3-2-3-5 2-4 0-3 2-1-4-6 3-16 0-1 1-34-2-69 0-8-1-19 1 1 6 13-3 3 4 11-4 34 0 38 0 33 3 4-2 18 2 3-3 7 4 10-1 14-2-28 6-4 1-7 0-9-3-7 4-19-2-8 1-7-2-20 3-55-2-31-1-2 2 54 2 4 4 2-1"/>
<line x1="103" y1="1622.5" x2="103" y2="1562" stroke="#000" stroke-width="1.6"/>
<line x1="102.2" y1="1621.7" x2="163" y2="1621.7" stroke="#000" stroke-width="1.6"/>
<path d="M103 1555L98.5 1566L103 1563.5L107.5 1566Z" fill="#000"/>
<path d="M170 1621.7L159 1617.2L161.5 1621.7L159 1626.2Z" fill="#000"/>
<text font-size="20.7" text-anchor="middle" transform="translate(97.5 1584.5) rotate(-90)">UMAP1</text>
<text x="104" y="1641.8" font-size="20.7">UMAP2</text>
<line x1="230" y1="1649.8" x2="230" y2="1685" stroke="#000" stroke-width="3"/>
<path d="M230 1711.5L217 1680L230 1685.5L243 1680Z" fill="#000"/>
<text x="253.2" y="1752.2" font-size="20.9" text-anchor="middle" font-weight="bold">High AP-1 cells</text>
</g>
<g id="pi">
<text x="487.5" y="1362" font-size="39.5" font-weight="bold">i</text>
<text x="931" y="1369.4" font-size="27.7" text-anchor="middle" font-weight="bold">Differential Gene Expression</text>
<line x1="661.2" y1="1385.2" x2="661.2" y2="1932.4" stroke="#000" stroke-width="1.8"/>
<line x1="660.3" y1="1932.4" x2="1204.8" y2="1932.4" stroke="#000" stroke-width="1.8"/>
<line x1="656.2" y1="1410.3" x2="661.2" y2="1410.3" stroke="#000" stroke-width="1.5"/>
<text x="648.2" y="1417.8" font-size="21.5" text-anchor="end">20</text>
<line x1="656.2" y1="1534.7" x2="661.2" y2="1534.7" stroke="#000" stroke-width="1.5"/>
<text x="648.2" y="1542.2" font-size="21.5" text-anchor="end">15</text>
<line x1="656.2" y1="1659" x2="661.2" y2="1659" stroke="#000" stroke-width="1.5"/>
<text x="648.2" y="1666.5" font-size="21.5" text-anchor="end">10</text>
<line x1="656.2" y1="1783.4" x2="661.2" y2="1783.4" stroke="#000" stroke-width="1.5"/>
<text x="648.2" y="1790.9" font-size="21.5" text-anchor="end">5</text>
<line x1="656.2" y1="1908.3" x2="661.2" y2="1908.3" stroke="#000" stroke-width="1.5"/>
<text x="648.2" y="1915.8" font-size="21.5" text-anchor="end">0</text>
<line x1="792.1" y1="1932.4" x2="792.1" y2="1937.9" stroke="#000" stroke-width="1.5"/>
<text x="792.1" y="1958.9" font-size="21.5" text-anchor="middle">−1</text>
<line x1="792.1" y1="1398" x2="792.1" y2="1932.4" stroke="#000" stroke-width="1.8" stroke-dasharray="8 5.5"/>
<line x1="932.8" y1="1932.4" x2="932.8" y2="1937.9" stroke="#000" stroke-width="1.5"/>
<text x="932.8" y="1958.9" font-size="21.5" text-anchor="middle">0</text>
<line x1="1073.9" y1="1932.4" x2="1073.9" y2="1937.9" stroke="#000" stroke-width="1.5"/>
<text x="1073.9" y="1958.9" font-size="21.5" text-anchor="middle">1</text>
<line x1="1073.9" y1="1398" x2="1073.9" y2="1932.4" stroke="#000" stroke-width="1.8" stroke-dasharray="8 5.5"/>
<line x1="722" y1="1932.4" x2="722" y2="1935.9" stroke="#000" stroke-width="1.2"/>
<line x1="862.7" y1="1932.4" x2="862.7" y2="1935.9" stroke="#000" stroke-width="1.2"/>
<line x1="1003.3" y1="1932.4" x2="1003.3" y2="1935.9" stroke="#000" stroke-width="1.2"/>
<line x1="1144" y1="1932.4" x2="1144" y2="1935.9" stroke="#000" stroke-width="1.2"/>
<text font-size="28" text-anchor="middle" transform="translate(608.5 1658) rotate(-90)">−log10(FDR)</text>
<text x="931" y="1996" font-size="27.7" text-anchor="middle">log2(fold change)</text>
<text x="930" y="2028.5" font-size="27.7" text-anchor="middle">AP-1 high cells / other cells</text>
<line x1="773.1" y1="1611.7" x2="894.7" y2="1677.6" stroke="#d6302b" stroke-width="3.2" stroke-linecap="round"/>
<line x1="772.6" y1="1658.1" x2="883.1" y2="1692.9" stroke="#d6302b" stroke-width="3.2" stroke-linecap="round"/>
<line x1="758.7" y1="1717.1" x2="886.8" y2="1740.7" stroke="#d6302b" stroke-width="3.2" stroke-linecap="round"/>
<line x1="758.7" y1="1751.9" x2="899.4" y2="1772.8" stroke="#d6302b" stroke-width="3.2" stroke-linecap="round"/>
<line x1="757.8" y1="1781.6" x2="904" y2="1777.9" stroke="#d6302b" stroke-width="3.2" stroke-linecap="round"/>
<line x1="758.7" y1="1807.6" x2="897" y2="1786.7" stroke="#d6302b" stroke-width="3.2" stroke-linecap="round"/>
<line x1="770.8" y1="1847" x2="908.6" y2="1797.4" stroke="#d6302b" stroke-width="3.2" stroke-linecap="round"/>
<line x1="957.4" y1="1636.3" x2="966.7" y2="1681.3" stroke="#d6302b" stroke-width="3.2" stroke-linecap="round"/>
<line x1="1092" y1="1598.7" x2="979.2" y2="1693.9" stroke="#d6302b" stroke-width="3.2" stroke-linecap="round"/>
<line x1="1110.5" y1="1641.9" x2="952.7" y2="1733.3" stroke="#d6302b" stroke-width="3.2" stroke-linecap="round"/>
<line x1="1130.5" y1="1666.5" x2="999.1" y2="1723.1" stroke="#d6302b" stroke-width="3.2" stroke-linecap="round"/>
<line x1="1160.2" y1="1689.7" x2="962" y2="1739.4" stroke="#d6302b" stroke-width="3.2" stroke-linecap="round"/>
<line x1="1111.5" y1="1721.3" x2="953.7" y2="1769.5" stroke="#d6302b" stroke-width="3.2" stroke-linecap="round"/>
<line x1="1075.7" y1="1748.6" x2="962" y2="1769.5" stroke="#d6302b" stroke-width="3.2" stroke-linecap="round"/>
<line x1="1168.6" y1="1760.2" x2="966.7" y2="1783.4" stroke="#d6302b" stroke-width="3.2" stroke-linecap="round"/>
<line x1="1205.7" y1="1777.4" x2="953.7" y2="1786.7" stroke="#d6302b" stroke-width="3.2" stroke-linecap="round"/>
<line x1="1188.1" y1="1796.4" x2="964.3" y2="1797.4" stroke="#d6302b" stroke-width="3.2" stroke-linecap="round"/>
<line x1="1145.4" y1="1812.2" x2="975.9" y2="1799.7" stroke="#d6302b" stroke-width="3.2" stroke-linecap="round"/>
<line x1="1078.1" y1="1839.1" x2="966.7" y2="1815" stroke="#d6302b" stroke-width="3.2" stroke-linecap="round"/>
<path class="mab" d="M954 1817l-36-1-5 3 33 2 6 3 3 4-3-3-1 0-36 4 0 0-3 1 36 0 5 0 1 3 1 0 3 1 2 0-3 4-1 1-2-1-2 0-10-2-28 0-2-1-5 0-1 1 1 7 5-3 1 2 0 1 0 1 35-2 2-1 2 2 1 1 6 0 1 4-1-1-3 0-1-2 0 1-3 2-1 1 0-1-1-1-29 0-7 1 0-1 0 1-5-2-2 1-1 1 2 3 1 3 2-2 2 1 0 0 4 0 1-3 0 0 1 2 1-1 1 3 3-3 25 1 1-2 4 0 0 0 2 0 0 1 6 8-4-1 0 0-2-1-1 0 0-2 0 3-1-1 0-1-1 2-2 1 0-4 0 4 0 0-2-1 0 0-1-1 0 1-1-2-8 3-14 0-2 0-3-4 0 2 0 2-1-1 0-1-2 1-1 0-1-1-1-1-1-1-1 0 0 1 0 1-1-1-2 0 0 3-1-2 0 1-1 1-2-4 2 9 1 0 2 0 2-3 1 2 0 1 0-2 1-1 0 3 1-1 1 1 1-3 0 0 5-1 2 3 19 1 1-1 1 0 0-3 0 4 2 0 2-1 0 1 0-1 2-1 1-1 1 1 0 1 1-3 1 2 3-1 0 0 1 3 5 0 1 2-2-1-1 2-4-1 0 2-1-2-1 1 0 2-2-2 0-1 0 0 0 1 0-1 0 0-1-1-1 2 0 2-2-4 0 2-1 1 0-2 0 0-1-1-1 0-1 4-1-1-2-1-2 1-3-3-15 2-1 0-1-2-1 1-1 1 0-1-3 0-2 3-1-4-2 1-4 1-2 1 0-2-2 8 0-3 7 1 1 2 2-3 1 2 2 1 0-1 1-1 0 0 0-1 3 1 0 1 2-3 0 4 1 0 0-2 21-2 0 0 2 3 0-2 2-1 2 3 1 0 1 0 0-3 1 1 1 1 7-1-1 4-6 0-2 0 0 0-4 1-15-1-7 1-4-1 0 1-2-1 0 1-2 0"/>
<path class="mac" d="M949 1878l-4-3-19 4-1-3-5 3 0 0 0-3-7 0 1 6 1 0 1 0 0-2 3 1 2 2 1 0 0 1 4 0 0-4 14 0 0 0 3 4 1-3 0 1 2 2 0-2 1-2 1 3 0-3 3 3 0 2-2 0 0 0 0 3-1-1-1 1 0 1-1-1 0 0-1-1-2-1 0-1 0 1-1 1 0 2-1 0 0 0 0 0 0-4-1 0 0 3 0 0 0-3 0 4 0-4 0 3 0-2-1 0 0 0-1 3-11 0 0 0-1-1-1-3-1 2-1 1 0-3-1 4 0-1 0-1-1 0 0-1-2 1 0 1-1-1-1 0 0 0-1 2-1-2 3 6 0 0 1 1 0-1 0 0 0 0 1-3 0 2 1 0 0-2 0 2 1-2 0 4 0-1 1 0 0-1 0 2 0 0 1-2 0-1 0 1 0-1 0 1 1 1 0 0 0-1 1 1 0 1 1-3 0-1 0 3 0 1 0 0 0-3 0 2 0-2 11 3 0-1 2 1 0 0 0 0 1-2 0 0 1 2 1-3 0 1 1 2 0-4 2 3 1-3 1 4 0-4 0 1 1-1-2 6 0-1 0 0-1 0 0 2 0-2-1 3 0-1 0 1 0 0 0-3 0 1 0 1-1 1 0-2 0 0 0 2-1-2 0 3 0-2 0 1-1 0 0 1 0-3 0 0 0 2 0-1-1 1 0-1 0 0 0 0-1-1 0 2-1-2 0 2 0 0 0 0 0-1 0 2-1 0 0 0 0-1 0-3 0 1 0 0 0 0-1 3 0-1 0-1-4 2 0 0-1 0-1 0 0 0-1 0-1 0-1 0 0-1 0-1 0 1 0 1 0-4 0 3-1 1 0-1 0 1 0-2 0 2 0-2 0-2 0 0 0 3-1-3 0 2 0 1 0 0 0-2-1 3 0 0 0-3 0 1 0 2-1-1 0-2-1-1 0 2 0 1-1 0 0 0-1 0 0-1 0 0-1 1-1-3 0 2 3 5 1-2 0 0 1 1 1 2 0-2 0 1 1 0 0-2 0 3 1 1 0 0 0-2 1 2 0 0 0-4 0 4 0-3 0 2 0-3 1 1 0 2 0-1 0 1 0 1 0-4 0 2 1-1 0 2 0 1 0 0 0-1 0-1 0-1 0 2 0-1 1 0 0 0 0 0 0 0 1-1 0 1 0 1 0 1 0-2 0 1 1 0 0 0 0 0 0 0 0-2 0-1 0 1 1 3 0-2 0 2 0-2 0 2 0-2 0-2 0 4 1-4 0 2 0 0 0 2 0-4 0 2 0 1 0-2 0 3 0-2 1 2 0-1 0-3 0 2 0 2 1-1 0-3 0 1 0 1 0 2 0 0 0-1 0-2 0 3 1-2 0 2 0-2 0-1 0 2 0 0 0-2 1 1 0 0 1 1 0 0 0-2 0 0 0 3 1-2 0 0 0-1-1 4-1 0 0 3 0-2 0 0-1 1 0-2 0 1-1 1 0 1 0 0 0-3 0 3 0-2-1 1 0-2 0 0 0 0 0 1-1-1 0 1 0 2 0-2 0 0 0 1 0-1 0 1 0 0 0 1 0-3 0 3 0-3 0 3 0-3 0 2-1-1 0 0 0 1 0 0 0 0 0-1-1 2 0-3 0 2 0 1 0 0 0 0 0-1-1-2 0 3 0 0 0-3 0 2 0-1 0 1 0-2-1 3 0 0 0 0 0-3 0 2 0 0 0 0 0 1 0 0 0-3-1 1 0 0 0-1 0 0 0 2 0-2 0 1 0 1-1 1 0-3 0 0 0 0 0 1-1 2 0-3 0 3 0 0-1-2"/>
<path class="mac" d="M895 1881l60 7-2 11 11 4"/>
<path class="mad" d="M998 1411l29 11-11 82-39 20-2 15-1 55 10 85-9-2-80 1 72 4-84 12 8 0 1-4 68 4 19 0-8 3-10 15 31-2 7 14-37 15-6-4-69 6 89 3-12 1-8 5-57 23 55-3 8 0 16 3-73 5-3 5 65 0-14 4-56 0 67 10-54 0-19 2 85 1-19 9-2 5 12 1-62 2 12 3 36 4 18 1-25 4 29 14"/>
<text x="983.8" y="1400.5" font-size="20.7" font-style="italic" fill="#d6302b">Vcl</text>
<text x="1027" y="1413" font-size="20.7" font-style="italic" fill="#d6302b">Flnb</text>
<text x="994.5" y="1490.1" font-size="20.7" font-style="italic" fill="#d6302b">Ifrd1</text>
<text x="920.2" y="1514.2" font-size="20.7" font-style="italic" fill="#d6302b">Anxa2</text>
<text x="923.5" y="1546.7" font-size="20.7" font-style="italic" fill="#d6302b">Tuft1</text>
<text x="958.3" y="1580.1" font-size="20.7" font-style="italic" fill="#d6302b">Klf6</text>
<text x="1082.7" y="1590.4" font-size="20.7" font-style="italic" fill="#d6302b">Ptp4a2</text>
<text x="938.8" y="1631.7" font-size="20.7" font-style="italic" fill="#d6302b">Ezr</text>
<text x="677.9" y="1613.6" font-size="20.7" font-style="italic" fill="#d6302b">Gm15645</text>
<text x="671.9" y="1666.5" font-size="20.7" font-style="italic" fill="#d6302b">Gm20663</text>
<text x="676.6" y="1719.9" font-size="20.7" font-style="italic" fill="#d6302b">Gm8989</text>
<text x="696" y="1754.2" font-size="20.7" font-style="italic" fill="#d6302b">Pde8b</text>
<text x="696" y="1789.5" font-size="20.7" font-style="italic" fill="#d6302b">Nr5a2</text>
<text x="696.5" y="1822.9" font-size="20.7" font-style="italic" fill="#d6302b">Arid5b</text>
<text x="713.7" y="1859.1" font-size="20.7" font-style="italic" fill="#d6302b">Gvin1</text>
<text x="1137" y="1661.4" font-size="20.7" font-style="italic" fill="#d6302b">Pdlim5</text>
<text x="1167.6" y="1686.4" font-size="20.7" font-style="italic" fill="#d6302b">Thbs1</text>
<text x="1125.9" y="1721.3" font-size="20.7" font-style="italic" fill="#d6302b">Actn4</text>
<text x="1080.4" y="1753.7" font-size="20.7" font-style="italic" fill="#d6302b">Krt8</text>
<text x="1173.2" y="1758.8" font-size="20.7" font-style="italic" fill="#d6302b">Ctnna1</text>
<text x="1216.4" y="1781.6" font-size="20.7" font-style="italic" fill="#d6302b">F11r</text>
<text x="1148.6" y="1825.7" font-size="20.7" font-style="italic" fill="#d6302b">Tle4</text>
<text x="1102.7" y="1631.2" font-size="27.5" font-weight="bold" font-style="italic" fill="#d6302b">Fosb</text>
<text x="1192.7" y="1805.7" font-size="27.5" font-weight="bold" font-style="italic" fill="#d6302b">Fos</text>
<text x="1080.4" y="1850.8" font-size="27.5" font-weight="bold" font-style="italic" fill="#d6302b">Jun</text>
</g>
<g id="pj">
<text x="1264" y="1355" font-size="39.5" font-weight="bold">j</text>
<text x="1615" y="1363" font-size="27.7" text-anchor="middle" font-weight="bold">Differential Motif Accessibility</text>
<line x1="1353.5" y1="1388" x2="1353.5" y2="1934" stroke="#000" stroke-width="1.8"/>
<line x1="1352.6" y1="1934" x2="1899" y2="1934" stroke="#000" stroke-width="1.8"/>
<line x1="1344" y1="1459" x2="1353.5" y2="1459" stroke="#000" stroke-width="1.5"/>
<text x="1339.5" y="1463" font-size="20.7" text-anchor="end">20</text>
<line x1="1344" y1="1571.4" x2="1353.5" y2="1571.4" stroke="#000" stroke-width="1.5"/>
<text x="1339.5" y="1575.4" font-size="20.7" text-anchor="end">15</text>
<line x1="1344" y1="1684.4" x2="1353.5" y2="1684.4" stroke="#000" stroke-width="1.5"/>
<text x="1339.5" y="1688.4" font-size="20.7" text-anchor="end">10</text>
<line x1="1344" y1="1796.8" x2="1353.5" y2="1796.8" stroke="#000" stroke-width="1.5"/>
<text x="1339.5" y="1800.8" font-size="20.7" text-anchor="end">5</text>
<line x1="1344" y1="1909.8" x2="1353.5" y2="1909.8" stroke="#000" stroke-width="1.5"/>
<text x="1339.5" y="1913.8" font-size="20.7" text-anchor="end">0</text>
<line x1="1483.4" y1="1934" x2="1483.4" y2="1943" stroke="#000" stroke-width="1.5"/>
<text x="1483.4" y="1959" font-size="20.7" text-anchor="middle">−2</text>
<line x1="1625.6" y1="1934" x2="1625.6" y2="1943" stroke="#000" stroke-width="1.5"/>
<text x="1625.6" y="1959" font-size="20.7" text-anchor="middle">0</text>
<line x1="1767.4" y1="1934" x2="1767.4" y2="1943" stroke="#000" stroke-width="1.5"/>
<text x="1767.4" y="1959" font-size="20.7" text-anchor="middle">2</text>
<line x1="1590.7" y1="1402" x2="1590.7" y2="1934" stroke="#555" stroke-width="1.5" stroke-dasharray="7 5"/>
<line x1="1661" y1="1402" x2="1661" y2="1934" stroke="#555" stroke-width="1.5" stroke-dasharray="7 5"/>
<text font-size="28" text-anchor="middle" transform="translate(1290.5 1658) rotate(-90)">−log10(FDR)</text>
<text x="1619" y="1993.5" font-size="27.8" text-anchor="middle">Change in motif score</text>
<text x="1621" y="2027" font-size="27.8" text-anchor="middle">(AP-1 high cells - rest)</text>
<line x1="1562.5" y1="1441.5" x2="1587.1" y2="1414.2" stroke="#111" stroke-width="3.8"/>
<line x1="1866" y1="1434.8" x2="1873.7" y2="1392.2" stroke="#111" stroke-width="3.8"/>
<line x1="1569.2" y1="1724.9" x2="1605.6" y2="1763.9" stroke="#111" stroke-width="3.8"/>
<line x1="1566.6" y1="1751.6" x2="1605.6" y2="1787.6" stroke="#111" stroke-width="3.8"/>
<line x1="1579.4" y1="1785" x2="1605.6" y2="1791.2" stroke="#111" stroke-width="3.8"/>
<line x1="1575.8" y1="1814.3" x2="1610.8" y2="1829.7" stroke="#111" stroke-width="3.8"/>
<line x1="1571.2" y1="1843" x2="1610.8" y2="1832.7" stroke="#111" stroke-width="3.8"/>
<line x1="1587.6" y1="1866.1" x2="1612.3" y2="1855.9" stroke="#111" stroke-width="3.8"/>
<path class="mae" d="M1633 1884l-1 5-12-1 11 10-8 0 5 9-3 2-2-3"/>
<path class="maf" d="M1874 1388l-287 25 8 216 54 75-2 33-39 33-1 13 2 10 1 20 3 18 0 13 1 12 2 6 2 5 0 12"/>
<text x="1403.3" y="1387.8" font-size="20.7">motif score change</text>
<text x="1668.8" y="1387.8" font-size="20.7">motif score change</text>
<text x="1668.8" y="1412.5" font-size="20.7">&gt; 0.5</text>
<text x="1502.9" y="1471.5" font-size="20.7">HNF4/</text>
<text x="1502.9" y="1496.7" font-size="20.7">PPAR</text>
<text x="1543" y="1632.2" font-size="20.7">NFI</text>
<text x="1686.7" y="1687.1" font-size="20.7">NFkB/REL</text>
<text x="1672.9" y="1736.9" font-size="20.7">CREB/ATF</text>
<text x="1517.3" y="1719.5" font-size="20.7">Ascl2</text>
<text x="1507" y="1752.9" font-size="20.7">ESRR</text>
<text x="1477.2" y="1787.3" font-size="20.7">HOX/CDX</text>
<text x="1488" y="1822.2" font-size="20.7">TCF/LEF</text>
<text x="1513.7" y="1847.9" font-size="20.7">bHLH</text>
<text x="1527.6" y="1877.1" font-size="20.7">CTCF</text>
<text x="1578.9" y="1411.7" font-size="20.7" text-anchor="end">&lt; -0.5</text>
<text x="1808.5" y="1465.6" font-size="26" font-weight="bold">AP-1</text>
</g>
<g id="pk">
<text x="250" y="2102.8" font-size="39.5" font-weight="bold">k</text>
<text font-size="27.7" text-anchor="middle" transform="translate(241.5 2404.4) rotate(-90)">Motif accessibility score</text>
<text x="369.7" y="2131.8" font-size="27.7" text-anchor="middle" font-weight="bold" letter-spacing="-1">AP-1</text>
<line x1="284.9" y1="2136.9" x2="284.9" y2="2370.3" stroke="#000" stroke-width="1.6"/>
<line x1="284.1" y1="2370.3" x2="480.1" y2="2370.3" stroke="#000" stroke-width="1.6"/>
<line x1="280.4" y1="2183.6" x2="284.9" y2="2183.6" stroke="#000" stroke-width="1.4"/>
<text x="276.9" y="2190.6" font-size="19.9" text-anchor="end">4</text>
<line x1="280.4" y1="2249.4" x2="284.9" y2="2249.4" stroke="#000" stroke-width="1.4"/>
<text x="276.9" y="2256.4" font-size="19.9" text-anchor="end">0</text>
<line x1="280.4" y1="2315.1" x2="284.9" y2="2315.1" stroke="#000" stroke-width="1.4"/>
<text x="276.9" y="2322.1" font-size="19.9" text-anchor="end">−4</text>
<line x1="337.7" y1="2370.3" x2="337.7" y2="2374.8" stroke="#000" stroke-width="1.4"/>
<line x1="426.3" y1="2370.3" x2="426.3" y2="2374.8" stroke="#000" stroke-width="1.4"/>
<path d="M337.1 2224.5L335.9 2226.8L334.6 2229L334 2231.3L333.4 2233.6L332.7 2235.9L332 2238.1L331.2 2240.4L330.4 2242.7L329.6 2244.9L328.8 2247.2L328 2249.5L327.3 2251.8L326.7 2254L326.1 2256.3L325.6 2258.6L325.2 2260.8L325 2263.1L324.9 2265.4L324.9 2267.7L325.1 2269.9L325.3 2272.2L325.7 2274.5L326.1 2276.7L326.7 2279L327.3 2281.3L327.9 2283.6L328.6 2285.8L329.3 2288.1L330.1 2290.4L330.8 2292.7L331.5 2294.9L332.2 2297.2L332.9 2299.5L333.5 2301.7L334 2304L334.6 2306.3L335 2308.6L335.5 2310.8L335.8 2313.1L336.2 2315.4L336.4 2317.6L336.7 2319.9L336.9 2322.2L337 2324.5L337.2 2326.7L337.3 2329L337.4 2331.3L337.4 2333.5L337.4 2335.8L337.4 2338.1L337.4 2340.4L337.5 2342.6L337.5 2344.9L337.5 2347.2L337.5 2349.4L337.5 2351.7L337.5 2354L337.5 2356.3L337.5 2358.5L337.5 2360.8L337.9 2360.8L337.9 2358.5L337.9 2356.3L337.9 2354L337.9 2351.7L337.9 2349.4L337.9 2347.2L337.9 2344.9L337.9 2342.6L338 2340.4L338 2338.1L338 2335.8L338 2333.5L338 2331.3L338.1 2329L338.2 2326.7L338.4 2324.5L338.5 2322.2L338.7 2319.9L339 2317.6L339.2 2315.4L339.6 2313.1L339.9 2310.8L340.4 2308.6L340.8 2306.3L341.4 2304L341.9 2301.7L342.5 2299.5L343.2 2297.2L343.9 2294.9L344.6 2292.7L345.3 2290.4L346.1 2288.1L346.8 2285.8L347.5 2283.6L348.1 2281.3L348.7 2279L349.3 2276.7L349.7 2274.5L350.1 2272.2L350.3 2269.9L350.5 2267.7L350.5 2265.4L350.4 2263.1L350.2 2260.8L349.8 2258.6L349.3 2256.3L348.7 2254L348.1 2251.8L347.4 2249.5L346.6 2247.2L345.8 2244.9L345 2242.7L344.2 2240.4L343.4 2238.1L342.7 2235.9L342 2233.6L341.4 2231.3L340.8 2229L339.5 2226.8L338.3 2224.5Z" fill="#ec6e6e" stroke="#000" stroke-width="1.3" stroke-linejoin="round"/>
<line x1="317.7" y1="2269.1" x2="357.7" y2="2269.1" stroke="#000" stroke-width="8.6" stroke-linecap="round"/>
<path d="M425.6 2147.1L425.6 2148.1L425.5 2149L425.5 2150L425.4 2151L425.4 2151.9L425.4 2152.9L425.3 2153.9L425.3 2154.8L425.3 2155.8L425.2 2156.8L425.2 2157.7L425.2 2158.7L425.1 2159.7L425.1 2160.6L425 2161.6L425 2162.6L425 2163.5L424.9 2164.5L424.9 2165.5L424.9 2166.4L424.8 2167.4L424.8 2168.4L424.7 2169.4L424.7 2170.3L424.7 2171.3L424.6 2172.3L424.6 2173.2L424.6 2174.2L424.5 2175.2L424.5 2176.1L424.4 2177.1L424.4 2178.1L424.3 2179L424.1 2180L424 2181L423.8 2181.9L423.7 2182.9L423.5 2183.9L423.4 2184.8L423.2 2185.8L423.1 2186.8L422.9 2187.7L422.8 2188.7L422.6 2189.7L422.5 2190.6L422.3 2191.6L422.2 2192.6L422 2193.5L421.9 2194.5L421.7 2195.5L421.5 2196.4L421.3 2197.4L421 2198.4L420.6 2199.3L420.3 2200.3L419.9 2201.3L419.5 2202.2L419.1 2203.2L418.6 2204.2L418.2 2205.2L417.7 2206.1L417.3 2207.1L416.8 2208.1L416.3 2209L415.4 2210L413.9 2211L411.8 2211.9L409.4 2212.9L406.6 2213.9L403.6 2214.8L400.3 2215.8L396.7 2216.8L393 2217.7L389 2218.7L386.8 2219.7L386.1 2220.6L385.8 2221.6L386.2 2222.6L389.2 2223.5L395.3 2224.5L457.3 2224.5L463.4 2223.5L466.4 2222.6L466.8 2221.6L466.5 2220.6L465.8 2219.7L463.6 2218.7L459.6 2217.7L455.9 2216.8L452.3 2215.8L449 2214.8L446 2213.9L443.2 2212.9L440.8 2211.9L438.7 2211L437.2 2210L436.3 2209L435.8 2208.1L435.3 2207.1L434.9 2206.1L434.4 2205.2L434 2204.2L433.5 2203.2L433.1 2202.2L432.7 2201.3L432.3 2200.3L432 2199.3L431.6 2198.4L431.3 2197.4L431.1 2196.4L430.9 2195.5L430.7 2194.5L430.6 2193.5L430.4 2192.6L430.3 2191.6L430.1 2190.6L430 2189.7L429.8 2188.7L429.7 2187.7L429.5 2186.8L429.4 2185.8L429.2 2184.8L429.1 2183.9L428.9 2182.9L428.8 2181.9L428.6 2181L428.5 2180L428.3 2179L428.2 2178.1L428.2 2177.1L428.1 2176.1L428.1 2175.2L428.1 2174.2L428 2173.2L428 2172.3L427.9 2171.3L427.9 2170.3L427.9 2169.4L427.8 2168.4L427.8 2167.4L427.8 2166.4L427.7 2165.5L427.7 2164.5L427.6 2163.5L427.6 2162.6L427.6 2161.6L427.5 2160.6L427.5 2159.7L427.4 2158.7L427.4 2157.7L427.4 2156.8L427.3 2155.8L427.3 2154.8L427.3 2153.9L427.2 2152.9L427.2 2151.9L427.2 2151L427.1 2150L427.1 2149L427 2148.1L427 2147.1Z" fill="#5fd0c5" stroke="#000" stroke-width="1.3" stroke-linejoin="round"/>
<line x1="406.3" y1="2216" x2="446.3" y2="2216" stroke="#000" stroke-width="8.6" stroke-linecap="round"/>
<text x="636.2" y="2131.8" font-size="27.7" text-anchor="middle" font-weight="bold">NFkB/REL</text>
<line x1="541.1" y1="2136.9" x2="541.1" y2="2370.3" stroke="#000" stroke-width="1.6"/>
<line x1="540.3" y1="2370.3" x2="724.8" y2="2370.3" stroke="#000" stroke-width="1.6"/>
<line x1="536.6" y1="2141.3" x2="541.1" y2="2141.3" stroke="#000" stroke-width="1.4"/>
<text x="533.1" y="2148.3" font-size="19.9" text-anchor="end">7.5</text>
<line x1="536.6" y1="2189.7" x2="541.1" y2="2189.7" stroke="#000" stroke-width="1.4"/>
<text x="533.1" y="2196.7" font-size="19.9" text-anchor="end">5.0</text>
<line x1="536.6" y1="2238.1" x2="541.1" y2="2238.1" stroke="#000" stroke-width="1.4"/>
<text x="533.1" y="2245.1" font-size="19.9" text-anchor="end">2.5</text>
<line x1="536.6" y1="2286.2" x2="541.1" y2="2286.2" stroke="#000" stroke-width="1.4"/>
<text x="533.1" y="2293.2" font-size="19.9" text-anchor="end">0.0</text>
<line x1="536.6" y1="2333.9" x2="541.1" y2="2333.9" stroke="#000" stroke-width="1.4"/>
<text x="533.1" y="2340.9" font-size="19.9" text-anchor="end">−2.5</text>
<line x1="591.2" y1="2370.3" x2="591.2" y2="2374.8" stroke="#000" stroke-width="1.4"/>
<line x1="674.7" y1="2370.3" x2="674.7" y2="2374.8" stroke="#000" stroke-width="1.4"/>
<path d="M591 2147.1L590.9 2150.7L590.9 2154.2L590.9 2157.8L590.9 2161.3L590.9 2164.9L590.9 2168.5L590.8 2172L590.8 2175.6L590.8 2179.2L590.8 2182.7L590.7 2186.3L590.7 2189.8L590.7 2193.4L590.6 2197L590.6 2200.5L590.5 2204.1L590.5 2207.6L590.4 2211.2L590.4 2214.8L590.3 2218.3L590.1 2221.9L589.6 2225.5L589 2229L588.2 2232.6L587.2 2236.1L585.8 2239.7L584.2 2243.3L582.3 2246.8L580.1 2250.4L577.6 2253.9L574.8 2257.5L571.9 2261.1L568.8 2264.6L565.7 2268.2L562.7 2271.8L559.9 2275.3L557.6 2278.9L555.7 2282.4L554.4 2286L553.8 2289.6L553.9 2293.1L555.3 2296.7L557.3 2300.3L559.6 2303.8L562.8 2307.4L566.3 2310.9L570 2314.5L573.6 2318.1L577 2321.6L580 2325.2L582.6 2328.7L584.8 2332.3L586.5 2335.9L587.9 2339.4L588.9 2343L589.7 2346.6L590.2 2350.1L590.3 2353.7L590.4 2357.2L590.6 2360.8L591.8 2360.8L592 2357.2L592.1 2353.7L592.2 2350.1L592.7 2346.6L593.5 2343L594.5 2339.4L595.9 2335.9L597.6 2332.3L599.8 2328.7L602.4 2325.2L605.4 2321.6L608.8 2318.1L612.4 2314.5L616.1 2310.9L619.6 2307.4L622.8 2303.8L625.1 2300.3L627.1 2296.7L628.5 2293.1L628.6 2289.6L628 2286L626.7 2282.4L624.8 2278.9L622.5 2275.3L619.7 2271.8L616.7 2268.2L613.6 2264.6L610.5 2261.1L607.6 2257.5L604.8 2253.9L602.3 2250.4L600.1 2246.8L598.2 2243.3L596.6 2239.7L595.2 2236.1L594.2 2232.6L593.4 2229L592.8 2225.5L592.3 2221.9L592.1 2218.3L592 2214.8L592 2211.2L591.9 2207.6L591.9 2204.1L591.8 2200.5L591.8 2197L591.7 2193.4L591.7 2189.8L591.7 2186.3L591.6 2182.7L591.6 2179.2L591.6 2175.6L591.6 2172L591.5 2168.5L591.5 2164.9L591.5 2161.3L591.5 2157.8L591.5 2154.2L591.5 2150.7L591.4 2147.1Z" fill="#ec6e6e" stroke="#000" stroke-width="1.3" stroke-linejoin="round"/>
<line x1="572.2" y1="2288.5" x2="610.2" y2="2288.5" stroke="#000" stroke-width="8.6" stroke-linecap="round"/>
<path d="M674.1 2192.4L674.1 2195.1L674.1 2197.7L674 2200.4L674 2203.1L673.9 2205.7L673.9 2208.4L673.8 2211.1L673.8 2213.7L673.6 2216.4L673.3 2219.1L672.8 2221.7L672.3 2224.4L671.6 2227L670.8 2229.7L669.8 2232.4L668.7 2235L667.3 2237.7L665.8 2240.4L664.1 2243L662.2 2245.7L660.1 2248.4L657.9 2251L655.6 2253.7L653.2 2256.4L650.7 2259L648.3 2261.7L645.9 2264.4L643.7 2267L641.7 2269.7L640 2272.4L638.6 2275L637.6 2277.7L636.9 2280.3L636.7 2283L637.5 2285.7L638.9 2288.3L640.4 2291L641.9 2293.7L643.3 2296.3L644.8 2299L646.6 2301.7L649.1 2304.3L651.6 2307L654.2 2309.7L656.7 2312.3L659.1 2315L661.3 2317.7L663.4 2320.3L665.2 2323L666.9 2325.7L668.3 2328.3L669.5 2331L670.6 2333.6L671.5 2336.3L672.2 2339L672.8 2341.6L673.2 2344.3L673.6 2347L673.8 2349.6L674.1 2352.3L675.3 2352.3L675.6 2349.6L675.8 2347L676.2 2344.3L676.6 2341.6L677.2 2339L677.9 2336.3L678.8 2333.6L679.9 2331L681.1 2328.3L682.5 2325.7L684.2 2323L686 2320.3L688.1 2317.7L690.3 2315L692.7 2312.3L695.2 2309.7L697.8 2307L700.3 2304.3L702.8 2301.7L704.6 2299L706.1 2296.3L707.5 2293.7L709 2291L710.5 2288.3L711.9 2285.7L712.7 2283L712.5 2280.3L711.8 2277.7L710.8 2275L709.4 2272.4L707.7 2269.7L705.7 2267L703.5 2264.4L701.1 2261.7L698.7 2259L696.2 2256.4L693.8 2253.7L691.5 2251L689.3 2248.4L687.2 2245.7L685.3 2243L683.6 2240.4L682.1 2237.7L680.7 2235L679.6 2232.4L678.6 2229.7L677.8 2227L677.1 2224.4L676.6 2221.7L676.1 2219.1L675.8 2216.4L675.6 2213.7L675.6 2211.1L675.5 2208.4L675.5 2205.7L675.4 2203.1L675.4 2200.4L675.3 2197.7L675.3 2195.1L675.3 2192.4Z" fill="#5fd0c5" stroke="#000" stroke-width="1.3" stroke-linejoin="round"/>
<line x1="655.7" y1="2282.8" x2="693.7" y2="2282.8" stroke="#000" stroke-width="8.6" stroke-linecap="round"/>
<text x="380" y="2414" font-size="27.7" text-anchor="middle" font-weight="bold">HNF4/PPAR</text>
<line x1="284.9" y1="2419.7" x2="284.9" y2="2654.9" stroke="#000" stroke-width="1.6"/>
<line x1="284.1" y1="2654.9" x2="480.1" y2="2654.9" stroke="#000" stroke-width="1.6"/>
<line x1="280.4" y1="2477" x2="284.9" y2="2477" stroke="#000" stroke-width="1.4"/>
<text x="276.9" y="2484" font-size="19.9" text-anchor="end">3</text>
<line x1="280.4" y1="2539" x2="284.9" y2="2539" stroke="#000" stroke-width="1.4"/>
<text x="276.9" y="2546" font-size="19.9" text-anchor="end">0</text>
<line x1="280.4" y1="2601" x2="284.9" y2="2601" stroke="#000" stroke-width="1.4"/>
<text x="276.9" y="2608" font-size="19.9" text-anchor="end">−3</text>
<line x1="337.7" y1="2654.9" x2="337.7" y2="2659.4" stroke="#000" stroke-width="1.4"/>
<line x1="426.3" y1="2654.9" x2="426.3" y2="2659.4" stroke="#000" stroke-width="1.4"/>
<path d="M337.2 2430.6L337.2 2433.8L337.1 2437.1L337.1 2440.3L337 2443.6L337 2446.8L337 2450.1L336.9 2453.3L336.8 2456.5L336.8 2459.8L336.7 2463L336.4 2466.3L335.9 2469.5L335.3 2472.8L334.6 2476L333.6 2479.2L332.5 2482.5L331.1 2485.7L329.5 2489L327.6 2492.2L325.4 2495.5L323.1 2498.7L320.5 2502L317.7 2505.2L314.8 2508.4L311.9 2511.7L309.1 2514.9L306.3 2518.2L303.8 2521.4L301.7 2524.7L299.9 2527.9L298.6 2531.1L297.9 2534.4L297.7 2537.6L298.2 2540.9L299.4 2544.1L301.3 2547.4L303.6 2550.6L306.4 2553.8L309.5 2557.1L312.8 2560.3L316 2563.6L319.2 2566.8L322.2 2570.1L325 2573.3L327.4 2576.5L329.5 2579.8L331.3 2583L332.8 2586.3L334.1 2589.5L335 2592.8L335.8 2596L336.3 2599.3L336.7 2602.5L336.8 2605.7L336.9 2609L336.9 2612.2L337 2615.5L337 2618.7L337.1 2622L337.1 2625.2L338.3 2625.2L338.3 2622L338.4 2618.7L338.4 2615.5L338.5 2612.2L338.5 2609L338.6 2605.7L338.7 2602.5L339.1 2599.3L339.6 2596L340.4 2592.8L341.3 2589.5L342.6 2586.3L344.1 2583L345.9 2579.8L348 2576.5L350.4 2573.3L353.2 2570.1L356.2 2566.8L359.4 2563.6L362.6 2560.3L365.9 2557.1L369 2553.8L371.8 2550.6L374.1 2547.4L376 2544.1L377.2 2540.9L377.7 2537.6L377.5 2534.4L376.8 2531.1L375.5 2527.9L373.7 2524.7L371.6 2521.4L369.1 2518.2L366.3 2514.9L363.5 2511.7L360.6 2508.4L357.7 2505.2L354.9 2502L352.3 2498.7L350 2495.5L347.8 2492.2L345.9 2489L344.3 2485.7L342.9 2482.5L341.8 2479.2L340.8 2476L340.1 2472.8L339.5 2469.5L339 2466.3L338.7 2463L338.6 2459.8L338.6 2456.5L338.5 2453.3L338.4 2450.1L338.4 2446.8L338.4 2443.6L338.3 2440.3L338.3 2437.1L338.2 2433.8L338.2 2430.6Z" fill="#ec6e6e" stroke="#000" stroke-width="1.3" stroke-linejoin="round"/>
<line x1="317.7" y1="2535.3" x2="357.7" y2="2535.3" stroke="#000" stroke-width="8.6" stroke-linecap="round"/>
<path d="M425.7 2480L424.8 2482.7L424.3 2485.5L423.7 2488.2L423 2491L422.1 2493.7L421 2496.5L419.8 2499.2L418.4 2502L416.7 2504.7L414.9 2507.4L412.9 2510.2L410.7 2512.9L408.3 2515.7L405.9 2518.4L403.4 2521.2L401.5 2523.9L400 2526.7L398.5 2529.4L397 2532.2L395.5 2534.9L394 2537.6L392.5 2540.4L391 2543.1L389.5 2545.9L389 2548.6L389.6 2551.4L390.6 2554.1L391.9 2556.9L393.6 2559.6L395.5 2562.3L397.7 2565.1L399.9 2567.8L402.3 2570.6L404.7 2573.3L407.1 2576.1L409.4 2578.8L411.6 2581.6L413.6 2584.3L415.5 2587.1L417.2 2589.8L418.7 2592.5L420.1 2595.3L421.2 2598L422.2 2600.8L423.1 2603.5L423.7 2606.3L424.3 2609L424.8 2611.8L425.1 2614.5L425.4 2617.2L425.4 2620L425.5 2622.7L425.5 2625.5L425.6 2628.2L425.6 2631L425.7 2633.7L425.7 2636.5L425.7 2639.2L425.8 2642L425.8 2644.7L426.8 2644.7L426.8 2642L426.9 2639.2L426.9 2636.5L426.9 2633.7L427 2631L427 2628.2L427.1 2625.5L427.1 2622.7L427.2 2620L427.2 2617.2L427.5 2614.5L427.8 2611.8L428.3 2609L428.9 2606.3L429.5 2603.5L430.4 2600.8L431.4 2598L432.5 2595.3L433.9 2592.5L435.4 2589.8L437.1 2587.1L439 2584.3L441 2581.6L443.2 2578.8L445.5 2576.1L447.9 2573.3L450.3 2570.6L452.7 2567.8L454.9 2565.1L457.1 2562.3L459 2559.6L460.7 2556.9L462 2554.1L463 2551.4L463.6 2548.6L463.1 2545.9L461.6 2543.1L460.1 2540.4L458.6 2537.6L457.1 2534.9L455.6 2532.2L454.1 2529.4L452.6 2526.7L451.1 2523.9L449.2 2521.2L446.7 2518.4L444.3 2515.7L441.9 2512.9L439.7 2510.2L437.7 2507.4L435.9 2504.7L434.2 2502L432.8 2499.2L431.6 2496.5L430.5 2493.7L429.6 2491L428.9 2488.2L428.3 2485.5L427.8 2482.7L426.9 2480Z" fill="#5fd0c5" stroke="#000" stroke-width="1.3" stroke-linejoin="round"/>
<line x1="406.3" y1="2546.2" x2="446.3" y2="2546.2" stroke="#000" stroke-width="8.6" stroke-linecap="round"/>
<text x="637.2" y="2414" font-size="27.7" text-anchor="middle" font-weight="bold">NFI</text>
<line x1="541.1" y1="2419.7" x2="541.1" y2="2654.9" stroke="#000" stroke-width="1.6"/>
<line x1="540.3" y1="2654.9" x2="735.7" y2="2654.9" stroke="#000" stroke-width="1.6"/>
<line x1="536.6" y1="2427.2" x2="541.1" y2="2427.2" stroke="#000" stroke-width="1.4"/>
<text x="533.1" y="2434.2" font-size="19.9" text-anchor="end">6</text>
<line x1="536.6" y1="2471.5" x2="541.1" y2="2471.5" stroke="#000" stroke-width="1.4"/>
<text x="533.1" y="2478.5" font-size="19.9" text-anchor="end">4</text>
<line x1="536.6" y1="2515.8" x2="541.1" y2="2515.8" stroke="#000" stroke-width="1.4"/>
<text x="533.1" y="2522.8" font-size="19.9" text-anchor="end">2</text>
<line x1="536.6" y1="2560.1" x2="541.1" y2="2560.1" stroke="#000" stroke-width="1.4"/>
<text x="533.1" y="2567.1" font-size="19.9" text-anchor="end">0</text>
<line x1="536.6" y1="2604.8" x2="541.1" y2="2604.8" stroke="#000" stroke-width="1.4"/>
<text x="533.1" y="2611.8" font-size="19.9" text-anchor="end">−2</text>
<line x1="536.6" y1="2649.1" x2="541.1" y2="2649.1" stroke="#000" stroke-width="1.4"/>
<text x="533.1" y="2656.1" font-size="19.9" text-anchor="end">−4</text>
<line x1="593.9" y1="2654.9" x2="593.9" y2="2659.4" stroke="#000" stroke-width="1.4"/>
<line x1="682.2" y1="2654.9" x2="682.2" y2="2659.4" stroke="#000" stroke-width="1.4"/>
<path d="M593.3 2431.7L593.2 2435.3L593.2 2438.8L593.1 2442.4L593.1 2446L593 2449.5L593 2453.1L592.9 2456.7L592.6 2460.2L592.2 2463.8L591.6 2467.4L590.9 2470.9L590.1 2474.5L589.1 2478.1L587.9 2481.6L586.5 2485.2L584.9 2488.8L583 2492.3L581 2495.9L578.7 2499.5L576.3 2503L573.7 2506.6L571 2510.2L568.3 2513.7L565.7 2517.3L563.1 2520.9L560.7 2524.4L558.6 2528L556.8 2531.6L555.4 2535.1L554.4 2538.7L554 2542.3L554 2545.8L554.5 2549.4L555.6 2553L557.2 2556.5L559.3 2560.1L561.6 2563.7L564.3 2567.2L567.1 2570.8L569.9 2574.4L572.8 2577.9L575.6 2581.5L578.2 2585.1L580.7 2588.6L582.9 2592.2L584.9 2595.8L586.6 2599.3L588.1 2602.9L589.3 2606.5L590.4 2610L591.2 2613.6L591.9 2617.2L592.4 2620.7L592.8 2624.3L592.9 2627.9L593 2631.4L593.1 2635L593.1 2638.6L593.2 2642.1L593.3 2645.7L594.5 2645.7L594.6 2642.1L594.7 2638.6L594.7 2635L594.8 2631.4L594.9 2627.9L595 2624.3L595.4 2620.7L595.9 2617.2L596.6 2613.6L597.4 2610L598.5 2606.5L599.7 2602.9L601.2 2599.3L602.9 2595.8L604.9 2592.2L607.1 2588.6L609.6 2585.1L612.2 2581.5L615 2577.9L617.9 2574.4L620.7 2570.8L623.5 2567.2L626.2 2563.7L628.5 2560.1L630.6 2556.5L632.2 2553L633.3 2549.4L633.8 2545.8L633.8 2542.3L633.4 2538.7L632.4 2535.1L631 2531.6L629.2 2528L627.1 2524.4L624.7 2520.9L622.1 2517.3L619.5 2513.7L616.8 2510.2L614.1 2506.6L611.5 2503L609.1 2499.5L606.8 2495.9L604.8 2492.3L602.9 2488.8L601.3 2485.2L599.9 2481.6L598.7 2478.1L597.7 2474.5L596.9 2470.9L596.2 2467.4L595.6 2463.8L595.2 2460.2L594.9 2456.7L594.8 2453.1L594.8 2449.5L594.7 2446L594.7 2442.4L594.6 2438.8L594.6 2435.3L594.5 2431.7Z" fill="#ec6e6e" stroke="#000" stroke-width="1.3" stroke-linejoin="round"/>
<line x1="573.9" y1="2541.1" x2="613.9" y2="2541.1" stroke="#000" stroke-width="8.6" stroke-linecap="round"/>
<path d="M681.6 2456.2L681.3 2459L681.2 2461.9L681.2 2464.7L680.9 2467.6L680.6 2470.4L680.3 2473.3L679.8 2476.1L679.3 2479L678.7 2481.8L678 2484.7L677.2 2487.5L676.3 2490.4L675.3 2493.2L674.2 2496.1L672.9 2498.9L671.5 2501.7L670 2504.6L668.4 2507.4L666.6 2510.3L664.8 2513.1L662.9 2516L660.9 2518.8L658.9 2521.7L656.9 2524.5L654.8 2527.4L652.9 2530.2L651 2533.1L649.2 2535.9L647.6 2538.8L646.1 2541.6L644.8 2544.4L643.8 2547.3L643 2550.1L642.5 2553L642.5 2555.8L644 2558.7L645.6 2561.5L647.2 2564.4L648.7 2567.2L650.3 2570.1L651.9 2572.9L653.4 2575.8L655 2578.6L656.5 2581.5L659.2 2584.3L661.8 2587.1L664.3 2590L666.7 2592.8L669 2595.7L671 2598.5L672.9 2601.4L674.5 2604.2L675.9 2607.1L677.2 2609.9L678.2 2612.8L679 2615.6L679.8 2618.5L680.3 2621.3L680.8 2624.2L681.6 2627L682.8 2627L683.6 2624.2L684.1 2621.3L684.6 2618.5L685.4 2615.6L686.2 2612.8L687.2 2609.9L688.5 2607.1L689.9 2604.2L691.5 2601.4L693.4 2598.5L695.4 2595.7L697.7 2592.8L700.1 2590L702.6 2587.1L705.2 2584.3L707.9 2581.5L709.4 2578.6L711 2575.8L712.5 2572.9L714.1 2570.1L715.7 2567.2L717.2 2564.4L718.8 2561.5L720.4 2558.7L721.9 2555.8L721.9 2553L721.4 2550.1L720.6 2547.3L719.6 2544.4L718.3 2541.6L716.8 2538.8L715.2 2535.9L713.4 2533.1L711.5 2530.2L709.6 2527.4L707.5 2524.5L705.5 2521.7L703.5 2518.8L701.5 2516L699.6 2513.1L697.8 2510.3L696 2507.4L694.4 2504.6L692.9 2501.7L691.5 2498.9L690.2 2496.1L689.1 2493.2L688.1 2490.4L687.2 2487.5L686.4 2484.7L685.7 2481.8L685.1 2479L684.6 2476.1L684.1 2473.3L683.8 2470.4L683.5 2467.6L683.2 2464.7L683.2 2461.9L683.1 2459L682.8 2456.2Z" fill="#5fd0c5" stroke="#000" stroke-width="1.3" stroke-linejoin="round"/>
<line x1="662.2" y1="2551.6" x2="702.2" y2="2551.6" stroke="#000" stroke-width="8.6" stroke-linecap="round"/>
<text x="336.7" y="2680.5" font-size="20.7" text-anchor="middle">Other</text>
<text x="336.7" y="2705" font-size="20.7" text-anchor="middle">cells</text>
<text x="588.5" y="2684" font-size="20.7" text-anchor="middle">Other</text>
<text x="588.5" y="2708.5" font-size="20.7" text-anchor="middle">cells</text>
<text x="424.3" y="2680.5" font-size="20.7" text-anchor="middle">AP-1 high</text>
<text x="425.3" y="2705" font-size="20.7" text-anchor="middle">cells</text>
<text x="676" y="2684" font-size="20.7" text-anchor="middle">AP-1 high</text>
<text x="677" y="2708.5" font-size="20.7" text-anchor="middle">cells</text>
</g>
<g id="pl">
<text x="798.5" y="2102.8" font-size="39.5" font-weight="bold">l</text>
<text x="1086.8" y="2109.3" font-size="26.2" text-anchor="middle" font-weight="bold">Fos Protein</text>
<text x="843.8" y="2154.9" font-size="20.7">p-value:</text>
<text x="961" y="2154.9" font-size="20.7" text-anchor="middle">n/a</text>
<text x="1024.5" y="2154.9" font-size="20.7" text-anchor="middle">n/a</text>
<text x="1086" y="2154.9" font-size="20.7" text-anchor="middle">0.011</text>
<text x="1149.4" y="2154.9" font-size="20.7" text-anchor="middle">0.3</text>
<text x="1212.8" y="2154.9" font-size="20.7" text-anchor="middle">n/a</text>
<text x="1273.6" y="2154.9" font-size="20.7" text-anchor="middle">0.2</text>
<line x1="863.5" y1="2177.5" x2="863.5" y2="2598.3" stroke="#000" stroke-width="1.8"/>
<line x1="862.6" y1="2598.3" x2="1310.8" y2="2598.3" stroke="#000" stroke-width="1.8"/>
<line x1="858.5" y1="2264.9" x2="863.5" y2="2264.9" stroke="#000" stroke-width="1.5"/>
<text x="854.5" y="2272.4" font-size="21.5" text-anchor="end">75</text>
<line x1="858.5" y1="2369.8" x2="863.5" y2="2369.8" stroke="#000" stroke-width="1.5"/>
<text x="854.5" y="2377.3" font-size="21.5" text-anchor="end">50</text>
<line x1="858.5" y1="2474.8" x2="863.5" y2="2474.8" stroke="#000" stroke-width="1.5"/>
<text x="854.5" y="2482.3" font-size="21.5" text-anchor="end">25</text>
<line x1="858.5" y1="2579.3" x2="863.5" y2="2579.3" stroke="#000" stroke-width="1.5"/>
<text x="854.5" y="2586.8" font-size="21.5" text-anchor="end">0</text>
<line x1="900.3" y1="2598.3" x2="900.3" y2="2603.8" stroke="#000" stroke-width="1.5"/>
<line x1="962.5" y1="2598.3" x2="962.5" y2="2603.8" stroke="#000" stroke-width="1.5"/>
<line x1="1024.8" y1="2598.3" x2="1024.8" y2="2603.8" stroke="#000" stroke-width="1.5"/>
<line x1="1087.1" y1="2598.3" x2="1087.1" y2="2603.8" stroke="#000" stroke-width="1.5"/>
<line x1="1149.4" y1="2598.3" x2="1149.4" y2="2603.8" stroke="#000" stroke-width="1.5"/>
<line x1="1211.7" y1="2598.3" x2="1211.7" y2="2603.8" stroke="#000" stroke-width="1.5"/>
<line x1="1273.6" y1="2598.3" x2="1273.6" y2="2603.8" stroke="#000" stroke-width="1.5"/>
<text font-size="27.7" text-anchor="middle" transform="translate(818.5 2392.4) rotate(-90)">Fos+Cd44+ / Total Cd44+ (%)</text>
<line x1="878.1" y1="2580.3" x2="922.4" y2="2580.3" stroke="#000" stroke-width="3.4"/>
<rect x="940" y="2419" width="45.1" height="161.3" fill="#999999" stroke="#000" stroke-width="3.3"/>
<rect x="1002.2" y="2260.6" width="45.6" height="319.7" fill="#999999" stroke="#000" stroke-width="3.3"/>
<rect x="1064.2" y="2510.1" width="45.5" height="70.2" fill="#999999" stroke="#000" stroke-width="3.3"/>
<rect x="1126.1" y="2576.2" width="45.9" height="4.1" fill="#999999" stroke="#000" stroke-width="3.3"/>
<rect x="1188.8" y="2577.5" width="45.5" height="2.8" fill="#999999" stroke="#000" stroke-width="3.3"/>
<rect x="1250.7" y="2570.2" width="45.9" height="10.1" fill="#999999" stroke="#000" stroke-width="3.3"/>
<line x1="1087.1" y1="2495.2" x2="1087.1" y2="2510" stroke="#000" stroke-width="3.6"/>
<line x1="1083.1" y1="2495.2" x2="1091.1" y2="2495.2" stroke="#000" stroke-width="2.8"/>
<line x1="1083.1" y1="2510" x2="1091.1" y2="2510" stroke="#000" stroke-width="2.8"/>
<line x1="1273.6" y1="2562.6" x2="1273.6" y2="2570" stroke="#000" stroke-width="3.6"/>
<line x1="1269.6" y1="2562.6" x2="1277.6" y2="2562.6" stroke="#000" stroke-width="2.8"/>
<line x1="1269.6" y1="2570" x2="1277.6" y2="2570" stroke="#000" stroke-width="2.8"/>
<circle cx="895" cy="2579.5" r="5.6" fill="#000"/>
<circle cx="900" cy="2579.5" r="5.6" fill="#000"/>
<circle cx="905" cy="2579.5" r="5.6" fill="#000"/>
<circle cx="962.5" cy="2395" r="5.6" fill="#000"/>
<circle cx="962.5" cy="2444.2" r="5.6" fill="#000"/>
<circle cx="1024.8" cy="2196.4" r="5.6" fill="#000"/>
<circle cx="1024.8" cy="2326.9" r="5.6" fill="#000"/>
<circle cx="1087.1" cy="2480.2" r="5.6" fill="#000"/>
<circle cx="1087.1" cy="2527.2" r="5.6" fill="#000"/>
<circle cx="1089.7" cy="2525.4" r="5.6" fill="#000"/>
<circle cx="1149.4" cy="2573.8" r="5.6" fill="#000"/>
<circle cx="1149.4" cy="2579.3" r="5.6" fill="#000"/>
<circle cx="1213.6" cy="2576.8" r="5.6" fill="#000"/>
<circle cx="1211" cy="2579" r="5.6" fill="#000"/>
<circle cx="1273.6" cy="2545.8" r="5.6" fill="#000"/>
<circle cx="1270" cy="2578.2" r="5.6" fill="#000"/>
<circle cx="1278" cy="2579.3" r="5.6" fill="#000"/>
<circle cx="1273.6" cy="2580" r="5.6" fill="#000"/>
<text font-size="20.7" text-anchor="end" transform="translate(909.3 2618.3) rotate(-45)">Control</text>
<text font-size="20.7" text-anchor="end" transform="translate(971.5 2618.3) rotate(-45)">Acute</text>
<text font-size="20.7" text-anchor="end" transform="translate(1033.8 2618.3) rotate(-45)">Chronic</text>
<text font-size="20.7" text-anchor="end" transform="translate(1096.1 2618.3) rotate(-45)">Recovered</text>
<text x="1149.4" y="2630" font-size="20.7" text-anchor="middle">50</text>
<text x="1211.7" y="2630" font-size="20.7" text-anchor="middle">79</text>
<text x="1273.6" y="2630" font-size="20.7" text-anchor="middle">102</text>
<line x1="1148.7" y1="2640.9" x2="1273.6" y2="2640.9" stroke="#000" stroke-width="1.5"/>
<text x="1210.6" y="2663.8" font-size="20.7" text-anchor="middle">Days after DSS</text>
<text x="1211.6" y="2690" font-size="20.7" text-anchor="middle">withdrawal</text>
</g>
<g id="pm">
<text x="1401" y="2103.2" font-size="39.5" font-weight="bold">m</text>
<text x="1699.8" y="2113.4" font-size="26.2" text-anchor="middle" font-weight="bold">AP-1 Chromatin</text>
<text x="1458.3" y="2158.5" font-size="20.7">p-value:</text>
<text x="1574.9" y="2158.5" font-size="20.7" text-anchor="middle">0.56</text>
<text x="1631.1" y="2158.5" font-size="20.7" text-anchor="middle">0.15</text>
<text x="1694.5" y="2158.5" font-size="20.7" text-anchor="middle">0.001</text>
<text x="1761.4" y="2158.5" font-size="20.7" text-anchor="middle">n/a</text>
<text x="1824.3" y="2158.5" font-size="20.7" text-anchor="middle">n/a</text>
<text x="1884.5" y="2158.5" font-size="20.7" text-anchor="middle">0.03</text>
<line x1="1474.3" y1="2188.7" x2="1474.3" y2="2600.7" stroke="#000" stroke-width="1.8"/>
<line x1="1473.4" y1="2600.7" x2="1923.5" y2="2600.7" stroke="#000" stroke-width="1.8"/>
<line x1="1469.3" y1="2200.6" x2="1474.3" y2="2200.6" stroke="#000" stroke-width="1.5"/>
<text x="1465.3" y="2208.1" font-size="21.5" text-anchor="end">1.5</text>
<line x1="1469.3" y1="2285.2" x2="1474.3" y2="2285.2" stroke="#000" stroke-width="1.5"/>
<text x="1465.3" y="2292.7" font-size="21.5" text-anchor="end">1.0</text>
<line x1="1469.3" y1="2369.9" x2="1474.3" y2="2369.9" stroke="#000" stroke-width="1.5"/>
<text x="1465.3" y="2377.4" font-size="21.5" text-anchor="end">0.5</text>
<line x1="1469.3" y1="2454.5" x2="1474.3" y2="2454.5" stroke="#000" stroke-width="1.5"/>
<text x="1465.3" y="2462" font-size="21.5" text-anchor="end">0.0</text>
<line x1="1469.3" y1="2539.5" x2="1474.3" y2="2539.5" stroke="#000" stroke-width="1.5"/>
<text x="1465.3" y="2547" font-size="21.5" text-anchor="end">−0.5</text>
<line x1="1511.1" y1="2600.7" x2="1511.1" y2="2606.2" stroke="#000" stroke-width="1.5"/>
<line x1="1573.5" y1="2600.7" x2="1573.5" y2="2606.2" stroke="#000" stroke-width="1.5"/>
<line x1="1636" y1="2600.7" x2="1636" y2="2606.2" stroke="#000" stroke-width="1.5"/>
<line x1="1698.5" y1="2600.7" x2="1698.5" y2="2606.2" stroke="#000" stroke-width="1.5"/>
<line x1="1760.9" y1="2600.7" x2="1760.9" y2="2606.2" stroke="#000" stroke-width="1.5"/>
<line x1="1823.4" y1="2600.7" x2="1823.4" y2="2606.2" stroke="#000" stroke-width="1.5"/>
<line x1="1885.9" y1="2600.7" x2="1885.9" y2="2606.2" stroke="#000" stroke-width="1.5"/>
<text font-size="27.7" text-anchor="middle" transform="translate(1414.5 2395.6) rotate(-90)">Change in motif accessibility</text>
<line x1="1488.4" y1="2454.5" x2="1533.8" y2="2454.5" stroke="#000" stroke-width="3.4"/>
<line x1="1549.5" y1="2454.5" x2="1598.9" y2="2454.5" stroke="#000" stroke-width="3.4"/>
<rect x="1613.4" y="2393.3" width="45.6" height="61.2" fill="#999999" stroke="#000" stroke-width="3.3"/>
<rect x="1675.9" y="2314.9" width="46.1" height="139.6" fill="#999999" stroke="#000" stroke-width="3.3"/>
<rect x="1738.8" y="2334.4" width="45.6" height="120.1" fill="#999999" stroke="#000" stroke-width="3.3"/>
<rect x="1801.2" y="2372.1" width="45.2" height="82.4" fill="#999999" stroke="#000" stroke-width="3.3"/>
<rect x="1863.3" y="2360.1" width="46.1" height="94.4" fill="#999999" stroke="#000" stroke-width="3.3"/>
<line x1="1474.3" y1="2454.5" x2="1921.5" y2="2454.5" stroke="#000" stroke-width="1.6"/>
<line x1="1573.5" y1="2441.2" x2="1573.5" y2="2475.3" stroke="#000" stroke-width="3.6"/>
<line x1="1569.5" y1="2441.2" x2="1577.5" y2="2441.2" stroke="#000" stroke-width="2.8"/>
<line x1="1569.5" y1="2475.3" x2="1577.5" y2="2475.3" stroke="#000" stroke-width="2.8"/>
<line x1="1636" y1="2365.9" x2="1636" y2="2422.1" stroke="#000" stroke-width="3.6"/>
<line x1="1632" y1="2365.9" x2="1640" y2="2365.9" stroke="#000" stroke-width="2.8"/>
<line x1="1632" y1="2422.1" x2="1640" y2="2422.1" stroke="#000" stroke-width="2.8"/>
<line x1="1698.5" y1="2300.3" x2="1698.5" y2="2329" stroke="#000" stroke-width="3.6"/>
<line x1="1694.5" y1="2300.3" x2="1702.5" y2="2300.3" stroke="#000" stroke-width="2.8"/>
<line x1="1694.5" y1="2329" x2="1702.5" y2="2329" stroke="#000" stroke-width="2.8"/>
<line x1="1885.9" y1="2308.3" x2="1885.9" y2="2412.4" stroke="#000" stroke-width="3.6"/>
<line x1="1881.9" y1="2308.3" x2="1889.9" y2="2308.3" stroke="#000" stroke-width="2.8"/>
<line x1="1881.9" y1="2412.4" x2="1889.9" y2="2412.4" stroke="#000" stroke-width="2.8"/>
<circle cx="1511.1" cy="2355.2" r="5.6" fill="#000"/>
<circle cx="1511.1" cy="2374.7" r="5.6" fill="#000"/>
<circle cx="1511.1" cy="2403.5" r="5.6" fill="#000"/>
<circle cx="1511.1" cy="2416.4" r="5.6" fill="#000"/>
<circle cx="1511.1" cy="2423" r="5.6" fill="#000"/>
<circle cx="1511.1" cy="2436.3" r="5.6" fill="#000"/>
<circle cx="1511.1" cy="2444.3" r="5.6" fill="#000"/>
<circle cx="1511.1" cy="2454.5" r="5.6" fill="#000"/>
<circle cx="1511.1" cy="2464.2" r="5.6" fill="#000"/>
<circle cx="1511.1" cy="2470.9" r="5.6" fill="#000"/>
<circle cx="1511.1" cy="2492.1" r="5.6" fill="#000"/>
<circle cx="1512.6" cy="2495.2" r="5.6" fill="#000"/>
<circle cx="1511.1" cy="2555.9" r="5.6" fill="#000"/>
<circle cx="1511.1" cy="2581.6" r="5.6" fill="#000"/>
<circle cx="1573.5" cy="2412" r="5.6" fill="#000"/>
<circle cx="1573.5" cy="2441.2" r="5.6" fill="#000"/>
<circle cx="1573.5" cy="2475.3" r="5.6" fill="#000"/>
<circle cx="1573.5" cy="2492.1" r="5.6" fill="#000"/>
<circle cx="1636" cy="2327.8" r="5.6" fill="#000"/>
<circle cx="1636" cy="2334" r="5.6" fill="#000"/>
<circle cx="1636" cy="2401.3" r="5.6" fill="#000"/>
<circle cx="1636" cy="2443" r="5.6" fill="#000"/>
<circle cx="1636" cy="2465.6" r="5.6" fill="#000"/>
<circle cx="1698.5" cy="2279.5" r="5.6" fill="#000"/>
<circle cx="1698.5" cy="2283.5" r="5.6" fill="#000"/>
<circle cx="1696" cy="2327.3" r="5.6" fill="#000"/>
<circle cx="1702" cy="2327.3" r="5.6" fill="#000"/>
<circle cx="1698.5" cy="2361.9" r="5.6" fill="#000"/>
<circle cx="1760.9" cy="2272.8" r="5.6" fill="#000"/>
<circle cx="1760.9" cy="2397.3" r="5.6" fill="#000"/>
<circle cx="1823.4" cy="2365.4" r="5.6" fill="#000"/>
<circle cx="1823.4" cy="2380.5" r="5.6" fill="#000"/>
<circle cx="1885.9" cy="2206.8" r="5.6" fill="#000"/>
<circle cx="1883" cy="2404" r="5.6" fill="#000"/>
<circle cx="1890.5" cy="2404" r="5.6" fill="#000"/>
<circle cx="1885.9" cy="2427" r="5.6" fill="#000"/>
<text font-size="20.7" text-anchor="end" transform="translate(1525.1 2621.7) rotate(-45)">Control</text>
<text font-size="20.7" text-anchor="end" transform="translate(1587.5 2621.7) rotate(-45)">Acute</text>
<text font-size="20.7" text-anchor="end" transform="translate(1650 2621.7) rotate(-45)">Chronic</text>
<text font-size="20.7" text-anchor="end" transform="translate(1712.5 2621.7) rotate(-45)">Recovered</text>
<text x="1765.4" y="2633.9" font-size="20.7" text-anchor="middle">50</text>
<text x="1827.9" y="2633.9" font-size="20.7" text-anchor="middle">79</text>
<text x="1886.9" y="2633.9" font-size="20.7" text-anchor="middle">102</text>
<line x1="1764" y1="2643.7" x2="1888.5" y2="2643.7" stroke="#000" stroke-width="1.5"/>
<text x="1825.2" y="2667.1" font-size="20.7" text-anchor="middle">Days after DSS</text>
<text x="1826.2" y="2692.4" font-size="20.7" text-anchor="middle">withdrawal</text>
</g>
</svg>
</body></html>
